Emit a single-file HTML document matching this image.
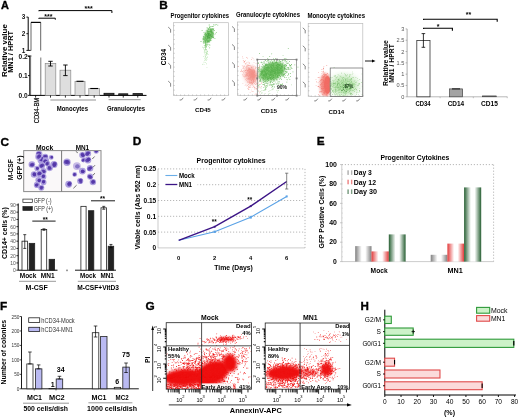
<!DOCTYPE html>
<html><head><meta charset="utf-8"><style>
html,body{margin:0;padding:0;background:#fff;overflow:hidden;}
svg{display:block;filter:blur(0.3px);}
text{font-family:"Liberation Sans",sans-serif;}
</style></head><body>
<svg width="520" height="418" viewBox="0 0 520 418">
<rect width="520" height="418" fill="#fff"/>
<defs><clipPath id="clip0"><rect x="173.6" y="22.7" width="54.80000000000001" height="72.89999999999999"/></clipPath><clipPath id="clip1"><rect x="237.4" y="22.0" width="63.20000000000002" height="73.6"/></clipPath><clipPath id="clip2"><rect x="257.6" y="22.0" width="43.0" height="73.6"/></clipPath><clipPath id="clip3"><rect x="308.2" y="23.4" width="22.0" height="73.1"/></clipPath><clipPath id="clip4"><rect x="329.6" y="23.4" width="33.19999999999999" height="73.1"/></clipPath><clipPath id="clip5"><rect x="24.2" y="151.1" width="76.3" height="40.0"/></clipPath><clipPath id="clip6"><rect x="166.2" y="322.7" width="85.30000000000001" height="66.5"/></clipPath><clipPath id="clip7"><rect x="265.2" y="323.0" width="84.30000000000001" height="66.19999999999999"/></clipPath><filter id="b0_4" x="-50%" y="-50%" width="200%" height="200%"><feGaussianBlur stdDeviation="0.4"/></filter><filter id="b0_6" x="-50%" y="-50%" width="200%" height="200%"><feGaussianBlur stdDeviation="0.6"/></filter><filter id="b0_8" x="-50%" y="-50%" width="200%" height="200%"><feGaussianBlur stdDeviation="0.8"/></filter><filter id="b1" x="-50%" y="-50%" width="200%" height="200%"><feGaussianBlur stdDeviation="1"/></filter><filter id="b1_5" x="-50%" y="-50%" width="200%" height="200%"><feGaussianBlur stdDeviation="1.5"/></filter><filter id="b2" x="-50%" y="-50%" width="200%" height="200%"><feGaussianBlur stdDeviation="2"/></filter><filter id="b3" x="-50%" y="-50%" width="200%" height="200%"><feGaussianBlur stdDeviation="3"/></filter><linearGradient id="gGray" x1="0" x2="1" y1="0" y2="0"><stop offset="0" stop-color="#808080"/><stop offset="0.4" stop-color="#ffffff"/><stop offset="0.62" stop-color="#ffffff"/><stop offset="1" stop-color="#808080"/></linearGradient><linearGradient id="gRed" x1="0" x2="1" y1="0" y2="0"><stop offset="0" stop-color="#e23a3a"/><stop offset="0.4" stop-color="#ffffff"/><stop offset="0.62" stop-color="#ffffff"/><stop offset="1" stop-color="#e23a3a"/></linearGradient><linearGradient id="gGreen" x1="0" x2="1" y1="0" y2="0"><stop offset="0" stop-color="#275f33"/><stop offset="0.4" stop-color="#ffffff"/><stop offset="0.62" stop-color="#ffffff"/><stop offset="1" stop-color="#275f33"/></linearGradient></defs>
<text x="1.0" y="8.9" font-size="11.6" font-weight="bold" text-anchor="start" fill="#000" textLength="7.9" lengthAdjust="spacingAndGlyphs" stroke="#000" stroke-width="0.35">A</text>
<path d="M38.8 11.2V10.6H111.9V13.0" fill="none" stroke="#000" stroke-width="1"/>
<text x="88.6" y="10.8" font-size="7" font-weight="bold" text-anchor="middle" fill="#000">***</text>
<path d="M38.8 18.8V18.2H55.3V19.7" fill="none" stroke="#000" stroke-width="1"/>
<text x="48.3" y="18.7" font-size="7" font-weight="bold" text-anchor="middle" fill="#000">***</text>
<line x1="28.2" y1="17.1" x2="28.2" y2="50.6" stroke="#000" stroke-width="1"/>
<line x1="26.4" y1="17.1" x2="28.2" y2="17.1" stroke="#000" stroke-width="0.9"/>
<text x="25.4" y="19.400000000000002" font-size="6.4" font-weight="bold" text-anchor="end" fill="#111">3</text>
<line x1="26.4" y1="33.7" x2="28.2" y2="33.7" stroke="#000" stroke-width="0.9"/>
<text x="25.4" y="36.0" font-size="6.4" font-weight="bold" text-anchor="end" fill="#111">2</text>
<line x1="26.4" y1="50.4" x2="28.2" y2="50.4" stroke="#000" stroke-width="0.9"/>
<text x="25.4" y="52.699999999999996" font-size="6.4" font-weight="bold" text-anchor="end" fill="#111">1</text>
<line x1="28.2" y1="50.4" x2="30.8" y2="50.4" stroke="#000" stroke-width="0.9"/>
<line x1="29.8" y1="56.0" x2="29.8" y2="95.4" stroke="#000" stroke-width="1"/>
<line x1="27.6" y1="56.0" x2="31.4" y2="56.0" stroke="#000" stroke-width="0.9"/>
<line x1="28" y1="56.3" x2="29.8" y2="56.3" stroke="#000" stroke-width="0.9"/>
<text x="27.8" y="58.599999999999994" font-size="6.4" font-weight="bold" text-anchor="end" fill="#111" textLength="9.2" lengthAdjust="spacingAndGlyphs">0.2</text>
<line x1="28" y1="75.6" x2="29.8" y2="75.6" stroke="#000" stroke-width="0.9"/>
<text x="27.8" y="77.89999999999999" font-size="6.4" font-weight="bold" text-anchor="end" fill="#111" textLength="9.2" lengthAdjust="spacingAndGlyphs">0.1</text>
<line x1="28" y1="95.4" x2="29.8" y2="95.4" stroke="#000" stroke-width="0.9"/>
<text x="27.8" y="97.7" font-size="6.4" font-weight="bold" text-anchor="end" fill="#111" textLength="9.2" lengthAdjust="spacingAndGlyphs">0.0</text>
<path d="M31 50.6V22.4H40.7V50.6" fill="none" stroke="#555" stroke-width="0.9"/>
<line x1="31" y1="22.4" x2="40.7" y2="22.4" stroke="#000" stroke-width="1.1"/>
<path d="M30.6 95.4V56.5M40.8 57.5V95.4" fill="none" stroke="#666" stroke-width="0.9"/>
<line x1="29.8" y1="95.4" x2="146.5" y2="95.4" stroke="#000" stroke-width="1"/>
<rect x="45.2" y="63.5" width="10.599999999999994" height="31.900000000000006" fill="#dedede" stroke="#8a8a8a" stroke-width="0.7"/>
<line x1="50.5" y1="61.3" x2="50.5" y2="66.0" stroke="#000" stroke-width="0.9"/>
<line x1="48.3" y1="61.3" x2="52.7" y2="61.3" stroke="#000" stroke-width="0.9"/>
<line x1="48.3" y1="66.0" x2="52.7" y2="66.0" stroke="#000" stroke-width="0.9"/>
<line x1="50.5" y1="95.4" x2="50.5" y2="97.6" stroke="#000" stroke-width="0.8"/>
<rect x="60.0" y="70.2" width="10.799999999999997" height="25.200000000000003" fill="#dedede" stroke="#8a8a8a" stroke-width="0.7"/>
<line x1="65.4" y1="65.0" x2="65.4" y2="75.6" stroke="#000" stroke-width="0.9"/>
<line x1="63.2" y1="65.0" x2="67.60000000000001" y2="65.0" stroke="#000" stroke-width="0.9"/>
<line x1="63.2" y1="75.6" x2="67.60000000000001" y2="75.6" stroke="#000" stroke-width="0.9"/>
<line x1="65.4" y1="95.4" x2="65.4" y2="97.6" stroke="#000" stroke-width="0.8"/>
<rect x="75.0" y="81.3" width="10.0" height="14.100000000000009" fill="#dedede" stroke="#8a8a8a" stroke-width="0.7"/>
<line x1="76.5" y1="81.3" x2="83.5" y2="81.3" stroke="#000" stroke-width="1.1"/>
<line x1="80.0" y1="95.4" x2="80.0" y2="97.6" stroke="#000" stroke-width="0.8"/>
<rect x="88.8" y="88.5" width="10.799999999999997" height="6.900000000000006" fill="#dedede" stroke="#8a8a8a" stroke-width="0.7"/>
<line x1="90.3" y1="88.5" x2="98.1" y2="88.5" stroke="#000" stroke-width="1.1"/>
<line x1="94.19999999999999" y1="95.4" x2="94.19999999999999" y2="97.6" stroke="#000" stroke-width="0.8"/>
<rect x="104.0" y="93.3" width="10.0" height="2.1000000000000085" fill="#333" stroke="#111" stroke-width="0.8"/>
<line x1="109.0" y1="95.4" x2="109.0" y2="97.6" stroke="#000" stroke-width="0.8"/>
<rect x="118.7" y="93.8" width="9.099999999999994" height="1.6000000000000085" fill="#333" stroke="#111" stroke-width="0.8"/>
<line x1="123.25" y1="95.4" x2="123.25" y2="97.6" stroke="#000" stroke-width="0.8"/>
<rect x="133.0" y="93.6" width="9.5" height="1.8000000000000114" fill="#333" stroke="#111" stroke-width="0.8"/>
<line x1="137.75" y1="95.4" x2="137.75" y2="97.6" stroke="#000" stroke-width="0.8"/>
<line x1="35.6" y1="95.4" x2="35.6" y2="97.6" stroke="#000" stroke-width="0.8"/>
<line x1="50.4" y1="100.0" x2="96.0" y2="100.0" stroke="#666" stroke-width="0.7"/>
<line x1="108.6" y1="99.7" x2="140.7" y2="99.7" stroke="#666" stroke-width="0.7"/>
<text x="56.7" y="110.5" font-size="6.5" font-weight="bold" text-anchor="start" fill="#000" textLength="31.3" lengthAdjust="spacingAndGlyphs">Monocytes</text>
<text x="107.0" y="111.3" font-size="6.5" font-weight="bold" text-anchor="start" fill="#000" textLength="38" lengthAdjust="spacingAndGlyphs">Granulocytes</text>
<text x="39.3" y="123.3" font-size="7.0" font-weight="normal" text-anchor="start" fill="#000" textLength="25.4" lengthAdjust="spacingAndGlyphs" transform="rotate(-90 39.3 123.3)" stroke="#000" stroke-width="0.2">CD34-BM</text>
<text x="7.0" y="77" font-size="7.6" font-weight="bold" text-anchor="start" fill="#000" textLength="52.8" lengthAdjust="spacingAndGlyphs" transform="rotate(-90 7.0 77)">Relative value</text>
<text x="13.4" y="72.8" font-size="7.6" font-weight="bold" text-anchor="start" fill="#000" textLength="41.9" lengthAdjust="spacingAndGlyphs" transform="rotate(-90 13.4 72.8)">MN1 / HPRT</text>
<text x="159.2" y="9.1" font-size="11.8" font-weight="bold" text-anchor="start" fill="#000" stroke="#000" stroke-width="0.35">B</text>
<rect x="173.6" y="22.7" width="54.80000000000001" height="72.89999999999999" fill="#fff" stroke="#bbb" stroke-width="0.7"/>
<path d="M168.2 27.1l2.4 2.2v3.4M168.2 45.1l2.4 2.2v3.4M168.2 63.1l2.4 2.2v3.4M168.2 81.1l2.4 2.2v3.4M183.2 97.8l-1.8 2.2h-1.8M197.2 97.8l-1.8 2.2h-1.8M211.2 97.8l-1.8 2.2h-1.8M225.2 97.8l-1.8 2.2h-1.8" fill="none" stroke="#555" stroke-width="0.7"/>
<path d="M173.6 25.7h1.2M173.6 30.3h1.2M173.6 34.9h1.2M173.6 39.5h1.2M173.6 44.1h1.2M173.6 48.7h1.2M173.6 53.3h1.2M173.6 57.9h1.2M173.6 62.5h1.2M173.6 67.1h1.2M173.6 71.7h1.2M173.6 76.3h1.2M173.6 80.9h1.2M173.6 85.5h1.2M173.6 90.1h1.2M173.6 94.7h1.2M176.6 95.6v-1.2M180.6 95.6v-1.2M184.6 95.6v-1.2M188.6 95.6v-1.2M192.6 95.6v-1.2M196.6 95.6v-1.2M200.6 95.6v-1.2M204.6 95.6v-1.2M208.6 95.6v-1.2M212.6 95.6v-1.2M216.6 95.6v-1.2M220.6 95.6v-1.2M224.6 95.6v-1.2M228.6 95.6v-1.2" fill="none" stroke="#888" stroke-width="0.4"/>
<text x="170.5" y="17.6" font-size="6.3" font-weight="bold" text-anchor="start" fill="#000" textLength="58.5" lengthAdjust="spacingAndGlyphs">Progenitor cytokines</text>
<text x="195.0" y="111.6" font-size="6.2" font-weight="bold" text-anchor="start" fill="#000" textLength="15.8" lengthAdjust="spacingAndGlyphs">CD45</text>
<text x="165.6" y="65.2" font-size="7.2" font-weight="bold" text-anchor="start" fill="#000" textLength="16.3" lengthAdjust="spacingAndGlyphs" transform="rotate(-90 165.6 65.2)">CD34</text>
<g clip-path="url(#clip0)">
<path d="M205.8 51.8h0.7v0.7h-0.7zM205.4 44.7h0.7v0.7h-0.7zM205.1 44.1h0.7v0.7h-0.7zM205.9 58.0h0.7v0.7h-0.7zM205.1 46.3h0.7v0.7h-0.7zM206.5 52.1h0.7v0.7h-0.7zM206.0 44.4h0.7v0.7h-0.7zM205.8 54.2h0.7v0.7h-0.7zM203.8 47.3h0.7v0.7h-0.7zM202.9 42.3h0.7v0.7h-0.7zM203.0 48.6h0.7v0.7h-0.7zM203.9 51.6h0.7v0.7h-0.7zM206.0 48.9h0.7v0.7h-0.7zM202.0 46.8h0.7v0.7h-0.7zM205.7 50.7h0.7v0.7h-0.7zM203.5 47.1h0.7v0.7h-0.7zM204.3 45.1h0.7v0.7h-0.7zM207.4 45.2h0.7v0.7h-0.7zM205.8 55.3h0.7v0.7h-0.7zM204.9 49.3h0.7v0.7h-0.7zM206.0 50.4h0.7v0.7h-0.7zM204.0 50.5h0.7v0.7h-0.7zM207.8 40.7h0.7v0.7h-0.7zM207.1 50.7h0.7v0.7h-0.7zM204.8 62.0h0.7v0.7h-0.7zM206.9 42.8h0.7v0.7h-0.7zM205.9 53.5h0.7v0.7h-0.7zM205.5 54.1h0.7v0.7h-0.7zM205.7 54.0h0.7v0.7h-0.7zM208.0 45.9h0.7v0.7h-0.7zM206.1 47.2h0.7v0.7h-0.7zM206.0 42.9h0.7v0.7h-0.7zM204.9 48.8h0.7v0.7h-0.7zM207.1 56.9h0.7v0.7h-0.7zM203.8 45.2h0.7v0.7h-0.7zM206.8 38.0h0.7v0.7h-0.7zM205.1 49.4h0.7v0.7h-0.7zM207.7 54.1h0.7v0.7h-0.7zM205.3 47.8h0.7v0.7h-0.7zM205.4 59.1h0.7v0.7h-0.7zM205.2 48.2h0.7v0.7h-0.7zM206.3 49.3h0.7v0.7h-0.7zM205.5 43.3h0.7v0.7h-0.7zM205.8 47.3h0.7v0.7h-0.7zM207.5 53.9h0.7v0.7h-0.7zM205.8 54.0h0.7v0.7h-0.7zM205.3 56.3h0.7v0.7h-0.7zM205.8 53.5h0.7v0.7h-0.7zM203.9 52.1h0.7v0.7h-0.7zM203.3 37.8h0.7v0.7h-0.7zM205.3 44.6h0.7v0.7h-0.7zM206.0 63.5h0.7v0.7h-0.7zM204.6 46.3h0.7v0.7h-0.7zM206.1 53.0h0.7v0.7h-0.7zM205.5 48.8h0.7v0.7h-0.7zM206.9 53.1h0.7v0.7h-0.7zM204.2 49.5h0.7v0.7h-0.7zM205.9 43.7h0.7v0.7h-0.7zM206.2 44.9h0.7v0.7h-0.7zM207.3 51.2h0.7v0.7h-0.7z" fill="#a6dc9c" opacity="1.0"/>
<path d="M205.1 57.0h0.7v0.7h-0.7zM204.8 50.0h0.7v0.7h-0.7zM203.5 61.8h0.7v0.7h-0.7zM202.2 64.2h0.7v0.7h-0.7zM202.7 63.8h0.7v0.7h-0.7zM203.9 63.9h0.7v0.7h-0.7zM205.2 52.3h0.7v0.7h-0.7zM206.6 67.2h0.7v0.7h-0.7zM204.9 58.6h0.7v0.7h-0.7zM204.8 55.1h0.7v0.7h-0.7zM206.4 57.3h0.7v0.7h-0.7zM204.9 56.0h0.7v0.7h-0.7zM204.2 53.6h0.7v0.7h-0.7zM206.6 59.2h0.7v0.7h-0.7zM206.3 60.1h0.7v0.7h-0.7zM204.1 58.4h0.7v0.7h-0.7zM204.3 60.0h0.7v0.7h-0.7zM204.5 58.5h0.7v0.7h-0.7zM203.2 56.0h0.7v0.7h-0.7zM207.2 56.6h0.7v0.7h-0.7zM203.6 61.7h0.7v0.7h-0.7zM206.8 52.7h0.7v0.7h-0.7zM204.7 56.8h0.7v0.7h-0.7zM202.7 63.7h0.7v0.7h-0.7zM205.0 60.4h0.7v0.7h-0.7z" fill="#bfe6b8" opacity="1.0"/>
<ellipse cx="208.2" cy="36.0" rx="3.6" ry="7.4" fill="#86ca78" opacity="1.0" transform="rotate(25 208.2 36.0)" filter="url(#b1)"/>
<path d="M205.5 37.2h0.8v0.8h-0.8zM207.2 34.8h0.8v0.8h-0.8zM208.2 29.3h0.8v0.8h-0.8zM212.4 35.2h0.8v0.8h-0.8zM209.0 36.2h0.8v0.8h-0.8zM208.2 33.2h0.8v0.8h-0.8zM210.3 35.3h0.8v0.8h-0.8zM207.8 35.9h0.8v0.8h-0.8zM209.5 40.4h0.8v0.8h-0.8zM210.3 33.9h0.8v0.8h-0.8zM202.9 38.8h0.8v0.8h-0.8zM210.8 36.4h0.8v0.8h-0.8zM207.8 40.1h0.8v0.8h-0.8zM208.2 41.1h0.8v0.8h-0.8zM203.9 42.4h0.8v0.8h-0.8zM203.4 38.5h0.8v0.8h-0.8zM207.5 40.5h0.8v0.8h-0.8zM209.5 44.8h0.8v0.8h-0.8zM209.1 27.1h0.8v0.8h-0.8zM212.3 32.3h0.8v0.8h-0.8zM206.4 39.8h0.8v0.8h-0.8zM208.8 24.6h0.8v0.8h-0.8zM208.7 36.5h0.8v0.8h-0.8zM207.5 35.9h0.8v0.8h-0.8zM209.4 28.2h0.8v0.8h-0.8zM209.9 31.4h0.8v0.8h-0.8zM203.3 36.5h0.8v0.8h-0.8zM207.2 37.8h0.8v0.8h-0.8zM207.3 31.9h0.8v0.8h-0.8zM207.7 30.9h0.8v0.8h-0.8zM210.3 32.7h0.8v0.8h-0.8zM208.3 37.9h0.8v0.8h-0.8zM215.9 31.9h0.8v0.8h-0.8zM210.5 36.6h0.8v0.8h-0.8zM211.2 29.4h0.8v0.8h-0.8zM205.5 38.9h0.8v0.8h-0.8zM207.8 36.3h0.8v0.8h-0.8zM205.1 40.9h0.8v0.8h-0.8zM212.8 26.0h0.8v0.8h-0.8zM210.7 26.3h0.8v0.8h-0.8zM201.7 30.0h0.8v0.8h-0.8zM211.2 37.7h0.8v0.8h-0.8zM207.4 30.4h0.8v0.8h-0.8zM210.5 38.0h0.8v0.8h-0.8zM208.4 35.8h0.8v0.8h-0.8zM206.6 39.7h0.8v0.8h-0.8zM209.0 37.6h0.8v0.8h-0.8zM204.7 37.2h0.8v0.8h-0.8zM204.3 40.2h0.8v0.8h-0.8zM205.5 34.0h0.8v0.8h-0.8zM211.0 30.0h0.8v0.8h-0.8zM209.2 44.5h0.8v0.8h-0.8zM205.5 39.0h0.8v0.8h-0.8zM214.6 24.6h0.8v0.8h-0.8zM208.9 36.0h0.8v0.8h-0.8zM210.7 31.2h0.8v0.8h-0.8zM207.9 34.9h0.8v0.8h-0.8zM210.3 38.8h0.8v0.8h-0.8zM205.0 42.9h0.8v0.8h-0.8zM207.7 33.6h0.8v0.8h-0.8zM200.6 41.1h0.8v0.8h-0.8zM208.5 41.2h0.8v0.8h-0.8zM209.5 37.2h0.8v0.8h-0.8zM209.2 35.1h0.8v0.8h-0.8zM207.6 36.0h0.8v0.8h-0.8zM210.6 40.2h0.8v0.8h-0.8zM209.3 33.3h0.8v0.8h-0.8zM203.3 42.6h0.8v0.8h-0.8zM209.3 36.9h0.8v0.8h-0.8zM209.7 30.6h0.8v0.8h-0.8zM206.2 39.9h0.8v0.8h-0.8zM207.8 34.5h0.8v0.8h-0.8zM207.4 36.3h0.8v0.8h-0.8zM204.9 33.2h0.8v0.8h-0.8zM204.3 39.1h0.8v0.8h-0.8zM205.2 37.8h0.8v0.8h-0.8zM212.5 36.3h0.8v0.8h-0.8zM206.4 36.2h0.8v0.8h-0.8zM210.3 31.5h0.8v0.8h-0.8zM205.0 45.6h0.8v0.8h-0.8zM208.0 34.8h0.8v0.8h-0.8zM205.1 36.3h0.8v0.8h-0.8zM207.6 29.6h0.8v0.8h-0.8zM213.1 33.3h0.8v0.8h-0.8zM207.5 44.1h0.8v0.8h-0.8zM207.6 38.8h0.8v0.8h-0.8zM213.2 37.3h0.8v0.8h-0.8zM209.7 29.2h0.8v0.8h-0.8zM205.2 42.7h0.8v0.8h-0.8zM212.5 32.8h0.8v0.8h-0.8zM207.2 32.8h0.8v0.8h-0.8zM209.3 35.4h0.8v0.8h-0.8zM208.1 37.6h0.8v0.8h-0.8zM207.6 35.5h0.8v0.8h-0.8zM208.9 35.8h0.8v0.8h-0.8zM205.4 45.0h0.8v0.8h-0.8zM209.5 36.9h0.8v0.8h-0.8zM203.4 35.9h0.8v0.8h-0.8zM206.6 27.5h0.8v0.8h-0.8zM208.7 40.1h0.8v0.8h-0.8zM211.5 28.1h0.8v0.8h-0.8zM208.8 32.5h0.8v0.8h-0.8zM204.9 46.9h0.8v0.8h-0.8zM210.4 32.7h0.8v0.8h-0.8zM205.6 34.5h0.8v0.8h-0.8zM210.2 30.6h0.8v0.8h-0.8zM210.9 30.9h0.8v0.8h-0.8zM208.6 42.0h0.8v0.8h-0.8zM211.8 35.0h0.8v0.8h-0.8zM209.7 36.0h0.8v0.8h-0.8zM208.0 34.0h0.8v0.8h-0.8zM208.2 28.0h0.8v0.8h-0.8zM210.5 36.0h0.8v0.8h-0.8zM206.6 40.8h0.8v0.8h-0.8zM205.8 30.5h0.8v0.8h-0.8zM207.8 38.0h0.8v0.8h-0.8zM205.1 40.2h0.8v0.8h-0.8zM211.3 30.7h0.8v0.8h-0.8zM204.3 38.6h0.8v0.8h-0.8zM213.3 27.9h0.8v0.8h-0.8zM210.1 40.2h0.8v0.8h-0.8zM212.2 35.7h0.8v0.8h-0.8zM209.9 30.6h0.8v0.8h-0.8zM214.5 38.0h0.8v0.8h-0.8zM213.3 34.8h0.8v0.8h-0.8zM212.1 28.6h0.8v0.8h-0.8zM205.2 40.0h0.8v0.8h-0.8zM203.0 39.5h0.8v0.8h-0.8zM211.2 31.6h0.8v0.8h-0.8zM208.0 33.4h0.8v0.8h-0.8zM209.2 33.5h0.8v0.8h-0.8zM206.9 33.7h0.8v0.8h-0.8zM208.5 29.0h0.8v0.8h-0.8zM206.2 39.9h0.8v0.8h-0.8zM204.6 34.3h0.8v0.8h-0.8zM208.7 30.9h0.8v0.8h-0.8zM211.3 34.6h0.8v0.8h-0.8zM213.4 34.1h0.8v0.8h-0.8zM209.6 35.4h0.8v0.8h-0.8zM205.2 37.8h0.8v0.8h-0.8zM206.6 38.6h0.8v0.8h-0.8zM210.4 31.0h0.8v0.8h-0.8zM207.8 36.1h0.8v0.8h-0.8zM212.4 32.9h0.8v0.8h-0.8zM211.7 28.2h0.8v0.8h-0.8zM212.0 31.8h0.8v0.8h-0.8zM204.1 33.7h0.8v0.8h-0.8zM214.0 30.3h0.8v0.8h-0.8zM207.2 31.4h0.8v0.8h-0.8zM204.7 36.5h0.8v0.8h-0.8zM207.8 31.8h0.8v0.8h-0.8zM211.2 33.2h0.8v0.8h-0.8zM211.3 32.1h0.8v0.8h-0.8zM209.2 26.4h0.8v0.8h-0.8zM213.3 36.6h0.8v0.8h-0.8zM208.8 36.1h0.8v0.8h-0.8zM208.5 36.4h0.8v0.8h-0.8zM214.9 33.4h0.8v0.8h-0.8zM206.7 29.7h0.8v0.8h-0.8zM203.5 37.9h0.8v0.8h-0.8zM212.2 32.5h0.8v0.8h-0.8zM205.7 32.9h0.8v0.8h-0.8zM217.4 24.8h0.8v0.8h-0.8zM211.7 31.7h0.8v0.8h-0.8zM212.9 32.3h0.8v0.8h-0.8zM210.7 28.9h0.8v0.8h-0.8zM203.0 41.2h0.8v0.8h-0.8zM211.0 35.1h0.8v0.8h-0.8zM210.2 26.5h0.8v0.8h-0.8zM207.3 35.4h0.8v0.8h-0.8zM208.2 35.5h0.8v0.8h-0.8zM205.7 34.5h0.8v0.8h-0.8zM205.4 41.8h0.8v0.8h-0.8zM212.9 37.4h0.8v0.8h-0.8zM206.5 34.9h0.8v0.8h-0.8zM208.3 32.0h0.8v0.8h-0.8zM210.3 31.2h0.8v0.8h-0.8zM209.8 36.2h0.8v0.8h-0.8zM209.2 35.4h0.8v0.8h-0.8zM208.5 30.9h0.8v0.8h-0.8zM208.8 33.3h0.8v0.8h-0.8zM208.8 36.2h0.8v0.8h-0.8zM204.8 34.8h0.8v0.8h-0.8zM206.3 31.7h0.8v0.8h-0.8zM211.9 26.3h0.8v0.8h-0.8zM208.1 36.8h0.8v0.8h-0.8zM208.7 33.9h0.8v0.8h-0.8zM209.4 31.2h0.8v0.8h-0.8zM208.7 33.2h0.8v0.8h-0.8zM211.0 30.6h0.8v0.8h-0.8zM208.5 36.9h0.8v0.8h-0.8zM208.8 33.9h0.8v0.8h-0.8zM213.0 29.1h0.8v0.8h-0.8zM208.8 37.6h0.8v0.8h-0.8zM208.1 38.0h0.8v0.8h-0.8zM207.2 34.1h0.8v0.8h-0.8zM208.8 38.7h0.8v0.8h-0.8zM211.9 29.4h0.8v0.8h-0.8zM207.0 41.9h0.8v0.8h-0.8zM210.1 38.2h0.8v0.8h-0.8zM202.5 38.6h0.8v0.8h-0.8zM213.2 24.4h0.8v0.8h-0.8zM212.2 29.7h0.8v0.8h-0.8zM206.5 31.7h0.8v0.8h-0.8zM212.0 35.7h0.8v0.8h-0.8zM205.1 44.2h0.8v0.8h-0.8zM212.2 37.3h0.8v0.8h-0.8zM210.3 30.0h0.8v0.8h-0.8zM205.7 37.2h0.8v0.8h-0.8zM208.9 36.9h0.8v0.8h-0.8zM212.2 33.6h0.8v0.8h-0.8zM206.5 39.3h0.8v0.8h-0.8zM207.3 41.5h0.8v0.8h-0.8zM209.8 35.0h0.8v0.8h-0.8zM211.2 31.9h0.8v0.8h-0.8zM203.1 36.8h0.8v0.8h-0.8zM207.4 37.3h0.8v0.8h-0.8zM205.0 32.5h0.8v0.8h-0.8zM208.6 31.4h0.8v0.8h-0.8zM203.6 32.0h0.8v0.8h-0.8zM209.5 38.7h0.8v0.8h-0.8zM206.8 35.3h0.8v0.8h-0.8zM215.8 24.3h0.8v0.8h-0.8zM206.8 38.3h0.8v0.8h-0.8zM206.2 44.5h0.8v0.8h-0.8zM210.2 38.7h0.8v0.8h-0.8zM207.2 39.9h0.8v0.8h-0.8zM207.0 35.2h0.8v0.8h-0.8zM206.2 45.9h0.8v0.8h-0.8zM207.9 35.6h0.8v0.8h-0.8zM205.8 42.3h0.8v0.8h-0.8zM205.0 42.6h0.8v0.8h-0.8zM206.3 34.1h0.8v0.8h-0.8zM206.1 39.3h0.8v0.8h-0.8zM213.9 30.3h0.8v0.8h-0.8zM205.3 36.5h0.8v0.8h-0.8zM209.9 28.4h0.8v0.8h-0.8zM209.6 39.4h0.8v0.8h-0.8zM210.4 34.4h0.8v0.8h-0.8zM211.1 36.0h0.8v0.8h-0.8zM212.7 33.1h0.8v0.8h-0.8zM205.8 36.0h0.8v0.8h-0.8zM205.1 38.3h0.8v0.8h-0.8zM210.8 32.1h0.8v0.8h-0.8zM209.1 34.5h0.8v0.8h-0.8zM211.7 34.1h0.8v0.8h-0.8zM204.6 41.0h0.8v0.8h-0.8zM209.3 47.5h0.8v0.8h-0.8zM207.9 37.1h0.8v0.8h-0.8zM212.1 37.1h0.8v0.8h-0.8zM205.7 35.5h0.8v0.8h-0.8zM211.0 32.7h0.8v0.8h-0.8zM207.4 27.7h0.8v0.8h-0.8zM211.4 33.3h0.8v0.8h-0.8zM207.4 36.8h0.8v0.8h-0.8zM210.4 35.2h0.8v0.8h-0.8zM211.3 32.5h0.8v0.8h-0.8zM209.5 31.0h0.8v0.8h-0.8zM210.9 37.1h0.8v0.8h-0.8zM207.2 33.6h0.8v0.8h-0.8z" fill="#68bb5e" opacity="1.0"/>
<path d="M207.3 36.8h0.7v0.7h-0.7zM207.6 31.2h0.7v0.7h-0.7zM204.8 41.6h0.7v0.7h-0.7zM209.9 35.3h0.7v0.7h-0.7zM206.9 41.0h0.7v0.7h-0.7zM208.6 33.9h0.7v0.7h-0.7zM209.5 37.1h0.7v0.7h-0.7zM210.1 34.0h0.7v0.7h-0.7zM208.9 40.9h0.7v0.7h-0.7zM208.4 37.2h0.7v0.7h-0.7zM204.9 35.4h0.7v0.7h-0.7zM207.7 36.1h0.7v0.7h-0.7zM209.9 34.5h0.7v0.7h-0.7zM205.7 34.9h0.7v0.7h-0.7zM207.9 33.6h0.7v0.7h-0.7zM208.1 33.7h0.7v0.7h-0.7zM203.8 36.8h0.7v0.7h-0.7zM207.4 38.2h0.7v0.7h-0.7zM211.2 36.3h0.7v0.7h-0.7zM207.2 31.4h0.7v0.7h-0.7zM207.5 32.9h0.7v0.7h-0.7zM211.1 29.6h0.7v0.7h-0.7zM210.9 31.1h0.7v0.7h-0.7zM209.0 34.9h0.7v0.7h-0.7zM208.2 34.6h0.7v0.7h-0.7zM208.5 33.0h0.7v0.7h-0.7zM206.2 33.9h0.7v0.7h-0.7zM208.5 41.6h0.7v0.7h-0.7zM209.4 37.8h0.7v0.7h-0.7zM205.8 38.5h0.7v0.7h-0.7zM208.5 34.8h0.7v0.7h-0.7zM208.0 35.1h0.7v0.7h-0.7zM208.0 34.5h0.7v0.7h-0.7zM207.5 33.3h0.7v0.7h-0.7zM211.7 36.3h0.7v0.7h-0.7zM207.5 36.3h0.7v0.7h-0.7zM210.9 32.4h0.7v0.7h-0.7zM207.1 37.4h0.7v0.7h-0.7zM208.7 35.5h0.7v0.7h-0.7zM211.5 34.1h0.7v0.7h-0.7zM209.3 33.6h0.7v0.7h-0.7zM213.0 30.6h0.7v0.7h-0.7zM208.3 33.1h0.7v0.7h-0.7zM208.6 37.1h0.7v0.7h-0.7zM212.4 31.6h0.7v0.7h-0.7zM209.9 34.7h0.7v0.7h-0.7zM206.9 36.0h0.7v0.7h-0.7zM209.9 28.8h0.7v0.7h-0.7zM209.9 30.7h0.7v0.7h-0.7zM207.1 35.6h0.7v0.7h-0.7z" fill="#4aa442" opacity="1.0"/>
</g>
<rect x="237.4" y="22.0" width="63.20000000000002" height="73.6" fill="#fff" stroke="#bbb" stroke-width="0.7"/>
<path d="M232.0 26.4l2.4 2.2v3.4M232.0 44.4l2.4 2.2v3.4M232.0 62.4l2.4 2.2v3.4M232.0 80.4l2.4 2.2v3.4M247.0 97.8l-1.8 2.2h-1.8M261.0 97.8l-1.8 2.2h-1.8M275.0 97.8l-1.8 2.2h-1.8M289.0 97.8l-1.8 2.2h-1.8" fill="none" stroke="#555" stroke-width="0.7"/>
<path d="M237.4 25.0h1.2M237.4 29.6h1.2M237.4 34.2h1.2M237.4 38.8h1.2M237.4 43.4h1.2M237.4 48.0h1.2M237.4 52.6h1.2M237.4 57.2h1.2M237.4 61.8h1.2M237.4 66.4h1.2M237.4 71.0h1.2M237.4 75.6h1.2M237.4 80.2h1.2M237.4 84.8h1.2M237.4 89.4h1.2M237.4 94.0h1.2M240.4 95.6v-1.2M244.4 95.6v-1.2M248.4 95.6v-1.2M252.4 95.6v-1.2M256.4 95.6v-1.2M260.4 95.6v-1.2M264.4 95.6v-1.2M268.4 95.6v-1.2M272.4 95.6v-1.2M276.4 95.6v-1.2M280.4 95.6v-1.2M284.4 95.6v-1.2M288.4 95.6v-1.2M292.4 95.6v-1.2" fill="none" stroke="#888" stroke-width="0.4"/>
<text x="236.0" y="17.3" font-size="6.3" font-weight="bold" text-anchor="start" fill="#000" textLength="64.0" lengthAdjust="spacingAndGlyphs">Granulocyte cytokines</text>
<text x="260.8" y="112.8" font-size="6.2" font-weight="bold" text-anchor="start" fill="#000" textLength="16.2" lengthAdjust="spacingAndGlyphs">CD15</text>
<g clip-path="url(#clip1)">
<ellipse cx="250.5" cy="75.5" rx="5.5" ry="9" fill="#f5a29a" opacity="0.9" transform="rotate(-15 250.5 75.5)" filter="url(#b2)"/>
<ellipse cx="253" cy="74" rx="3" ry="6" fill="#f2837a" opacity="0.8" transform="rotate(-15 253 74)" filter="url(#b1_5)"/>
<path d="M254.8 87.2h0.6v0.6h-0.6zM246.7 65.1h0.6v0.6h-0.6zM245.6 70.2h0.6v0.6h-0.6zM246.4 80.5h0.6v0.6h-0.6zM244.0 62.4h0.6v0.6h-0.6zM253.1 74.4h0.6v0.6h-0.6zM252.2 76.4h0.6v0.6h-0.6zM253.1 75.6h0.6v0.6h-0.6zM256.3 77.7h0.6v0.6h-0.6zM252.9 78.5h0.6v0.6h-0.6zM244.3 76.4h0.6v0.6h-0.6zM249.9 77.8h0.6v0.6h-0.6zM248.2 89.3h0.6v0.6h-0.6zM248.6 67.1h0.6v0.6h-0.6zM243.0 75.8h0.6v0.6h-0.6zM248.7 70.9h0.6v0.6h-0.6zM249.6 71.3h0.6v0.6h-0.6zM251.3 70.2h0.6v0.6h-0.6zM252.2 83.1h0.6v0.6h-0.6zM259.0 65.9h0.6v0.6h-0.6zM247.0 70.4h0.6v0.6h-0.6zM251.5 66.8h0.6v0.6h-0.6zM248.5 76.3h0.6v0.6h-0.6zM244.7 70.1h0.6v0.6h-0.6zM244.5 61.3h0.6v0.6h-0.6zM243.8 74.6h0.6v0.6h-0.6zM250.7 74.5h0.6v0.6h-0.6zM242.4 74.6h0.6v0.6h-0.6zM254.8 79.2h0.6v0.6h-0.6zM248.5 69.7h0.6v0.6h-0.6zM251.9 71.1h0.6v0.6h-0.6zM244.2 71.5h0.6v0.6h-0.6zM256.8 76.0h0.6v0.6h-0.6zM254.3 71.3h0.6v0.6h-0.6zM253.1 70.6h0.6v0.6h-0.6zM254.7 94.2h0.6v0.6h-0.6zM252.6 71.5h0.6v0.6h-0.6zM250.8 78.5h0.6v0.6h-0.6zM254.5 71.1h0.6v0.6h-0.6zM242.9 75.9h0.6v0.6h-0.6zM250.8 76.8h0.6v0.6h-0.6zM256.5 76.9h0.6v0.6h-0.6zM251.7 67.1h0.6v0.6h-0.6zM258.1 90.2h0.6v0.6h-0.6zM254.1 77.0h0.6v0.6h-0.6zM254.6 88.8h0.6v0.6h-0.6zM246.5 76.2h0.6v0.6h-0.6zM253.8 80.9h0.6v0.6h-0.6zM249.3 78.7h0.6v0.6h-0.6zM249.6 77.2h0.6v0.6h-0.6zM247.7 67.9h0.6v0.6h-0.6zM252.1 82.4h0.6v0.6h-0.6zM246.1 75.3h0.6v0.6h-0.6zM251.1 67.5h0.6v0.6h-0.6zM249.2 68.1h0.6v0.6h-0.6zM259.6 91.5h0.6v0.6h-0.6zM258.3 72.2h0.6v0.6h-0.6zM253.7 76.1h0.6v0.6h-0.6zM253.9 87.1h0.6v0.6h-0.6zM247.2 85.1h0.6v0.6h-0.6zM253.0 86.3h0.6v0.6h-0.6zM250.0 70.9h0.6v0.6h-0.6zM253.1 81.0h0.6v0.6h-0.6zM251.6 79.5h0.6v0.6h-0.6zM244.2 61.1h0.6v0.6h-0.6zM255.5 80.1h0.6v0.6h-0.6zM251.2 76.3h0.6v0.6h-0.6zM253.8 71.6h0.6v0.6h-0.6zM247.3 75.4h0.6v0.6h-0.6zM252.6 64.7h0.6v0.6h-0.6zM254.1 70.1h0.6v0.6h-0.6zM248.5 86.3h0.6v0.6h-0.6zM247.6 66.7h0.6v0.6h-0.6zM250.9 83.1h0.6v0.6h-0.6zM254.5 71.6h0.6v0.6h-0.6zM253.5 80.7h0.6v0.6h-0.6zM248.6 79.3h0.6v0.6h-0.6zM249.3 72.2h0.6v0.6h-0.6zM248.6 77.0h0.6v0.6h-0.6zM249.5 71.9h0.6v0.6h-0.6zM250.9 84.5h0.6v0.6h-0.6zM253.1 82.2h0.6v0.6h-0.6zM256.5 79.0h0.6v0.6h-0.6zM258.1 67.6h0.6v0.6h-0.6zM253.2 72.8h0.6v0.6h-0.6zM261.3 86.3h0.6v0.6h-0.6zM240.7 71.1h0.6v0.6h-0.6zM254.7 81.0h0.6v0.6h-0.6zM253.4 74.7h0.6v0.6h-0.6zM253.6 80.2h0.6v0.6h-0.6zM252.2 83.5h0.6v0.6h-0.6zM242.6 83.0h0.6v0.6h-0.6zM248.2 84.1h0.6v0.6h-0.6zM247.8 69.8h0.6v0.6h-0.6zM250.2 69.0h0.6v0.6h-0.6zM243.8 65.6h0.6v0.6h-0.6zM251.4 79.6h0.6v0.6h-0.6zM254.4 73.9h0.6v0.6h-0.6zM254.8 75.0h0.6v0.6h-0.6zM251.2 80.3h0.6v0.6h-0.6zM254.1 72.4h0.6v0.6h-0.6zM249.2 75.1h0.6v0.6h-0.6zM249.1 69.4h0.6v0.6h-0.6zM253.9 72.0h0.6v0.6h-0.6zM250.8 69.5h0.6v0.6h-0.6zM252.7 78.4h0.6v0.6h-0.6zM252.7 91.1h0.6v0.6h-0.6zM255.5 88.5h0.6v0.6h-0.6zM253.1 70.2h0.6v0.6h-0.6zM249.8 79.6h0.6v0.6h-0.6zM250.8 76.3h0.6v0.6h-0.6zM245.8 63.2h0.6v0.6h-0.6zM245.3 60.2h0.6v0.6h-0.6zM250.6 70.3h0.6v0.6h-0.6zM247.2 75.2h0.6v0.6h-0.6zM248.8 65.3h0.6v0.6h-0.6zM241.3 70.2h0.6v0.6h-0.6zM240.3 71.2h0.6v0.6h-0.6zM254.9 66.6h0.6v0.6h-0.6zM250.5 65.4h0.6v0.6h-0.6zM251.1 73.4h0.6v0.6h-0.6zM251.4 80.2h0.6v0.6h-0.6zM258.0 75.5h0.6v0.6h-0.6zM249.1 68.8h0.6v0.6h-0.6zM252.4 73.6h0.6v0.6h-0.6zM253.8 74.8h0.6v0.6h-0.6zM253.7 59.7h0.6v0.6h-0.6zM251.0 82.7h0.6v0.6h-0.6zM247.5 70.6h0.6v0.6h-0.6zM246.7 66.3h0.6v0.6h-0.6zM255.7 93.6h0.6v0.6h-0.6zM253.0 66.7h0.6v0.6h-0.6zM246.2 74.0h0.6v0.6h-0.6zM253.0 69.0h0.6v0.6h-0.6zM249.4 83.2h0.6v0.6h-0.6zM253.3 72.4h0.6v0.6h-0.6zM243.0 66.0h0.6v0.6h-0.6zM243.3 60.6h0.6v0.6h-0.6zM252.3 70.6h0.6v0.6h-0.6zM256.1 89.0h0.6v0.6h-0.6zM253.0 66.4h0.6v0.6h-0.6zM256.3 83.4h0.6v0.6h-0.6zM245.6 69.9h0.6v0.6h-0.6zM246.9 64.5h0.6v0.6h-0.6zM251.8 57.0h0.6v0.6h-0.6zM245.5 75.3h0.6v0.6h-0.6zM249.9 77.5h0.6v0.6h-0.6zM251.2 74.2h0.6v0.6h-0.6zM251.0 59.3h0.6v0.6h-0.6zM249.1 70.8h0.6v0.6h-0.6zM251.5 77.5h0.6v0.6h-0.6zM245.6 72.3h0.6v0.6h-0.6zM254.4 77.7h0.6v0.6h-0.6zM251.7 91.5h0.6v0.6h-0.6zM257.0 62.9h0.6v0.6h-0.6zM256.6 93.8h0.6v0.6h-0.6zM254.1 76.7h0.6v0.6h-0.6zM248.6 72.3h0.6v0.6h-0.6zM248.6 72.2h0.6v0.6h-0.6zM252.7 72.3h0.6v0.6h-0.6zM246.4 67.8h0.6v0.6h-0.6zM248.6 69.6h0.6v0.6h-0.6zM251.8 83.7h0.6v0.6h-0.6zM253.0 79.3h0.6v0.6h-0.6zM252.1 76.0h0.6v0.6h-0.6zM249.4 73.9h0.6v0.6h-0.6zM251.5 67.3h0.6v0.6h-0.6zM256.0 74.8h0.6v0.6h-0.6zM246.5 73.3h0.6v0.6h-0.6zM248.1 77.9h0.6v0.6h-0.6zM249.8 85.1h0.6v0.6h-0.6zM242.9 60.4h0.6v0.6h-0.6zM243.6 62.2h0.6v0.6h-0.6zM252.4 83.7h0.6v0.6h-0.6zM250.5 65.6h0.6v0.6h-0.6zM250.9 89.7h0.6v0.6h-0.6zM251.8 75.7h0.6v0.6h-0.6zM259.5 92.6h0.6v0.6h-0.6zM256.0 75.6h0.6v0.6h-0.6zM253.1 80.1h0.6v0.6h-0.6zM246.0 69.0h0.6v0.6h-0.6zM248.9 69.1h0.6v0.6h-0.6zM250.4 76.8h0.6v0.6h-0.6zM258.3 67.3h0.6v0.6h-0.6zM249.7 74.9h0.6v0.6h-0.6zM254.3 83.1h0.6v0.6h-0.6zM246.9 70.6h0.6v0.6h-0.6zM242.0 71.1h0.6v0.6h-0.6zM252.8 75.7h0.6v0.6h-0.6zM245.7 74.4h0.6v0.6h-0.6zM251.6 79.6h0.6v0.6h-0.6zM247.6 74.8h0.6v0.6h-0.6zM240.9 69.6h0.6v0.6h-0.6zM252.8 58.4h0.6v0.6h-0.6zM249.6 78.0h0.6v0.6h-0.6zM247.4 70.6h0.6v0.6h-0.6zM250.2 76.0h0.6v0.6h-0.6zM246.5 62.5h0.6v0.6h-0.6zM248.2 70.0h0.6v0.6h-0.6zM248.7 78.2h0.6v0.6h-0.6zM254.8 81.8h0.6v0.6h-0.6zM250.3 83.2h0.6v0.6h-0.6zM257.5 83.0h0.6v0.6h-0.6zM255.9 73.4h0.6v0.6h-0.6zM251.4 82.2h0.6v0.6h-0.6zM245.4 79.0h0.6v0.6h-0.6zM247.6 73.9h0.6v0.6h-0.6zM241.7 71.4h0.6v0.6h-0.6zM252.1 82.5h0.6v0.6h-0.6zM254.4 74.3h0.6v0.6h-0.6zM248.1 70.2h0.6v0.6h-0.6zM251.7 73.8h0.6v0.6h-0.6zM256.4 88.0h0.6v0.6h-0.6zM247.5 65.2h0.6v0.6h-0.6zM244.2 66.4h0.6v0.6h-0.6zM248.2 86.8h0.6v0.6h-0.6zM248.5 64.7h0.6v0.6h-0.6zM255.6 84.4h0.6v0.6h-0.6zM247.7 71.5h0.6v0.6h-0.6zM249.7 78.4h0.6v0.6h-0.6zM255.4 83.9h0.6v0.6h-0.6zM257.7 83.3h0.6v0.6h-0.6zM257.3 79.3h0.6v0.6h-0.6zM244.0 76.7h0.6v0.6h-0.6zM251.0 72.9h0.6v0.6h-0.6zM253.5 72.4h0.6v0.6h-0.6zM249.5 87.5h0.6v0.6h-0.6zM253.6 76.9h0.6v0.6h-0.6zM256.3 82.7h0.6v0.6h-0.6zM247.1 57.8h0.6v0.6h-0.6zM246.9 73.4h0.6v0.6h-0.6zM246.9 78.5h0.6v0.6h-0.6zM254.4 71.2h0.6v0.6h-0.6zM249.8 91.9h0.6v0.6h-0.6zM246.3 67.6h0.6v0.6h-0.6zM252.3 78.8h0.6v0.6h-0.6zM249.2 82.5h0.6v0.6h-0.6zM246.7 69.8h0.6v0.6h-0.6zM252.7 81.4h0.6v0.6h-0.6zM248.6 79.1h0.6v0.6h-0.6zM255.6 96.6h0.6v0.6h-0.6zM250.3 86.8h0.6v0.6h-0.6zM250.0 75.1h0.6v0.6h-0.6zM255.2 81.7h0.6v0.6h-0.6zM256.3 77.0h0.6v0.6h-0.6zM247.0 72.8h0.6v0.6h-0.6zM253.7 79.7h0.6v0.6h-0.6zM257.0 77.5h0.6v0.6h-0.6zM257.7 85.8h0.6v0.6h-0.6zM248.3 65.1h0.6v0.6h-0.6zM242.9 66.9h0.6v0.6h-0.6zM255.3 68.1h0.6v0.6h-0.6zM256.6 78.9h0.6v0.6h-0.6zM259.4 81.4h0.6v0.6h-0.6zM249.7 74.7h0.6v0.6h-0.6zM251.2 77.2h0.6v0.6h-0.6zM248.3 76.3h0.6v0.6h-0.6zM253.7 61.9h0.6v0.6h-0.6zM249.8 69.1h0.6v0.6h-0.6zM252.9 81.9h0.6v0.6h-0.6zM251.8 81.7h0.6v0.6h-0.6zM246.2 85.7h0.6v0.6h-0.6zM249.3 81.2h0.6v0.6h-0.6zM246.2 57.1h0.6v0.6h-0.6zM247.9 78.4h0.6v0.6h-0.6zM257.4 76.4h0.6v0.6h-0.6zM248.8 65.5h0.6v0.6h-0.6zM259.8 87.5h0.6v0.6h-0.6zM250.2 74.4h0.6v0.6h-0.6zM245.6 84.2h0.6v0.6h-0.6zM262.9 78.3h0.6v0.6h-0.6zM256.7 78.6h0.6v0.6h-0.6zM249.1 86.8h0.6v0.6h-0.6zM245.1 75.8h0.6v0.6h-0.6zM253.3 82.1h0.6v0.6h-0.6zM252.9 78.4h0.6v0.6h-0.6zM244.9 67.5h0.6v0.6h-0.6zM249.4 70.8h0.6v0.6h-0.6zM242.7 68.3h0.6v0.6h-0.6zM244.9 63.1h0.6v0.6h-0.6zM241.9 65.6h0.6v0.6h-0.6zM252.0 78.8h0.6v0.6h-0.6zM255.7 63.0h0.6v0.6h-0.6zM249.5 83.4h0.6v0.6h-0.6zM249.0 73.9h0.6v0.6h-0.6zM256.8 71.7h0.6v0.6h-0.6zM243.3 67.7h0.6v0.6h-0.6zM252.5 77.8h0.6v0.6h-0.6zM243.0 70.4h0.6v0.6h-0.6zM253.8 79.6h0.6v0.6h-0.6zM249.1 81.2h0.6v0.6h-0.6zM249.4 62.5h0.6v0.6h-0.6zM250.0 79.3h0.6v0.6h-0.6zM244.0 61.1h0.6v0.6h-0.6zM250.8 81.8h0.6v0.6h-0.6zM252.7 58.4h0.6v0.6h-0.6zM258.9 65.0h0.6v0.6h-0.6zM256.8 83.9h0.6v0.6h-0.6zM254.8 76.0h0.6v0.6h-0.6zM247.0 81.8h0.6v0.6h-0.6zM242.7 58.5h0.6v0.6h-0.6zM263.4 78.1h0.6v0.6h-0.6zM256.1 67.4h0.6v0.6h-0.6zM259.5 85.9h0.6v0.6h-0.6zM256.8 74.2h0.6v0.6h-0.6zM245.3 76.0h0.6v0.6h-0.6zM238.3 66.1h0.6v0.6h-0.6zM248.9 68.7h0.6v0.6h-0.6zM249.6 75.4h0.6v0.6h-0.6zM260.9 83.3h0.6v0.6h-0.6zM252.7 84.8h0.6v0.6h-0.6zM246.7 74.4h0.6v0.6h-0.6zM251.8 66.0h0.6v0.6h-0.6zM246.8 66.7h0.6v0.6h-0.6zM254.1 87.7h0.6v0.6h-0.6zM247.9 78.5h0.6v0.6h-0.6zM244.6 68.6h0.6v0.6h-0.6zM248.3 87.9h0.6v0.6h-0.6zM261.0 76.9h0.6v0.6h-0.6zM249.0 81.9h0.6v0.6h-0.6zM250.7 82.2h0.6v0.6h-0.6zM252.2 77.7h0.6v0.6h-0.6zM251.8 71.1h0.6v0.6h-0.6zM245.5 64.0h0.6v0.6h-0.6zM245.9 66.2h0.6v0.6h-0.6zM248.1 69.2h0.6v0.6h-0.6zM251.8 79.2h0.6v0.6h-0.6zM243.2 71.7h0.6v0.6h-0.6zM248.1 82.4h0.6v0.6h-0.6zM259.1 80.3h0.6v0.6h-0.6zM251.9 87.0h0.6v0.6h-0.6zM247.3 88.5h0.6v0.6h-0.6zM242.4 56.6h0.6v0.6h-0.6zM264.3 84.6h0.6v0.6h-0.6zM246.6 78.3h0.6v0.6h-0.6zM249.8 77.0h0.6v0.6h-0.6zM243.2 72.7h0.6v0.6h-0.6zM252.8 77.1h0.6v0.6h-0.6zM255.5 75.3h0.6v0.6h-0.6zM258.6 68.3h0.6v0.6h-0.6zM247.8 61.8h0.6v0.6h-0.6zM248.0 87.0h0.6v0.6h-0.6zM247.7 80.9h0.6v0.6h-0.6zM248.2 68.5h0.6v0.6h-0.6zM248.1 72.7h0.6v0.6h-0.6zM250.0 82.0h0.6v0.6h-0.6zM252.0 71.1h0.6v0.6h-0.6zM247.4 79.0h0.6v0.6h-0.6zM252.1 83.6h0.6v0.6h-0.6zM262.9 79.2h0.6v0.6h-0.6zM250.0 74.8h0.6v0.6h-0.6zM245.3 70.4h0.6v0.6h-0.6zM245.7 74.2h0.6v0.6h-0.6zM250.2 81.9h0.6v0.6h-0.6zM248.5 75.0h0.6v0.6h-0.6zM248.7 89.2h0.6v0.6h-0.6zM256.0 88.4h0.6v0.6h-0.6zM256.6 85.9h0.6v0.6h-0.6zM250.9 81.5h0.6v0.6h-0.6zM259.1 64.2h0.6v0.6h-0.6zM258.6 87.0h0.6v0.6h-0.6zM253.7 81.1h0.6v0.6h-0.6zM254.4 69.8h0.6v0.6h-0.6zM250.5 69.1h0.6v0.6h-0.6zM246.5 72.2h0.6v0.6h-0.6zM250.2 77.2h0.6v0.6h-0.6zM249.6 65.0h0.6v0.6h-0.6zM261.0 82.4h0.6v0.6h-0.6zM252.8 72.5h0.6v0.6h-0.6zM251.2 80.2h0.6v0.6h-0.6zM248.9 63.1h0.6v0.6h-0.6zM259.4 96.8h0.6v0.6h-0.6zM244.8 85.4h0.6v0.6h-0.6zM251.8 74.8h0.6v0.6h-0.6zM253.9 65.7h0.6v0.6h-0.6zM254.1 86.7h0.6v0.6h-0.6zM248.8 73.1h0.6v0.6h-0.6zM250.1 72.6h0.6v0.6h-0.6zM255.1 67.5h0.6v0.6h-0.6zM251.6 65.7h0.6v0.6h-0.6z" fill="#f29088" opacity="1.0"/>
</g>
<g clip-path="url(#clip2)">
<ellipse cx="272" cy="71.5" rx="13.5" ry="8.5" fill="#74c266" opacity="1.0" transform="rotate(-22 272 71.5)" filter="url(#b1_5)"/>
<path d="M277.5 68.6h0.7v0.7h-0.7zM249.8 80.4h0.7v0.7h-0.7zM261.8 72.7h0.7v0.7h-0.7zM282.6 59.8h0.7v0.7h-0.7zM266.2 83.4h0.7v0.7h-0.7zM276.6 79.9h0.7v0.7h-0.7zM272.7 65.3h0.7v0.7h-0.7zM274.3 78.8h0.7v0.7h-0.7zM280.1 68.2h0.7v0.7h-0.7zM272.2 70.7h0.7v0.7h-0.7zM271.5 84.6h0.7v0.7h-0.7zM269.4 65.0h0.7v0.7h-0.7zM269.6 77.3h0.7v0.7h-0.7zM277.2 68.5h0.7v0.7h-0.7zM266.3 74.0h0.7v0.7h-0.7zM254.6 69.9h0.7v0.7h-0.7zM277.7 66.0h0.7v0.7h-0.7zM278.0 77.2h0.7v0.7h-0.7zM277.6 69.4h0.7v0.7h-0.7zM291.8 67.9h0.7v0.7h-0.7zM270.7 76.9h0.7v0.7h-0.7zM273.5 65.2h0.7v0.7h-0.7zM272.2 70.3h0.7v0.7h-0.7zM254.7 77.3h0.7v0.7h-0.7zM268.6 70.0h0.7v0.7h-0.7zM257.1 75.2h0.7v0.7h-0.7zM271.9 72.2h0.7v0.7h-0.7zM263.7 79.1h0.7v0.7h-0.7zM261.1 74.4h0.7v0.7h-0.7zM281.6 63.0h0.7v0.7h-0.7zM270.1 79.4h0.7v0.7h-0.7zM268.0 71.1h0.7v0.7h-0.7zM276.3 76.7h0.7v0.7h-0.7zM251.2 74.4h0.7v0.7h-0.7zM260.9 68.8h0.7v0.7h-0.7zM262.7 69.7h0.7v0.7h-0.7zM272.5 65.4h0.7v0.7h-0.7zM274.0 73.4h0.7v0.7h-0.7zM266.1 74.8h0.7v0.7h-0.7zM286.7 67.7h0.7v0.7h-0.7zM266.4 73.3h0.7v0.7h-0.7zM264.8 76.2h0.7v0.7h-0.7zM277.5 63.9h0.7v0.7h-0.7zM272.8 78.5h0.7v0.7h-0.7zM268.2 74.3h0.7v0.7h-0.7zM261.4 70.4h0.7v0.7h-0.7zM272.5 85.4h0.7v0.7h-0.7zM267.4 69.9h0.7v0.7h-0.7zM266.9 72.5h0.7v0.7h-0.7zM277.9 70.3h0.7v0.7h-0.7zM289.7 65.8h0.7v0.7h-0.7zM284.7 68.2h0.7v0.7h-0.7zM273.8 61.4h0.7v0.7h-0.7zM270.8 71.5h0.7v0.7h-0.7zM265.1 60.3h0.7v0.7h-0.7zM278.5 66.4h0.7v0.7h-0.7zM267.8 71.6h0.7v0.7h-0.7zM271.0 74.5h0.7v0.7h-0.7zM259.3 70.6h0.7v0.7h-0.7zM274.8 71.3h0.7v0.7h-0.7zM267.6 69.6h0.7v0.7h-0.7zM264.9 74.0h0.7v0.7h-0.7zM279.5 61.6h0.7v0.7h-0.7zM286.6 71.1h0.7v0.7h-0.7zM270.0 77.4h0.7v0.7h-0.7zM255.9 66.8h0.7v0.7h-0.7zM260.3 73.6h0.7v0.7h-0.7zM268.1 69.7h0.7v0.7h-0.7zM268.0 59.3h0.7v0.7h-0.7zM272.9 61.9h0.7v0.7h-0.7zM265.6 71.4h0.7v0.7h-0.7zM259.3 67.8h0.7v0.7h-0.7zM263.6 74.8h0.7v0.7h-0.7zM278.2 72.6h0.7v0.7h-0.7zM261.9 70.4h0.7v0.7h-0.7zM265.3 77.1h0.7v0.7h-0.7zM257.8 85.3h0.7v0.7h-0.7zM266.2 68.8h0.7v0.7h-0.7zM277.2 76.1h0.7v0.7h-0.7zM277.2 76.2h0.7v0.7h-0.7zM275.9 77.9h0.7v0.7h-0.7zM282.2 66.7h0.7v0.7h-0.7zM284.4 67.6h0.7v0.7h-0.7zM270.7 66.1h0.7v0.7h-0.7zM271.3 76.8h0.7v0.7h-0.7zM262.5 79.5h0.7v0.7h-0.7zM275.5 71.9h0.7v0.7h-0.7zM253.4 78.4h0.7v0.7h-0.7zM275.7 65.1h0.7v0.7h-0.7zM267.4 58.0h0.7v0.7h-0.7zM276.1 65.6h0.7v0.7h-0.7zM275.1 58.3h0.7v0.7h-0.7zM277.2 67.8h0.7v0.7h-0.7zM276.7 63.6h0.7v0.7h-0.7zM271.9 86.1h0.7v0.7h-0.7zM263.5 70.4h0.7v0.7h-0.7zM267.4 66.7h0.7v0.7h-0.7zM285.8 77.1h0.7v0.7h-0.7zM262.2 64.3h0.7v0.7h-0.7zM284.3 73.7h0.7v0.7h-0.7zM281.5 75.2h0.7v0.7h-0.7zM264.4 73.5h0.7v0.7h-0.7zM257.3 68.3h0.7v0.7h-0.7zM278.7 64.5h0.7v0.7h-0.7zM291.2 64.2h0.7v0.7h-0.7zM268.4 78.1h0.7v0.7h-0.7zM288.1 68.1h0.7v0.7h-0.7zM262.7 77.7h0.7v0.7h-0.7zM282.4 64.1h0.7v0.7h-0.7zM267.8 79.8h0.7v0.7h-0.7zM270.7 64.9h0.7v0.7h-0.7zM267.1 68.6h0.7v0.7h-0.7zM274.7 71.1h0.7v0.7h-0.7zM283.2 71.6h0.7v0.7h-0.7zM259.9 79.0h0.7v0.7h-0.7zM280.5 71.0h0.7v0.7h-0.7zM279.4 65.0h0.7v0.7h-0.7zM266.2 79.9h0.7v0.7h-0.7zM258.3 63.1h0.7v0.7h-0.7zM278.9 64.0h0.7v0.7h-0.7zM266.3 64.8h0.7v0.7h-0.7zM258.3 69.5h0.7v0.7h-0.7zM269.8 74.8h0.7v0.7h-0.7zM254.5 83.4h0.7v0.7h-0.7zM259.7 69.6h0.7v0.7h-0.7zM277.5 68.8h0.7v0.7h-0.7zM263.3 86.9h0.7v0.7h-0.7zM265.4 75.8h0.7v0.7h-0.7zM276.8 78.7h0.7v0.7h-0.7zM270.5 78.6h0.7v0.7h-0.7zM268.3 80.2h0.7v0.7h-0.7zM264.8 72.1h0.7v0.7h-0.7zM288.5 66.9h0.7v0.7h-0.7zM278.0 83.6h0.7v0.7h-0.7zM273.2 65.7h0.7v0.7h-0.7zM275.5 62.4h0.7v0.7h-0.7zM284.1 74.4h0.7v0.7h-0.7zM265.8 69.9h0.7v0.7h-0.7zM273.5 71.0h0.7v0.7h-0.7zM265.1 78.0h0.7v0.7h-0.7zM254.0 76.0h0.7v0.7h-0.7zM268.0 71.3h0.7v0.7h-0.7zM271.8 63.6h0.7v0.7h-0.7zM276.5 68.5h0.7v0.7h-0.7zM263.5 66.1h0.7v0.7h-0.7zM262.9 77.5h0.7v0.7h-0.7zM264.1 75.1h0.7v0.7h-0.7zM283.2 73.7h0.7v0.7h-0.7zM284.4 64.6h0.7v0.7h-0.7zM265.2 80.8h0.7v0.7h-0.7zM277.1 76.7h0.7v0.7h-0.7zM274.8 78.1h0.7v0.7h-0.7zM280.7 72.6h0.7v0.7h-0.7zM277.1 72.0h0.7v0.7h-0.7zM274.5 72.0h0.7v0.7h-0.7zM279.1 65.3h0.7v0.7h-0.7zM286.2 65.1h0.7v0.7h-0.7zM280.0 67.7h0.7v0.7h-0.7zM274.5 83.6h0.7v0.7h-0.7zM266.5 65.4h0.7v0.7h-0.7zM265.3 72.1h0.7v0.7h-0.7zM290.4 65.4h0.7v0.7h-0.7zM277.5 62.8h0.7v0.7h-0.7zM276.5 74.0h0.7v0.7h-0.7zM285.5 61.6h0.7v0.7h-0.7zM277.7 71.1h0.7v0.7h-0.7zM263.4 74.8h0.7v0.7h-0.7zM264.6 59.5h0.7v0.7h-0.7zM278.2 72.5h0.7v0.7h-0.7zM265.3 65.5h0.7v0.7h-0.7zM284.9 68.0h0.7v0.7h-0.7zM283.7 75.9h0.7v0.7h-0.7zM269.5 77.8h0.7v0.7h-0.7zM269.8 72.0h0.7v0.7h-0.7zM271.3 71.8h0.7v0.7h-0.7zM281.6 68.4h0.7v0.7h-0.7zM270.1 70.5h0.7v0.7h-0.7zM272.8 65.4h0.7v0.7h-0.7zM267.7 72.9h0.7v0.7h-0.7zM267.0 72.7h0.7v0.7h-0.7zM271.4 84.7h0.7v0.7h-0.7zM284.1 69.5h0.7v0.7h-0.7zM276.5 83.9h0.7v0.7h-0.7zM274.5 69.9h0.7v0.7h-0.7zM275.2 72.2h0.7v0.7h-0.7zM283.7 66.6h0.7v0.7h-0.7zM287.5 59.5h0.7v0.7h-0.7zM275.5 63.6h0.7v0.7h-0.7zM286.4 63.5h0.7v0.7h-0.7zM273.6 76.8h0.7v0.7h-0.7zM280.0 61.1h0.7v0.7h-0.7zM266.0 64.9h0.7v0.7h-0.7zM272.9 70.5h0.7v0.7h-0.7zM267.5 68.9h0.7v0.7h-0.7zM267.1 68.6h0.7v0.7h-0.7zM279.8 78.2h0.7v0.7h-0.7zM255.6 77.4h0.7v0.7h-0.7zM269.6 75.6h0.7v0.7h-0.7zM263.7 73.9h0.7v0.7h-0.7zM264.9 78.9h0.7v0.7h-0.7zM272.5 70.3h0.7v0.7h-0.7zM274.5 68.9h0.7v0.7h-0.7zM260.4 80.1h0.7v0.7h-0.7zM274.1 69.7h0.7v0.7h-0.7zM283.0 75.0h0.7v0.7h-0.7zM261.1 70.8h0.7v0.7h-0.7zM288.1 74.2h0.7v0.7h-0.7zM263.2 67.4h0.7v0.7h-0.7zM265.6 70.9h0.7v0.7h-0.7zM258.9 77.0h0.7v0.7h-0.7zM258.6 69.1h0.7v0.7h-0.7zM278.1 64.6h0.7v0.7h-0.7zM272.8 75.2h0.7v0.7h-0.7zM278.0 66.9h0.7v0.7h-0.7zM270.5 66.8h0.7v0.7h-0.7zM288.0 69.2h0.7v0.7h-0.7zM262.8 75.2h0.7v0.7h-0.7zM279.0 71.8h0.7v0.7h-0.7zM290.3 73.0h0.7v0.7h-0.7zM267.3 72.8h0.7v0.7h-0.7zM261.9 77.2h0.7v0.7h-0.7zM279.3 86.0h0.7v0.7h-0.7zM268.1 59.5h0.7v0.7h-0.7zM266.6 74.4h0.7v0.7h-0.7zM259.6 70.9h0.7v0.7h-0.7zM269.7 74.6h0.7v0.7h-0.7zM268.6 67.1h0.7v0.7h-0.7zM277.4 65.8h0.7v0.7h-0.7zM264.7 65.5h0.7v0.7h-0.7zM266.9 77.8h0.7v0.7h-0.7zM258.3 76.6h0.7v0.7h-0.7zM277.1 67.0h0.7v0.7h-0.7zM271.5 64.5h0.7v0.7h-0.7zM285.4 73.2h0.7v0.7h-0.7zM270.0 60.9h0.7v0.7h-0.7zM265.5 80.5h0.7v0.7h-0.7zM287.0 67.4h0.7v0.7h-0.7zM281.0 63.9h0.7v0.7h-0.7zM270.4 72.1h0.7v0.7h-0.7zM272.1 61.6h0.7v0.7h-0.7zM282.8 75.7h0.7v0.7h-0.7zM259.4 67.8h0.7v0.7h-0.7zM273.5 66.7h0.7v0.7h-0.7zM254.0 84.0h0.7v0.7h-0.7zM272.2 68.3h0.7v0.7h-0.7zM289.9 65.1h0.7v0.7h-0.7zM265.9 74.6h0.7v0.7h-0.7zM261.6 70.8h0.7v0.7h-0.7zM274.0 67.1h0.7v0.7h-0.7zM272.0 82.3h0.7v0.7h-0.7zM281.0 73.1h0.7v0.7h-0.7zM277.5 72.4h0.7v0.7h-0.7zM284.1 66.5h0.7v0.7h-0.7zM285.3 60.0h0.7v0.7h-0.7zM266.8 64.7h0.7v0.7h-0.7zM270.3 75.5h0.7v0.7h-0.7zM282.6 62.9h0.7v0.7h-0.7zM271.2 69.5h0.7v0.7h-0.7zM263.2 67.4h0.7v0.7h-0.7zM268.6 61.7h0.7v0.7h-0.7zM273.0 71.2h0.7v0.7h-0.7zM264.2 68.1h0.7v0.7h-0.7zM264.7 86.6h0.7v0.7h-0.7zM264.3 84.7h0.7v0.7h-0.7zM276.2 67.5h0.7v0.7h-0.7zM264.7 81.2h0.7v0.7h-0.7zM284.3 60.5h0.7v0.7h-0.7zM271.9 78.4h0.7v0.7h-0.7zM279.3 81.5h0.7v0.7h-0.7zM268.5 76.4h0.7v0.7h-0.7zM266.3 87.4h0.7v0.7h-0.7zM260.9 61.7h0.7v0.7h-0.7zM270.6 71.1h0.7v0.7h-0.7zM287.2 63.2h0.7v0.7h-0.7zM273.2 74.8h0.7v0.7h-0.7zM285.1 65.8h0.7v0.7h-0.7zM281.8 70.9h0.7v0.7h-0.7zM269.7 72.9h0.7v0.7h-0.7zM270.2 66.3h0.7v0.7h-0.7zM279.0 59.7h0.7v0.7h-0.7zM283.9 72.9h0.7v0.7h-0.7zM269.5 67.6h0.7v0.7h-0.7zM271.2 74.9h0.7v0.7h-0.7zM278.8 70.6h0.7v0.7h-0.7zM279.0 65.1h0.7v0.7h-0.7zM270.4 62.0h0.7v0.7h-0.7zM278.7 69.8h0.7v0.7h-0.7zM271.1 79.4h0.7v0.7h-0.7zM271.4 53.5h0.7v0.7h-0.7zM269.1 63.3h0.7v0.7h-0.7zM286.5 81.8h0.7v0.7h-0.7zM267.8 73.7h0.7v0.7h-0.7zM270.7 74.3h0.7v0.7h-0.7zM280.3 76.5h0.7v0.7h-0.7zM267.3 83.6h0.7v0.7h-0.7zM264.8 76.2h0.7v0.7h-0.7zM283.3 71.6h0.7v0.7h-0.7zM262.6 70.8h0.7v0.7h-0.7zM268.0 72.8h0.7v0.7h-0.7zM278.7 60.4h0.7v0.7h-0.7zM277.3 73.3h0.7v0.7h-0.7zM277.7 72.2h0.7v0.7h-0.7zM285.8 69.1h0.7v0.7h-0.7zM280.4 71.7h0.7v0.7h-0.7zM282.7 54.9h0.7v0.7h-0.7zM282.1 65.7h0.7v0.7h-0.7zM267.5 67.1h0.7v0.7h-0.7zM255.5 75.7h0.7v0.7h-0.7zM267.4 76.6h0.7v0.7h-0.7zM262.9 84.4h0.7v0.7h-0.7zM273.7 69.2h0.7v0.7h-0.7zM264.3 69.5h0.7v0.7h-0.7zM261.3 72.3h0.7v0.7h-0.7zM271.7 70.5h0.7v0.7h-0.7zM259.6 74.8h0.7v0.7h-0.7zM264.9 75.4h0.7v0.7h-0.7zM289.0 68.7h0.7v0.7h-0.7zM265.7 63.5h0.7v0.7h-0.7zM256.4 66.9h0.7v0.7h-0.7zM276.3 64.8h0.7v0.7h-0.7zM271.1 67.8h0.7v0.7h-0.7zM275.9 79.0h0.7v0.7h-0.7zM265.5 71.9h0.7v0.7h-0.7zM267.2 79.1h0.7v0.7h-0.7zM260.9 68.7h0.7v0.7h-0.7zM257.3 68.3h0.7v0.7h-0.7zM281.7 84.2h0.7v0.7h-0.7zM265.8 80.1h0.7v0.7h-0.7zM271.6 64.5h0.7v0.7h-0.7zM269.2 71.1h0.7v0.7h-0.7zM270.6 84.6h0.7v0.7h-0.7zM257.0 80.0h0.7v0.7h-0.7zM273.5 67.2h0.7v0.7h-0.7zM275.2 75.9h0.7v0.7h-0.7zM274.2 73.3h0.7v0.7h-0.7zM273.2 57.9h0.7v0.7h-0.7zM289.5 79.2h0.7v0.7h-0.7zM282.5 73.8h0.7v0.7h-0.7zM260.0 75.6h0.7v0.7h-0.7zM263.9 71.0h0.7v0.7h-0.7zM278.3 63.8h0.7v0.7h-0.7zM266.6 61.3h0.7v0.7h-0.7zM270.9 72.5h0.7v0.7h-0.7zM264.5 69.9h0.7v0.7h-0.7zM285.0 58.4h0.7v0.7h-0.7zM261.4 70.5h0.7v0.7h-0.7zM286.7 79.1h0.7v0.7h-0.7zM273.2 66.4h0.7v0.7h-0.7zM270.8 78.9h0.7v0.7h-0.7zM267.7 82.7h0.7v0.7h-0.7zM284.0 67.1h0.7v0.7h-0.7zM279.1 73.5h0.7v0.7h-0.7zM282.6 60.4h0.7v0.7h-0.7zM281.0 65.4h0.7v0.7h-0.7zM265.8 74.7h0.7v0.7h-0.7zM268.0 66.7h0.7v0.7h-0.7zM256.6 71.6h0.7v0.7h-0.7zM288.5 77.5h0.7v0.7h-0.7zM280.1 75.9h0.7v0.7h-0.7zM267.5 72.8h0.7v0.7h-0.7zM271.9 64.5h0.7v0.7h-0.7zM264.0 75.4h0.7v0.7h-0.7zM266.9 66.7h0.7v0.7h-0.7zM274.6 68.7h0.7v0.7h-0.7zM280.5 68.0h0.7v0.7h-0.7zM269.8 73.2h0.7v0.7h-0.7zM269.1 68.4h0.7v0.7h-0.7zM270.3 77.0h0.7v0.7h-0.7zM280.3 76.5h0.7v0.7h-0.7zM257.0 75.0h0.7v0.7h-0.7zM268.9 73.9h0.7v0.7h-0.7zM267.1 70.2h0.7v0.7h-0.7zM278.9 69.9h0.7v0.7h-0.7zM265.3 82.9h0.7v0.7h-0.7zM279.0 64.9h0.7v0.7h-0.7zM277.3 64.6h0.7v0.7h-0.7zM280.9 66.5h0.7v0.7h-0.7zM264.5 72.1h0.7v0.7h-0.7zM266.0 75.2h0.7v0.7h-0.7zM273.5 71.1h0.7v0.7h-0.7zM259.1 53.0h0.7v0.7h-0.7zM268.5 60.6h0.7v0.7h-0.7zM276.6 77.0h0.7v0.7h-0.7zM273.4 68.4h0.7v0.7h-0.7zM270.2 71.4h0.7v0.7h-0.7zM266.1 70.1h0.7v0.7h-0.7zM267.0 81.2h0.7v0.7h-0.7zM274.0 76.9h0.7v0.7h-0.7zM270.1 72.7h0.7v0.7h-0.7zM271.6 74.6h0.7v0.7h-0.7zM279.4 70.0h0.7v0.7h-0.7zM264.6 69.4h0.7v0.7h-0.7zM285.2 64.3h0.7v0.7h-0.7zM272.9 80.6h0.7v0.7h-0.7zM282.3 70.8h0.7v0.7h-0.7zM274.0 85.9h0.7v0.7h-0.7zM276.5 73.2h0.7v0.7h-0.7zM267.4 64.2h0.7v0.7h-0.7zM261.8 78.3h0.7v0.7h-0.7zM274.7 68.8h0.7v0.7h-0.7zM259.0 67.4h0.7v0.7h-0.7zM266.0 64.5h0.7v0.7h-0.7zM282.1 74.9h0.7v0.7h-0.7zM297.6 66.8h0.7v0.7h-0.7zM265.1 68.6h0.7v0.7h-0.7zM241.9 79.8h0.7v0.7h-0.7zM272.7 77.5h0.7v0.7h-0.7zM278.4 72.7h0.7v0.7h-0.7zM275.3 74.5h0.7v0.7h-0.7zM281.7 60.7h0.7v0.7h-0.7zM265.1 65.3h0.7v0.7h-0.7zM288.4 73.3h0.7v0.7h-0.7zM275.6 62.3h0.7v0.7h-0.7zM272.9 69.6h0.7v0.7h-0.7zM272.3 70.2h0.7v0.7h-0.7zM275.5 67.6h0.7v0.7h-0.7zM279.7 70.0h0.7v0.7h-0.7zM269.3 71.9h0.7v0.7h-0.7zM270.2 77.5h0.7v0.7h-0.7zM270.4 74.1h0.7v0.7h-0.7zM265.4 64.6h0.7v0.7h-0.7zM277.2 62.6h0.7v0.7h-0.7zM278.6 71.5h0.7v0.7h-0.7zM256.1 71.8h0.7v0.7h-0.7zM265.9 68.7h0.7v0.7h-0.7zM263.8 79.6h0.7v0.7h-0.7zM270.9 74.5h0.7v0.7h-0.7zM269.1 74.7h0.7v0.7h-0.7zM265.7 73.9h0.7v0.7h-0.7zM277.0 69.8h0.7v0.7h-0.7zM265.7 67.0h0.7v0.7h-0.7zM274.2 72.9h0.7v0.7h-0.7zM268.1 68.1h0.7v0.7h-0.7zM282.1 83.5h0.7v0.7h-0.7zM270.2 74.4h0.7v0.7h-0.7zM269.4 56.0h0.7v0.7h-0.7zM271.4 67.2h0.7v0.7h-0.7zM283.0 65.4h0.7v0.7h-0.7zM265.0 72.9h0.7v0.7h-0.7zM272.1 67.8h0.7v0.7h-0.7zM268.5 64.1h0.7v0.7h-0.7zM271.9 76.6h0.7v0.7h-0.7zM290.0 68.8h0.7v0.7h-0.7zM276.9 77.2h0.7v0.7h-0.7zM284.2 77.3h0.7v0.7h-0.7zM280.8 67.2h0.7v0.7h-0.7zM274.6 71.6h0.7v0.7h-0.7zM275.0 71.6h0.7v0.7h-0.7zM260.7 62.4h0.7v0.7h-0.7zM261.8 62.5h0.7v0.7h-0.7zM272.6 71.3h0.7v0.7h-0.7zM259.6 81.0h0.7v0.7h-0.7zM279.4 69.1h0.7v0.7h-0.7zM290.1 76.3h0.7v0.7h-0.7zM264.3 81.3h0.7v0.7h-0.7zM276.6 72.3h0.7v0.7h-0.7zM278.2 64.3h0.7v0.7h-0.7zM265.2 68.9h0.7v0.7h-0.7zM265.5 73.5h0.7v0.7h-0.7zM257.5 70.6h0.7v0.7h-0.7zM276.7 69.2h0.7v0.7h-0.7zM270.9 59.7h0.7v0.7h-0.7zM264.2 71.1h0.7v0.7h-0.7zM271.0 68.1h0.7v0.7h-0.7zM279.7 68.0h0.7v0.7h-0.7zM272.2 71.5h0.7v0.7h-0.7zM276.8 66.5h0.7v0.7h-0.7zM282.4 70.3h0.7v0.7h-0.7zM273.4 71.2h0.7v0.7h-0.7zM278.6 75.4h0.7v0.7h-0.7zM280.7 70.4h0.7v0.7h-0.7zM279.6 69.2h0.7v0.7h-0.7zM282.4 67.1h0.7v0.7h-0.7zM257.7 85.9h0.7v0.7h-0.7zM270.3 64.6h0.7v0.7h-0.7zM268.4 67.3h0.7v0.7h-0.7zM290.6 67.2h0.7v0.7h-0.7zM260.1 79.8h0.7v0.7h-0.7zM273.0 83.5h0.7v0.7h-0.7zM258.2 62.5h0.7v0.7h-0.7zM271.8 69.3h0.7v0.7h-0.7zM263.7 61.0h0.7v0.7h-0.7zM279.3 79.4h0.7v0.7h-0.7zM258.7 84.5h0.7v0.7h-0.7zM272.5 86.5h0.7v0.7h-0.7zM275.2 69.0h0.7v0.7h-0.7zM282.4 70.7h0.7v0.7h-0.7zM268.7 77.4h0.7v0.7h-0.7zM263.7 63.3h0.7v0.7h-0.7zM288.2 62.7h0.7v0.7h-0.7zM267.7 75.4h0.7v0.7h-0.7zM255.9 69.2h0.7v0.7h-0.7zM266.7 70.3h0.7v0.7h-0.7zM275.1 77.5h0.7v0.7h-0.7zM269.2 75.8h0.7v0.7h-0.7zM274.6 63.4h0.7v0.7h-0.7zM271.8 65.5h0.7v0.7h-0.7zM281.9 70.4h0.7v0.7h-0.7zM269.1 64.0h0.7v0.7h-0.7zM271.2 66.8h0.7v0.7h-0.7zM277.6 68.5h0.7v0.7h-0.7zM267.3 79.4h0.7v0.7h-0.7zM276.7 65.8h0.7v0.7h-0.7zM281.0 65.9h0.7v0.7h-0.7zM269.7 73.2h0.7v0.7h-0.7zM264.7 71.6h0.7v0.7h-0.7zM274.1 80.6h0.7v0.7h-0.7zM283.9 65.0h0.7v0.7h-0.7zM285.3 65.8h0.7v0.7h-0.7zM277.2 75.1h0.7v0.7h-0.7zM279.9 84.0h0.7v0.7h-0.7zM271.3 64.0h0.7v0.7h-0.7zM282.0 64.8h0.7v0.7h-0.7zM262.7 55.9h0.7v0.7h-0.7zM282.2 72.7h0.7v0.7h-0.7zM280.9 74.2h0.7v0.7h-0.7zM286.0 65.5h0.7v0.7h-0.7zM278.2 64.2h0.7v0.7h-0.7zM271.4 78.6h0.7v0.7h-0.7zM272.3 62.8h0.7v0.7h-0.7zM274.6 69.3h0.7v0.7h-0.7zM266.1 76.7h0.7v0.7h-0.7zM265.1 64.1h0.7v0.7h-0.7zM266.7 85.1h0.7v0.7h-0.7zM259.9 77.8h0.7v0.7h-0.7zM278.5 73.0h0.7v0.7h-0.7zM261.1 73.8h0.7v0.7h-0.7zM275.0 75.5h0.7v0.7h-0.7zM264.0 67.2h0.7v0.7h-0.7zM282.9 74.3h0.7v0.7h-0.7zM273.7 66.9h0.7v0.7h-0.7zM275.6 70.7h0.7v0.7h-0.7zM276.2 61.7h0.7v0.7h-0.7zM272.6 70.2h0.7v0.7h-0.7zM263.2 76.4h0.7v0.7h-0.7zM271.4 69.1h0.7v0.7h-0.7zM272.1 62.3h0.7v0.7h-0.7zM272.5 74.1h0.7v0.7h-0.7zM276.8 76.5h0.7v0.7h-0.7zM258.6 67.2h0.7v0.7h-0.7zM275.0 73.2h0.7v0.7h-0.7zM291.1 67.8h0.7v0.7h-0.7zM266.5 78.9h0.7v0.7h-0.7zM261.6 66.1h0.7v0.7h-0.7zM294.5 64.5h0.7v0.7h-0.7zM279.2 72.2h0.7v0.7h-0.7zM287.8 67.0h0.7v0.7h-0.7zM279.9 61.7h0.7v0.7h-0.7zM263.6 84.1h0.7v0.7h-0.7zM285.5 69.4h0.7v0.7h-0.7zM274.3 71.7h0.7v0.7h-0.7zM269.7 82.4h0.7v0.7h-0.7zM278.6 72.1h0.7v0.7h-0.7zM277.5 76.1h0.7v0.7h-0.7zM277.9 73.9h0.7v0.7h-0.7zM263.4 78.3h0.7v0.7h-0.7zM289.1 61.2h0.7v0.7h-0.7zM272.9 76.9h0.7v0.7h-0.7zM281.4 71.7h0.7v0.7h-0.7zM259.6 79.7h0.7v0.7h-0.7zM260.3 70.9h0.7v0.7h-0.7zM275.9 68.0h0.7v0.7h-0.7zM285.8 86.3h0.7v0.7h-0.7zM280.1 72.9h0.7v0.7h-0.7zM263.1 70.9h0.7v0.7h-0.7zM261.9 72.1h0.7v0.7h-0.7zM261.4 71.5h0.7v0.7h-0.7zM268.0 66.6h0.7v0.7h-0.7zM257.1 68.7h0.7v0.7h-0.7zM275.9 70.3h0.7v0.7h-0.7zM282.9 73.9h0.7v0.7h-0.7zM270.7 76.4h0.7v0.7h-0.7zM265.1 89.1h0.7v0.7h-0.7zM281.5 66.3h0.7v0.7h-0.7zM263.1 77.5h0.7v0.7h-0.7zM254.6 73.5h0.7v0.7h-0.7zM278.4 69.4h0.7v0.7h-0.7zM270.0 78.4h0.7v0.7h-0.7zM264.0 76.6h0.7v0.7h-0.7zM265.9 68.5h0.7v0.7h-0.7zM273.6 64.4h0.7v0.7h-0.7zM286.6 61.8h0.7v0.7h-0.7zM286.1 58.7h0.7v0.7h-0.7zM274.4 62.8h0.7v0.7h-0.7zM261.2 76.9h0.7v0.7h-0.7zM274.8 62.1h0.7v0.7h-0.7zM280.1 63.1h0.7v0.7h-0.7zM273.9 73.2h0.7v0.7h-0.7zM272.9 59.5h0.7v0.7h-0.7zM286.8 69.2h0.7v0.7h-0.7zM266.1 67.2h0.7v0.7h-0.7zM254.8 69.6h0.7v0.7h-0.7zM275.8 67.8h0.7v0.7h-0.7zM261.4 72.4h0.7v0.7h-0.7zM284.3 64.4h0.7v0.7h-0.7zM270.2 81.0h0.7v0.7h-0.7zM276.0 70.2h0.7v0.7h-0.7zM263.4 64.9h0.7v0.7h-0.7zM261.2 72.8h0.7v0.7h-0.7zM271.0 74.2h0.7v0.7h-0.7zM277.1 70.9h0.7v0.7h-0.7zM271.6 65.2h0.7v0.7h-0.7zM252.8 75.9h0.7v0.7h-0.7zM262.6 71.1h0.7v0.7h-0.7zM266.9 65.5h0.7v0.7h-0.7zM262.5 74.7h0.7v0.7h-0.7zM271.5 67.5h0.7v0.7h-0.7zM275.7 68.6h0.7v0.7h-0.7zM263.6 75.2h0.7v0.7h-0.7zM286.2 61.4h0.7v0.7h-0.7zM284.8 75.2h0.7v0.7h-0.7zM282.7 61.9h0.7v0.7h-0.7zM289.1 65.4h0.7v0.7h-0.7zM269.4 71.1h0.7v0.7h-0.7zM277.1 69.8h0.7v0.7h-0.7zM273.4 79.2h0.7v0.7h-0.7zM263.6 68.1h0.7v0.7h-0.7zM280.2 72.7h0.7v0.7h-0.7zM278.7 61.8h0.7v0.7h-0.7zM282.1 70.5h0.7v0.7h-0.7zM283.9 58.6h0.7v0.7h-0.7zM273.2 69.2h0.7v0.7h-0.7zM257.1 72.9h0.7v0.7h-0.7zM280.4 65.1h0.7v0.7h-0.7zM267.9 78.8h0.7v0.7h-0.7zM282.5 73.7h0.7v0.7h-0.7zM265.3 73.8h0.7v0.7h-0.7zM279.1 64.4h0.7v0.7h-0.7zM267.6 78.6h0.7v0.7h-0.7zM282.4 59.8h0.7v0.7h-0.7zM247.1 72.2h0.7v0.7h-0.7zM263.2 74.1h0.7v0.7h-0.7zM276.8 68.6h0.7v0.7h-0.7zM266.5 74.7h0.7v0.7h-0.7zM263.9 74.5h0.7v0.7h-0.7zM272.7 88.6h0.7v0.7h-0.7zM276.9 64.1h0.7v0.7h-0.7zM262.7 72.4h0.7v0.7h-0.7zM256.6 73.0h0.7v0.7h-0.7zM267.8 78.9h0.7v0.7h-0.7zM266.7 68.5h0.7v0.7h-0.7zM258.2 69.5h0.7v0.7h-0.7zM271.0 70.5h0.7v0.7h-0.7zM280.1 64.2h0.7v0.7h-0.7zM281.4 69.4h0.7v0.7h-0.7zM267.4 60.3h0.7v0.7h-0.7zM262.9 80.0h0.7v0.7h-0.7zM284.1 67.9h0.7v0.7h-0.7zM277.4 66.7h0.7v0.7h-0.7zM267.4 69.1h0.7v0.7h-0.7zM280.9 70.1h0.7v0.7h-0.7zM269.3 70.5h0.7v0.7h-0.7zM277.4 71.4h0.7v0.7h-0.7zM268.9 83.9h0.7v0.7h-0.7zM274.2 70.7h0.7v0.7h-0.7zM286.6 72.2h0.7v0.7h-0.7zM272.5 74.8h0.7v0.7h-0.7zM261.6 71.5h0.7v0.7h-0.7zM255.9 85.9h0.7v0.7h-0.7zM257.7 81.7h0.7v0.7h-0.7zM262.9 68.9h0.7v0.7h-0.7zM271.0 73.6h0.7v0.7h-0.7zM281.1 79.3h0.7v0.7h-0.7zM277.0 75.2h0.7v0.7h-0.7zM268.6 77.5h0.7v0.7h-0.7zM272.2 68.4h0.7v0.7h-0.7zM271.1 71.5h0.7v0.7h-0.7zM274.5 73.1h0.7v0.7h-0.7zM266.1 69.1h0.7v0.7h-0.7zM274.4 59.5h0.7v0.7h-0.7zM270.3 82.2h0.7v0.7h-0.7zM247.9 76.8h0.7v0.7h-0.7zM274.0 60.0h0.7v0.7h-0.7zM287.9 48.3h0.7v0.7h-0.7zM287.5 75.3h0.7v0.7h-0.7zM279.1 67.2h0.7v0.7h-0.7zM273.0 65.3h0.7v0.7h-0.7zM276.2 62.5h0.7v0.7h-0.7zM272.0 78.0h0.7v0.7h-0.7zM261.9 73.2h0.7v0.7h-0.7zM270.4 63.5h0.7v0.7h-0.7zM282.5 69.5h0.7v0.7h-0.7zM259.2 76.3h0.7v0.7h-0.7zM264.1 70.5h0.7v0.7h-0.7zM271.0 67.3h0.7v0.7h-0.7zM278.5 64.3h0.7v0.7h-0.7zM280.1 67.9h0.7v0.7h-0.7zM277.9 65.6h0.7v0.7h-0.7zM265.2 66.8h0.7v0.7h-0.7zM278.9 74.8h0.7v0.7h-0.7zM292.6 71.5h0.7v0.7h-0.7zM273.6 69.5h0.7v0.7h-0.7zM275.2 70.0h0.7v0.7h-0.7zM286.3 71.8h0.7v0.7h-0.7zM263.5 70.5h0.7v0.7h-0.7zM284.1 68.6h0.7v0.7h-0.7zM272.7 78.9h0.7v0.7h-0.7zM268.1 71.3h0.7v0.7h-0.7zM263.7 62.1h0.7v0.7h-0.7zM276.5 61.9h0.7v0.7h-0.7zM265.6 69.3h0.7v0.7h-0.7zM277.9 68.7h0.7v0.7h-0.7zM268.4 62.1h0.7v0.7h-0.7zM268.0 63.6h0.7v0.7h-0.7zM275.4 72.5h0.7v0.7h-0.7zM276.4 82.9h0.7v0.7h-0.7zM277.7 73.0h0.7v0.7h-0.7zM272.8 69.9h0.7v0.7h-0.7zM282.5 74.4h0.7v0.7h-0.7zM263.5 81.8h0.7v0.7h-0.7zM278.4 75.1h0.7v0.7h-0.7zM273.1 63.0h0.7v0.7h-0.7zM266.3 85.6h0.7v0.7h-0.7zM270.9 62.8h0.7v0.7h-0.7zM274.1 68.3h0.7v0.7h-0.7zM251.5 65.0h0.7v0.7h-0.7zM259.2 78.4h0.7v0.7h-0.7zM271.0 70.3h0.7v0.7h-0.7zM275.7 73.9h0.7v0.7h-0.7zM253.8 76.9h0.7v0.7h-0.7zM262.3 67.4h0.7v0.7h-0.7zM267.2 72.7h0.7v0.7h-0.7zM266.5 64.3h0.7v0.7h-0.7zM272.5 84.3h0.7v0.7h-0.7zM259.4 65.7h0.7v0.7h-0.7zM275.6 73.9h0.7v0.7h-0.7zM273.4 63.7h0.7v0.7h-0.7zM278.6 63.8h0.7v0.7h-0.7zM261.2 71.9h0.7v0.7h-0.7zM272.7 75.8h0.7v0.7h-0.7zM277.2 69.3h0.7v0.7h-0.7zM280.0 68.8h0.7v0.7h-0.7zM276.3 60.7h0.7v0.7h-0.7zM260.6 81.1h0.7v0.7h-0.7zM259.7 74.5h0.7v0.7h-0.7zM270.1 69.1h0.7v0.7h-0.7zM271.3 80.8h0.7v0.7h-0.7zM252.9 84.9h0.7v0.7h-0.7zM291.2 63.9h0.7v0.7h-0.7zM273.5 75.6h0.7v0.7h-0.7zM284.6 58.7h0.7v0.7h-0.7zM272.3 70.2h0.7v0.7h-0.7zM277.0 70.5h0.7v0.7h-0.7zM276.6 66.9h0.7v0.7h-0.7zM270.9 67.6h0.7v0.7h-0.7zM266.1 73.0h0.7v0.7h-0.7zM268.2 65.5h0.7v0.7h-0.7zM284.8 65.5h0.7v0.7h-0.7zM262.9 82.3h0.7v0.7h-0.7zM266.9 76.9h0.7v0.7h-0.7zM272.4 73.0h0.7v0.7h-0.7zM272.1 67.7h0.7v0.7h-0.7zM276.9 82.7h0.7v0.7h-0.7zM253.5 79.4h0.7v0.7h-0.7zM273.3 64.2h0.7v0.7h-0.7zM265.4 88.1h0.7v0.7h-0.7zM273.6 84.3h0.7v0.7h-0.7zM276.6 70.1h0.7v0.7h-0.7zM277.4 73.4h0.7v0.7h-0.7zM282.8 69.9h0.7v0.7h-0.7zM273.6 72.0h0.7v0.7h-0.7zM285.1 71.5h0.7v0.7h-0.7zM262.2 71.3h0.7v0.7h-0.7zM273.4 66.9h0.7v0.7h-0.7zM266.7 67.5h0.7v0.7h-0.7zM270.8 74.7h0.7v0.7h-0.7zM280.3 68.2h0.7v0.7h-0.7zM289.1 64.1h0.7v0.7h-0.7zM300.9 66.3h0.7v0.7h-0.7zM275.0 67.0h0.7v0.7h-0.7zM248.1 80.2h0.7v0.7h-0.7zM277.8 81.6h0.7v0.7h-0.7zM264.8 86.8h0.7v0.7h-0.7zM271.5 76.4h0.7v0.7h-0.7zM251.1 80.8h0.7v0.7h-0.7zM270.7 76.5h0.7v0.7h-0.7zM270.2 64.8h0.7v0.7h-0.7zM281.5 72.2h0.7v0.7h-0.7zM279.2 75.1h0.7v0.7h-0.7zM281.1 67.7h0.7v0.7h-0.7zM257.6 68.4h0.7v0.7h-0.7zM284.9 70.9h0.7v0.7h-0.7zM271.9 68.7h0.7v0.7h-0.7zM272.3 71.5h0.7v0.7h-0.7zM267.6 68.7h0.7v0.7h-0.7zM290.6 65.5h0.7v0.7h-0.7zM264.0 66.3h0.7v0.7h-0.7zM267.6 78.0h0.7v0.7h-0.7zM277.8 67.7h0.7v0.7h-0.7zM271.7 69.6h0.7v0.7h-0.7zM265.7 82.5h0.7v0.7h-0.7zM280.7 84.0h0.7v0.7h-0.7zM265.4 73.3h0.7v0.7h-0.7zM278.8 67.2h0.7v0.7h-0.7zM258.3 70.9h0.7v0.7h-0.7zM273.6 73.1h0.7v0.7h-0.7zM273.5 77.4h0.7v0.7h-0.7zM281.0 69.9h0.7v0.7h-0.7zM271.7 70.0h0.7v0.7h-0.7zM278.7 74.8h0.7v0.7h-0.7z" fill="#58b04c" opacity="1.0"/>
<path d="M265.6 87.2h0.7v0.7h-0.7zM261.8 77.9h0.7v0.7h-0.7zM255.0 88.8h0.7v0.7h-0.7zM269.5 93.0h0.7v0.7h-0.7zM265.6 89.3h0.7v0.7h-0.7zM278.2 90.0h0.7v0.7h-0.7zM258.9 84.1h0.7v0.7h-0.7zM266.3 80.1h0.7v0.7h-0.7zM269.7 90.1h0.7v0.7h-0.7zM260.2 94.9h0.7v0.7h-0.7zM262.1 84.0h0.7v0.7h-0.7zM262.6 81.5h0.7v0.7h-0.7zM269.2 85.1h0.7v0.7h-0.7zM281.6 88.0h0.7v0.7h-0.7zM270.4 83.9h0.7v0.7h-0.7zM250.9 84.6h0.7v0.7h-0.7zM256.5 89.8h0.7v0.7h-0.7zM264.7 93.3h0.7v0.7h-0.7zM272.4 89.2h0.7v0.7h-0.7zM267.3 86.0h0.7v0.7h-0.7zM271.5 89.6h0.7v0.7h-0.7zM257.9 87.5h0.7v0.7h-0.7zM291.2 84.6h0.7v0.7h-0.7zM262.4 81.5h0.7v0.7h-0.7zM250.5 90.9h0.7v0.7h-0.7zM265.6 86.5h0.7v0.7h-0.7zM283.4 97.5h0.7v0.7h-0.7zM256.1 90.3h0.7v0.7h-0.7zM271.2 87.0h0.7v0.7h-0.7zM269.8 84.9h0.7v0.7h-0.7zM280.9 88.1h0.7v0.7h-0.7zM268.5 91.2h0.7v0.7h-0.7zM274.0 87.3h0.7v0.7h-0.7zM268.3 93.8h0.7v0.7h-0.7zM270.1 84.6h0.7v0.7h-0.7zM256.5 83.3h0.7v0.7h-0.7zM254.5 85.6h0.7v0.7h-0.7zM267.6 74.8h0.7v0.7h-0.7zM265.2 88.3h0.7v0.7h-0.7zM266.7 80.2h0.7v0.7h-0.7zM277.7 81.5h0.7v0.7h-0.7zM252.7 79.6h0.7v0.7h-0.7zM264.9 89.9h0.7v0.7h-0.7zM276.7 86.1h0.7v0.7h-0.7zM253.1 81.7h0.7v0.7h-0.7zM256.0 84.1h0.7v0.7h-0.7zM247.3 85.6h0.7v0.7h-0.7zM271.5 84.3h0.7v0.7h-0.7zM269.6 80.3h0.7v0.7h-0.7zM250.5 81.8h0.7v0.7h-0.7zM276.6 90.2h0.7v0.7h-0.7zM260.4 91.0h0.7v0.7h-0.7zM261.8 92.6h0.7v0.7h-0.7zM269.8 82.7h0.7v0.7h-0.7zM273.0 81.1h0.7v0.7h-0.7zM255.6 77.7h0.7v0.7h-0.7zM267.6 84.7h0.7v0.7h-0.7zM264.2 83.0h0.7v0.7h-0.7zM279.4 82.9h0.7v0.7h-0.7zM257.8 91.2h0.7v0.7h-0.7zM279.2 86.7h0.7v0.7h-0.7zM247.6 82.0h0.7v0.7h-0.7zM271.1 85.1h0.7v0.7h-0.7zM280.5 78.2h0.7v0.7h-0.7zM271.8 81.9h0.7v0.7h-0.7zM278.2 84.6h0.7v0.7h-0.7zM275.3 81.8h0.7v0.7h-0.7zM250.9 79.4h0.7v0.7h-0.7zM258.9 79.9h0.7v0.7h-0.7zM277.0 91.7h0.7v0.7h-0.7zM267.7 79.8h0.7v0.7h-0.7zM263.8 81.6h0.7v0.7h-0.7zM279.5 86.6h0.7v0.7h-0.7zM269.9 83.0h0.7v0.7h-0.7zM244.9 81.1h0.7v0.7h-0.7zM253.8 86.9h0.7v0.7h-0.7zM266.0 81.0h0.7v0.7h-0.7zM261.1 92.8h0.7v0.7h-0.7zM255.4 80.4h0.7v0.7h-0.7zM262.7 81.5h0.7v0.7h-0.7zM260.7 87.7h0.7v0.7h-0.7zM282.3 76.1h0.7v0.7h-0.7zM264.8 85.2h0.7v0.7h-0.7zM264.2 84.1h0.7v0.7h-0.7zM261.6 90.0h0.7v0.7h-0.7zM260.3 84.4h0.7v0.7h-0.7zM265.0 85.5h0.7v0.7h-0.7zM263.3 90.0h0.7v0.7h-0.7zM264.9 85.9h0.7v0.7h-0.7zM264.5 80.0h0.7v0.7h-0.7zM256.7 79.7h0.7v0.7h-0.7zM266.9 81.4h0.7v0.7h-0.7zM254.4 86.2h0.7v0.7h-0.7zM270.3 76.2h0.7v0.7h-0.7zM281.9 85.2h0.7v0.7h-0.7zM263.9 90.3h0.7v0.7h-0.7zM265.7 82.0h0.7v0.7h-0.7zM286.9 79.6h0.7v0.7h-0.7zM264.0 89.2h0.7v0.7h-0.7zM254.3 84.5h0.7v0.7h-0.7z" fill="#a5d69a" opacity="1.0"/>
</g>
<rect x="257.3" y="59.6" width="39.30000000000001" height="35.99999999999999" fill="none" stroke="#777" stroke-width="0.7"/>
<rect x="256.40000000000003" y="58.7" width="1.7999999999999545" height="1.7999999999999972" fill="#777" stroke="none" stroke-width="1"/>
<rect x="276.1" y="58.7" width="1.7999999999999545" height="1.7999999999999972" fill="#777" stroke="none" stroke-width="1"/>
<rect x="295.70000000000005" y="58.7" width="1.7999999999999545" height="1.7999999999999972" fill="#777" stroke="none" stroke-width="1"/>
<rect x="256.40000000000003" y="77.5" width="1.7999999999999545" height="1.8000000000000114" fill="#777" stroke="none" stroke-width="1"/>
<rect x="295.70000000000005" y="77.5" width="1.7999999999999545" height="1.8000000000000114" fill="#777" stroke="none" stroke-width="1"/>
<rect x="256.40000000000003" y="94.69999999999999" width="1.7999999999999545" height="1.8000000000000114" fill="#777" stroke="none" stroke-width="1"/>
<rect x="276.1" y="94.69999999999999" width="1.7999999999999545" height="1.8000000000000114" fill="#777" stroke="none" stroke-width="1"/>
<rect x="295.70000000000005" y="94.69999999999999" width="1.7999999999999545" height="1.8000000000000114" fill="#777" stroke="none" stroke-width="1"/>
<text x="277.0" y="89.2" font-size="5.6" font-weight="bold" text-anchor="start" fill="#222" textLength="10" lengthAdjust="spacingAndGlyphs">90%</text>
<rect x="308.2" y="23.4" width="54.60000000000002" height="73.1" fill="#fff" stroke="#bbb" stroke-width="0.7"/>
<path d="M302.8 27.8l2.4 2.2v3.4M302.8 45.8l2.4 2.2v3.4M302.8 63.8l2.4 2.2v3.4M302.8 81.8l2.4 2.2v3.4M317.8 98.7l-1.8 2.2h-1.8M331.8 98.7l-1.8 2.2h-1.8M345.8 98.7l-1.8 2.2h-1.8M359.8 98.7l-1.8 2.2h-1.8" fill="none" stroke="#555" stroke-width="0.7"/>
<path d="M308.2 26.4h1.2M308.2 31.0h1.2M308.2 35.6h1.2M308.2 40.2h1.2M308.2 44.8h1.2M308.2 49.4h1.2M308.2 54.0h1.2M308.2 58.6h1.2M308.2 63.2h1.2M308.2 67.8h1.2M308.2 72.4h1.2M308.2 77.0h1.2M308.2 81.6h1.2M308.2 86.2h1.2M308.2 90.8h1.2M308.2 95.4h1.2M311.2 96.5v-1.2M315.2 96.5v-1.2M319.2 96.5v-1.2M323.2 96.5v-1.2M327.2 96.5v-1.2M331.2 96.5v-1.2M335.2 96.5v-1.2M339.2 96.5v-1.2M343.2 96.5v-1.2M347.2 96.5v-1.2M351.2 96.5v-1.2M355.2 96.5v-1.2M359.2 96.5v-1.2M363.2 96.5v-1.2" fill="none" stroke="#888" stroke-width="0.4"/>
<text x="307.4" y="18.1" font-size="6.3" font-weight="bold" text-anchor="start" fill="#000" textLength="57.6" lengthAdjust="spacingAndGlyphs">Monocyte cytokines</text>
<text x="328.5" y="114.2" font-size="6.2" font-weight="bold" text-anchor="start" fill="#000" textLength="15.8" lengthAdjust="spacingAndGlyphs">CD14</text>
<g clip-path="url(#clip3)">
<ellipse cx="325.5" cy="85" rx="5.5" ry="11.5" fill="#f48a82" opacity="1.0" transform="rotate(0 325.5 85)" filter="url(#b1_5)"/>
<ellipse cx="327.5" cy="85" rx="3.5" ry="9" fill="#f26a62" opacity="1.0" transform="rotate(0 327.5 85)" filter="url(#b1_2)"/>
<path d="M325.7 100.8h0.6v0.6h-0.6zM321.6 83.7h0.6v0.6h-0.6zM326.6 84.6h0.6v0.6h-0.6zM320.7 86.9h0.6v0.6h-0.6zM324.8 87.1h0.6v0.6h-0.6zM328.1 91.1h0.6v0.6h-0.6zM325.8 86.2h0.6v0.6h-0.6zM321.0 83.1h0.6v0.6h-0.6zM325.2 81.2h0.6v0.6h-0.6zM324.8 78.2h0.6v0.6h-0.6zM329.4 99.1h0.6v0.6h-0.6zM323.3 86.8h0.6v0.6h-0.6zM323.8 92.8h0.6v0.6h-0.6zM325.9 84.5h0.6v0.6h-0.6zM323.8 84.9h0.6v0.6h-0.6zM321.3 88.7h0.6v0.6h-0.6zM322.2 87.7h0.6v0.6h-0.6zM324.9 91.7h0.6v0.6h-0.6zM324.4 91.2h0.6v0.6h-0.6zM321.5 88.3h0.6v0.6h-0.6zM323.8 85.4h0.6v0.6h-0.6zM324.7 90.6h0.6v0.6h-0.6zM318.0 86.3h0.6v0.6h-0.6zM319.7 92.4h0.6v0.6h-0.6zM318.2 77.0h0.6v0.6h-0.6zM319.1 95.5h0.6v0.6h-0.6zM320.4 84.8h0.6v0.6h-0.6zM322.8 71.4h0.6v0.6h-0.6zM323.4 88.6h0.6v0.6h-0.6zM323.9 90.6h0.6v0.6h-0.6zM323.3 84.0h0.6v0.6h-0.6zM323.3 86.4h0.6v0.6h-0.6zM330.6 86.5h0.6v0.6h-0.6zM325.1 79.7h0.6v0.6h-0.6zM322.1 94.2h0.6v0.6h-0.6zM320.9 77.6h0.6v0.6h-0.6zM324.2 81.0h0.6v0.6h-0.6zM330.8 67.4h0.6v0.6h-0.6zM325.7 89.0h0.6v0.6h-0.6zM320.9 79.5h0.6v0.6h-0.6zM325.9 95.4h0.6v0.6h-0.6zM321.6 72.9h0.6v0.6h-0.6zM327.6 94.7h0.6v0.6h-0.6zM323.4 68.5h0.6v0.6h-0.6zM329.1 82.6h0.6v0.6h-0.6zM328.1 83.7h0.6v0.6h-0.6zM323.3 80.8h0.6v0.6h-0.6zM329.2 94.0h0.6v0.6h-0.6zM317.7 77.4h0.6v0.6h-0.6zM330.2 81.4h0.6v0.6h-0.6zM320.1 84.0h0.6v0.6h-0.6zM324.2 83.3h0.6v0.6h-0.6zM323.0 81.8h0.6v0.6h-0.6zM323.0 86.3h0.6v0.6h-0.6zM321.9 82.0h0.6v0.6h-0.6zM324.0 93.1h0.6v0.6h-0.6zM325.7 83.2h0.6v0.6h-0.6zM326.2 86.8h0.6v0.6h-0.6zM328.0 87.5h0.6v0.6h-0.6zM330.2 93.4h0.6v0.6h-0.6zM324.4 81.1h0.6v0.6h-0.6zM327.3 87.6h0.6v0.6h-0.6zM324.2 73.7h0.6v0.6h-0.6zM318.6 86.4h0.6v0.6h-0.6zM327.0 89.6h0.6v0.6h-0.6zM320.4 91.3h0.6v0.6h-0.6zM322.8 86.7h0.6v0.6h-0.6zM325.8 78.4h0.6v0.6h-0.6zM322.6 69.5h0.6v0.6h-0.6zM321.6 71.4h0.6v0.6h-0.6zM325.9 84.4h0.6v0.6h-0.6zM327.4 86.5h0.6v0.6h-0.6zM322.5 86.4h0.6v0.6h-0.6zM323.3 88.3h0.6v0.6h-0.6zM325.5 77.1h0.6v0.6h-0.6zM324.5 84.4h0.6v0.6h-0.6zM323.5 90.3h0.6v0.6h-0.6zM330.0 81.4h0.6v0.6h-0.6zM323.4 68.3h0.6v0.6h-0.6zM324.1 80.9h0.6v0.6h-0.6zM317.6 86.0h0.6v0.6h-0.6zM326.4 78.9h0.6v0.6h-0.6zM323.3 77.2h0.6v0.6h-0.6zM326.9 73.4h0.6v0.6h-0.6zM323.5 97.7h0.6v0.6h-0.6zM324.7 87.3h0.6v0.6h-0.6zM324.0 75.8h0.6v0.6h-0.6zM324.4 86.8h0.6v0.6h-0.6zM321.2 86.4h0.6v0.6h-0.6zM328.5 91.5h0.6v0.6h-0.6zM319.4 77.2h0.6v0.6h-0.6zM319.3 91.5h0.6v0.6h-0.6zM326.5 88.9h0.6v0.6h-0.6zM321.7 75.8h0.6v0.6h-0.6zM324.7 84.7h0.6v0.6h-0.6zM321.8 85.0h0.6v0.6h-0.6zM326.6 85.6h0.6v0.6h-0.6zM321.2 69.2h0.6v0.6h-0.6zM323.7 85.2h0.6v0.6h-0.6zM323.7 81.0h0.6v0.6h-0.6zM322.3 89.0h0.6v0.6h-0.6zM324.3 84.9h0.6v0.6h-0.6zM321.4 79.7h0.6v0.6h-0.6zM325.0 77.0h0.6v0.6h-0.6zM320.5 81.7h0.6v0.6h-0.6zM328.3 85.3h0.6v0.6h-0.6zM329.2 83.1h0.6v0.6h-0.6zM323.5 74.3h0.6v0.6h-0.6zM322.7 94.0h0.6v0.6h-0.6zM325.5 89.1h0.6v0.6h-0.6zM326.8 83.9h0.6v0.6h-0.6zM323.8 84.8h0.6v0.6h-0.6zM326.6 87.2h0.6v0.6h-0.6zM326.1 85.1h0.6v0.6h-0.6zM322.0 82.2h0.6v0.6h-0.6zM321.5 91.0h0.6v0.6h-0.6zM317.8 82.5h0.6v0.6h-0.6zM332.1 81.6h0.6v0.6h-0.6zM320.9 83.9h0.6v0.6h-0.6zM328.6 82.9h0.6v0.6h-0.6zM326.5 84.7h0.6v0.6h-0.6zM323.3 106.1h0.6v0.6h-0.6zM324.7 80.2h0.6v0.6h-0.6zM322.9 86.7h0.6v0.6h-0.6zM325.8 89.4h0.6v0.6h-0.6zM325.0 74.0h0.6v0.6h-0.6zM326.2 81.8h0.6v0.6h-0.6zM323.6 73.6h0.6v0.6h-0.6zM322.7 78.9h0.6v0.6h-0.6zM324.4 73.8h0.6v0.6h-0.6zM324.7 84.9h0.6v0.6h-0.6zM320.9 79.6h0.6v0.6h-0.6zM321.8 90.4h0.6v0.6h-0.6zM316.4 81.6h0.6v0.6h-0.6zM319.2 81.0h0.6v0.6h-0.6zM327.2 79.6h0.6v0.6h-0.6zM324.9 78.1h0.6v0.6h-0.6zM330.7 90.4h0.6v0.6h-0.6zM328.1 74.7h0.6v0.6h-0.6zM321.0 91.6h0.6v0.6h-0.6zM323.9 82.2h0.6v0.6h-0.6zM325.6 75.2h0.6v0.6h-0.6zM327.0 84.1h0.6v0.6h-0.6zM326.0 79.3h0.6v0.6h-0.6zM326.1 79.1h0.6v0.6h-0.6zM327.6 91.9h0.6v0.6h-0.6zM327.4 87.6h0.6v0.6h-0.6zM326.5 65.1h0.6v0.6h-0.6zM327.2 82.1h0.6v0.6h-0.6zM324.8 82.0h0.6v0.6h-0.6zM320.0 80.2h0.6v0.6h-0.6zM326.6 93.9h0.6v0.6h-0.6zM322.5 77.7h0.6v0.6h-0.6zM329.1 77.8h0.6v0.6h-0.6zM331.1 84.4h0.6v0.6h-0.6zM321.7 90.9h0.6v0.6h-0.6zM329.9 74.0h0.6v0.6h-0.6zM329.5 82.0h0.6v0.6h-0.6zM329.3 81.3h0.6v0.6h-0.6zM319.5 87.5h0.6v0.6h-0.6zM327.5 98.7h0.6v0.6h-0.6zM330.0 88.9h0.6v0.6h-0.6zM323.7 80.4h0.6v0.6h-0.6zM323.6 78.2h0.6v0.6h-0.6zM323.6 66.2h0.6v0.6h-0.6zM325.1 83.8h0.6v0.6h-0.6zM332.7 89.3h0.6v0.6h-0.6zM323.0 88.0h0.6v0.6h-0.6zM320.6 79.8h0.6v0.6h-0.6zM318.5 94.1h0.6v0.6h-0.6zM326.4 75.8h0.6v0.6h-0.6zM324.3 90.6h0.6v0.6h-0.6zM326.1 86.7h0.6v0.6h-0.6zM321.8 79.5h0.6v0.6h-0.6zM324.8 90.4h0.6v0.6h-0.6zM321.8 76.2h0.6v0.6h-0.6zM328.2 77.5h0.6v0.6h-0.6zM327.9 85.7h0.6v0.6h-0.6zM327.3 96.2h0.6v0.6h-0.6zM326.7 89.4h0.6v0.6h-0.6zM321.6 79.1h0.6v0.6h-0.6zM326.6 94.7h0.6v0.6h-0.6zM329.0 100.2h0.6v0.6h-0.6zM325.5 85.4h0.6v0.6h-0.6zM327.7 84.1h0.6v0.6h-0.6zM324.3 76.7h0.6v0.6h-0.6zM327.7 76.5h0.6v0.6h-0.6zM326.1 74.1h0.6v0.6h-0.6zM328.0 76.8h0.6v0.6h-0.6zM327.2 72.9h0.6v0.6h-0.6zM323.1 92.2h0.6v0.6h-0.6zM321.9 84.5h0.6v0.6h-0.6zM323.0 67.8h0.6v0.6h-0.6zM325.5 87.0h0.6v0.6h-0.6zM321.0 88.0h0.6v0.6h-0.6zM322.0 77.0h0.6v0.6h-0.6zM324.5 79.2h0.6v0.6h-0.6zM331.8 73.1h0.6v0.6h-0.6zM326.9 90.9h0.6v0.6h-0.6zM318.2 71.9h0.6v0.6h-0.6zM326.3 80.6h0.6v0.6h-0.6zM325.7 92.0h0.6v0.6h-0.6zM323.3 76.6h0.6v0.6h-0.6zM315.8 85.4h0.6v0.6h-0.6zM321.5 86.2h0.6v0.6h-0.6zM325.2 74.3h0.6v0.6h-0.6zM330.0 91.6h0.6v0.6h-0.6zM327.2 75.7h0.6v0.6h-0.6zM323.2 80.2h0.6v0.6h-0.6zM323.2 76.1h0.6v0.6h-0.6zM325.9 85.6h0.6v0.6h-0.6zM325.7 80.5h0.6v0.6h-0.6zM328.6 85.3h0.6v0.6h-0.6zM315.7 79.5h0.6v0.6h-0.6zM324.3 90.8h0.6v0.6h-0.6zM323.5 82.2h0.6v0.6h-0.6zM322.4 88.7h0.6v0.6h-0.6zM323.1 79.8h0.6v0.6h-0.6zM322.1 87.9h0.6v0.6h-0.6zM322.8 72.3h0.6v0.6h-0.6zM326.5 79.1h0.6v0.6h-0.6zM325.6 86.6h0.6v0.6h-0.6zM328.4 91.3h0.6v0.6h-0.6zM322.7 82.8h0.6v0.6h-0.6zM320.4 95.7h0.6v0.6h-0.6zM325.9 93.8h0.6v0.6h-0.6zM323.5 69.7h0.6v0.6h-0.6zM329.4 84.7h0.6v0.6h-0.6zM324.9 84.4h0.6v0.6h-0.6zM326.6 87.7h0.6v0.6h-0.6zM319.4 91.6h0.6v0.6h-0.6zM322.8 80.7h0.6v0.6h-0.6zM330.0 90.4h0.6v0.6h-0.6zM323.4 71.0h0.6v0.6h-0.6zM325.0 87.8h0.6v0.6h-0.6zM324.2 75.3h0.6v0.6h-0.6zM322.0 75.2h0.6v0.6h-0.6zM325.2 89.7h0.6v0.6h-0.6zM327.8 78.9h0.6v0.6h-0.6zM325.3 87.9h0.6v0.6h-0.6zM322.9 83.0h0.6v0.6h-0.6zM331.3 85.4h0.6v0.6h-0.6zM327.3 81.0h0.6v0.6h-0.6zM324.6 72.0h0.6v0.6h-0.6zM324.4 92.3h0.6v0.6h-0.6zM331.2 92.4h0.6v0.6h-0.6zM326.7 84.4h0.6v0.6h-0.6zM322.6 82.9h0.6v0.6h-0.6zM326.5 78.5h0.6v0.6h-0.6zM327.5 77.1h0.6v0.6h-0.6z" fill="#f07068" opacity="1.0"/>
</g>
<g clip-path="url(#clip4)">
<ellipse cx="344" cy="85.5" rx="14" ry="10" fill="#b6e2aa" opacity="0.9" transform="rotate(0 344 85.5)" filter="url(#b3)"/>
<path d="M327.0 79.9h0.6v0.6h-0.6zM328.0 77.8h0.6v0.6h-0.6zM353.2 84.8h0.6v0.6h-0.6zM345.0 92.9h0.6v0.6h-0.6zM354.3 83.0h0.6v0.6h-0.6zM355.0 88.3h0.6v0.6h-0.6zM343.0 88.7h0.6v0.6h-0.6zM330.2 81.3h0.6v0.6h-0.6zM342.0 89.7h0.6v0.6h-0.6zM339.7 85.2h0.6v0.6h-0.6zM351.7 94.5h0.6v0.6h-0.6zM349.9 93.6h0.6v0.6h-0.6zM339.4 84.2h0.6v0.6h-0.6zM345.9 84.2h0.6v0.6h-0.6zM338.4 95.9h0.6v0.6h-0.6zM341.2 80.2h0.6v0.6h-0.6zM347.4 97.0h0.6v0.6h-0.6zM343.7 93.4h0.6v0.6h-0.6zM339.1 83.1h0.6v0.6h-0.6zM336.8 85.1h0.6v0.6h-0.6zM359.5 79.1h0.6v0.6h-0.6zM357.7 79.9h0.6v0.6h-0.6zM340.9 91.0h0.6v0.6h-0.6zM348.7 87.7h0.6v0.6h-0.6zM328.2 88.2h0.6v0.6h-0.6zM333.8 101.4h0.6v0.6h-0.6zM341.1 87.1h0.6v0.6h-0.6zM332.7 83.1h0.6v0.6h-0.6zM331.4 91.9h0.6v0.6h-0.6zM340.6 89.4h0.6v0.6h-0.6zM336.8 83.0h0.6v0.6h-0.6zM354.6 80.2h0.6v0.6h-0.6zM326.8 88.4h0.6v0.6h-0.6zM332.7 83.4h0.6v0.6h-0.6zM351.2 81.1h0.6v0.6h-0.6zM350.9 81.9h0.6v0.6h-0.6zM356.4 94.0h0.6v0.6h-0.6zM338.8 84.7h0.6v0.6h-0.6zM335.5 87.2h0.6v0.6h-0.6zM353.3 77.3h0.6v0.6h-0.6zM351.3 78.1h0.6v0.6h-0.6zM335.3 75.3h0.6v0.6h-0.6zM361.9 86.4h0.6v0.6h-0.6zM345.2 81.9h0.6v0.6h-0.6zM352.6 73.4h0.6v0.6h-0.6zM343.2 99.2h0.6v0.6h-0.6zM339.6 86.1h0.6v0.6h-0.6zM349.1 81.1h0.6v0.6h-0.6zM343.2 91.8h0.6v0.6h-0.6zM344.7 88.2h0.6v0.6h-0.6zM339.9 87.9h0.6v0.6h-0.6zM343.5 94.7h0.6v0.6h-0.6zM349.5 84.5h0.6v0.6h-0.6zM321.0 90.3h0.6v0.6h-0.6zM349.8 80.5h0.6v0.6h-0.6zM325.0 79.1h0.6v0.6h-0.6zM351.3 79.6h0.6v0.6h-0.6zM338.9 87.3h0.6v0.6h-0.6zM354.0 85.9h0.6v0.6h-0.6zM342.1 82.7h0.6v0.6h-0.6zM357.7 92.4h0.6v0.6h-0.6zM342.1 77.6h0.6v0.6h-0.6zM335.9 89.5h0.6v0.6h-0.6zM336.5 91.4h0.6v0.6h-0.6zM346.3 87.8h0.6v0.6h-0.6zM348.9 89.0h0.6v0.6h-0.6zM335.3 84.0h0.6v0.6h-0.6zM364.1 78.8h0.6v0.6h-0.6zM338.7 92.4h0.6v0.6h-0.6zM341.6 81.1h0.6v0.6h-0.6zM331.1 89.2h0.6v0.6h-0.6zM352.2 94.4h0.6v0.6h-0.6zM343.5 92.3h0.6v0.6h-0.6zM333.7 87.0h0.6v0.6h-0.6zM336.9 87.0h0.6v0.6h-0.6zM349.8 92.4h0.6v0.6h-0.6zM334.1 93.6h0.6v0.6h-0.6zM338.7 79.8h0.6v0.6h-0.6zM341.5 77.2h0.6v0.6h-0.6zM343.0 87.7h0.6v0.6h-0.6zM341.2 89.2h0.6v0.6h-0.6zM340.2 86.0h0.6v0.6h-0.6zM330.0 86.3h0.6v0.6h-0.6zM335.3 83.3h0.6v0.6h-0.6zM342.2 87.1h0.6v0.6h-0.6zM328.2 76.6h0.6v0.6h-0.6zM340.3 88.8h0.6v0.6h-0.6zM346.2 91.4h0.6v0.6h-0.6zM354.7 89.0h0.6v0.6h-0.6zM342.8 79.8h0.6v0.6h-0.6zM334.5 83.2h0.6v0.6h-0.6zM345.4 87.3h0.6v0.6h-0.6zM343.0 85.1h0.6v0.6h-0.6zM348.7 87.2h0.6v0.6h-0.6zM345.7 87.9h0.6v0.6h-0.6zM338.1 79.8h0.6v0.6h-0.6zM347.4 88.5h0.6v0.6h-0.6zM341.0 83.5h0.6v0.6h-0.6zM363.5 81.4h0.6v0.6h-0.6zM341.0 87.6h0.6v0.6h-0.6zM332.6 86.7h0.6v0.6h-0.6zM359.2 91.6h0.6v0.6h-0.6zM348.7 89.6h0.6v0.6h-0.6zM344.0 91.8h0.6v0.6h-0.6zM341.6 83.5h0.6v0.6h-0.6zM343.9 91.4h0.6v0.6h-0.6zM346.0 90.0h0.6v0.6h-0.6zM324.8 93.2h0.6v0.6h-0.6zM364.1 94.0h0.6v0.6h-0.6zM340.1 80.9h0.6v0.6h-0.6zM345.5 80.1h0.6v0.6h-0.6zM349.5 82.8h0.6v0.6h-0.6zM351.6 94.2h0.6v0.6h-0.6zM324.7 87.8h0.6v0.6h-0.6zM336.7 77.5h0.6v0.6h-0.6zM337.4 84.7h0.6v0.6h-0.6zM352.3 76.9h0.6v0.6h-0.6zM352.5 98.1h0.6v0.6h-0.6zM348.4 89.3h0.6v0.6h-0.6zM342.9 78.9h0.6v0.6h-0.6zM347.8 88.3h0.6v0.6h-0.6zM349.6 101.4h0.6v0.6h-0.6zM349.6 88.6h0.6v0.6h-0.6zM357.1 77.9h0.6v0.6h-0.6zM332.7 83.7h0.6v0.6h-0.6zM337.1 90.2h0.6v0.6h-0.6zM340.1 96.4h0.6v0.6h-0.6zM356.7 90.6h0.6v0.6h-0.6zM339.5 89.7h0.6v0.6h-0.6zM350.3 79.6h0.6v0.6h-0.6zM346.1 90.2h0.6v0.6h-0.6zM344.9 95.4h0.6v0.6h-0.6zM353.9 81.0h0.6v0.6h-0.6zM344.1 81.0h0.6v0.6h-0.6zM348.2 80.8h0.6v0.6h-0.6zM351.3 88.3h0.6v0.6h-0.6zM351.7 85.1h0.6v0.6h-0.6zM329.9 96.6h0.6v0.6h-0.6zM341.4 94.3h0.6v0.6h-0.6zM346.9 90.0h0.6v0.6h-0.6zM359.5 88.0h0.6v0.6h-0.6zM355.6 77.1h0.6v0.6h-0.6zM350.8 84.5h0.6v0.6h-0.6zM341.8 86.1h0.6v0.6h-0.6zM346.1 95.9h0.6v0.6h-0.6zM326.3 86.3h0.6v0.6h-0.6zM336.6 93.0h0.6v0.6h-0.6zM339.2 88.7h0.6v0.6h-0.6zM339.4 90.0h0.6v0.6h-0.6zM352.1 83.6h0.6v0.6h-0.6zM343.4 77.5h0.6v0.6h-0.6zM345.7 91.1h0.6v0.6h-0.6zM338.0 92.7h0.6v0.6h-0.6zM324.3 74.9h0.6v0.6h-0.6zM330.5 83.1h0.6v0.6h-0.6zM343.2 85.5h0.6v0.6h-0.6zM342.4 90.3h0.6v0.6h-0.6zM338.8 78.4h0.6v0.6h-0.6zM331.8 98.7h0.6v0.6h-0.6zM321.8 84.9h0.6v0.6h-0.6zM356.1 88.9h0.6v0.6h-0.6zM335.5 86.0h0.6v0.6h-0.6zM350.8 93.2h0.6v0.6h-0.6zM334.9 90.6h0.6v0.6h-0.6zM345.3 92.6h0.6v0.6h-0.6zM355.5 83.9h0.6v0.6h-0.6zM330.0 88.4h0.6v0.6h-0.6zM359.0 90.1h0.6v0.6h-0.6zM345.1 100.4h0.6v0.6h-0.6zM333.6 91.4h0.6v0.6h-0.6zM337.9 86.3h0.6v0.6h-0.6zM343.8 95.1h0.6v0.6h-0.6zM334.6 82.8h0.6v0.6h-0.6zM328.7 88.9h0.6v0.6h-0.6zM338.9 88.5h0.6v0.6h-0.6zM333.3 83.8h0.6v0.6h-0.6zM352.4 85.0h0.6v0.6h-0.6zM348.6 89.2h0.6v0.6h-0.6zM339.8 76.6h0.6v0.6h-0.6zM351.9 87.0h0.6v0.6h-0.6zM351.8 73.9h0.6v0.6h-0.6zM328.1 73.1h0.6v0.6h-0.6zM335.1 92.3h0.6v0.6h-0.6zM348.1 85.8h0.6v0.6h-0.6zM344.2 90.6h0.6v0.6h-0.6zM340.3 88.4h0.6v0.6h-0.6zM344.3 72.9h0.6v0.6h-0.6zM339.5 94.2h0.6v0.6h-0.6zM339.4 85.1h0.6v0.6h-0.6zM337.5 83.1h0.6v0.6h-0.6zM353.1 84.4h0.6v0.6h-0.6zM333.8 67.3h0.6v0.6h-0.6zM337.8 74.2h0.6v0.6h-0.6zM326.6 90.8h0.6v0.6h-0.6zM349.4 74.5h0.6v0.6h-0.6zM350.7 88.8h0.6v0.6h-0.6zM335.9 90.4h0.6v0.6h-0.6zM328.4 78.8h0.6v0.6h-0.6zM330.0 79.3h0.6v0.6h-0.6zM350.9 78.0h0.6v0.6h-0.6zM332.6 80.3h0.6v0.6h-0.6zM344.8 84.0h0.6v0.6h-0.6zM350.8 81.7h0.6v0.6h-0.6zM331.4 83.0h0.6v0.6h-0.6zM343.3 80.4h0.6v0.6h-0.6zM345.5 96.9h0.6v0.6h-0.6zM337.7 86.2h0.6v0.6h-0.6zM355.1 82.1h0.6v0.6h-0.6zM335.3 79.4h0.6v0.6h-0.6zM346.5 89.0h0.6v0.6h-0.6zM341.5 86.2h0.6v0.6h-0.6zM354.3 91.1h0.6v0.6h-0.6zM330.2 85.8h0.6v0.6h-0.6zM343.8 90.2h0.6v0.6h-0.6zM340.8 82.0h0.6v0.6h-0.6zM338.7 75.2h0.6v0.6h-0.6zM342.5 82.3h0.6v0.6h-0.6zM346.9 79.7h0.6v0.6h-0.6zM338.8 79.9h0.6v0.6h-0.6zM333.1 90.0h0.6v0.6h-0.6zM338.5 88.5h0.6v0.6h-0.6zM332.6 86.4h0.6v0.6h-0.6zM327.5 82.9h0.6v0.6h-0.6zM338.1 89.3h0.6v0.6h-0.6zM344.3 84.7h0.6v0.6h-0.6zM350.2 86.9h0.6v0.6h-0.6zM347.5 90.3h0.6v0.6h-0.6zM342.0 84.0h0.6v0.6h-0.6zM345.6 83.2h0.6v0.6h-0.6zM346.1 92.4h0.6v0.6h-0.6zM350.3 83.4h0.6v0.6h-0.6zM331.0 85.4h0.6v0.6h-0.6zM341.5 92.4h0.6v0.6h-0.6zM339.1 84.5h0.6v0.6h-0.6zM349.2 82.9h0.6v0.6h-0.6zM341.2 96.0h0.6v0.6h-0.6zM356.0 89.5h0.6v0.6h-0.6zM345.0 79.9h0.6v0.6h-0.6zM347.6 86.1h0.6v0.6h-0.6zM344.6 82.6h0.6v0.6h-0.6zM342.5 84.6h0.6v0.6h-0.6zM345.4 94.3h0.6v0.6h-0.6zM345.8 75.8h0.6v0.6h-0.6zM333.9 76.2h0.6v0.6h-0.6zM335.4 89.1h0.6v0.6h-0.6zM346.2 82.1h0.6v0.6h-0.6zM345.0 81.2h0.6v0.6h-0.6zM329.8 77.3h0.6v0.6h-0.6zM334.9 94.2h0.6v0.6h-0.6zM330.5 93.2h0.6v0.6h-0.6zM354.5 84.6h0.6v0.6h-0.6zM342.1 82.0h0.6v0.6h-0.6zM342.3 89.6h0.6v0.6h-0.6zM342.6 91.7h0.6v0.6h-0.6zM353.2 87.8h0.6v0.6h-0.6zM345.5 85.3h0.6v0.6h-0.6zM345.7 79.0h0.6v0.6h-0.6zM346.2 86.9h0.6v0.6h-0.6zM334.8 98.6h0.6v0.6h-0.6zM333.8 80.5h0.6v0.6h-0.6zM345.0 74.1h0.6v0.6h-0.6zM335.4 76.6h0.6v0.6h-0.6zM333.8 84.9h0.6v0.6h-0.6zM345.4 92.3h0.6v0.6h-0.6zM349.8 92.8h0.6v0.6h-0.6zM347.8 82.9h0.6v0.6h-0.6zM352.5 82.8h0.6v0.6h-0.6zM337.0 94.8h0.6v0.6h-0.6zM349.6 87.0h0.6v0.6h-0.6zM349.3 90.9h0.6v0.6h-0.6zM330.3 85.1h0.6v0.6h-0.6zM331.9 86.4h0.6v0.6h-0.6zM336.5 93.8h0.6v0.6h-0.6zM347.2 80.8h0.6v0.6h-0.6zM342.3 78.4h0.6v0.6h-0.6zM342.9 88.9h0.6v0.6h-0.6zM344.9 74.1h0.6v0.6h-0.6zM339.5 88.7h0.6v0.6h-0.6zM345.2 92.6h0.6v0.6h-0.6zM330.9 88.8h0.6v0.6h-0.6zM336.6 86.8h0.6v0.6h-0.6zM346.1 89.8h0.6v0.6h-0.6zM337.3 86.8h0.6v0.6h-0.6zM332.0 77.2h0.6v0.6h-0.6zM347.5 85.3h0.6v0.6h-0.6zM327.9 80.6h0.6v0.6h-0.6zM342.7 95.0h0.6v0.6h-0.6zM351.9 90.4h0.6v0.6h-0.6zM326.4 85.1h0.6v0.6h-0.6zM346.8 88.0h0.6v0.6h-0.6zM346.2 84.3h0.6v0.6h-0.6zM358.3 94.5h0.6v0.6h-0.6zM341.6 79.8h0.6v0.6h-0.6zM361.0 82.3h0.6v0.6h-0.6zM353.2 97.1h0.6v0.6h-0.6zM334.0 87.4h0.6v0.6h-0.6zM339.3 88.7h0.6v0.6h-0.6zM345.4 97.3h0.6v0.6h-0.6zM347.8 85.6h0.6v0.6h-0.6zM352.6 84.0h0.6v0.6h-0.6zM339.2 99.1h0.6v0.6h-0.6zM335.1 82.7h0.6v0.6h-0.6zM342.9 79.3h0.6v0.6h-0.6zM323.5 92.0h0.6v0.6h-0.6zM335.4 82.4h0.6v0.6h-0.6zM339.1 79.8h0.6v0.6h-0.6zM332.8 86.6h0.6v0.6h-0.6zM364.0 90.1h0.6v0.6h-0.6zM349.2 76.6h0.6v0.6h-0.6zM342.3 78.5h0.6v0.6h-0.6zM349.4 84.3h0.6v0.6h-0.6zM342.8 85.1h0.6v0.6h-0.6zM337.2 76.5h0.6v0.6h-0.6zM347.7 77.3h0.6v0.6h-0.6zM331.8 83.9h0.6v0.6h-0.6zM336.1 87.2h0.6v0.6h-0.6zM351.6 87.1h0.6v0.6h-0.6zM344.2 85.8h0.6v0.6h-0.6zM350.2 74.6h0.6v0.6h-0.6zM345.8 80.0h0.6v0.6h-0.6zM331.4 85.7h0.6v0.6h-0.6zM339.0 89.1h0.6v0.6h-0.6zM352.4 71.7h0.6v0.6h-0.6zM341.8 97.4h0.6v0.6h-0.6zM350.3 94.3h0.6v0.6h-0.6zM343.4 77.0h0.6v0.6h-0.6zM332.3 89.9h0.6v0.6h-0.6zM351.1 81.3h0.6v0.6h-0.6zM340.1 87.2h0.6v0.6h-0.6zM326.7 83.5h0.6v0.6h-0.6zM357.0 98.8h0.6v0.6h-0.6zM341.5 96.6h0.6v0.6h-0.6zM337.7 80.8h0.6v0.6h-0.6zM322.3 91.4h0.6v0.6h-0.6zM339.1 99.7h0.6v0.6h-0.6zM345.5 86.8h0.6v0.6h-0.6zM326.2 94.7h0.6v0.6h-0.6zM339.2 84.7h0.6v0.6h-0.6zM322.6 91.2h0.6v0.6h-0.6zM351.4 82.0h0.6v0.6h-0.6zM343.3 88.0h0.6v0.6h-0.6zM351.2 86.3h0.6v0.6h-0.6zM358.0 84.2h0.6v0.6h-0.6zM337.0 82.9h0.6v0.6h-0.6zM319.7 80.8h0.6v0.6h-0.6zM351.6 87.3h0.6v0.6h-0.6zM335.1 87.8h0.6v0.6h-0.6zM324.3 84.0h0.6v0.6h-0.6zM347.2 89.9h0.6v0.6h-0.6zM335.5 91.1h0.6v0.6h-0.6zM359.3 83.1h0.6v0.6h-0.6zM349.2 76.3h0.6v0.6h-0.6zM324.9 89.4h0.6v0.6h-0.6zM342.9 86.9h0.6v0.6h-0.6zM337.3 83.9h0.6v0.6h-0.6zM349.8 96.0h0.6v0.6h-0.6zM340.6 75.8h0.6v0.6h-0.6zM354.0 89.3h0.6v0.6h-0.6zM348.7 86.8h0.6v0.6h-0.6zM363.5 86.1h0.6v0.6h-0.6zM347.2 74.6h0.6v0.6h-0.6zM337.3 81.6h0.6v0.6h-0.6zM342.3 87.8h0.6v0.6h-0.6zM335.8 96.1h0.6v0.6h-0.6zM332.9 83.0h0.6v0.6h-0.6zM344.7 78.2h0.6v0.6h-0.6zM347.7 89.5h0.6v0.6h-0.6zM339.9 97.2h0.6v0.6h-0.6zM343.3 87.4h0.6v0.6h-0.6zM333.9 75.6h0.6v0.6h-0.6zM336.9 83.8h0.6v0.6h-0.6zM338.4 90.3h0.6v0.6h-0.6zM321.0 78.9h0.6v0.6h-0.6zM326.1 93.7h0.6v0.6h-0.6zM337.5 82.6h0.6v0.6h-0.6zM332.6 91.1h0.6v0.6h-0.6zM338.8 87.0h0.6v0.6h-0.6zM324.2 92.7h0.6v0.6h-0.6zM346.1 89.0h0.6v0.6h-0.6zM353.7 84.5h0.6v0.6h-0.6zM341.0 90.0h0.6v0.6h-0.6zM346.4 84.2h0.6v0.6h-0.6zM342.9 82.7h0.6v0.6h-0.6zM349.0 91.3h0.6v0.6h-0.6zM342.6 97.0h0.6v0.6h-0.6zM328.7 84.3h0.6v0.6h-0.6zM358.0 83.2h0.6v0.6h-0.6zM328.1 94.1h0.6v0.6h-0.6zM347.5 78.5h0.6v0.6h-0.6zM349.6 79.6h0.6v0.6h-0.6zM330.5 84.8h0.6v0.6h-0.6zM338.2 79.1h0.6v0.6h-0.6zM339.3 79.7h0.6v0.6h-0.6zM343.1 85.6h0.6v0.6h-0.6zM349.3 83.0h0.6v0.6h-0.6zM330.6 77.8h0.6v0.6h-0.6zM340.4 95.0h0.6v0.6h-0.6zM350.2 81.9h0.6v0.6h-0.6zM351.1 78.7h0.6v0.6h-0.6zM351.7 83.4h0.6v0.6h-0.6zM349.5 89.5h0.6v0.6h-0.6zM340.1 87.7h0.6v0.6h-0.6zM332.9 85.3h0.6v0.6h-0.6zM352.4 110.4h0.6v0.6h-0.6zM348.9 86.2h0.6v0.6h-0.6zM333.4 92.1h0.6v0.6h-0.6zM327.6 80.9h0.6v0.6h-0.6zM345.8 78.5h0.6v0.6h-0.6zM356.5 92.3h0.6v0.6h-0.6zM337.5 82.4h0.6v0.6h-0.6zM330.7 77.3h0.6v0.6h-0.6zM346.6 89.5h0.6v0.6h-0.6zM345.8 87.3h0.6v0.6h-0.6zM337.5 87.9h0.6v0.6h-0.6zM329.3 85.8h0.6v0.6h-0.6zM355.9 93.7h0.6v0.6h-0.6zM338.4 83.7h0.6v0.6h-0.6zM355.0 96.5h0.6v0.6h-0.6zM329.1 83.2h0.6v0.6h-0.6zM344.7 93.1h0.6v0.6h-0.6zM335.0 89.6h0.6v0.6h-0.6zM339.9 100.0h0.6v0.6h-0.6zM346.5 84.9h0.6v0.6h-0.6zM339.6 92.1h0.6v0.6h-0.6zM348.7 79.2h0.6v0.6h-0.6zM344.6 77.7h0.6v0.6h-0.6zM335.8 77.9h0.6v0.6h-0.6zM330.6 81.6h0.6v0.6h-0.6zM333.7 88.9h0.6v0.6h-0.6zM349.8 84.3h0.6v0.6h-0.6zM332.5 90.6h0.6v0.6h-0.6zM324.3 74.1h0.6v0.6h-0.6zM349.2 89.7h0.6v0.6h-0.6zM351.4 84.4h0.6v0.6h-0.6zM331.2 82.7h0.6v0.6h-0.6zM347.7 81.1h0.6v0.6h-0.6zM336.3 77.3h0.6v0.6h-0.6zM332.1 90.8h0.6v0.6h-0.6zM346.7 78.7h0.6v0.6h-0.6zM332.8 82.3h0.6v0.6h-0.6zM347.6 78.7h0.6v0.6h-0.6zM341.1 72.8h0.6v0.6h-0.6zM331.2 88.3h0.6v0.6h-0.6zM350.7 78.8h0.6v0.6h-0.6zM335.6 90.5h0.6v0.6h-0.6zM339.1 82.5h0.6v0.6h-0.6zM347.3 86.9h0.6v0.6h-0.6zM352.6 90.5h0.6v0.6h-0.6zM337.4 85.0h0.6v0.6h-0.6zM342.1 77.6h0.6v0.6h-0.6zM333.8 91.6h0.6v0.6h-0.6zM328.3 91.7h0.6v0.6h-0.6zM345.2 84.9h0.6v0.6h-0.6zM347.5 88.6h0.6v0.6h-0.6zM353.5 83.3h0.6v0.6h-0.6zM340.6 84.3h0.6v0.6h-0.6zM359.6 91.4h0.6v0.6h-0.6zM334.3 83.7h0.6v0.6h-0.6zM336.2 85.8h0.6v0.6h-0.6zM344.6 99.6h0.6v0.6h-0.6zM326.1 91.9h0.6v0.6h-0.6zM346.6 81.5h0.6v0.6h-0.6zM341.3 82.8h0.6v0.6h-0.6zM343.1 91.8h0.6v0.6h-0.6zM328.9 93.7h0.6v0.6h-0.6zM339.3 94.8h0.6v0.6h-0.6zM346.4 93.2h0.6v0.6h-0.6zM347.8 92.3h0.6v0.6h-0.6zM343.2 80.8h0.6v0.6h-0.6zM348.7 90.1h0.6v0.6h-0.6zM361.6 73.7h0.6v0.6h-0.6zM340.9 92.2h0.6v0.6h-0.6zM331.4 84.4h0.6v0.6h-0.6zM361.8 94.3h0.6v0.6h-0.6zM334.8 94.4h0.6v0.6h-0.6zM353.4 90.5h0.6v0.6h-0.6zM346.1 87.2h0.6v0.6h-0.6zM334.9 82.7h0.6v0.6h-0.6zM349.3 86.7h0.6v0.6h-0.6zM359.4 83.8h0.6v0.6h-0.6zM321.1 83.8h0.6v0.6h-0.6zM345.2 88.1h0.6v0.6h-0.6zM343.3 80.9h0.6v0.6h-0.6zM356.2 81.8h0.6v0.6h-0.6zM349.2 84.1h0.6v0.6h-0.6zM332.0 94.3h0.6v0.6h-0.6zM320.1 80.7h0.6v0.6h-0.6zM346.7 83.7h0.6v0.6h-0.6zM349.5 85.2h0.6v0.6h-0.6zM338.7 98.8h0.6v0.6h-0.6zM340.8 84.9h0.6v0.6h-0.6zM333.0 81.4h0.6v0.6h-0.6zM348.6 89.2h0.6v0.6h-0.6zM342.8 81.7h0.6v0.6h-0.6zM349.0 75.6h0.6v0.6h-0.6zM339.7 84.4h0.6v0.6h-0.6zM335.2 86.8h0.6v0.6h-0.6zM336.8 81.1h0.6v0.6h-0.6zM359.1 90.3h0.6v0.6h-0.6zM353.7 86.2h0.6v0.6h-0.6z" fill="#86c878" opacity="1.0"/>
<path d="M349.8 88.3h0.6v0.6h-0.6zM350.8 93.1h0.6v0.6h-0.6zM345.0 86.7h0.6v0.6h-0.6zM345.7 75.4h0.6v0.6h-0.6zM340.4 86.0h0.6v0.6h-0.6zM348.5 84.2h0.6v0.6h-0.6zM350.5 89.8h0.6v0.6h-0.6zM344.3 90.3h0.6v0.6h-0.6zM353.0 87.4h0.6v0.6h-0.6zM342.1 90.4h0.6v0.6h-0.6zM345.3 84.9h0.6v0.6h-0.6zM346.5 84.4h0.6v0.6h-0.6zM350.3 88.3h0.6v0.6h-0.6zM350.9 87.7h0.6v0.6h-0.6zM342.8 85.5h0.6v0.6h-0.6zM349.5 84.8h0.6v0.6h-0.6zM357.7 85.3h0.6v0.6h-0.6zM343.7 89.4h0.6v0.6h-0.6zM349.0 85.9h0.6v0.6h-0.6zM345.1 87.3h0.6v0.6h-0.6zM349.3 88.3h0.6v0.6h-0.6zM344.8 87.3h0.6v0.6h-0.6zM349.4 88.3h0.6v0.6h-0.6zM333.7 83.3h0.6v0.6h-0.6zM342.9 85.3h0.6v0.6h-0.6zM346.7 88.8h0.6v0.6h-0.6zM348.5 85.6h0.6v0.6h-0.6zM346.1 91.3h0.6v0.6h-0.6zM343.5 86.9h0.6v0.6h-0.6zM352.3 87.0h0.6v0.6h-0.6zM337.8 87.1h0.6v0.6h-0.6zM344.5 85.7h0.6v0.6h-0.6zM350.2 87.4h0.6v0.6h-0.6zM344.9 88.7h0.6v0.6h-0.6zM347.7 86.3h0.6v0.6h-0.6zM347.2 86.8h0.6v0.6h-0.6zM344.6 84.6h0.6v0.6h-0.6zM346.1 83.1h0.6v0.6h-0.6zM341.0 89.9h0.6v0.6h-0.6zM345.0 85.9h0.6v0.6h-0.6zM345.5 86.1h0.6v0.6h-0.6zM346.1 86.2h0.6v0.6h-0.6zM342.8 88.8h0.6v0.6h-0.6zM343.2 89.1h0.6v0.6h-0.6zM338.3 82.8h0.6v0.6h-0.6zM350.0 85.6h0.6v0.6h-0.6zM343.3 87.1h0.6v0.6h-0.6zM341.8 86.2h0.6v0.6h-0.6zM337.1 84.6h0.6v0.6h-0.6zM343.4 87.6h0.6v0.6h-0.6zM349.5 83.4h0.6v0.6h-0.6zM352.4 84.2h0.6v0.6h-0.6zM337.8 78.9h0.6v0.6h-0.6zM352.2 85.7h0.6v0.6h-0.6zM343.4 83.8h0.6v0.6h-0.6zM341.6 90.1h0.6v0.6h-0.6zM345.7 91.4h0.6v0.6h-0.6zM345.2 78.9h0.6v0.6h-0.6zM349.4 84.9h0.6v0.6h-0.6zM345.1 90.7h0.6v0.6h-0.6z" fill="#3a8a30" opacity="1.0"/>
</g>
<rect x="330.2" y="68.0" width="32.60000000000002" height="28.5" fill="none" stroke="#666" stroke-width="0.7"/>
<text x="344.5" y="88.2" font-size="5.6" font-weight="bold" text-anchor="start" fill="#1a3a1a" textLength="8.5" lengthAdjust="spacingAndGlyphs">87%</text>
<line x1="365" y1="61" x2="373" y2="61" stroke="#000" stroke-width="0.9"/>
<path d="M375.5 61L372 59.4V62.6Z" fill="#000" stroke="none" stroke-width="1"/>
<line x1="407.1" y1="28.9" x2="407.1" y2="96.8" stroke="#888" stroke-width="0.7"/>
<line x1="405.6" y1="28.909999999999997" x2="407.1" y2="28.909999999999997" stroke="#888" stroke-width="0.6"/>
<text x="404.4" y="30.909999999999997" font-size="5.6" font-weight="normal" text-anchor="end" fill="#555">3</text>
<line x1="405.6" y1="40.225" x2="407.1" y2="40.225" stroke="#888" stroke-width="0.6"/>
<text x="404.4" y="42.225" font-size="5.6" font-weight="normal" text-anchor="end" fill="#555">2.5</text>
<line x1="405.6" y1="51.54" x2="407.1" y2="51.54" stroke="#888" stroke-width="0.6"/>
<text x="404.4" y="53.54" font-size="5.6" font-weight="normal" text-anchor="end" fill="#555">2</text>
<line x1="405.6" y1="62.855" x2="407.1" y2="62.855" stroke="#888" stroke-width="0.6"/>
<text x="404.4" y="64.85499999999999" font-size="5.6" font-weight="normal" text-anchor="end" fill="#555">1.5</text>
<line x1="405.6" y1="74.17" x2="407.1" y2="74.17" stroke="#888" stroke-width="0.6"/>
<text x="404.4" y="76.17" font-size="5.6" font-weight="normal" text-anchor="end" fill="#555">1</text>
<line x1="405.6" y1="85.485" x2="407.1" y2="85.485" stroke="#888" stroke-width="0.6"/>
<text x="404.4" y="87.485" font-size="5.6" font-weight="normal" text-anchor="end" fill="#555">0.5</text>
<line x1="405.6" y1="96.8" x2="407.1" y2="96.8" stroke="#888" stroke-width="0.6"/>
<text x="404.4" y="98.8" font-size="5.6" font-weight="normal" text-anchor="end" fill="#555">0</text>
<line x1="407.1" y1="96.8" x2="507.4" y2="96.8" stroke="#999" stroke-width="0.7"/>
<line x1="440.1" y1="96.8" x2="440.1" y2="98.2" stroke="#999" stroke-width="0.6"/>
<line x1="473.3" y1="96.8" x2="473.3" y2="98.2" stroke="#999" stroke-width="0.6"/>
<line x1="507.2" y1="96.8" x2="507.2" y2="98.2" stroke="#999" stroke-width="0.6"/>
<rect x="416.8" y="40.5" width="13.199999999999989" height="56.3" fill="#fff" stroke="#333" stroke-width="0.8"/>
<line x1="423.4" y1="33.6" x2="423.4" y2="47.3" stroke="#000" stroke-width="0.8"/>
<line x1="421.59999999999997" y1="33.6" x2="425.2" y2="33.6" stroke="#000" stroke-width="0.8"/>
<line x1="421.59999999999997" y1="47.3" x2="425.2" y2="47.3" stroke="#000" stroke-width="0.8"/>
<rect x="449.6" y="88.9" width="13.0" height="7.8999999999999915" fill="#a3a3a3" stroke="#444" stroke-width="0.7"/>
<line x1="452" y1="88.9" x2="460" y2="88.9" stroke="#000" stroke-width="0.9"/>
<rect x="482.6" y="95.9" width="13.799999999999955" height="0.8999999999999915" fill="#777" stroke="#333" stroke-width="0.5"/>
<path d="M423.6 19.900000000000002V19.3H497.2V21.8" fill="none" stroke="#000" stroke-width="1.1"/>
<text x="468.6" y="16.8" font-size="7" font-weight="bold" text-anchor="middle" fill="#000">**</text>
<path d="M423.6 28.900000000000002V28.3H452.4V30.8" fill="none" stroke="#000" stroke-width="1.1"/>
<text x="438.0" y="29.0" font-size="7" font-weight="bold" text-anchor="middle" fill="#000">*</text>
<text x="415.4" y="106.4" font-size="6.5" font-weight="bold" text-anchor="start" fill="#000" textLength="15.1" lengthAdjust="spacingAndGlyphs">CD34</text>
<text x="447.7" y="106.4" font-size="6.5" font-weight="bold" text-anchor="start" fill="#000" textLength="16.5" lengthAdjust="spacingAndGlyphs">CD14</text>
<text x="481.0" y="106.4" font-size="6.5" font-weight="bold" text-anchor="start" fill="#000" textLength="16.8" lengthAdjust="spacingAndGlyphs">CD15</text>
<text x="387.6" y="86.1" font-size="7.0" font-weight="bold" text-anchor="start" fill="#000" textLength="46" lengthAdjust="spacingAndGlyphs" transform="rotate(-90 387.6 86.1)">Relative value</text>
<text x="394.3" y="82.8" font-size="7.0" font-weight="bold" text-anchor="start" fill="#000" textLength="38.6" lengthAdjust="spacingAndGlyphs" transform="rotate(-90 394.3 82.8)">MN1 / HPRT</text>
<text x="0.4" y="145.5" font-size="11.8" font-weight="bold" text-anchor="start" fill="#000" stroke="#000" stroke-width="0.35">C</text>
<rect x="23.7" y="150.6" width="77.3" height="41.0" fill="#faf8f9" stroke="#8a8a8a" stroke-width="1"/>
<line x1="61.6" y1="150.6" x2="61.6" y2="191.6" stroke="#777" stroke-width="1"/>
<text x="36.0" y="150.2" font-size="7.2" font-weight="bold" text-anchor="start" fill="#000" textLength="17.2" lengthAdjust="spacingAndGlyphs">Mock</text>
<text x="75.7" y="149.9" font-size="7.2" font-weight="bold" text-anchor="start" fill="#000" textLength="13.5" lengthAdjust="spacingAndGlyphs">MN1</text>
<text x="13.3" y="180.2" font-size="7.0" font-weight="bold" text-anchor="start" fill="#000" textLength="21" lengthAdjust="spacingAndGlyphs" transform="rotate(-90 13.3 180.2)">M-CSF</text>
<text x="22.0" y="179.8" font-size="7.0" font-weight="bold" text-anchor="start" fill="#000" textLength="24.3" lengthAdjust="spacingAndGlyphs" transform="rotate(-90 22.0 179.8)">GFP (+)</text>
<g clip-path="url(#clip5)">
<g filter="url(#b0_4)">
<circle cx="39.1" cy="154.1" r="3.33" fill="#ad9fdf"/>
<circle cx="38.27" cy="153.57" r="1.83" fill="#5236a8" opacity="0.8"/>
<circle cx="39.26" cy="153.29" r="1.63" fill="#5236a8" opacity="0.8"/>
<circle cx="39.06" cy="153.42" r="1.79" fill="#5236a8" opacity="0.8"/>
<circle cx="45.2" cy="156.8" r="3.10" fill="#ad9fdf"/>
<circle cx="44.48" cy="156.60" r="1.56" fill="#5236a8" opacity="0.8"/>
<circle cx="45.07" cy="156.96" r="1.67" fill="#5236a8" opacity="0.8"/>
<circle cx="46.05" cy="156.40" r="1.63" fill="#5236a8" opacity="0.8"/>
<circle cx="51.2" cy="157.4" r="2.42" fill="#ad9fdf"/>
<circle cx="51.48" cy="157.10" r="1.01" fill="#5236a8" opacity="0.8"/>
<circle cx="51.89" cy="157.11" r="1.14" fill="#5236a8" opacity="0.8"/>
<circle cx="51.77" cy="157.52" r="1.20" fill="#5236a8" opacity="0.8"/>
<circle cx="41.3" cy="160.1" r="3.79" fill="#ad9fdf"/>
<circle cx="41.92" cy="159.03" r="2.02" fill="#5236a8" opacity="0.8"/>
<circle cx="41.01" cy="159.17" r="1.99" fill="#5236a8" opacity="0.8"/>
<circle cx="42.28" cy="159.43" r="1.98" fill="#5236a8" opacity="0.8"/>
<circle cx="45.7" cy="160.7" r="3.33" fill="#ad9fdf"/>
<circle cx="45.30" cy="161.18" r="1.79" fill="#5236a8" opacity="0.8"/>
<circle cx="45.14" cy="161.36" r="1.75" fill="#5236a8" opacity="0.8"/>
<circle cx="46.07" cy="161.34" r="1.63" fill="#5236a8" opacity="0.8"/>
<circle cx="31.9" cy="164.5" r="3.33" fill="#ad9fdf"/>
<circle cx="32.42" cy="165.26" r="1.46" fill="#5236a8" opacity="0.8"/>
<circle cx="32.60" cy="164.29" r="1.66" fill="#5236a8" opacity="0.8"/>
<circle cx="31.19" cy="164.90" r="1.56" fill="#5236a8" opacity="0.8"/>
<circle cx="41.8" cy="165.6" r="3.33" fill="#ad9fdf"/>
<circle cx="42.54" cy="165.15" r="1.70" fill="#5236a8" opacity="0.8"/>
<circle cx="41.60" cy="165.83" r="1.51" fill="#5236a8" opacity="0.8"/>
<circle cx="41.16" cy="166.09" r="1.80" fill="#5236a8" opacity="0.8"/>
<circle cx="54.0" cy="164.5" r="3.56" fill="#ad9fdf"/>
<circle cx="54.14" cy="165.40" r="1.61" fill="#5236a8" opacity="0.8"/>
<circle cx="54.75" cy="163.79" r="2.05" fill="#5236a8" opacity="0.8"/>
<circle cx="54.26" cy="164.73" r="2.05" fill="#5236a8" opacity="0.8"/>
<circle cx="49.6" cy="167.8" r="3.33" fill="#ad9fdf"/>
<circle cx="50.17" cy="168.38" r="1.43" fill="#5236a8" opacity="0.8"/>
<circle cx="49.34" cy="166.97" r="1.50" fill="#5236a8" opacity="0.8"/>
<circle cx="49.03" cy="168.52" r="1.47" fill="#5236a8" opacity="0.8"/>
<circle cx="43.5" cy="171.2" r="3.10" fill="#ad9fdf"/>
<circle cx="43.12" cy="171.19" r="1.73" fill="#5236a8" opacity="0.8"/>
<circle cx="44.37" cy="171.59" r="1.41" fill="#5236a8" opacity="0.8"/>
<circle cx="43.58" cy="171.58" r="1.33" fill="#5236a8" opacity="0.8"/>
<circle cx="34.1" cy="174.5" r="3.33" fill="#ad9fdf"/>
<circle cx="34.46" cy="174.24" r="1.72" fill="#5236a8" opacity="0.8"/>
<circle cx="34.44" cy="174.84" r="1.68" fill="#5236a8" opacity="0.8"/>
<circle cx="34.21" cy="173.90" r="1.66" fill="#5236a8" opacity="0.8"/>
<circle cx="39.6" cy="173.9" r="3.33" fill="#ad9fdf"/>
<circle cx="38.85" cy="173.86" r="1.69" fill="#5236a8" opacity="0.8"/>
<circle cx="40.15" cy="173.69" r="1.41" fill="#5236a8" opacity="0.8"/>
<circle cx="39.66" cy="173.31" r="1.80" fill="#5236a8" opacity="0.8"/>
<circle cx="43.5" cy="176.7" r="2.88" fill="#ad9fdf"/>
<circle cx="43.31" cy="176.49" r="1.63" fill="#5236a8" opacity="0.8"/>
<circle cx="43.32" cy="176.44" r="1.37" fill="#5236a8" opacity="0.8"/>
<circle cx="43.47" cy="176.00" r="1.46" fill="#5236a8" opacity="0.8"/>
<circle cx="38.5" cy="180.0" r="3.10" fill="#ad9fdf"/>
<circle cx="39.29" cy="180.12" r="1.67" fill="#5236a8" opacity="0.8"/>
<circle cx="39.33" cy="180.64" r="1.67" fill="#5236a8" opacity="0.8"/>
<circle cx="39.08" cy="180.60" r="1.43" fill="#5236a8" opacity="0.8"/>
<circle cx="43.5" cy="182.2" r="2.99" fill="#ad9fdf"/>
<circle cx="43.47" cy="181.92" r="1.38" fill="#5236a8" opacity="0.8"/>
<circle cx="43.63" cy="181.87" r="1.55" fill="#5236a8" opacity="0.8"/>
<circle cx="43.65" cy="181.49" r="1.47" fill="#5236a8" opacity="0.8"/>
<circle cx="36.9" cy="184.9" r="3.10" fill="#ad9fdf"/>
<circle cx="36.69" cy="185.28" r="1.35" fill="#5236a8" opacity="0.8"/>
<circle cx="36.28" cy="184.92" r="1.51" fill="#5236a8" opacity="0.8"/>
<circle cx="37.21" cy="184.59" r="1.40" fill="#5236a8" opacity="0.8"/>
<circle cx="41.3" cy="187.7" r="2.99" fill="#ad9fdf"/>
<circle cx="42.07" cy="187.24" r="1.33" fill="#5236a8" opacity="0.8"/>
<circle cx="40.91" cy="187.41" r="1.36" fill="#5236a8" opacity="0.8"/>
<circle cx="41.37" cy="188.48" r="1.32" fill="#5236a8" opacity="0.8"/>
<circle cx="38.5" cy="156.8" r="3.22" fill="#ad9fdf"/>
<circle cx="38.34" cy="157.12" r="1.81" fill="#5236a8" opacity="0.8"/>
<circle cx="39.47" cy="156.11" r="1.63" fill="#5236a8" opacity="0.8"/>
<circle cx="39.24" cy="155.94" r="1.66" fill="#5236a8" opacity="0.8"/>
<circle cx="47.5" cy="163.5" r="2.76" fill="#ad9fdf"/>
<circle cx="46.96" cy="163.94" r="1.57" fill="#5236a8" opacity="0.8"/>
<circle cx="47.56" cy="162.69" r="1.19" fill="#5236a8" opacity="0.8"/>
<circle cx="47.36" cy="164.08" r="1.26" fill="#5236a8" opacity="0.8"/>
<circle cx="37.0" cy="168.5" r="2.64" fill="#ad9fdf"/>
<circle cx="37.27" cy="168.35" r="1.22" fill="#5236a8" opacity="0.8"/>
<circle cx="37.32" cy="168.20" r="1.27" fill="#5236a8" opacity="0.8"/>
<circle cx="37.42" cy="168.49" r="1.44" fill="#5236a8" opacity="0.8"/>
<circle cx="67.0" cy="162.3" r="3.68" fill="#ad9fdf"/>
<circle cx="67.04" cy="161.55" r="1.81" fill="#5236a8" opacity="0.8"/>
<circle cx="67.82" cy="162.44" r="2.11" fill="#5236a8" opacity="0.8"/>
<circle cx="65.90" cy="161.95" r="2.00" fill="#5236a8" opacity="0.8"/>
<circle cx="76.9" cy="166.1" r="3.91" fill="#c6b9e6"/>
<circle cx="77.34" cy="166.24" r="2.06" fill="#8270c4" opacity="0.8"/>
<circle cx="77.78" cy="166.53" r="1.98" fill="#8270c4" opacity="0.8"/>
<circle cx="77.05" cy="166.49" r="1.84" fill="#8270c4" opacity="0.8"/>
<circle cx="82.4" cy="155.1" r="3.22" fill="#ad9fdf"/>
<circle cx="82.73" cy="155.32" r="1.76" fill="#5236a8" opacity="0.8"/>
<circle cx="82.36" cy="154.19" r="1.63" fill="#5236a8" opacity="0.8"/>
<circle cx="83.09" cy="155.37" r="1.68" fill="#5236a8" opacity="0.8"/>
<circle cx="87.9" cy="153.5" r="3.22" fill="#ad9fdf"/>
<circle cx="87.69" cy="153.22" r="1.72" fill="#5236a8" opacity="0.8"/>
<circle cx="87.08" cy="154.21" r="1.80" fill="#5236a8" opacity="0.8"/>
<circle cx="88.79" cy="152.80" r="1.41" fill="#5236a8" opacity="0.8"/>
<circle cx="96.2" cy="151.0" r="2.64" fill="#ad9fdf"/>
<circle cx="96.83" cy="150.84" r="1.23" fill="#5236a8" opacity="0.8"/>
<circle cx="96.01" cy="151.25" r="1.18" fill="#5236a8" opacity="0.8"/>
<circle cx="96.18" cy="151.25" r="1.42" fill="#5236a8" opacity="0.8"/>
<circle cx="83.5" cy="160.1" r="2.42" fill="#ad9fdf"/>
<circle cx="82.79" cy="160.55" r="1.18" fill="#5236a8" opacity="0.8"/>
<circle cx="83.41" cy="160.19" r="1.12" fill="#5236a8" opacity="0.8"/>
<circle cx="84.06" cy="159.68" r="1.22" fill="#5236a8" opacity="0.8"/>
<circle cx="87.9" cy="160.1" r="3.45" fill="#ad9fdf"/>
<circle cx="87.21" cy="160.34" r="1.95" fill="#5236a8" opacity="0.8"/>
<circle cx="88.69" cy="159.34" r="1.79" fill="#5236a8" opacity="0.8"/>
<circle cx="88.71" cy="159.48" r="1.68" fill="#5236a8" opacity="0.8"/>
<circle cx="82.4" cy="171.1" r="3.45" fill="#ad9fdf"/>
<circle cx="82.84" cy="171.59" r="1.70" fill="#5236a8" opacity="0.8"/>
<circle cx="82.69" cy="171.45" r="1.64" fill="#5236a8" opacity="0.8"/>
<circle cx="82.71" cy="171.26" r="1.83" fill="#5236a8" opacity="0.8"/>
<circle cx="90.1" cy="168.3" r="3.22" fill="#ad9fdf"/>
<circle cx="90.12" cy="167.98" r="1.58" fill="#5236a8" opacity="0.8"/>
<circle cx="90.92" cy="167.70" r="1.43" fill="#5236a8" opacity="0.8"/>
<circle cx="89.16" cy="168.98" r="1.86" fill="#5236a8" opacity="0.8"/>
<circle cx="74.7" cy="174.4" r="2.42" fill="#ad9fdf"/>
<circle cx="74.32" cy="174.06" r="1.09" fill="#5236a8" opacity="0.8"/>
<circle cx="74.85" cy="174.38" r="1.33" fill="#5236a8" opacity="0.8"/>
<circle cx="74.28" cy="174.95" r="1.19" fill="#5236a8" opacity="0.8"/>
<circle cx="90.1" cy="176.6" r="3.10" fill="#ad9fdf"/>
<circle cx="90.67" cy="177.16" r="1.76" fill="#5236a8" opacity="0.8"/>
<circle cx="90.10" cy="176.80" r="1.58" fill="#5236a8" opacity="0.8"/>
<circle cx="89.52" cy="176.60" r="1.76" fill="#5236a8" opacity="0.8"/>
<circle cx="80.2" cy="181.0" r="3.10" fill="#ad9fdf"/>
<circle cx="80.96" cy="180.11" r="1.63" fill="#5236a8" opacity="0.8"/>
<circle cx="79.88" cy="180.32" r="1.37" fill="#5236a8" opacity="0.8"/>
<circle cx="80.75" cy="181.86" r="1.56" fill="#5236a8" opacity="0.8"/>
<circle cx="92.9" cy="182.1" r="3.22" fill="#ad9fdf"/>
<circle cx="92.67" cy="182.12" r="1.78" fill="#5236a8" opacity="0.8"/>
<circle cx="93.38" cy="181.26" r="1.46" fill="#5236a8" opacity="0.8"/>
<circle cx="93.61" cy="182.09" r="1.69" fill="#5236a8" opacity="0.8"/>
<circle cx="68.7" cy="184.3" r="3.45" fill="#ad9fdf"/>
<circle cx="69.27" cy="184.58" r="1.85" fill="#5236a8" opacity="0.8"/>
<circle cx="68.79" cy="183.74" r="1.55" fill="#5236a8" opacity="0.8"/>
<circle cx="69.72" cy="183.29" r="1.83" fill="#5236a8" opacity="0.8"/>
</g>
</g>
<line x1="92.3" y1="159" x2="94.6" y2="156.5" stroke="#333" stroke-width="0.7"/>
<line x1="92.9" y1="167.4" x2="95.0" y2="165.2" stroke="#333" stroke-width="0.7"/>
<line x1="92.9" y1="175.2" x2="95.0" y2="173.2" stroke="#333" stroke-width="0.7"/>
<line x1="73.4" y1="188.3" x2="76.6" y2="185.2" stroke="#333" stroke-width="0.7"/>
<line x1="75.8" y1="151.4" x2="77.8" y2="152.8" stroke="#333" stroke-width="0.7"/>
<line x1="18.2" y1="203.5" x2="18.2" y2="270.2" stroke="#000" stroke-width="1.0"/>
<line x1="16.4" y1="270.2" x2="18.2" y2="270.2" stroke="#000" stroke-width="0.8"/>
<text x="15.9" y="272.09999999999997" font-size="5.4" font-weight="normal" text-anchor="end" fill="#555" textLength="2.8" lengthAdjust="spacingAndGlyphs">0</text>
<line x1="16.4" y1="262.94399999999996" x2="18.2" y2="262.94399999999996" stroke="#000" stroke-width="0.8"/>
<text x="15.9" y="264.84399999999994" font-size="5.4" font-weight="normal" text-anchor="end" fill="#555" textLength="5.6" lengthAdjust="spacingAndGlyphs">10</text>
<line x1="16.4" y1="255.688" x2="18.2" y2="255.688" stroke="#000" stroke-width="0.8"/>
<text x="15.9" y="257.58799999999997" font-size="5.4" font-weight="normal" text-anchor="end" fill="#555" textLength="5.6" lengthAdjust="spacingAndGlyphs">20</text>
<line x1="16.4" y1="248.432" x2="18.2" y2="248.432" stroke="#000" stroke-width="0.8"/>
<text x="15.9" y="250.332" font-size="5.4" font-weight="normal" text-anchor="end" fill="#555" textLength="5.6" lengthAdjust="spacingAndGlyphs">30</text>
<line x1="16.4" y1="241.176" x2="18.2" y2="241.176" stroke="#000" stroke-width="0.8"/>
<text x="15.9" y="243.076" font-size="5.4" font-weight="normal" text-anchor="end" fill="#555" textLength="5.6" lengthAdjust="spacingAndGlyphs">40</text>
<line x1="16.4" y1="233.92" x2="18.2" y2="233.92" stroke="#000" stroke-width="0.8"/>
<text x="15.9" y="235.82" font-size="5.4" font-weight="normal" text-anchor="end" fill="#555" textLength="5.6" lengthAdjust="spacingAndGlyphs">50</text>
<line x1="16.4" y1="226.664" x2="18.2" y2="226.664" stroke="#000" stroke-width="0.8"/>
<text x="15.9" y="228.564" font-size="5.4" font-weight="normal" text-anchor="end" fill="#555" textLength="5.6" lengthAdjust="spacingAndGlyphs">60</text>
<line x1="16.4" y1="219.408" x2="18.2" y2="219.408" stroke="#000" stroke-width="0.8"/>
<text x="15.9" y="221.308" font-size="5.4" font-weight="normal" text-anchor="end" fill="#555" textLength="5.6" lengthAdjust="spacingAndGlyphs">70</text>
<line x1="16.4" y1="212.152" x2="18.2" y2="212.152" stroke="#000" stroke-width="0.8"/>
<text x="15.9" y="214.052" font-size="5.4" font-weight="normal" text-anchor="end" fill="#555" textLength="5.6" lengthAdjust="spacingAndGlyphs">80</text>
<line x1="16.4" y1="204.896" x2="18.2" y2="204.896" stroke="#000" stroke-width="0.8"/>
<text x="15.9" y="206.796" font-size="5.4" font-weight="normal" text-anchor="end" fill="#555" textLength="5.6" lengthAdjust="spacingAndGlyphs">90</text>
<line x1="18.2" y1="270.2" x2="57.5" y2="270.2" stroke="#000" stroke-width="1.0"/>
<line x1="75.0" y1="270.2" x2="116.0" y2="270.2" stroke="#000" stroke-width="0.9"/>
<line x1="67.0" y1="269.59999999999997" x2="67.0" y2="271.2" stroke="#000" stroke-width="0.8"/>
<rect x="22.0" y="241.176" width="5.5" height="29.024" fill="#fff" stroke="#222" stroke-width="0.8"/>
<line x1="24.75" y1="234.6456" x2="24.75" y2="248.432" stroke="#000" stroke-width="0.7"/>
<line x1="23.25" y1="234.6456" x2="26.25" y2="234.6456" stroke="#000" stroke-width="0.7"/>
<line x1="23.25" y1="248.432" x2="26.25" y2="248.432" stroke="#000" stroke-width="0.7"/>
<rect x="29.2" y="243.3528" width="5.5000000000000036" height="26.847199999999987" fill="#222" stroke="#222" stroke-width="0.8"/>
<rect x="41.2" y="229.5664" width="5.5" height="40.6336" fill="#fff" stroke="#222" stroke-width="0.8"/>
<line x1="43.95" y1="228.8408" x2="43.95" y2="230.29199999999997" stroke="#000" stroke-width="0.7"/>
<line x1="42.45" y1="228.8408" x2="45.45" y2="228.8408" stroke="#000" stroke-width="0.7"/>
<line x1="42.45" y1="230.29199999999997" x2="45.45" y2="230.29199999999997" stroke="#000" stroke-width="0.7"/>
<rect x="49.1" y="259.316" width="5.5" height="10.884000000000015" fill="#222" stroke="#222" stroke-width="0.8"/>
<rect x="80.9" y="206.3472" width="5.199999999999989" height="63.8528" fill="#fff" stroke="#222" stroke-width="0.8"/>
<rect x="88.5" y="210.7008" width="5.299999999999997" height="59.4992" fill="#222" stroke="#222" stroke-width="0.8"/>
<rect x="101.0" y="207.7984" width="5.5" height="62.4016" fill="#fff" stroke="#222" stroke-width="0.8"/>
<line x1="103.75" y1="206.3472" x2="103.75" y2="209.2496" stroke="#000" stroke-width="0.7"/>
<line x1="102.25" y1="206.3472" x2="105.25" y2="206.3472" stroke="#000" stroke-width="0.7"/>
<line x1="102.25" y1="209.2496" x2="105.25" y2="209.2496" stroke="#000" stroke-width="0.7"/>
<rect x="108.2" y="246.2552" width="5.5" height="23.944799999999987" fill="#222" stroke="#222" stroke-width="0.8"/>
<line x1="110.95" y1="244.44119999999998" x2="110.95" y2="247.70639999999997" stroke="#000" stroke-width="0.7"/>
<line x1="109.45" y1="244.44119999999998" x2="112.45" y2="244.44119999999998" stroke="#000" stroke-width="0.7"/>
<line x1="109.45" y1="247.70639999999997" x2="112.45" y2="247.70639999999997" stroke="#000" stroke-width="0.7"/>
<line x1="32.3" y1="221.1" x2="55.6" y2="221.1" stroke="#000" stroke-width="0.9"/>
<text x="45.3" y="221.7" font-size="6.5" font-weight="bold" text-anchor="middle" fill="#000">**</text>
<line x1="91.0" y1="200.8" x2="115.0" y2="200.8" stroke="#000" stroke-width="0.9"/>
<text x="102.6" y="201.0" font-size="6.5" font-weight="bold" text-anchor="middle" fill="#000">**</text>
<rect x="22.9" y="199.1" width="9.399999999999999" height="3.5" fill="#fff" stroke="#222" stroke-width="0.7"/>
<rect x="22.9" y="206.6" width="9.399999999999999" height="3.8000000000000114" fill="#222" stroke="#222" stroke-width="0.7"/>
<text x="33.7" y="203.0" font-size="6.4" font-weight="normal" text-anchor="start" fill="#333" textLength="17.8" lengthAdjust="spacingAndGlyphs">GFP (-)</text>
<text x="33.7" y="210.9" font-size="6.4" font-weight="normal" text-anchor="start" fill="#333" textLength="19.2" lengthAdjust="spacingAndGlyphs">GFP (+)</text>
<text x="19.7" y="278.3" font-size="7.0" font-weight="bold" text-anchor="start" fill="#000" textLength="16.7" lengthAdjust="spacingAndGlyphs">Mock</text>
<text x="40.8" y="278.3" font-size="7.0" font-weight="bold" text-anchor="start" fill="#000" textLength="13.8" lengthAdjust="spacingAndGlyphs">MN1</text>
<text x="80.0" y="278.3" font-size="7.0" font-weight="bold" text-anchor="start" fill="#000" textLength="16.0" lengthAdjust="spacingAndGlyphs">Mock</text>
<text x="100.5" y="278.3" font-size="7.0" font-weight="bold" text-anchor="start" fill="#000" textLength="13.4" lengthAdjust="spacingAndGlyphs">MN1</text>
<line x1="19.0" y1="281.3" x2="56.0" y2="281.3" stroke="#555" stroke-width="0.6"/>
<line x1="77.8" y1="281.3" x2="116.0" y2="281.3" stroke="#555" stroke-width="0.6"/>
<text x="25.6" y="289.8" font-size="7.0" font-weight="bold" text-anchor="start" fill="#000" textLength="22.2" lengthAdjust="spacingAndGlyphs">M-CSF</text>
<text x="77.3" y="289.8" font-size="7.0" font-weight="bold" text-anchor="start" fill="#000" textLength="41.7" lengthAdjust="spacingAndGlyphs">M-CSF+VitD3</text>
<text x="7.5" y="258.9" font-size="7.0" font-weight="bold" text-anchor="start" fill="#000" textLength="51.7" lengthAdjust="spacingAndGlyphs" transform="rotate(-90 7.5 258.9)">CD14+ cells (%)</text>
<text x="132.7" y="144.8" font-size="11.8" font-weight="bold" text-anchor="start" fill="#000" stroke="#000" stroke-width="0.35">D</text>
<line x1="158" y1="232.1" x2="305" y2="232.1" stroke="#888" stroke-width="0.6" stroke-dasharray="1.2 1.8"/>
<line x1="158" y1="216.3" x2="305" y2="216.3" stroke="#888" stroke-width="0.6" stroke-dasharray="1.2 1.8"/>
<line x1="158" y1="200.5" x2="305" y2="200.5" stroke="#888" stroke-width="0.6" stroke-dasharray="1.2 1.8"/>
<line x1="158" y1="184.7" x2="305" y2="184.7" stroke="#888" stroke-width="0.6" stroke-dasharray="1.2 1.8"/>
<line x1="158" y1="168.9" x2="305" y2="168.9" stroke="#888" stroke-width="0.6" stroke-dasharray="1.2 1.8"/>
<line x1="305" y1="168.9" x2="305" y2="247.9" stroke="#888" stroke-width="0.6" stroke-dasharray="1.2 1.8"/>
<line x1="158" y1="168.9" x2="158" y2="247.9" stroke="#aaa" stroke-width="0.6"/>
<line x1="158" y1="247.9" x2="305" y2="247.9" stroke="#aaa" stroke-width="0.6"/>
<text x="156.2" y="250.3" font-size="6.7" font-weight="bold" text-anchor="end" fill="#000" textLength="3.6" lengthAdjust="spacingAndGlyphs">0</text>
<text x="156.2" y="234.5" font-size="6.7" font-weight="bold" text-anchor="end" fill="#000" textLength="12.6" lengthAdjust="spacingAndGlyphs">0.05</text>
<text x="156.2" y="218.70000000000002" font-size="6.7" font-weight="bold" text-anchor="end" fill="#000" textLength="9.4" lengthAdjust="spacingAndGlyphs">0.1</text>
<text x="156.2" y="202.9" font-size="6.7" font-weight="bold" text-anchor="end" fill="#000" textLength="12.6" lengthAdjust="spacingAndGlyphs">0.15</text>
<text x="156.2" y="187.1" font-size="6.7" font-weight="bold" text-anchor="end" fill="#000" textLength="9.4" lengthAdjust="spacingAndGlyphs">0.2</text>
<text x="156.2" y="171.3" font-size="6.7" font-weight="bold" text-anchor="end" fill="#000" textLength="12.6" lengthAdjust="spacingAndGlyphs">0.25</text>
<text x="178.7" y="260.0" font-size="5.8" font-weight="bold" text-anchor="middle" fill="#000">0</text>
<text x="214.7" y="260.0" font-size="5.8" font-weight="bold" text-anchor="middle" fill="#000">2</text>
<text x="250.7" y="260.0" font-size="5.8" font-weight="bold" text-anchor="middle" fill="#000">4</text>
<text x="286.7" y="260.0" font-size="5.8" font-weight="bold" text-anchor="middle" fill="#000">6</text>
<text x="214.3" y="270.2" font-size="6.9" font-weight="bold" text-anchor="start" fill="#000" textLength="38.6" lengthAdjust="spacingAndGlyphs">Time (Days)</text>
<text x="196.6" y="162.6" font-size="6.8" font-weight="bold" text-anchor="start" fill="#000" textLength="69" lengthAdjust="spacingAndGlyphs">Progenitor cytokines</text>
<polyline points="178.7,240.3 214.7,231.8 250.7,217.2 286.7,196.4" fill="none" stroke="#5aa2e6" stroke-width="1.1"/>
<polyline points="178.7,240.3 214.7,226.7 250.7,206.2 286.7,181.5" fill="none" stroke="#3b1486" stroke-width="1.4"/>
<line x1="286.7" y1="173.2" x2="286.7" y2="189" stroke="#555" stroke-width="0.7"/>
<line x1="285.09999999999997" y1="173.2" x2="288.3" y2="173.2" stroke="#555" stroke-width="0.7"/>
<line x1="285.09999999999997" y1="189" x2="288.3" y2="189" stroke="#555" stroke-width="0.7"/>
<line x1="214.7" y1="231.15200000000002" x2="214.7" y2="232.416" stroke="#5aa2e6" stroke-width="0.6"/>
<line x1="213.5" y1="231.15200000000002" x2="215.89999999999998" y2="231.15200000000002" stroke="#5aa2e6" stroke-width="0.6"/>
<line x1="213.5" y1="232.416" x2="215.89999999999998" y2="232.416" stroke="#5aa2e6" stroke-width="0.6"/>
<line x1="250.7" y1="216.3" x2="250.7" y2="218.196" stroke="#5aa2e6" stroke-width="0.6"/>
<line x1="249.5" y1="216.3" x2="251.89999999999998" y2="216.3" stroke="#5aa2e6" stroke-width="0.6"/>
<line x1="249.5" y1="218.196" x2="251.89999999999998" y2="218.196" stroke="#5aa2e6" stroke-width="0.6"/>
<rect x="213.7" y="230.784" width="2.0" height="2.0" fill="#5aa2e6" stroke="none" stroke-width="1"/>
<rect x="249.7" y="216.248" width="2.0" height="2.0" fill="#5aa2e6" stroke="none" stroke-width="1"/>
<rect x="285.7" y="195.392" width="2.0" height="2.0" fill="#5aa2e6" stroke="none" stroke-width="1"/>
<rect x="213.79999999999998" y="225.828" width="1.8000000000000114" height="1.8000000000000114" fill="#3b1486" stroke="none" stroke-width="1"/>
<rect x="249.79999999999998" y="205.28799999999998" width="1.8000000000000114" height="1.8000000000000114" fill="#3b1486" stroke="none" stroke-width="1"/>
<text x="214.2" y="224.0" font-size="6.3" font-weight="bold" text-anchor="middle" fill="#000">**</text>
<text x="249.8" y="201.6" font-size="6.3" font-weight="bold" text-anchor="middle" fill="#000">**</text>
<rect x="159.5" y="171" width="38.0" height="18.5" fill="#fff" stroke="none" stroke-width="1"/>
<line x1="165.4" y1="175.5" x2="177.3" y2="175.5" stroke="#6aaee8" stroke-width="1.1"/>
<line x1="165.4" y1="184.5" x2="177.3" y2="184.5" stroke="#3b1486" stroke-width="1.3"/>
<text x="179.0" y="177.6" font-size="6.3" font-weight="bold" text-anchor="start" fill="#000" textLength="15.7" lengthAdjust="spacingAndGlyphs">Mock</text>
<text x="179.0" y="187.0" font-size="6.3" font-weight="bold" text-anchor="start" fill="#000" textLength="13" lengthAdjust="spacingAndGlyphs">MN1</text>
<text x="139.6" y="249.5" font-size="7.0" font-weight="bold" text-anchor="start" fill="#000" textLength="84" lengthAdjust="spacingAndGlyphs" transform="rotate(-90 139.6 249.5)">Viable cells (Abs 562 nm)</text>
<text x="316.8" y="144.6" font-size="11.8" font-weight="bold" text-anchor="start" fill="#000" stroke="#000" stroke-width="0.35">E</text>
<line x1="341.8" y1="164.6" x2="493.6" y2="164.6" stroke="#888" stroke-width="0.6" stroke-dasharray="1.2 1.8"/>
<line x1="493.6" y1="164.6" x2="493.6" y2="261.6" stroke="#888" stroke-width="0.6" stroke-dasharray="1.2 1.8"/>
<line x1="341.8" y1="164.6" x2="341.8" y2="261.6" stroke="#aaa" stroke-width="0.6"/>
<line x1="341.8" y1="261.6" x2="493.6" y2="261.6" stroke="#aaa" stroke-width="0.6"/>
<line x1="340" y1="261.6" x2="341.8" y2="261.6" stroke="#999" stroke-width="0.5"/>
<text x="336.9" y="263.90000000000003" font-size="6.5" font-weight="bold" text-anchor="end" fill="#000" textLength="3.8" lengthAdjust="spacingAndGlyphs">0</text>
<line x1="340" y1="242.19000000000003" x2="341.8" y2="242.19000000000003" stroke="#999" stroke-width="0.5"/>
<text x="336.9" y="244.49000000000004" font-size="6.5" font-weight="bold" text-anchor="end" fill="#000" textLength="7.7" lengthAdjust="spacingAndGlyphs">20</text>
<line x1="340" y1="222.78000000000003" x2="341.8" y2="222.78000000000003" stroke="#999" stroke-width="0.5"/>
<text x="336.9" y="225.08000000000004" font-size="6.5" font-weight="bold" text-anchor="end" fill="#000" textLength="7.7" lengthAdjust="spacingAndGlyphs">40</text>
<line x1="340" y1="203.37" x2="341.8" y2="203.37" stroke="#999" stroke-width="0.5"/>
<text x="336.9" y="205.67000000000002" font-size="6.5" font-weight="bold" text-anchor="end" fill="#000" textLength="7.7" lengthAdjust="spacingAndGlyphs">60</text>
<line x1="340" y1="183.96000000000004" x2="341.8" y2="183.96000000000004" stroke="#999" stroke-width="0.5"/>
<text x="336.9" y="186.26000000000005" font-size="6.5" font-weight="bold" text-anchor="end" fill="#000" textLength="7.7" lengthAdjust="spacingAndGlyphs">80</text>
<line x1="340" y1="164.55" x2="341.8" y2="164.55" stroke="#999" stroke-width="0.5"/>
<text x="336.9" y="166.85000000000002" font-size="6.5" font-weight="bold" text-anchor="end" fill="#000" textLength="11.6" lengthAdjust="spacingAndGlyphs">100</text>
<line x1="341.8" y1="261.6" x2="343.0" y2="261.6" stroke="#bbb" stroke-width="0.4"/>
<line x1="341.8" y1="256.7475" x2="343.0" y2="256.7475" stroke="#bbb" stroke-width="0.4"/>
<line x1="341.8" y1="251.895" x2="343.0" y2="251.895" stroke="#bbb" stroke-width="0.4"/>
<line x1="341.8" y1="247.04250000000002" x2="343.0" y2="247.04250000000002" stroke="#bbb" stroke-width="0.4"/>
<line x1="341.8" y1="242.19000000000003" x2="343.0" y2="242.19000000000003" stroke="#bbb" stroke-width="0.4"/>
<line x1="341.8" y1="237.33750000000003" x2="343.0" y2="237.33750000000003" stroke="#bbb" stroke-width="0.4"/>
<line x1="341.8" y1="232.485" x2="343.0" y2="232.485" stroke="#bbb" stroke-width="0.4"/>
<line x1="341.8" y1="227.63250000000002" x2="343.0" y2="227.63250000000002" stroke="#bbb" stroke-width="0.4"/>
<line x1="341.8" y1="222.78000000000003" x2="343.0" y2="222.78000000000003" stroke="#bbb" stroke-width="0.4"/>
<line x1="341.8" y1="217.9275" x2="343.0" y2="217.9275" stroke="#bbb" stroke-width="0.4"/>
<line x1="341.8" y1="213.07500000000002" x2="343.0" y2="213.07500000000002" stroke="#bbb" stroke-width="0.4"/>
<line x1="341.8" y1="208.22250000000003" x2="343.0" y2="208.22250000000003" stroke="#bbb" stroke-width="0.4"/>
<line x1="341.8" y1="203.37" x2="343.0" y2="203.37" stroke="#bbb" stroke-width="0.4"/>
<line x1="341.8" y1="198.5175" x2="343.0" y2="198.5175" stroke="#bbb" stroke-width="0.4"/>
<line x1="341.8" y1="193.66500000000002" x2="343.0" y2="193.66500000000002" stroke="#bbb" stroke-width="0.4"/>
<line x1="341.8" y1="188.8125" x2="343.0" y2="188.8125" stroke="#bbb" stroke-width="0.4"/>
<line x1="341.8" y1="183.96000000000004" x2="343.0" y2="183.96000000000004" stroke="#bbb" stroke-width="0.4"/>
<line x1="341.8" y1="179.10750000000002" x2="343.0" y2="179.10750000000002" stroke="#bbb" stroke-width="0.4"/>
<line x1="341.8" y1="174.25500000000002" x2="343.0" y2="174.25500000000002" stroke="#bbb" stroke-width="0.4"/>
<line x1="341.8" y1="169.40250000000003" x2="343.0" y2="169.40250000000003" stroke="#bbb" stroke-width="0.4"/>
<line x1="341.8" y1="164.55" x2="343.0" y2="164.55" stroke="#bbb" stroke-width="0.4"/>
<text x="380.4" y="160.0" font-size="6.4" font-weight="bold" text-anchor="start" fill="#000" textLength="69" lengthAdjust="spacingAndGlyphs">Progenitor Cytokines</text>
<rect x="355.2" y="246.1" width="16.3" height="15.5" fill="url(#gGray)"/>
<rect x="371.5" y="251.4" width="17.3" height="10.2" fill="url(#gRed)"/>
<rect x="388.8" y="234.4" width="16.8" height="27.2" fill="url(#gGreen)"/>
<rect x="430.7" y="254.8" width="16.7" height="6.8" fill="url(#gGray)"/>
<rect x="447.4" y="243.6" width="16.7" height="18.0" fill="url(#gRed)"/>
<rect x="464.1" y="187.4" width="17.1" height="74.2" fill="url(#gGreen)"/>
<text x="370.6" y="272.9" font-size="7.0" font-weight="bold" text-anchor="start" fill="#000" textLength="17.0" lengthAdjust="spacingAndGlyphs">Mock</text>
<text x="447.6" y="272.9" font-size="7.0" font-weight="bold" text-anchor="start" fill="#000" textLength="15.2" lengthAdjust="spacingAndGlyphs">MN1</text>
<rect x="347.6" y="170.29999999999998" width="4.6" height="4.6" fill="url(#gGray)"/>
<text x="353.8" y="175.1" font-size="7.0" font-weight="bold" text-anchor="start" fill="#000" textLength="18.0" lengthAdjust="spacingAndGlyphs">Day 3</text>
<rect x="347.6" y="179.7" width="4.6" height="4.6" fill="url(#gRed)"/>
<text x="353.8" y="184.5" font-size="7.0" font-weight="bold" text-anchor="start" fill="#000" textLength="22.2" lengthAdjust="spacingAndGlyphs">Day 12</text>
<rect x="347.6" y="189.39999999999998" width="4.6" height="4.6" fill="url(#gGreen)"/>
<text x="353.8" y="194.2" font-size="7.0" font-weight="bold" text-anchor="start" fill="#000" textLength="23.2" lengthAdjust="spacingAndGlyphs">Day 30</text>
<text x="323.6" y="248.4" font-size="6.4" font-weight="bold" text-anchor="start" fill="#000" textLength="72.6" lengthAdjust="spacingAndGlyphs" transform="rotate(-90 323.6 248.4)">GFP Positive Cells (%)</text>
<text x="0.1" y="309.7" font-size="11.8" font-weight="bold" text-anchor="start" fill="#000" stroke="#000" stroke-width="0.35">F</text>
<line x1="21.5" y1="316.5" x2="21.5" y2="388.8" stroke="#000" stroke-width="0.9"/>
<line x1="19.6" y1="388.8" x2="21.5" y2="388.8" stroke="#000" stroke-width="0.7"/>
<text x="19.4" y="390.8" font-size="5.7" font-weight="normal" text-anchor="end" fill="#333" textLength="2.6" lengthAdjust="spacingAndGlyphs">0</text>
<line x1="19.6" y1="374.34000000000003" x2="21.5" y2="374.34000000000003" stroke="#000" stroke-width="0.7"/>
<text x="19.4" y="376.34000000000003" font-size="5.7" font-weight="normal" text-anchor="end" fill="#333" textLength="5.2" lengthAdjust="spacingAndGlyphs">50</text>
<line x1="19.6" y1="359.88" x2="21.5" y2="359.88" stroke="#000" stroke-width="0.7"/>
<text x="19.4" y="361.88" font-size="5.7" font-weight="normal" text-anchor="end" fill="#333" textLength="7.8" lengthAdjust="spacingAndGlyphs">100</text>
<line x1="19.6" y1="345.42" x2="21.5" y2="345.42" stroke="#000" stroke-width="0.7"/>
<text x="19.4" y="347.42" font-size="5.7" font-weight="normal" text-anchor="end" fill="#333" textLength="7.8" lengthAdjust="spacingAndGlyphs">150</text>
<line x1="19.6" y1="330.96000000000004" x2="21.5" y2="330.96000000000004" stroke="#000" stroke-width="0.7"/>
<text x="19.4" y="332.96000000000004" font-size="5.7" font-weight="normal" text-anchor="end" fill="#333" textLength="7.8" lengthAdjust="spacingAndGlyphs">200</text>
<line x1="19.6" y1="316.5" x2="21.5" y2="316.5" stroke="#000" stroke-width="0.7"/>
<text x="19.4" y="318.5" font-size="5.7" font-weight="normal" text-anchor="end" fill="#333" textLength="7.8" lengthAdjust="spacingAndGlyphs">250</text>
<line x1="21.5" y1="388.8" x2="138.8" y2="388.8" stroke="#000" stroke-width="0.9"/>
<rect x="26.8" y="363.9288" width="6.199999999999999" height="24.871199999999988" fill="#fff" stroke="#222" stroke-width="0.8"/>
<line x1="29.9" y1="352.0" x2="29.9" y2="363.9288" stroke="#000" stroke-width="0.7"/>
<line x1="28.099999999999998" y1="352.0" x2="31.7" y2="352.0" stroke="#000" stroke-width="0.7"/>
<line x1="28.099999999999998" y1="363.9288" x2="31.7" y2="363.9288" stroke="#000" stroke-width="0.7"/>
<rect x="35.4" y="368.84520000000003" width="6.5" height="19.954799999999977" fill="#babaf2" stroke="#222" stroke-width="0.8"/>
<line x1="38.65" y1="364.9" x2="38.65" y2="368.84520000000003" stroke="#000" stroke-width="0.7"/>
<line x1="36.85" y1="364.9" x2="40.449999999999996" y2="364.9" stroke="#000" stroke-width="0.7"/>
<line x1="36.85" y1="368.84520000000003" x2="40.449999999999996" y2="368.84520000000003" stroke="#000" stroke-width="0.7"/>
<rect x="49.0" y="388.5108" width="6.200000000000003" height="0.2891999999999939" fill="#fff" stroke="#222" stroke-width="0.8"/>
<rect x="56.2" y="378.9672" width="6.5" height="9.83280000000002" fill="#babaf2" stroke="#222" stroke-width="0.8"/>
<line x1="59.45" y1="376.3" x2="59.45" y2="378.9672" stroke="#000" stroke-width="0.7"/>
<line x1="57.650000000000006" y1="376.3" x2="61.25" y2="376.3" stroke="#000" stroke-width="0.7"/>
<line x1="57.650000000000006" y1="378.9672" x2="61.25" y2="378.9672" stroke="#000" stroke-width="0.7"/>
<rect x="92.3" y="332.6952" width="6.5" height="56.10480000000001" fill="#fff" stroke="#222" stroke-width="0.8"/>
<line x1="95.55" y1="326.0" x2="95.55" y2="337.0" stroke="#000" stroke-width="0.7"/>
<line x1="93.75" y1="326.0" x2="97.35" y2="326.0" stroke="#000" stroke-width="0.7"/>
<line x1="93.75" y1="337.0" x2="97.35" y2="337.0" stroke="#000" stroke-width="0.7"/>
<rect x="100.6" y="336.4548" width="6.400000000000006" height="52.345200000000034" fill="#babaf2" stroke="#222" stroke-width="0.8"/>
<rect x="114.3" y="387.354" width="6.400000000000006" height="1.4460000000000264" fill="#fff" stroke="#222" stroke-width="0.8"/>
<rect x="122.8" y="367.11" width="6.500000000000014" height="21.689999999999998" fill="#babaf2" stroke="#222" stroke-width="0.8"/>
<line x1="126.05" y1="363.0" x2="126.05" y2="372.5" stroke="#000" stroke-width="0.7"/>
<line x1="124.25" y1="363.0" x2="127.85" y2="363.0" stroke="#000" stroke-width="0.7"/>
<line x1="124.25" y1="372.5" x2="127.85" y2="372.5" stroke="#000" stroke-width="0.7"/>
<text x="52.8" y="386.6" font-size="7.0" font-weight="bold" text-anchor="middle" fill="#000">1</text>
<text x="60.7" y="372.0" font-size="7.0" font-weight="bold" text-anchor="middle" fill="#000">34</text>
<text x="117.2" y="384.0" font-size="7.0" font-weight="bold" text-anchor="middle" fill="#000">6</text>
<text x="125.9" y="356.9" font-size="7.0" font-weight="bold" text-anchor="middle" fill="#000">75</text>
<rect x="28.7" y="317.8" width="11.000000000000004" height="4.800000000000011" fill="#fff" stroke="#222" stroke-width="0.8"/>
<rect x="28.7" y="327.3" width="11.000000000000004" height="4.300000000000011" fill="#babaf2" stroke="#222" stroke-width="0.8"/>
<text x="41.3" y="323.0" font-size="6.6" font-weight="normal" text-anchor="start" fill="#333" textLength="33.3" lengthAdjust="spacingAndGlyphs">hCD34-Mock</text>
<text x="41.3" y="331.9" font-size="6.6" font-weight="normal" text-anchor="start" fill="#333" textLength="31.7" lengthAdjust="spacingAndGlyphs">hCD34-MN1</text>
<line x1="34.2" y1="388.8" x2="34.2" y2="390.40000000000003" stroke="#000" stroke-width="0.7"/>
<line x1="56" y1="388.8" x2="56" y2="390.40000000000003" stroke="#000" stroke-width="0.7"/>
<text x="27.0" y="400.2" font-size="7.0" font-weight="bold" text-anchor="start" fill="#000" textLength="15" lengthAdjust="spacingAndGlyphs">MC1</text>
<text x="49.0" y="400.2" font-size="7.0" font-weight="bold" text-anchor="start" fill="#000" textLength="15.6" lengthAdjust="spacingAndGlyphs">MC2</text>
<text x="91.5" y="400.2" font-size="7.0" font-weight="bold" text-anchor="start" fill="#000" textLength="15" lengthAdjust="spacingAndGlyphs">MC1</text>
<text x="115.6" y="400.2" font-size="7.0" font-weight="bold" text-anchor="start" fill="#000" textLength="13" lengthAdjust="spacingAndGlyphs">MC2</text>
<line x1="23.0" y1="403.2" x2="69.0" y2="403.2" stroke="#555" stroke-width="0.6"/>
<line x1="88.4" y1="402.8" x2="132.4" y2="402.8" stroke="#555" stroke-width="0.6"/>
<text x="23.5" y="411.0" font-size="7.0" font-weight="bold" text-anchor="start" fill="#000" textLength="44.5" lengthAdjust="spacingAndGlyphs">500 cells/dish</text>
<text x="87.1" y="410.7" font-size="7.0" font-weight="bold" text-anchor="start" fill="#000" textLength="49.9" lengthAdjust="spacingAndGlyphs">1000 cells/dish</text>
<text x="6.4" y="384.6" font-size="7.2" font-weight="bold" text-anchor="start" fill="#000" textLength="64.8" lengthAdjust="spacingAndGlyphs" transform="rotate(-90 6.4 384.6)">Number of colonies</text>
<text x="145.4" y="309.5" font-size="11.8" font-weight="bold" text-anchor="start" fill="#000" stroke="#000" stroke-width="0.35">G</text>
<rect x="166.2" y="322.7" width="85.30000000000001" height="66.5" fill="#fff" stroke="none" stroke-width="1"/>
<g clip-path="url(#clip6)">
<ellipse cx="183" cy="377" rx="19" ry="8" fill="#ee1111" opacity="1.0" transform="rotate(-5 183 377)" filter="url(#b1_5)"/>
<ellipse cx="212" cy="373" rx="18" ry="11" fill="#ee1111" opacity="1.0" transform="rotate(-22 212 373)" filter="url(#b1_5)"/>
<ellipse cx="230" cy="363" rx="7" ry="9" fill="#ee1111" opacity="1.0" transform="rotate(-10 230 363)" filter="url(#b1_5)"/>
<ellipse cx="195" cy="381" rx="30" ry="3.5" fill="#ee1111" opacity="0.7" transform="rotate(0 195 381)" filter="url(#b1_5)"/>
<path d="M197.9 386.6h0.8v0.8h-0.8zM198.0 366.8h0.8v0.8h-0.8zM208.2 365.6h0.8v0.8h-0.8zM226.2 376.9h0.8v0.8h-0.8zM202.8 379.6h0.8v0.8h-0.8zM210.2 368.4h0.8v0.8h-0.8zM216.7 367.2h0.8v0.8h-0.8zM209.4 361.6h0.8v0.8h-0.8zM203.0 377.5h0.8v0.8h-0.8zM183.7 374.1h0.8v0.8h-0.8zM191.6 383.8h0.8v0.8h-0.8zM187.3 382.0h0.8v0.8h-0.8zM230.5 369.6h0.8v0.8h-0.8zM169.3 383.6h0.8v0.8h-0.8zM219.5 365.9h0.8v0.8h-0.8zM223.2 374.3h0.8v0.8h-0.8zM207.6 369.3h0.8v0.8h-0.8zM189.6 374.2h0.8v0.8h-0.8zM202.8 378.8h0.8v0.8h-0.8zM207.5 369.0h0.8v0.8h-0.8zM202.5 377.5h0.8v0.8h-0.8zM166.9 375.0h0.8v0.8h-0.8zM184.3 376.2h0.8v0.8h-0.8zM194.3 373.0h0.8v0.8h-0.8zM185.2 385.1h0.8v0.8h-0.8zM201.4 356.8h0.8v0.8h-0.8zM197.7 363.1h0.8v0.8h-0.8zM232.0 360.9h0.8v0.8h-0.8zM192.9 376.9h0.8v0.8h-0.8zM196.3 374.5h0.8v0.8h-0.8zM230.8 368.2h0.8v0.8h-0.8zM219.4 380.6h0.8v0.8h-0.8zM185.9 395.4h0.8v0.8h-0.8zM216.1 379.8h0.8v0.8h-0.8zM185.8 386.4h0.8v0.8h-0.8zM207.0 366.8h0.8v0.8h-0.8zM246.0 367.7h0.8v0.8h-0.8zM196.3 377.2h0.8v0.8h-0.8zM220.9 380.3h0.8v0.8h-0.8zM214.8 382.8h0.8v0.8h-0.8zM225.6 354.5h0.8v0.8h-0.8zM188.6 367.5h0.8v0.8h-0.8zM206.0 387.5h0.8v0.8h-0.8zM210.3 360.6h0.8v0.8h-0.8zM197.4 385.5h0.8v0.8h-0.8zM189.9 375.9h0.8v0.8h-0.8zM201.6 354.9h0.8v0.8h-0.8zM216.4 373.4h0.8v0.8h-0.8zM208.9 361.7h0.8v0.8h-0.8zM184.1 372.3h0.8v0.8h-0.8zM205.5 373.5h0.8v0.8h-0.8zM207.5 390.7h0.8v0.8h-0.8zM223.8 360.4h0.8v0.8h-0.8zM192.3 394.0h0.8v0.8h-0.8zM197.9 389.0h0.8v0.8h-0.8zM229.9 360.6h0.8v0.8h-0.8zM195.4 376.3h0.8v0.8h-0.8zM181.2 369.1h0.8v0.8h-0.8zM194.9 384.4h0.8v0.8h-0.8zM191.3 374.4h0.8v0.8h-0.8zM187.9 363.3h0.8v0.8h-0.8zM223.1 343.8h0.8v0.8h-0.8zM189.2 382.9h0.8v0.8h-0.8zM175.0 387.2h0.8v0.8h-0.8zM222.4 359.3h0.8v0.8h-0.8zM201.6 362.3h0.8v0.8h-0.8zM210.5 372.3h0.8v0.8h-0.8zM208.1 386.2h0.8v0.8h-0.8zM213.0 384.6h0.8v0.8h-0.8zM209.6 359.2h0.8v0.8h-0.8zM206.7 377.5h0.8v0.8h-0.8zM175.9 394.5h0.8v0.8h-0.8zM202.7 377.3h0.8v0.8h-0.8zM183.3 379.4h0.8v0.8h-0.8zM205.4 369.4h0.8v0.8h-0.8zM196.5 353.2h0.8v0.8h-0.8zM223.8 356.3h0.8v0.8h-0.8zM155.8 376.1h0.8v0.8h-0.8zM185.7 383.7h0.8v0.8h-0.8zM183.5 381.6h0.8v0.8h-0.8zM187.6 400.4h0.8v0.8h-0.8zM216.0 390.2h0.8v0.8h-0.8zM182.5 385.7h0.8v0.8h-0.8zM183.4 384.6h0.8v0.8h-0.8zM209.4 355.2h0.8v0.8h-0.8zM175.4 368.7h0.8v0.8h-0.8zM169.4 374.8h0.8v0.8h-0.8zM178.1 365.1h0.8v0.8h-0.8zM203.6 378.8h0.8v0.8h-0.8zM173.5 375.5h0.8v0.8h-0.8zM199.9 371.8h0.8v0.8h-0.8zM188.9 385.5h0.8v0.8h-0.8zM218.4 376.2h0.8v0.8h-0.8zM201.4 394.3h0.8v0.8h-0.8zM232.9 361.2h0.8v0.8h-0.8zM201.0 386.2h0.8v0.8h-0.8zM185.8 382.0h0.8v0.8h-0.8zM199.3 367.0h0.8v0.8h-0.8zM191.7 360.1h0.8v0.8h-0.8zM184.6 357.6h0.8v0.8h-0.8zM248.2 376.8h0.8v0.8h-0.8zM224.7 370.6h0.8v0.8h-0.8zM222.8 381.2h0.8v0.8h-0.8zM222.2 377.6h0.8v0.8h-0.8zM183.7 382.9h0.8v0.8h-0.8zM186.8 365.4h0.8v0.8h-0.8zM179.2 384.1h0.8v0.8h-0.8zM216.9 355.4h0.8v0.8h-0.8zM237.6 379.2h0.8v0.8h-0.8zM191.5 371.5h0.8v0.8h-0.8zM201.2 383.9h0.8v0.8h-0.8zM189.8 365.3h0.8v0.8h-0.8zM201.4 352.3h0.8v0.8h-0.8zM205.8 384.5h0.8v0.8h-0.8zM208.0 380.0h0.8v0.8h-0.8zM211.4 378.5h0.8v0.8h-0.8zM200.7 365.2h0.8v0.8h-0.8zM195.5 374.5h0.8v0.8h-0.8zM228.5 383.2h0.8v0.8h-0.8zM206.2 364.6h0.8v0.8h-0.8zM185.4 376.0h0.8v0.8h-0.8zM227.7 370.0h0.8v0.8h-0.8zM197.0 366.9h0.8v0.8h-0.8zM217.8 372.2h0.8v0.8h-0.8zM199.3 375.3h0.8v0.8h-0.8zM232.2 363.7h0.8v0.8h-0.8zM235.8 377.3h0.8v0.8h-0.8zM203.3 382.3h0.8v0.8h-0.8zM195.5 366.6h0.8v0.8h-0.8zM192.5 366.6h0.8v0.8h-0.8zM209.9 371.5h0.8v0.8h-0.8zM213.1 379.0h0.8v0.8h-0.8zM140.5 393.2h0.8v0.8h-0.8zM165.6 384.9h0.8v0.8h-0.8zM183.3 379.5h0.8v0.8h-0.8zM222.0 350.4h0.8v0.8h-0.8zM203.5 372.3h0.8v0.8h-0.8zM165.1 390.1h0.8v0.8h-0.8zM199.3 368.9h0.8v0.8h-0.8zM194.4 408.8h0.8v0.8h-0.8zM187.7 358.6h0.8v0.8h-0.8zM181.1 375.3h0.8v0.8h-0.8zM192.4 375.2h0.8v0.8h-0.8zM181.2 384.7h0.8v0.8h-0.8zM187.1 363.4h0.8v0.8h-0.8zM183.2 374.5h0.8v0.8h-0.8zM217.6 374.3h0.8v0.8h-0.8zM193.5 375.9h0.8v0.8h-0.8zM209.4 392.6h0.8v0.8h-0.8zM189.3 381.7h0.8v0.8h-0.8zM211.6 361.0h0.8v0.8h-0.8zM204.1 374.6h0.8v0.8h-0.8zM192.4 381.9h0.8v0.8h-0.8zM222.8 379.6h0.8v0.8h-0.8zM196.8 376.8h0.8v0.8h-0.8zM242.6 351.2h0.8v0.8h-0.8zM206.6 381.4h0.8v0.8h-0.8zM204.6 379.6h0.8v0.8h-0.8zM205.3 380.4h0.8v0.8h-0.8zM224.2 365.2h0.8v0.8h-0.8zM203.7 372.4h0.8v0.8h-0.8zM192.2 375.9h0.8v0.8h-0.8zM180.1 387.0h0.8v0.8h-0.8zM237.3 381.7h0.8v0.8h-0.8zM222.2 358.1h0.8v0.8h-0.8zM227.5 359.2h0.8v0.8h-0.8zM203.8 392.1h0.8v0.8h-0.8zM181.5 387.7h0.8v0.8h-0.8zM205.0 371.1h0.8v0.8h-0.8zM184.2 382.6h0.8v0.8h-0.8zM193.7 386.5h0.8v0.8h-0.8zM220.1 354.3h0.8v0.8h-0.8zM189.4 373.5h0.8v0.8h-0.8zM174.3 369.3h0.8v0.8h-0.8zM201.2 371.5h0.8v0.8h-0.8zM166.7 377.4h0.8v0.8h-0.8zM206.9 359.7h0.8v0.8h-0.8zM186.3 394.1h0.8v0.8h-0.8zM221.3 351.5h0.8v0.8h-0.8zM174.9 384.6h0.8v0.8h-0.8zM176.3 377.7h0.8v0.8h-0.8zM192.7 381.7h0.8v0.8h-0.8zM145.4 365.8h0.8v0.8h-0.8zM178.9 390.1h0.8v0.8h-0.8zM192.6 358.3h0.8v0.8h-0.8zM211.4 378.3h0.8v0.8h-0.8zM194.4 372.1h0.8v0.8h-0.8zM211.6 383.4h0.8v0.8h-0.8zM204.3 378.4h0.8v0.8h-0.8zM198.1 370.6h0.8v0.8h-0.8zM183.0 381.2h0.8v0.8h-0.8zM193.6 373.2h0.8v0.8h-0.8zM219.2 373.9h0.8v0.8h-0.8zM212.7 354.3h0.8v0.8h-0.8zM209.3 365.4h0.8v0.8h-0.8zM182.2 370.0h0.8v0.8h-0.8zM225.5 375.7h0.8v0.8h-0.8zM183.2 366.7h0.8v0.8h-0.8zM199.1 369.5h0.8v0.8h-0.8zM228.3 351.3h0.8v0.8h-0.8zM164.0 381.0h0.8v0.8h-0.8zM200.6 375.2h0.8v0.8h-0.8zM219.9 390.1h0.8v0.8h-0.8zM192.0 370.5h0.8v0.8h-0.8zM166.6 385.5h0.8v0.8h-0.8zM215.8 367.1h0.8v0.8h-0.8zM222.9 368.2h0.8v0.8h-0.8zM230.1 369.4h0.8v0.8h-0.8zM177.9 373.3h0.8v0.8h-0.8zM165.9 365.2h0.8v0.8h-0.8zM207.4 381.0h0.8v0.8h-0.8zM237.6 363.4h0.8v0.8h-0.8zM192.6 364.5h0.8v0.8h-0.8zM220.1 372.6h0.8v0.8h-0.8zM190.3 383.7h0.8v0.8h-0.8zM206.0 353.0h0.8v0.8h-0.8zM214.7 371.5h0.8v0.8h-0.8zM191.4 372.0h0.8v0.8h-0.8zM237.8 379.8h0.8v0.8h-0.8zM232.3 353.5h0.8v0.8h-0.8zM189.7 386.1h0.8v0.8h-0.8zM174.8 373.3h0.8v0.8h-0.8zM169.9 401.2h0.8v0.8h-0.8zM221.7 372.9h0.8v0.8h-0.8zM203.2 368.8h0.8v0.8h-0.8zM193.9 382.0h0.8v0.8h-0.8zM189.4 389.5h0.8v0.8h-0.8zM188.2 368.1h0.8v0.8h-0.8zM224.7 365.9h0.8v0.8h-0.8zM209.6 367.1h0.8v0.8h-0.8zM157.9 390.9h0.8v0.8h-0.8zM176.8 391.4h0.8v0.8h-0.8zM165.2 364.0h0.8v0.8h-0.8zM207.0 376.5h0.8v0.8h-0.8zM198.9 361.7h0.8v0.8h-0.8zM213.4 355.3h0.8v0.8h-0.8zM189.0 368.8h0.8v0.8h-0.8zM194.9 384.2h0.8v0.8h-0.8zM189.2 382.7h0.8v0.8h-0.8zM209.0 353.9h0.8v0.8h-0.8zM176.5 376.3h0.8v0.8h-0.8zM189.4 380.0h0.8v0.8h-0.8zM164.5 391.0h0.8v0.8h-0.8zM213.9 368.5h0.8v0.8h-0.8zM173.3 381.2h0.8v0.8h-0.8zM191.1 382.3h0.8v0.8h-0.8zM200.2 381.5h0.8v0.8h-0.8zM195.4 390.2h0.8v0.8h-0.8zM152.8 376.1h0.8v0.8h-0.8zM205.6 356.9h0.8v0.8h-0.8zM211.1 358.4h0.8v0.8h-0.8zM199.4 364.7h0.8v0.8h-0.8zM191.9 378.0h0.8v0.8h-0.8zM197.0 370.9h0.8v0.8h-0.8zM241.6 362.9h0.8v0.8h-0.8zM183.7 388.0h0.8v0.8h-0.8zM219.0 381.6h0.8v0.8h-0.8zM232.1 355.7h0.8v0.8h-0.8zM223.4 379.5h0.8v0.8h-0.8zM200.6 376.4h0.8v0.8h-0.8zM140.5 384.0h0.8v0.8h-0.8zM229.9 347.5h0.8v0.8h-0.8zM190.4 379.6h0.8v0.8h-0.8zM215.3 386.8h0.8v0.8h-0.8zM166.1 383.5h0.8v0.8h-0.8zM213.2 356.9h0.8v0.8h-0.8zM204.1 392.4h0.8v0.8h-0.8zM226.8 372.4h0.8v0.8h-0.8zM149.2 386.3h0.8v0.8h-0.8zM206.7 369.0h0.8v0.8h-0.8zM206.7 404.1h0.8v0.8h-0.8zM193.3 365.7h0.8v0.8h-0.8zM203.9 369.7h0.8v0.8h-0.8zM193.8 374.8h0.8v0.8h-0.8zM215.6 372.3h0.8v0.8h-0.8zM176.4 378.9h0.8v0.8h-0.8zM208.0 367.0h0.8v0.8h-0.8zM224.2 375.6h0.8v0.8h-0.8zM181.7 382.2h0.8v0.8h-0.8zM242.4 378.8h0.8v0.8h-0.8zM201.2 383.0h0.8v0.8h-0.8zM183.2 363.5h0.8v0.8h-0.8zM211.3 373.5h0.8v0.8h-0.8zM209.9 371.1h0.8v0.8h-0.8zM205.0 367.4h0.8v0.8h-0.8zM211.3 379.6h0.8v0.8h-0.8zM201.0 382.2h0.8v0.8h-0.8zM163.8 375.6h0.8v0.8h-0.8zM232.5 383.5h0.8v0.8h-0.8zM204.6 371.7h0.8v0.8h-0.8zM176.4 384.1h0.8v0.8h-0.8zM211.2 355.7h0.8v0.8h-0.8zM212.1 375.8h0.8v0.8h-0.8zM205.6 360.8h0.8v0.8h-0.8zM206.6 356.7h0.8v0.8h-0.8zM229.1 367.6h0.8v0.8h-0.8zM181.0 393.0h0.8v0.8h-0.8zM220.6 361.7h0.8v0.8h-0.8zM240.0 352.9h0.8v0.8h-0.8zM209.1 383.8h0.8v0.8h-0.8zM158.7 395.4h0.8v0.8h-0.8zM198.7 374.2h0.8v0.8h-0.8zM180.1 382.8h0.8v0.8h-0.8zM176.1 370.4h0.8v0.8h-0.8zM188.2 364.5h0.8v0.8h-0.8zM226.9 353.0h0.8v0.8h-0.8zM184.6 374.9h0.8v0.8h-0.8zM202.1 381.6h0.8v0.8h-0.8zM215.0 366.8h0.8v0.8h-0.8zM192.7 376.3h0.8v0.8h-0.8zM217.7 376.5h0.8v0.8h-0.8zM184.7 356.8h0.8v0.8h-0.8zM243.9 372.1h0.8v0.8h-0.8zM206.0 375.9h0.8v0.8h-0.8zM187.3 367.0h0.8v0.8h-0.8zM193.0 373.6h0.8v0.8h-0.8zM184.1 363.2h0.8v0.8h-0.8zM195.5 381.2h0.8v0.8h-0.8zM190.5 376.8h0.8v0.8h-0.8zM159.5 382.7h0.8v0.8h-0.8zM194.5 362.8h0.8v0.8h-0.8zM167.7 386.9h0.8v0.8h-0.8zM185.6 382.9h0.8v0.8h-0.8zM193.5 382.2h0.8v0.8h-0.8zM189.6 361.2h0.8v0.8h-0.8zM197.5 371.3h0.8v0.8h-0.8zM211.5 366.2h0.8v0.8h-0.8zM194.6 384.3h0.8v0.8h-0.8zM224.5 375.3h0.8v0.8h-0.8zM221.2 373.0h0.8v0.8h-0.8zM217.2 378.5h0.8v0.8h-0.8zM208.0 372.5h0.8v0.8h-0.8zM209.0 396.5h0.8v0.8h-0.8zM199.7 371.6h0.8v0.8h-0.8zM192.9 375.6h0.8v0.8h-0.8zM201.8 361.8h0.8v0.8h-0.8zM162.5 387.1h0.8v0.8h-0.8zM169.6 384.8h0.8v0.8h-0.8zM205.7 384.4h0.8v0.8h-0.8zM233.2 368.9h0.8v0.8h-0.8zM186.3 365.5h0.8v0.8h-0.8zM184.8 378.5h0.8v0.8h-0.8zM160.2 385.4h0.8v0.8h-0.8zM201.4 380.3h0.8v0.8h-0.8zM193.8 376.7h0.8v0.8h-0.8zM184.6 373.3h0.8v0.8h-0.8zM166.1 384.4h0.8v0.8h-0.8zM230.3 367.6h0.8v0.8h-0.8zM204.5 362.6h0.8v0.8h-0.8zM225.7 359.2h0.8v0.8h-0.8zM215.8 370.9h0.8v0.8h-0.8zM184.1 388.9h0.8v0.8h-0.8zM200.8 375.6h0.8v0.8h-0.8zM208.7 371.5h0.8v0.8h-0.8zM193.9 380.5h0.8v0.8h-0.8zM192.3 376.7h0.8v0.8h-0.8zM183.2 363.1h0.8v0.8h-0.8zM185.7 372.7h0.8v0.8h-0.8zM203.4 385.4h0.8v0.8h-0.8zM167.7 384.0h0.8v0.8h-0.8zM154.6 375.3h0.8v0.8h-0.8zM184.4 354.9h0.8v0.8h-0.8zM164.5 385.1h0.8v0.8h-0.8zM201.2 372.5h0.8v0.8h-0.8zM190.0 399.0h0.8v0.8h-0.8zM194.7 366.5h0.8v0.8h-0.8zM234.0 371.2h0.8v0.8h-0.8zM195.9 387.4h0.8v0.8h-0.8zM204.7 379.4h0.8v0.8h-0.8zM201.9 362.9h0.8v0.8h-0.8zM219.2 370.5h0.8v0.8h-0.8zM178.5 371.9h0.8v0.8h-0.8zM217.5 365.5h0.8v0.8h-0.8zM202.6 380.1h0.8v0.8h-0.8zM198.5 358.6h0.8v0.8h-0.8zM214.7 379.8h0.8v0.8h-0.8zM220.9 385.1h0.8v0.8h-0.8zM209.0 379.6h0.8v0.8h-0.8zM230.0 363.0h0.8v0.8h-0.8zM238.0 381.8h0.8v0.8h-0.8zM219.9 387.7h0.8v0.8h-0.8zM214.2 361.1h0.8v0.8h-0.8zM222.8 371.3h0.8v0.8h-0.8zM208.4 373.4h0.8v0.8h-0.8zM227.7 372.3h0.8v0.8h-0.8zM187.8 382.3h0.8v0.8h-0.8zM212.2 363.2h0.8v0.8h-0.8zM190.6 372.5h0.8v0.8h-0.8zM189.2 380.5h0.8v0.8h-0.8zM224.6 387.0h0.8v0.8h-0.8zM225.7 377.7h0.8v0.8h-0.8zM225.5 381.0h0.8v0.8h-0.8zM194.5 382.6h0.8v0.8h-0.8zM205.9 371.1h0.8v0.8h-0.8zM189.9 371.5h0.8v0.8h-0.8zM191.6 363.5h0.8v0.8h-0.8zM210.0 371.1h0.8v0.8h-0.8zM202.9 376.7h0.8v0.8h-0.8zM212.5 364.5h0.8v0.8h-0.8zM193.8 359.0h0.8v0.8h-0.8zM152.1 366.7h0.8v0.8h-0.8zM225.0 348.4h0.8v0.8h-0.8zM212.9 385.8h0.8v0.8h-0.8zM195.4 392.1h0.8v0.8h-0.8zM238.1 373.6h0.8v0.8h-0.8zM247.4 367.7h0.8v0.8h-0.8zM187.3 382.8h0.8v0.8h-0.8zM188.1 363.7h0.8v0.8h-0.8zM181.4 403.0h0.8v0.8h-0.8zM189.6 376.6h0.8v0.8h-0.8zM187.7 378.8h0.8v0.8h-0.8zM194.5 371.3h0.8v0.8h-0.8zM173.2 366.7h0.8v0.8h-0.8zM186.6 380.7h0.8v0.8h-0.8zM243.1 373.5h0.8v0.8h-0.8zM236.8 369.3h0.8v0.8h-0.8zM195.2 361.7h0.8v0.8h-0.8zM194.8 353.3h0.8v0.8h-0.8zM198.8 391.4h0.8v0.8h-0.8zM209.7 383.3h0.8v0.8h-0.8zM189.5 362.8h0.8v0.8h-0.8zM190.2 372.7h0.8v0.8h-0.8zM228.9 386.9h0.8v0.8h-0.8zM185.2 374.5h0.8v0.8h-0.8zM196.8 371.5h0.8v0.8h-0.8zM176.7 381.4h0.8v0.8h-0.8zM208.5 376.0h0.8v0.8h-0.8zM176.9 379.3h0.8v0.8h-0.8zM169.3 391.9h0.8v0.8h-0.8zM180.2 376.7h0.8v0.8h-0.8zM190.4 370.8h0.8v0.8h-0.8zM175.6 362.5h0.8v0.8h-0.8zM234.8 367.6h0.8v0.8h-0.8zM211.2 393.0h0.8v0.8h-0.8zM200.1 380.0h0.8v0.8h-0.8zM204.1 385.5h0.8v0.8h-0.8zM211.2 374.6h0.8v0.8h-0.8zM196.5 378.2h0.8v0.8h-0.8zM217.8 348.1h0.8v0.8h-0.8zM197.1 370.8h0.8v0.8h-0.8zM189.8 356.6h0.8v0.8h-0.8zM212.6 362.2h0.8v0.8h-0.8zM195.0 370.5h0.8v0.8h-0.8zM167.3 378.5h0.8v0.8h-0.8zM162.7 374.6h0.8v0.8h-0.8zM194.6 375.7h0.8v0.8h-0.8zM201.4 372.5h0.8v0.8h-0.8zM243.1 367.3h0.8v0.8h-0.8zM175.5 374.6h0.8v0.8h-0.8zM187.6 375.8h0.8v0.8h-0.8zM186.9 369.0h0.8v0.8h-0.8zM232.7 366.0h0.8v0.8h-0.8zM193.6 373.5h0.8v0.8h-0.8zM200.1 388.7h0.8v0.8h-0.8zM212.9 382.5h0.8v0.8h-0.8zM141.3 393.4h0.8v0.8h-0.8zM226.3 387.7h0.8v0.8h-0.8zM196.9 357.4h0.8v0.8h-0.8zM210.6 365.3h0.8v0.8h-0.8zM164.5 377.5h0.8v0.8h-0.8zM224.3 380.3h0.8v0.8h-0.8zM212.0 360.3h0.8v0.8h-0.8zM246.4 349.8h0.8v0.8h-0.8zM195.6 360.6h0.8v0.8h-0.8zM227.4 371.7h0.8v0.8h-0.8zM218.2 370.4h0.8v0.8h-0.8zM200.0 376.2h0.8v0.8h-0.8zM166.9 393.6h0.8v0.8h-0.8zM217.5 365.7h0.8v0.8h-0.8zM201.4 377.1h0.8v0.8h-0.8zM232.3 370.2h0.8v0.8h-0.8zM200.4 369.0h0.8v0.8h-0.8zM170.3 376.2h0.8v0.8h-0.8zM201.7 371.4h0.8v0.8h-0.8zM204.3 381.0h0.8v0.8h-0.8zM210.1 374.6h0.8v0.8h-0.8zM214.1 372.6h0.8v0.8h-0.8zM201.6 378.9h0.8v0.8h-0.8zM170.9 395.3h0.8v0.8h-0.8zM178.3 389.0h0.8v0.8h-0.8zM204.1 384.8h0.8v0.8h-0.8zM199.3 364.9h0.8v0.8h-0.8zM222.3 370.4h0.8v0.8h-0.8zM203.6 374.4h0.8v0.8h-0.8zM222.5 376.9h0.8v0.8h-0.8zM201.5 358.1h0.8v0.8h-0.8zM193.6 377.3h0.8v0.8h-0.8zM236.8 368.7h0.8v0.8h-0.8zM202.5 386.3h0.8v0.8h-0.8zM198.9 374.5h0.8v0.8h-0.8zM200.3 359.0h0.8v0.8h-0.8zM220.8 373.4h0.8v0.8h-0.8zM192.8 364.7h0.8v0.8h-0.8zM208.9 386.7h0.8v0.8h-0.8zM186.1 367.3h0.8v0.8h-0.8zM205.2 356.7h0.8v0.8h-0.8zM157.2 381.5h0.8v0.8h-0.8zM187.2 375.1h0.8v0.8h-0.8zM191.4 380.3h0.8v0.8h-0.8zM195.4 369.6h0.8v0.8h-0.8zM194.0 382.7h0.8v0.8h-0.8zM222.1 378.0h0.8v0.8h-0.8zM206.2 338.8h0.8v0.8h-0.8zM181.1 376.4h0.8v0.8h-0.8zM201.1 357.6h0.8v0.8h-0.8zM229.5 369.8h0.8v0.8h-0.8zM189.7 379.1h0.8v0.8h-0.8zM192.6 368.7h0.8v0.8h-0.8zM209.9 367.3h0.8v0.8h-0.8zM172.4 375.4h0.8v0.8h-0.8zM196.3 364.4h0.8v0.8h-0.8zM222.9 357.2h0.8v0.8h-0.8zM237.6 373.8h0.8v0.8h-0.8zM183.5 380.4h0.8v0.8h-0.8zM223.7 366.3h0.8v0.8h-0.8zM178.6 381.5h0.8v0.8h-0.8zM236.0 349.6h0.8v0.8h-0.8zM212.2 371.5h0.8v0.8h-0.8zM198.1 371.1h0.8v0.8h-0.8zM198.0 386.0h0.8v0.8h-0.8zM210.4 361.6h0.8v0.8h-0.8zM228.2 353.7h0.8v0.8h-0.8zM214.8 372.7h0.8v0.8h-0.8zM225.6 371.5h0.8v0.8h-0.8zM221.9 368.6h0.8v0.8h-0.8zM221.2 372.6h0.8v0.8h-0.8zM241.3 356.5h0.8v0.8h-0.8zM225.8 372.6h0.8v0.8h-0.8zM203.5 367.9h0.8v0.8h-0.8zM206.4 357.8h0.8v0.8h-0.8zM177.0 388.3h0.8v0.8h-0.8zM175.3 396.3h0.8v0.8h-0.8zM197.0 378.2h0.8v0.8h-0.8zM204.2 378.0h0.8v0.8h-0.8zM195.3 372.2h0.8v0.8h-0.8zM201.9 385.1h0.8v0.8h-0.8zM226.8 380.8h0.8v0.8h-0.8zM208.2 370.5h0.8v0.8h-0.8zM170.9 389.2h0.8v0.8h-0.8zM216.9 366.1h0.8v0.8h-0.8zM220.6 382.6h0.8v0.8h-0.8zM206.2 384.1h0.8v0.8h-0.8zM203.1 356.0h0.8v0.8h-0.8zM191.5 372.8h0.8v0.8h-0.8zM209.7 363.3h0.8v0.8h-0.8zM190.7 367.3h0.8v0.8h-0.8zM201.1 375.2h0.8v0.8h-0.8zM222.6 377.0h0.8v0.8h-0.8zM205.5 375.8h0.8v0.8h-0.8zM204.1 374.9h0.8v0.8h-0.8zM225.1 342.3h0.8v0.8h-0.8zM199.1 378.3h0.8v0.8h-0.8zM220.7 357.9h0.8v0.8h-0.8zM210.6 380.9h0.8v0.8h-0.8zM188.1 358.2h0.8v0.8h-0.8zM191.6 364.6h0.8v0.8h-0.8zM212.1 362.8h0.8v0.8h-0.8zM236.5 366.5h0.8v0.8h-0.8zM184.8 373.6h0.8v0.8h-0.8zM181.6 383.8h0.8v0.8h-0.8zM229.9 364.5h0.8v0.8h-0.8zM217.1 360.5h0.8v0.8h-0.8zM213.6 395.0h0.8v0.8h-0.8zM177.7 393.5h0.8v0.8h-0.8zM219.5 350.1h0.8v0.8h-0.8zM171.5 372.3h0.8v0.8h-0.8zM219.3 365.2h0.8v0.8h-0.8zM200.3 382.0h0.8v0.8h-0.8zM204.5 375.9h0.8v0.8h-0.8zM198.4 386.9h0.8v0.8h-0.8zM191.0 394.5h0.8v0.8h-0.8zM193.1 368.4h0.8v0.8h-0.8zM215.3 375.3h0.8v0.8h-0.8zM164.0 386.7h0.8v0.8h-0.8zM173.4 373.3h0.8v0.8h-0.8zM214.6 361.9h0.8v0.8h-0.8zM207.5 368.8h0.8v0.8h-0.8zM238.7 363.4h0.8v0.8h-0.8zM176.0 369.7h0.8v0.8h-0.8zM184.4 380.2h0.8v0.8h-0.8zM204.0 383.7h0.8v0.8h-0.8zM205.1 374.7h0.8v0.8h-0.8zM207.4 371.4h0.8v0.8h-0.8zM209.2 380.4h0.8v0.8h-0.8zM215.2 365.0h0.8v0.8h-0.8zM165.2 375.6h0.8v0.8h-0.8zM200.4 348.8h0.8v0.8h-0.8zM193.4 381.1h0.8v0.8h-0.8zM187.6 366.4h0.8v0.8h-0.8zM238.8 378.6h0.8v0.8h-0.8zM199.8 388.4h0.8v0.8h-0.8zM223.5 356.6h0.8v0.8h-0.8zM250.7 351.3h0.8v0.8h-0.8zM193.4 365.0h0.8v0.8h-0.8zM199.4 361.2h0.8v0.8h-0.8zM203.9 384.7h0.8v0.8h-0.8zM204.7 370.6h0.8v0.8h-0.8zM228.7 357.6h0.8v0.8h-0.8zM219.1 366.3h0.8v0.8h-0.8zM205.4 373.4h0.8v0.8h-0.8zM203.5 373.1h0.8v0.8h-0.8zM184.5 372.8h0.8v0.8h-0.8zM209.3 370.9h0.8v0.8h-0.8zM176.8 373.4h0.8v0.8h-0.8zM187.5 377.3h0.8v0.8h-0.8zM204.7 374.2h0.8v0.8h-0.8zM188.4 377.7h0.8v0.8h-0.8zM167.0 353.4h0.8v0.8h-0.8zM195.6 358.5h0.8v0.8h-0.8zM179.5 367.4h0.8v0.8h-0.8zM209.8 359.2h0.8v0.8h-0.8zM204.8 368.0h0.8v0.8h-0.8zM172.8 365.3h0.8v0.8h-0.8zM210.6 375.5h0.8v0.8h-0.8zM220.3 387.8h0.8v0.8h-0.8zM206.5 375.4h0.8v0.8h-0.8zM198.4 375.8h0.8v0.8h-0.8zM191.4 367.3h0.8v0.8h-0.8zM234.1 345.8h0.8v0.8h-0.8zM206.4 377.0h0.8v0.8h-0.8zM200.8 364.0h0.8v0.8h-0.8zM195.4 370.6h0.8v0.8h-0.8zM179.4 379.2h0.8v0.8h-0.8zM190.9 370.8h0.8v0.8h-0.8zM210.6 360.3h0.8v0.8h-0.8zM207.0 365.8h0.8v0.8h-0.8zM208.5 372.5h0.8v0.8h-0.8zM202.1 363.3h0.8v0.8h-0.8zM182.8 369.7h0.8v0.8h-0.8zM205.2 380.3h0.8v0.8h-0.8zM219.5 363.6h0.8v0.8h-0.8zM197.4 357.9h0.8v0.8h-0.8zM154.9 377.1h0.8v0.8h-0.8zM183.0 362.4h0.8v0.8h-0.8zM166.9 388.3h0.8v0.8h-0.8zM179.9 361.9h0.8v0.8h-0.8zM244.9 363.6h0.8v0.8h-0.8zM195.3 382.1h0.8v0.8h-0.8zM189.1 393.1h0.8v0.8h-0.8zM166.6 369.3h0.8v0.8h-0.8zM195.0 367.2h0.8v0.8h-0.8zM222.6 351.2h0.8v0.8h-0.8zM186.0 380.0h0.8v0.8h-0.8zM212.9 380.6h0.8v0.8h-0.8zM211.7 393.3h0.8v0.8h-0.8zM190.7 378.0h0.8v0.8h-0.8zM215.0 366.4h0.8v0.8h-0.8zM192.5 370.9h0.8v0.8h-0.8zM184.0 366.3h0.8v0.8h-0.8zM184.6 361.8h0.8v0.8h-0.8zM202.4 356.5h0.8v0.8h-0.8zM243.3 379.5h0.8v0.8h-0.8zM219.9 366.1h0.8v0.8h-0.8zM191.0 388.6h0.8v0.8h-0.8zM204.0 378.3h0.8v0.8h-0.8zM187.9 387.8h0.8v0.8h-0.8zM183.9 378.9h0.8v0.8h-0.8zM164.0 376.4h0.8v0.8h-0.8zM207.5 366.9h0.8v0.8h-0.8zM192.4 383.7h0.8v0.8h-0.8zM200.7 386.1h0.8v0.8h-0.8zM153.9 391.7h0.8v0.8h-0.8zM204.7 356.3h0.8v0.8h-0.8zM176.2 388.9h0.8v0.8h-0.8zM176.7 373.1h0.8v0.8h-0.8zM209.5 367.5h0.8v0.8h-0.8zM205.8 363.0h0.8v0.8h-0.8zM207.4 382.6h0.8v0.8h-0.8zM199.4 351.0h0.8v0.8h-0.8zM211.5 371.0h0.8v0.8h-0.8zM185.0 391.8h0.8v0.8h-0.8zM170.1 400.8h0.8v0.8h-0.8zM190.7 392.2h0.8v0.8h-0.8zM194.5 361.2h0.8v0.8h-0.8zM201.5 376.5h0.8v0.8h-0.8zM212.0 381.2h0.8v0.8h-0.8zM182.8 383.1h0.8v0.8h-0.8zM212.3 367.3h0.8v0.8h-0.8zM178.3 369.4h0.8v0.8h-0.8zM215.3 377.6h0.8v0.8h-0.8zM179.4 365.2h0.8v0.8h-0.8zM218.6 352.4h0.8v0.8h-0.8zM199.8 365.2h0.8v0.8h-0.8zM165.4 384.0h0.8v0.8h-0.8zM198.8 388.6h0.8v0.8h-0.8zM242.0 360.2h0.8v0.8h-0.8zM221.2 378.5h0.8v0.8h-0.8zM186.5 368.1h0.8v0.8h-0.8zM228.8 361.9h0.8v0.8h-0.8zM197.5 371.1h0.8v0.8h-0.8zM194.7 368.6h0.8v0.8h-0.8zM216.4 382.0h0.8v0.8h-0.8zM188.0 362.4h0.8v0.8h-0.8zM195.9 359.2h0.8v0.8h-0.8zM189.6 388.9h0.8v0.8h-0.8zM244.4 365.4h0.8v0.8h-0.8zM180.3 386.7h0.8v0.8h-0.8zM153.8 378.6h0.8v0.8h-0.8zM230.0 373.1h0.8v0.8h-0.8zM168.0 364.9h0.8v0.8h-0.8zM215.1 368.9h0.8v0.8h-0.8zM188.4 380.8h0.8v0.8h-0.8zM182.8 358.2h0.8v0.8h-0.8zM212.6 363.4h0.8v0.8h-0.8zM176.1 366.1h0.8v0.8h-0.8zM201.5 364.7h0.8v0.8h-0.8zM210.1 368.0h0.8v0.8h-0.8zM218.6 364.5h0.8v0.8h-0.8zM181.1 358.2h0.8v0.8h-0.8zM179.5 386.3h0.8v0.8h-0.8zM254.3 346.0h0.8v0.8h-0.8zM179.7 382.3h0.8v0.8h-0.8zM206.2 364.8h0.8v0.8h-0.8zM196.2 357.9h0.8v0.8h-0.8zM195.4 383.9h0.8v0.8h-0.8zM229.8 363.7h0.8v0.8h-0.8zM195.0 379.4h0.8v0.8h-0.8zM221.3 372.7h0.8v0.8h-0.8zM185.3 381.0h0.8v0.8h-0.8zM215.6 361.9h0.8v0.8h-0.8zM174.4 385.5h0.8v0.8h-0.8zM208.3 381.2h0.8v0.8h-0.8zM198.9 367.1h0.8v0.8h-0.8zM187.8 366.1h0.8v0.8h-0.8zM179.2 373.2h0.8v0.8h-0.8zM192.4 387.0h0.8v0.8h-0.8zM175.2 379.6h0.8v0.8h-0.8zM191.4 391.1h0.8v0.8h-0.8zM203.0 368.8h0.8v0.8h-0.8zM214.7 370.2h0.8v0.8h-0.8zM193.7 391.0h0.8v0.8h-0.8zM217.0 386.7h0.8v0.8h-0.8zM223.2 375.3h0.8v0.8h-0.8zM198.7 362.7h0.8v0.8h-0.8zM212.8 370.8h0.8v0.8h-0.8zM211.9 370.2h0.8v0.8h-0.8zM183.2 367.7h0.8v0.8h-0.8zM215.8 382.6h0.8v0.8h-0.8zM194.7 379.6h0.8v0.8h-0.8zM223.5 358.7h0.8v0.8h-0.8zM189.6 364.8h0.8v0.8h-0.8zM222.4 370.3h0.8v0.8h-0.8zM185.9 360.3h0.8v0.8h-0.8zM198.2 384.3h0.8v0.8h-0.8zM192.3 371.3h0.8v0.8h-0.8zM208.2 358.7h0.8v0.8h-0.8zM201.7 379.3h0.8v0.8h-0.8zM182.0 369.9h0.8v0.8h-0.8zM203.6 371.6h0.8v0.8h-0.8zM195.1 377.0h0.8v0.8h-0.8zM201.0 363.8h0.8v0.8h-0.8zM187.5 381.6h0.8v0.8h-0.8zM224.2 381.1h0.8v0.8h-0.8zM185.8 388.7h0.8v0.8h-0.8zM213.7 369.7h0.8v0.8h-0.8zM210.7 379.3h0.8v0.8h-0.8zM230.8 354.5h0.8v0.8h-0.8zM210.4 369.4h0.8v0.8h-0.8zM198.2 385.9h0.8v0.8h-0.8zM212.3 359.9h0.8v0.8h-0.8zM194.4 377.5h0.8v0.8h-0.8zM174.4 389.4h0.8v0.8h-0.8zM198.3 375.8h0.8v0.8h-0.8zM210.4 389.4h0.8v0.8h-0.8zM199.1 370.3h0.8v0.8h-0.8zM231.3 360.1h0.8v0.8h-0.8zM185.7 363.3h0.8v0.8h-0.8zM220.7 370.9h0.8v0.8h-0.8zM208.8 373.0h0.8v0.8h-0.8zM194.7 367.1h0.8v0.8h-0.8zM185.5 382.0h0.8v0.8h-0.8zM205.9 388.8h0.8v0.8h-0.8zM183.6 373.1h0.8v0.8h-0.8zM183.4 392.3h0.8v0.8h-0.8zM177.8 387.6h0.8v0.8h-0.8zM226.5 365.2h0.8v0.8h-0.8zM207.8 349.8h0.8v0.8h-0.8zM187.8 360.0h0.8v0.8h-0.8zM202.7 373.1h0.8v0.8h-0.8zM187.1 386.8h0.8v0.8h-0.8zM204.9 367.1h0.8v0.8h-0.8zM185.9 362.5h0.8v0.8h-0.8zM201.3 395.1h0.8v0.8h-0.8zM186.9 381.5h0.8v0.8h-0.8zM191.0 384.4h0.8v0.8h-0.8zM207.2 369.4h0.8v0.8h-0.8zM164.1 378.1h0.8v0.8h-0.8zM221.7 365.4h0.8v0.8h-0.8zM210.2 366.1h0.8v0.8h-0.8zM164.9 387.5h0.8v0.8h-0.8zM204.1 366.7h0.8v0.8h-0.8zM193.1 378.6h0.8v0.8h-0.8zM189.0 380.2h0.8v0.8h-0.8zM189.5 352.4h0.8v0.8h-0.8zM195.2 368.9h0.8v0.8h-0.8zM184.5 382.0h0.8v0.8h-0.8zM191.5 381.5h0.8v0.8h-0.8zM220.7 369.7h0.8v0.8h-0.8zM168.1 374.8h0.8v0.8h-0.8zM216.3 366.8h0.8v0.8h-0.8zM183.9 377.2h0.8v0.8h-0.8zM209.8 373.8h0.8v0.8h-0.8zM209.7 362.7h0.8v0.8h-0.8zM193.6 372.9h0.8v0.8h-0.8zM193.8 354.0h0.8v0.8h-0.8zM191.6 362.3h0.8v0.8h-0.8zM230.1 381.7h0.8v0.8h-0.8zM233.7 373.0h0.8v0.8h-0.8zM192.7 385.6h0.8v0.8h-0.8zM197.3 380.8h0.8v0.8h-0.8zM180.8 372.9h0.8v0.8h-0.8zM213.0 388.5h0.8v0.8h-0.8zM204.9 395.6h0.8v0.8h-0.8zM249.0 347.6h0.8v0.8h-0.8zM196.7 365.0h0.8v0.8h-0.8zM195.6 369.5h0.8v0.8h-0.8zM200.8 383.5h0.8v0.8h-0.8zM218.2 371.6h0.8v0.8h-0.8zM200.0 375.0h0.8v0.8h-0.8zM203.5 378.8h0.8v0.8h-0.8zM201.0 378.7h0.8v0.8h-0.8zM176.7 388.2h0.8v0.8h-0.8zM233.5 366.7h0.8v0.8h-0.8zM176.1 394.1h0.8v0.8h-0.8zM185.7 347.1h0.8v0.8h-0.8zM197.1 380.8h0.8v0.8h-0.8zM210.2 383.8h0.8v0.8h-0.8zM211.9 372.0h0.8v0.8h-0.8zM159.1 373.4h0.8v0.8h-0.8zM204.9 379.5h0.8v0.8h-0.8zM178.5 373.4h0.8v0.8h-0.8zM203.8 353.3h0.8v0.8h-0.8zM161.9 381.7h0.8v0.8h-0.8zM203.3 368.1h0.8v0.8h-0.8zM155.9 385.9h0.8v0.8h-0.8zM176.0 387.0h0.8v0.8h-0.8zM198.5 377.0h0.8v0.8h-0.8zM210.6 365.6h0.8v0.8h-0.8zM218.7 381.6h0.8v0.8h-0.8zM210.7 384.6h0.8v0.8h-0.8zM190.1 385.9h0.8v0.8h-0.8zM202.4 363.1h0.8v0.8h-0.8zM196.9 369.3h0.8v0.8h-0.8zM189.4 377.6h0.8v0.8h-0.8zM219.2 365.5h0.8v0.8h-0.8zM198.4 359.3h0.8v0.8h-0.8zM204.7 384.4h0.8v0.8h-0.8zM216.5 374.3h0.8v0.8h-0.8zM187.2 367.3h0.8v0.8h-0.8zM194.5 361.6h0.8v0.8h-0.8zM178.6 389.3h0.8v0.8h-0.8zM186.8 395.8h0.8v0.8h-0.8zM173.5 385.4h0.8v0.8h-0.8zM177.8 381.6h0.8v0.8h-0.8zM180.0 379.7h0.8v0.8h-0.8zM195.6 370.4h0.8v0.8h-0.8zM213.4 385.8h0.8v0.8h-0.8zM190.7 385.4h0.8v0.8h-0.8zM201.3 373.2h0.8v0.8h-0.8zM236.1 341.9h0.8v0.8h-0.8zM182.1 360.1h0.8v0.8h-0.8zM193.2 373.4h0.8v0.8h-0.8zM273.6 357.7h0.8v0.8h-0.8zM237.4 377.2h0.8v0.8h-0.8zM192.5 380.8h0.8v0.8h-0.8zM232.1 367.0h0.8v0.8h-0.8zM205.0 377.7h0.8v0.8h-0.8zM168.9 373.9h0.8v0.8h-0.8zM207.6 377.4h0.8v0.8h-0.8zM181.3 375.6h0.8v0.8h-0.8zM197.0 373.1h0.8v0.8h-0.8zM213.3 371.4h0.8v0.8h-0.8zM199.3 359.5h0.8v0.8h-0.8zM180.4 382.4h0.8v0.8h-0.8zM169.9 384.7h0.8v0.8h-0.8zM185.0 369.6h0.8v0.8h-0.8zM210.4 364.1h0.8v0.8h-0.8zM181.5 371.9h0.8v0.8h-0.8zM207.8 400.0h0.8v0.8h-0.8zM159.0 384.6h0.8v0.8h-0.8zM197.4 384.3h0.8v0.8h-0.8zM186.2 352.1h0.8v0.8h-0.8zM222.2 356.6h0.8v0.8h-0.8zM194.9 361.1h0.8v0.8h-0.8zM177.3 374.8h0.8v0.8h-0.8zM218.1 377.6h0.8v0.8h-0.8zM189.3 381.8h0.8v0.8h-0.8zM192.6 376.9h0.8v0.8h-0.8zM204.0 379.0h0.8v0.8h-0.8zM187.3 375.8h0.8v0.8h-0.8zM203.9 373.6h0.8v0.8h-0.8zM188.6 394.5h0.8v0.8h-0.8zM192.5 383.5h0.8v0.8h-0.8zM206.5 384.6h0.8v0.8h-0.8zM162.8 404.8h0.8v0.8h-0.8zM192.1 363.2h0.8v0.8h-0.8zM207.7 394.9h0.8v0.8h-0.8zM205.9 359.5h0.8v0.8h-0.8zM193.9 389.1h0.8v0.8h-0.8zM172.0 379.4h0.8v0.8h-0.8zM199.3 396.2h0.8v0.8h-0.8zM197.1 388.0h0.8v0.8h-0.8zM184.3 369.6h0.8v0.8h-0.8zM220.2 374.7h0.8v0.8h-0.8zM167.8 388.9h0.8v0.8h-0.8zM210.1 364.7h0.8v0.8h-0.8zM204.2 375.3h0.8v0.8h-0.8zM188.5 370.7h0.8v0.8h-0.8zM185.7 374.7h0.8v0.8h-0.8zM173.7 380.3h0.8v0.8h-0.8zM170.8 382.3h0.8v0.8h-0.8zM195.0 364.4h0.8v0.8h-0.8zM220.6 388.0h0.8v0.8h-0.8zM221.2 353.9h0.8v0.8h-0.8zM224.3 369.4h0.8v0.8h-0.8zM196.7 368.4h0.8v0.8h-0.8zM202.7 387.2h0.8v0.8h-0.8zM208.6 367.1h0.8v0.8h-0.8zM185.3 373.3h0.8v0.8h-0.8zM215.3 388.7h0.8v0.8h-0.8zM179.0 379.3h0.8v0.8h-0.8zM189.9 368.6h0.8v0.8h-0.8zM208.3 377.1h0.8v0.8h-0.8zM169.4 371.2h0.8v0.8h-0.8zM223.0 370.8h0.8v0.8h-0.8zM208.0 366.4h0.8v0.8h-0.8zM193.1 380.2h0.8v0.8h-0.8zM186.9 365.8h0.8v0.8h-0.8zM201.6 382.5h0.8v0.8h-0.8zM182.2 389.3h0.8v0.8h-0.8zM210.5 362.0h0.8v0.8h-0.8zM199.3 373.4h0.8v0.8h-0.8zM213.1 377.0h0.8v0.8h-0.8zM170.9 367.6h0.8v0.8h-0.8zM219.2 369.7h0.8v0.8h-0.8zM208.1 374.9h0.8v0.8h-0.8zM225.5 354.5h0.8v0.8h-0.8zM218.0 360.4h0.8v0.8h-0.8zM216.6 382.9h0.8v0.8h-0.8zM173.8 384.8h0.8v0.8h-0.8zM193.2 372.5h0.8v0.8h-0.8zM197.4 363.6h0.8v0.8h-0.8zM182.5 385.1h0.8v0.8h-0.8zM214.0 364.1h0.8v0.8h-0.8zM177.4 403.4h0.8v0.8h-0.8zM221.2 371.7h0.8v0.8h-0.8zM178.1 373.6h0.8v0.8h-0.8zM201.4 363.4h0.8v0.8h-0.8zM230.2 367.0h0.8v0.8h-0.8zM204.1 362.0h0.8v0.8h-0.8zM179.9 371.0h0.8v0.8h-0.8zM203.8 369.9h0.8v0.8h-0.8zM194.5 378.3h0.8v0.8h-0.8zM207.3 386.8h0.8v0.8h-0.8zM192.9 365.2h0.8v0.8h-0.8zM202.8 387.8h0.8v0.8h-0.8zM188.8 377.1h0.8v0.8h-0.8zM193.5 379.5h0.8v0.8h-0.8zM202.1 364.8h0.8v0.8h-0.8zM197.3 384.0h0.8v0.8h-0.8zM222.4 377.0h0.8v0.8h-0.8zM214.8 366.3h0.8v0.8h-0.8zM194.7 384.5h0.8v0.8h-0.8zM176.8 379.3h0.8v0.8h-0.8zM163.0 379.7h0.8v0.8h-0.8zM182.8 366.0h0.8v0.8h-0.8zM208.4 363.9h0.8v0.8h-0.8zM191.6 373.3h0.8v0.8h-0.8zM188.9 391.1h0.8v0.8h-0.8zM190.4 378.2h0.8v0.8h-0.8zM173.3 376.0h0.8v0.8h-0.8zM192.4 372.6h0.8v0.8h-0.8zM188.6 378.2h0.8v0.8h-0.8zM228.5 364.7h0.8v0.8h-0.8zM195.7 370.9h0.8v0.8h-0.8zM251.5 376.3h0.8v0.8h-0.8zM211.7 377.7h0.8v0.8h-0.8zM185.4 376.0h0.8v0.8h-0.8zM203.6 373.9h0.8v0.8h-0.8zM181.1 370.8h0.8v0.8h-0.8zM209.9 374.2h0.8v0.8h-0.8zM159.6 385.4h0.8v0.8h-0.8zM221.8 361.3h0.8v0.8h-0.8zM200.2 358.9h0.8v0.8h-0.8zM212.3 359.1h0.8v0.8h-0.8zM174.8 377.2h0.8v0.8h-0.8zM242.7 356.0h0.8v0.8h-0.8zM176.6 384.6h0.8v0.8h-0.8zM207.9 388.4h0.8v0.8h-0.8zM171.3 365.2h0.8v0.8h-0.8zM194.3 379.0h0.8v0.8h-0.8zM208.9 382.3h0.8v0.8h-0.8zM168.9 373.6h0.8v0.8h-0.8zM199.0 382.5h0.8v0.8h-0.8zM207.3 367.5h0.8v0.8h-0.8zM182.2 387.4h0.8v0.8h-0.8zM224.2 394.7h0.8v0.8h-0.8zM200.1 390.1h0.8v0.8h-0.8zM175.1 374.9h0.8v0.8h-0.8zM185.3 372.9h0.8v0.8h-0.8zM181.4 373.2h0.8v0.8h-0.8zM197.2 369.9h0.8v0.8h-0.8zM211.6 369.7h0.8v0.8h-0.8zM203.1 387.8h0.8v0.8h-0.8zM205.7 373.7h0.8v0.8h-0.8zM199.1 374.6h0.8v0.8h-0.8zM208.2 363.4h0.8v0.8h-0.8zM225.0 382.9h0.8v0.8h-0.8zM219.9 363.4h0.8v0.8h-0.8zM168.1 377.8h0.8v0.8h-0.8zM204.4 380.9h0.8v0.8h-0.8zM195.1 371.9h0.8v0.8h-0.8zM226.4 359.8h0.8v0.8h-0.8zM221.8 377.0h0.8v0.8h-0.8zM174.9 383.2h0.8v0.8h-0.8zM186.4 367.7h0.8v0.8h-0.8zM160.4 368.4h0.8v0.8h-0.8zM206.2 368.1h0.8v0.8h-0.8zM201.8 362.4h0.8v0.8h-0.8zM192.6 372.9h0.8v0.8h-0.8zM165.9 366.0h0.8v0.8h-0.8zM208.1 373.0h0.8v0.8h-0.8zM181.4 377.6h0.8v0.8h-0.8zM216.5 387.8h0.8v0.8h-0.8zM184.1 384.2h0.8v0.8h-0.8zM239.6 363.8h0.8v0.8h-0.8zM220.6 342.0h0.8v0.8h-0.8zM226.8 366.4h0.8v0.8h-0.8zM165.8 390.8h0.8v0.8h-0.8zM222.3 380.0h0.8v0.8h-0.8zM222.0 367.5h0.8v0.8h-0.8zM184.0 373.3h0.8v0.8h-0.8zM199.7 377.9h0.8v0.8h-0.8zM190.4 376.8h0.8v0.8h-0.8zM216.8 372.5h0.8v0.8h-0.8zM248.3 382.7h0.8v0.8h-0.8zM176.2 374.3h0.8v0.8h-0.8zM171.6 369.5h0.8v0.8h-0.8zM207.2 361.7h0.8v0.8h-0.8zM178.8 376.6h0.8v0.8h-0.8zM213.6 366.4h0.8v0.8h-0.8zM194.9 384.4h0.8v0.8h-0.8zM209.5 375.8h0.8v0.8h-0.8zM214.8 359.5h0.8v0.8h-0.8zM201.8 366.8h0.8v0.8h-0.8zM220.9 376.4h0.8v0.8h-0.8zM182.9 391.9h0.8v0.8h-0.8zM180.2 390.9h0.8v0.8h-0.8zM201.0 364.6h0.8v0.8h-0.8zM177.3 376.7h0.8v0.8h-0.8zM197.1 367.2h0.8v0.8h-0.8zM206.5 357.7h0.8v0.8h-0.8zM199.2 373.9h0.8v0.8h-0.8zM164.6 386.3h0.8v0.8h-0.8zM169.0 356.6h0.8v0.8h-0.8zM187.1 374.8h0.8v0.8h-0.8zM215.3 364.6h0.8v0.8h-0.8zM231.0 380.0h0.8v0.8h-0.8zM223.5 380.9h0.8v0.8h-0.8zM204.6 366.8h0.8v0.8h-0.8zM214.1 379.8h0.8v0.8h-0.8zM203.3 370.3h0.8v0.8h-0.8zM171.2 388.3h0.8v0.8h-0.8zM202.7 359.7h0.8v0.8h-0.8zM203.1 380.2h0.8v0.8h-0.8zM199.3 381.9h0.8v0.8h-0.8zM209.9 356.0h0.8v0.8h-0.8zM194.8 380.0h0.8v0.8h-0.8zM220.4 382.6h0.8v0.8h-0.8zM162.6 383.0h0.8v0.8h-0.8zM216.1 381.9h0.8v0.8h-0.8zM229.1 356.3h0.8v0.8h-0.8zM189.5 365.7h0.8v0.8h-0.8zM211.6 357.1h0.8v0.8h-0.8zM224.3 376.7h0.8v0.8h-0.8zM203.1 350.7h0.8v0.8h-0.8zM188.3 384.5h0.8v0.8h-0.8zM171.7 378.8h0.8v0.8h-0.8zM199.6 382.9h0.8v0.8h-0.8zM205.4 375.0h0.8v0.8h-0.8zM190.9 376.2h0.8v0.8h-0.8zM198.6 381.5h0.8v0.8h-0.8zM198.5 384.6h0.8v0.8h-0.8zM170.0 394.0h0.8v0.8h-0.8zM199.0 385.5h0.8v0.8h-0.8zM203.1 381.6h0.8v0.8h-0.8zM226.4 360.9h0.8v0.8h-0.8zM200.4 371.8h0.8v0.8h-0.8zM199.1 357.3h0.8v0.8h-0.8zM195.4 372.4h0.8v0.8h-0.8zM183.8 376.0h0.8v0.8h-0.8zM173.4 395.1h0.8v0.8h-0.8zM212.6 389.5h0.8v0.8h-0.8zM179.6 367.2h0.8v0.8h-0.8zM200.4 356.5h0.8v0.8h-0.8zM201.8 366.0h0.8v0.8h-0.8zM193.5 378.0h0.8v0.8h-0.8zM204.9 391.4h0.8v0.8h-0.8zM208.0 358.3h0.8v0.8h-0.8zM214.5 356.1h0.8v0.8h-0.8zM197.7 361.5h0.8v0.8h-0.8zM186.8 390.6h0.8v0.8h-0.8zM187.0 370.5h0.8v0.8h-0.8zM187.7 373.7h0.8v0.8h-0.8zM223.7 355.2h0.8v0.8h-0.8zM177.1 385.7h0.8v0.8h-0.8zM167.8 378.5h0.8v0.8h-0.8zM220.8 368.1h0.8v0.8h-0.8zM188.2 369.5h0.8v0.8h-0.8zM180.1 372.9h0.8v0.8h-0.8zM204.9 385.0h0.8v0.8h-0.8zM216.1 363.5h0.8v0.8h-0.8zM186.9 384.2h0.8v0.8h-0.8zM163.3 378.9h0.8v0.8h-0.8zM190.0 364.9h0.8v0.8h-0.8zM180.9 382.2h0.8v0.8h-0.8zM165.0 373.5h0.8v0.8h-0.8zM186.7 377.9h0.8v0.8h-0.8zM175.5 391.1h0.8v0.8h-0.8zM192.3 372.8h0.8v0.8h-0.8zM190.2 369.2h0.8v0.8h-0.8zM183.0 389.7h0.8v0.8h-0.8zM202.3 371.6h0.8v0.8h-0.8zM215.8 361.9h0.8v0.8h-0.8zM210.7 370.7h0.8v0.8h-0.8zM183.6 385.5h0.8v0.8h-0.8zM171.8 387.5h0.8v0.8h-0.8zM182.7 382.1h0.8v0.8h-0.8zM226.3 372.0h0.8v0.8h-0.8zM186.9 376.5h0.8v0.8h-0.8zM188.5 364.4h0.8v0.8h-0.8zM177.5 379.7h0.8v0.8h-0.8zM204.1 354.1h0.8v0.8h-0.8zM198.3 378.8h0.8v0.8h-0.8zM197.8 363.5h0.8v0.8h-0.8zM214.8 356.8h0.8v0.8h-0.8zM214.6 385.5h0.8v0.8h-0.8zM160.1 386.5h0.8v0.8h-0.8zM204.7 374.2h0.8v0.8h-0.8zM182.8 374.6h0.8v0.8h-0.8zM171.9 382.0h0.8v0.8h-0.8zM206.6 364.6h0.8v0.8h-0.8zM179.3 373.8h0.8v0.8h-0.8zM198.0 374.2h0.8v0.8h-0.8zM196.2 374.8h0.8v0.8h-0.8zM166.2 354.4h0.8v0.8h-0.8zM213.3 383.9h0.8v0.8h-0.8zM169.4 374.5h0.8v0.8h-0.8zM206.0 381.1h0.8v0.8h-0.8zM213.5 382.4h0.8v0.8h-0.8zM197.9 377.8h0.8v0.8h-0.8zM204.6 367.4h0.8v0.8h-0.8zM222.2 373.4h0.8v0.8h-0.8zM215.4 364.9h0.8v0.8h-0.8zM214.7 358.4h0.8v0.8h-0.8zM198.7 346.8h0.8v0.8h-0.8zM180.6 385.7h0.8v0.8h-0.8zM189.8 377.5h0.8v0.8h-0.8zM171.1 396.4h0.8v0.8h-0.8zM209.0 370.3h0.8v0.8h-0.8zM206.5 374.5h0.8v0.8h-0.8zM225.1 368.4h0.8v0.8h-0.8zM169.3 378.6h0.8v0.8h-0.8zM223.5 372.4h0.8v0.8h-0.8zM191.4 381.5h0.8v0.8h-0.8zM201.6 378.7h0.8v0.8h-0.8zM165.6 373.1h0.8v0.8h-0.8zM209.8 368.1h0.8v0.8h-0.8zM209.4 390.3h0.8v0.8h-0.8zM192.5 377.4h0.8v0.8h-0.8zM185.7 370.5h0.8v0.8h-0.8zM192.7 360.2h0.8v0.8h-0.8zM161.5 397.1h0.8v0.8h-0.8zM198.7 384.7h0.8v0.8h-0.8zM200.5 374.3h0.8v0.8h-0.8zM212.3 376.9h0.8v0.8h-0.8zM178.2 391.0h0.8v0.8h-0.8zM180.0 380.4h0.8v0.8h-0.8zM246.3 361.4h0.8v0.8h-0.8zM228.4 361.8h0.8v0.8h-0.8zM209.6 370.9h0.8v0.8h-0.8zM203.6 363.4h0.8v0.8h-0.8zM181.4 381.4h0.8v0.8h-0.8zM166.2 373.5h0.8v0.8h-0.8zM208.4 364.5h0.8v0.8h-0.8zM178.3 367.6h0.8v0.8h-0.8zM199.7 369.4h0.8v0.8h-0.8zM200.2 371.0h0.8v0.8h-0.8zM231.7 360.1h0.8v0.8h-0.8zM161.2 384.6h0.8v0.8h-0.8zM198.3 375.0h0.8v0.8h-0.8zM170.4 392.3h0.8v0.8h-0.8zM197.2 373.3h0.8v0.8h-0.8zM169.2 386.0h0.8v0.8h-0.8zM200.0 386.6h0.8v0.8h-0.8zM186.9 364.0h0.8v0.8h-0.8zM198.0 364.3h0.8v0.8h-0.8zM202.9 361.3h0.8v0.8h-0.8zM194.9 372.1h0.8v0.8h-0.8zM195.9 368.9h0.8v0.8h-0.8zM182.5 377.1h0.8v0.8h-0.8zM187.3 377.9h0.8v0.8h-0.8zM187.1 353.8h0.8v0.8h-0.8zM200.2 386.9h0.8v0.8h-0.8zM205.1 377.7h0.8v0.8h-0.8zM205.2 366.9h0.8v0.8h-0.8zM174.9 387.9h0.8v0.8h-0.8zM219.0 373.6h0.8v0.8h-0.8zM206.8 375.1h0.8v0.8h-0.8zM198.0 376.3h0.8v0.8h-0.8zM198.9 376.6h0.8v0.8h-0.8zM178.6 372.4h0.8v0.8h-0.8zM207.6 367.6h0.8v0.8h-0.8zM153.0 386.8h0.8v0.8h-0.8zM160.0 402.8h0.8v0.8h-0.8zM213.0 376.2h0.8v0.8h-0.8zM182.7 366.4h0.8v0.8h-0.8zM194.0 374.8h0.8v0.8h-0.8zM184.0 378.9h0.8v0.8h-0.8zM212.2 375.7h0.8v0.8h-0.8zM173.2 358.7h0.8v0.8h-0.8zM196.4 367.4h0.8v0.8h-0.8zM210.3 386.6h0.8v0.8h-0.8zM229.1 368.1h0.8v0.8h-0.8zM222.7 383.3h0.8v0.8h-0.8zM199.6 375.9h0.8v0.8h-0.8zM213.8 369.0h0.8v0.8h-0.8zM187.0 369.1h0.8v0.8h-0.8zM196.7 367.8h0.8v0.8h-0.8zM212.1 366.6h0.8v0.8h-0.8zM228.2 377.6h0.8v0.8h-0.8zM177.9 389.8h0.8v0.8h-0.8zM194.1 388.3h0.8v0.8h-0.8zM207.6 370.7h0.8v0.8h-0.8zM209.3 365.2h0.8v0.8h-0.8zM205.3 375.6h0.8v0.8h-0.8zM196.6 378.0h0.8v0.8h-0.8zM181.3 383.7h0.8v0.8h-0.8zM177.6 385.4h0.8v0.8h-0.8zM208.8 377.9h0.8v0.8h-0.8zM195.7 404.4h0.8v0.8h-0.8zM194.7 376.2h0.8v0.8h-0.8zM188.2 390.6h0.8v0.8h-0.8zM192.4 385.2h0.8v0.8h-0.8zM182.0 381.2h0.8v0.8h-0.8zM194.1 384.1h0.8v0.8h-0.8zM191.2 367.2h0.8v0.8h-0.8zM204.1 360.6h0.8v0.8h-0.8zM183.1 385.5h0.8v0.8h-0.8zM166.3 389.9h0.8v0.8h-0.8zM189.2 367.3h0.8v0.8h-0.8zM204.9 378.4h0.8v0.8h-0.8zM187.7 375.0h0.8v0.8h-0.8zM215.4 376.8h0.8v0.8h-0.8zM196.1 367.0h0.8v0.8h-0.8zM180.2 373.0h0.8v0.8h-0.8zM212.9 375.8h0.8v0.8h-0.8zM208.0 385.0h0.8v0.8h-0.8zM192.7 371.8h0.8v0.8h-0.8zM196.8 393.2h0.8v0.8h-0.8zM162.3 386.6h0.8v0.8h-0.8zM207.5 372.2h0.8v0.8h-0.8zM244.7 373.1h0.8v0.8h-0.8zM211.2 361.9h0.8v0.8h-0.8zM207.5 368.0h0.8v0.8h-0.8zM200.7 375.5h0.8v0.8h-0.8zM192.2 382.0h0.8v0.8h-0.8zM231.7 375.4h0.8v0.8h-0.8zM198.7 355.3h0.8v0.8h-0.8zM221.9 378.4h0.8v0.8h-0.8zM194.9 370.5h0.8v0.8h-0.8zM209.6 363.3h0.8v0.8h-0.8zM211.5 360.2h0.8v0.8h-0.8zM182.9 378.6h0.8v0.8h-0.8zM173.2 381.0h0.8v0.8h-0.8zM206.2 359.4h0.8v0.8h-0.8zM215.2 364.3h0.8v0.8h-0.8zM210.2 373.2h0.8v0.8h-0.8zM190.2 371.4h0.8v0.8h-0.8zM167.1 375.9h0.8v0.8h-0.8zM189.8 392.6h0.8v0.8h-0.8zM214.9 356.6h0.8v0.8h-0.8zM214.9 372.1h0.8v0.8h-0.8zM194.1 380.0h0.8v0.8h-0.8zM212.8 365.0h0.8v0.8h-0.8zM195.3 376.8h0.8v0.8h-0.8zM182.5 380.4h0.8v0.8h-0.8zM196.8 368.2h0.8v0.8h-0.8zM185.4 380.8h0.8v0.8h-0.8zM216.6 372.7h0.8v0.8h-0.8zM186.2 384.9h0.8v0.8h-0.8zM204.4 378.5h0.8v0.8h-0.8zM218.8 360.2h0.8v0.8h-0.8zM195.9 369.3h0.8v0.8h-0.8zM189.0 396.3h0.8v0.8h-0.8zM212.6 353.5h0.8v0.8h-0.8zM206.3 366.9h0.8v0.8h-0.8zM220.9 369.2h0.8v0.8h-0.8zM197.1 376.1h0.8v0.8h-0.8zM207.0 372.4h0.8v0.8h-0.8zM195.7 373.8h0.8v0.8h-0.8zM206.5 361.3h0.8v0.8h-0.8zM199.6 372.9h0.8v0.8h-0.8zM193.0 383.0h0.8v0.8h-0.8zM175.8 376.9h0.8v0.8h-0.8zM185.9 383.0h0.8v0.8h-0.8zM191.6 376.7h0.8v0.8h-0.8zM203.1 357.7h0.8v0.8h-0.8zM206.3 365.1h0.8v0.8h-0.8zM195.1 374.2h0.8v0.8h-0.8zM216.4 376.7h0.8v0.8h-0.8zM232.3 367.1h0.8v0.8h-0.8zM190.2 371.8h0.8v0.8h-0.8zM215.7 385.3h0.8v0.8h-0.8zM204.8 367.2h0.8v0.8h-0.8zM205.6 375.0h0.8v0.8h-0.8zM198.8 367.1h0.8v0.8h-0.8zM152.9 381.4h0.8v0.8h-0.8zM219.5 370.8h0.8v0.8h-0.8zM160.2 384.7h0.8v0.8h-0.8zM171.5 400.9h0.8v0.8h-0.8zM200.5 362.2h0.8v0.8h-0.8zM212.5 363.1h0.8v0.8h-0.8zM210.2 371.5h0.8v0.8h-0.8zM180.3 385.7h0.8v0.8h-0.8zM179.1 392.6h0.8v0.8h-0.8zM198.6 364.4h0.8v0.8h-0.8zM171.2 397.3h0.8v0.8h-0.8zM223.1 355.6h0.8v0.8h-0.8zM230.1 367.5h0.8v0.8h-0.8zM195.8 374.3h0.8v0.8h-0.8zM198.6 388.2h0.8v0.8h-0.8zM198.3 356.7h0.8v0.8h-0.8zM239.9 371.8h0.8v0.8h-0.8zM179.5 376.0h0.8v0.8h-0.8zM183.8 378.8h0.8v0.8h-0.8zM207.7 374.2h0.8v0.8h-0.8zM187.3 369.7h0.8v0.8h-0.8zM215.0 369.0h0.8v0.8h-0.8zM238.7 355.8h0.8v0.8h-0.8zM214.3 370.6h0.8v0.8h-0.8zM189.6 390.0h0.8v0.8h-0.8zM200.1 365.3h0.8v0.8h-0.8zM196.7 384.7h0.8v0.8h-0.8zM181.2 392.4h0.8v0.8h-0.8zM211.7 368.2h0.8v0.8h-0.8zM228.7 383.2h0.8v0.8h-0.8zM211.2 372.6h0.8v0.8h-0.8zM237.0 378.6h0.8v0.8h-0.8zM182.8 376.6h0.8v0.8h-0.8zM195.1 371.3h0.8v0.8h-0.8zM175.1 389.4h0.8v0.8h-0.8zM201.8 374.5h0.8v0.8h-0.8zM224.1 362.1h0.8v0.8h-0.8zM199.6 376.8h0.8v0.8h-0.8zM191.9 375.1h0.8v0.8h-0.8zM213.9 370.2h0.8v0.8h-0.8zM222.3 360.7h0.8v0.8h-0.8zM200.2 360.1h0.8v0.8h-0.8zM196.2 368.2h0.8v0.8h-0.8zM226.5 374.1h0.8v0.8h-0.8zM213.7 388.3h0.8v0.8h-0.8zM227.9 373.5h0.8v0.8h-0.8zM184.0 364.2h0.8v0.8h-0.8zM198.6 370.9h0.8v0.8h-0.8zM187.5 374.5h0.8v0.8h-0.8zM173.6 395.6h0.8v0.8h-0.8zM177.6 373.4h0.8v0.8h-0.8zM206.4 356.4h0.8v0.8h-0.8zM219.1 378.0h0.8v0.8h-0.8zM191.7 365.7h0.8v0.8h-0.8zM186.9 359.5h0.8v0.8h-0.8zM225.4 367.7h0.8v0.8h-0.8zM184.4 369.3h0.8v0.8h-0.8zM214.1 384.9h0.8v0.8h-0.8zM175.4 375.0h0.8v0.8h-0.8zM169.6 388.8h0.8v0.8h-0.8zM208.4 393.9h0.8v0.8h-0.8zM196.7 370.6h0.8v0.8h-0.8zM189.1 385.3h0.8v0.8h-0.8zM172.1 388.8h0.8v0.8h-0.8zM203.3 368.2h0.8v0.8h-0.8zM186.1 388.1h0.8v0.8h-0.8zM233.0 360.8h0.8v0.8h-0.8zM214.0 387.3h0.8v0.8h-0.8zM188.0 374.7h0.8v0.8h-0.8zM177.3 378.6h0.8v0.8h-0.8zM197.5 370.6h0.8v0.8h-0.8zM182.6 363.1h0.8v0.8h-0.8zM172.9 371.7h0.8v0.8h-0.8zM210.5 366.2h0.8v0.8h-0.8zM186.0 384.2h0.8v0.8h-0.8zM208.5 364.3h0.8v0.8h-0.8zM190.1 383.1h0.8v0.8h-0.8zM204.6 364.5h0.8v0.8h-0.8zM204.3 372.5h0.8v0.8h-0.8zM218.3 360.5h0.8v0.8h-0.8zM217.3 373.6h0.8v0.8h-0.8zM184.0 388.7h0.8v0.8h-0.8zM213.5 357.4h0.8v0.8h-0.8zM233.7 353.7h0.8v0.8h-0.8zM182.3 375.6h0.8v0.8h-0.8zM215.6 375.6h0.8v0.8h-0.8zM201.6 387.1h0.8v0.8h-0.8zM210.9 384.9h0.8v0.8h-0.8zM252.5 361.8h0.8v0.8h-0.8zM151.3 382.6h0.8v0.8h-0.8zM180.3 380.2h0.8v0.8h-0.8zM198.8 362.2h0.8v0.8h-0.8zM178.0 377.3h0.8v0.8h-0.8zM189.9 350.8h0.8v0.8h-0.8zM218.1 369.4h0.8v0.8h-0.8zM200.6 376.8h0.8v0.8h-0.8zM180.8 378.6h0.8v0.8h-0.8zM222.0 378.9h0.8v0.8h-0.8zM207.9 369.1h0.8v0.8h-0.8zM188.0 390.4h0.8v0.8h-0.8zM208.7 367.4h0.8v0.8h-0.8zM157.2 376.7h0.8v0.8h-0.8zM167.0 395.4h0.8v0.8h-0.8zM201.7 366.1h0.8v0.8h-0.8zM201.3 399.8h0.8v0.8h-0.8zM219.5 355.2h0.8v0.8h-0.8zM194.4 363.1h0.8v0.8h-0.8zM168.0 384.3h0.8v0.8h-0.8zM249.5 376.5h0.8v0.8h-0.8zM199.9 370.2h0.8v0.8h-0.8zM206.4 382.8h0.8v0.8h-0.8zM167.6 363.7h0.8v0.8h-0.8zM236.3 367.1h0.8v0.8h-0.8zM231.1 368.1h0.8v0.8h-0.8zM226.5 360.7h0.8v0.8h-0.8zM213.4 386.2h0.8v0.8h-0.8zM218.2 364.4h0.8v0.8h-0.8zM215.3 363.1h0.8v0.8h-0.8zM174.2 386.3h0.8v0.8h-0.8zM228.8 375.0h0.8v0.8h-0.8zM178.2 388.7h0.8v0.8h-0.8zM211.8 366.1h0.8v0.8h-0.8zM155.1 396.4h0.8v0.8h-0.8zM218.2 374.2h0.8v0.8h-0.8zM163.1 368.6h0.8v0.8h-0.8zM221.4 376.5h0.8v0.8h-0.8zM208.8 369.1h0.8v0.8h-0.8zM206.2 366.8h0.8v0.8h-0.8zM191.8 367.3h0.8v0.8h-0.8zM203.9 368.7h0.8v0.8h-0.8zM220.1 376.0h0.8v0.8h-0.8zM189.1 395.8h0.8v0.8h-0.8zM179.6 384.1h0.8v0.8h-0.8zM224.1 380.7h0.8v0.8h-0.8zM160.1 395.0h0.8v0.8h-0.8zM227.2 381.6h0.8v0.8h-0.8zM155.4 379.0h0.8v0.8h-0.8zM196.9 370.2h0.8v0.8h-0.8zM224.1 360.5h0.8v0.8h-0.8zM225.1 373.1h0.8v0.8h-0.8zM169.4 371.9h0.8v0.8h-0.8zM191.2 377.4h0.8v0.8h-0.8zM218.7 367.1h0.8v0.8h-0.8zM213.5 354.1h0.8v0.8h-0.8zM140.2 386.5h0.8v0.8h-0.8zM207.9 368.1h0.8v0.8h-0.8zM181.6 383.3h0.8v0.8h-0.8zM237.1 363.0h0.8v0.8h-0.8zM183.8 369.6h0.8v0.8h-0.8zM237.9 363.4h0.8v0.8h-0.8zM215.0 382.6h0.8v0.8h-0.8zM218.4 359.5h0.8v0.8h-0.8zM220.7 377.2h0.8v0.8h-0.8zM212.1 381.2h0.8v0.8h-0.8zM189.0 376.2h0.8v0.8h-0.8zM191.8 384.0h0.8v0.8h-0.8zM188.4 381.2h0.8v0.8h-0.8zM178.5 378.5h0.8v0.8h-0.8zM192.7 374.8h0.8v0.8h-0.8zM202.1 371.5h0.8v0.8h-0.8zM190.4 355.1h0.8v0.8h-0.8zM219.7 362.3h0.8v0.8h-0.8zM193.1 367.3h0.8v0.8h-0.8zM217.0 360.1h0.8v0.8h-0.8zM212.8 382.8h0.8v0.8h-0.8zM234.9 377.0h0.8v0.8h-0.8zM208.9 359.2h0.8v0.8h-0.8zM228.0 378.8h0.8v0.8h-0.8zM218.3 377.4h0.8v0.8h-0.8zM200.2 368.7h0.8v0.8h-0.8zM224.2 380.7h0.8v0.8h-0.8zM182.4 388.2h0.8v0.8h-0.8zM207.2 381.3h0.8v0.8h-0.8zM208.3 383.3h0.8v0.8h-0.8zM222.2 377.3h0.8v0.8h-0.8zM175.8 389.1h0.8v0.8h-0.8zM198.3 363.0h0.8v0.8h-0.8zM210.4 357.3h0.8v0.8h-0.8zM221.9 385.7h0.8v0.8h-0.8zM193.0 385.5h0.8v0.8h-0.8zM210.7 378.0h0.8v0.8h-0.8zM176.0 386.9h0.8v0.8h-0.8zM204.9 380.5h0.8v0.8h-0.8z" fill="#ee1111" opacity="1.0"/>
<path d="M208.9 386.4h0.7v0.7h-0.7zM166.6 388.2h0.7v0.7h-0.7zM216.0 386.3h0.7v0.7h-0.7zM231.1 386.1h0.7v0.7h-0.7zM177.3 387.4h0.7v0.7h-0.7zM231.9 383.8h0.7v0.7h-0.7zM200.3 384.6h0.7v0.7h-0.7zM228.3 384.0h0.7v0.7h-0.7zM221.5 384.5h0.7v0.7h-0.7zM209.9 387.0h0.7v0.7h-0.7zM218.2 383.8h0.7v0.7h-0.7zM198.8 384.1h0.7v0.7h-0.7zM173.9 384.3h0.7v0.7h-0.7zM175.4 388.2h0.7v0.7h-0.7zM204.2 384.8h0.7v0.7h-0.7zM199.0 383.8h0.7v0.7h-0.7zM180.1 386.6h0.7v0.7h-0.7zM213.6 386.6h0.7v0.7h-0.7zM233.9 388.4h0.7v0.7h-0.7zM223.4 385.8h0.7v0.7h-0.7zM218.0 384.7h0.7v0.7h-0.7zM225.5 384.7h0.7v0.7h-0.7zM234.4 383.6h0.7v0.7h-0.7zM220.7 386.0h0.7v0.7h-0.7zM222.1 386.1h0.7v0.7h-0.7zM223.3 387.0h0.7v0.7h-0.7zM209.7 388.3h0.7v0.7h-0.7zM173.3 388.1h0.7v0.7h-0.7zM201.5 387.0h0.7v0.7h-0.7zM211.8 385.5h0.7v0.7h-0.7zM201.9 388.4h0.7v0.7h-0.7zM199.2 388.1h0.7v0.7h-0.7zM165.6 386.4h0.7v0.7h-0.7zM213.2 385.5h0.7v0.7h-0.7zM170.7 387.5h0.7v0.7h-0.7zM217.7 385.4h0.7v0.7h-0.7zM171.8 387.7h0.7v0.7h-0.7zM219.3 387.7h0.7v0.7h-0.7zM222.3 384.8h0.7v0.7h-0.7zM208.7 385.8h0.7v0.7h-0.7zM192.3 385.6h0.7v0.7h-0.7zM212.1 388.5h0.7v0.7h-0.7zM198.1 385.3h0.7v0.7h-0.7zM209.0 386.6h0.7v0.7h-0.7zM193.5 386.7h0.7v0.7h-0.7zM211.0 387.2h0.7v0.7h-0.7zM176.7 386.8h0.7v0.7h-0.7zM194.2 387.9h0.7v0.7h-0.7zM208.3 387.6h0.7v0.7h-0.7zM221.7 384.6h0.7v0.7h-0.7zM170.4 387.3h0.7v0.7h-0.7zM168.9 388.2h0.7v0.7h-0.7zM213.3 385.6h0.7v0.7h-0.7zM211.9 384.2h0.7v0.7h-0.7zM209.7 388.1h0.7v0.7h-0.7zM165.0 388.2h0.7v0.7h-0.7zM186.8 385.5h0.7v0.7h-0.7zM230.8 387.5h0.7v0.7h-0.7zM191.9 388.4h0.7v0.7h-0.7zM167.3 386.8h0.7v0.7h-0.7zM200.7 387.9h0.7v0.7h-0.7zM166.3 385.1h0.7v0.7h-0.7zM198.5 383.9h0.7v0.7h-0.7zM210.2 387.7h0.7v0.7h-0.7zM228.4 384.2h0.7v0.7h-0.7zM200.4 388.4h0.7v0.7h-0.7zM170.0 387.0h0.7v0.7h-0.7zM185.0 388.0h0.7v0.7h-0.7zM207.6 388.0h0.7v0.7h-0.7zM168.5 386.5h0.7v0.7h-0.7zM194.4 384.0h0.7v0.7h-0.7zM193.6 387.2h0.7v0.7h-0.7zM205.7 386.5h0.7v0.7h-0.7zM184.6 386.0h0.7v0.7h-0.7zM196.2 388.1h0.7v0.7h-0.7zM226.5 385.7h0.7v0.7h-0.7zM200.2 385.0h0.7v0.7h-0.7zM204.7 384.2h0.7v0.7h-0.7zM232.6 385.6h0.7v0.7h-0.7zM165.6 385.0h0.7v0.7h-0.7zM231.4 385.1h0.7v0.7h-0.7zM192.1 388.4h0.7v0.7h-0.7zM219.9 385.3h0.7v0.7h-0.7zM176.5 385.5h0.7v0.7h-0.7zM191.1 388.0h0.7v0.7h-0.7zM202.8 388.1h0.7v0.7h-0.7zM234.0 387.8h0.7v0.7h-0.7zM193.5 385.5h0.7v0.7h-0.7zM203.3 386.9h0.7v0.7h-0.7zM224.4 387.6h0.7v0.7h-0.7zM186.9 387.2h0.7v0.7h-0.7zM191.3 387.4h0.7v0.7h-0.7zM165.9 387.7h0.7v0.7h-0.7zM213.9 384.2h0.7v0.7h-0.7zM182.5 385.1h0.7v0.7h-0.7zM200.9 388.0h0.7v0.7h-0.7zM232.9 386.5h0.7v0.7h-0.7zM172.6 388.4h0.7v0.7h-0.7zM232.2 383.9h0.7v0.7h-0.7zM211.6 386.8h0.7v0.7h-0.7zM211.3 387.1h0.7v0.7h-0.7zM165.4 385.0h0.7v0.7h-0.7zM188.6 386.7h0.7v0.7h-0.7zM171.7 384.9h0.7v0.7h-0.7zM177.3 383.7h0.7v0.7h-0.7zM198.1 384.5h0.7v0.7h-0.7zM198.8 384.5h0.7v0.7h-0.7zM220.4 384.1h0.7v0.7h-0.7zM219.0 386.8h0.7v0.7h-0.7zM176.1 385.4h0.7v0.7h-0.7zM191.8 385.8h0.7v0.7h-0.7zM212.2 383.6h0.7v0.7h-0.7zM176.6 387.0h0.7v0.7h-0.7zM171.5 387.7h0.7v0.7h-0.7zM190.9 383.7h0.7v0.7h-0.7zM218.8 384.7h0.7v0.7h-0.7zM234.9 388.1h0.7v0.7h-0.7zM227.0 387.9h0.7v0.7h-0.7zM170.2 383.6h0.7v0.7h-0.7zM193.1 385.6h0.7v0.7h-0.7zM193.6 386.5h0.7v0.7h-0.7zM219.9 387.4h0.7v0.7h-0.7zM230.1 386.9h0.7v0.7h-0.7zM226.4 384.0h0.7v0.7h-0.7zM166.8 385.8h0.7v0.7h-0.7zM226.8 385.4h0.7v0.7h-0.7zM172.8 384.1h0.7v0.7h-0.7zM181.0 387.8h0.7v0.7h-0.7zM188.5 387.8h0.7v0.7h-0.7zM231.0 387.4h0.7v0.7h-0.7zM229.6 384.8h0.7v0.7h-0.7zM178.6 384.7h0.7v0.7h-0.7zM166.3 388.2h0.7v0.7h-0.7zM179.4 386.7h0.7v0.7h-0.7zM184.9 386.2h0.7v0.7h-0.7zM195.5 387.1h0.7v0.7h-0.7zM179.1 384.9h0.7v0.7h-0.7zM174.7 385.1h0.7v0.7h-0.7zM223.4 388.3h0.7v0.7h-0.7zM166.1 387.7h0.7v0.7h-0.7zM216.4 383.9h0.7v0.7h-0.7zM176.2 387.8h0.7v0.7h-0.7zM178.6 388.0h0.7v0.7h-0.7zM202.8 388.4h0.7v0.7h-0.7zM200.3 384.2h0.7v0.7h-0.7zM207.4 385.7h0.7v0.7h-0.7zM170.0 387.6h0.7v0.7h-0.7zM227.9 388.3h0.7v0.7h-0.7zM210.1 386.4h0.7v0.7h-0.7zM178.6 388.3h0.7v0.7h-0.7zM216.4 386.8h0.7v0.7h-0.7zM213.6 387.7h0.7v0.7h-0.7zM189.0 384.1h0.7v0.7h-0.7zM234.4 383.7h0.7v0.7h-0.7zM184.0 386.0h0.7v0.7h-0.7zM167.8 385.1h0.7v0.7h-0.7zM225.9 386.6h0.7v0.7h-0.7zM205.9 383.6h0.7v0.7h-0.7zM194.9 384.1h0.7v0.7h-0.7zM192.1 385.4h0.7v0.7h-0.7zM194.7 385.1h0.7v0.7h-0.7zM219.7 385.8h0.7v0.7h-0.7zM228.6 385.2h0.7v0.7h-0.7zM175.1 385.3h0.7v0.7h-0.7zM226.0 385.3h0.7v0.7h-0.7zM222.4 387.0h0.7v0.7h-0.7zM183.1 384.5h0.7v0.7h-0.7zM172.9 385.7h0.7v0.7h-0.7zM213.6 385.0h0.7v0.7h-0.7zM231.8 383.6h0.7v0.7h-0.7zM220.0 384.4h0.7v0.7h-0.7zM234.9 384.0h0.7v0.7h-0.7zM229.5 385.5h0.7v0.7h-0.7zM185.1 383.7h0.7v0.7h-0.7zM180.4 385.4h0.7v0.7h-0.7zM230.5 388.3h0.7v0.7h-0.7zM170.6 386.3h0.7v0.7h-0.7zM167.3 384.0h0.7v0.7h-0.7zM208.1 386.1h0.7v0.7h-0.7zM228.0 388.0h0.7v0.7h-0.7zM176.2 386.7h0.7v0.7h-0.7zM221.4 387.4h0.7v0.7h-0.7zM204.7 386.1h0.7v0.7h-0.7zM205.0 385.6h0.7v0.7h-0.7zM204.6 388.0h0.7v0.7h-0.7zM189.4 385.7h0.7v0.7h-0.7zM195.7 387.8h0.7v0.7h-0.7zM182.1 385.7h0.7v0.7h-0.7zM217.6 385.5h0.7v0.7h-0.7zM224.9 386.2h0.7v0.7h-0.7zM171.9 385.3h0.7v0.7h-0.7zM175.2 385.7h0.7v0.7h-0.7zM190.5 385.2h0.7v0.7h-0.7zM223.1 388.0h0.7v0.7h-0.7zM217.9 387.3h0.7v0.7h-0.7zM227.5 388.1h0.7v0.7h-0.7zM177.2 388.0h0.7v0.7h-0.7zM176.3 384.9h0.7v0.7h-0.7zM220.4 384.2h0.7v0.7h-0.7zM232.5 388.2h0.7v0.7h-0.7zM165.0 386.7h0.7v0.7h-0.7zM229.8 386.2h0.7v0.7h-0.7zM202.6 386.4h0.7v0.7h-0.7zM203.7 386.4h0.7v0.7h-0.7zM212.6 388.3h0.7v0.7h-0.7zM170.8 384.7h0.7v0.7h-0.7zM165.4 383.8h0.7v0.7h-0.7zM179.1 388.0h0.7v0.7h-0.7zM187.1 386.5h0.7v0.7h-0.7zM186.9 388.4h0.7v0.7h-0.7zM178.5 385.5h0.7v0.7h-0.7zM190.9 384.6h0.7v0.7h-0.7zM170.2 385.5h0.7v0.7h-0.7zM179.1 383.6h0.7v0.7h-0.7zM227.0 385.2h0.7v0.7h-0.7zM165.8 386.6h0.7v0.7h-0.7zM198.5 386.9h0.7v0.7h-0.7zM190.2 384.2h0.7v0.7h-0.7zM209.8 385.5h0.7v0.7h-0.7zM226.4 385.1h0.7v0.7h-0.7zM180.6 384.4h0.7v0.7h-0.7zM182.9 384.7h0.7v0.7h-0.7zM201.5 385.4h0.7v0.7h-0.7zM232.9 384.5h0.7v0.7h-0.7zM230.8 385.2h0.7v0.7h-0.7zM198.8 388.3h0.7v0.7h-0.7zM219.6 388.2h0.7v0.7h-0.7zM202.7 385.1h0.7v0.7h-0.7zM212.3 386.9h0.7v0.7h-0.7zM167.9 384.0h0.7v0.7h-0.7zM231.2 387.1h0.7v0.7h-0.7zM222.6 384.4h0.7v0.7h-0.7zM233.2 385.0h0.7v0.7h-0.7zM174.8 385.3h0.7v0.7h-0.7zM189.6 383.8h0.7v0.7h-0.7zM224.3 387.9h0.7v0.7h-0.7zM178.8 386.3h0.7v0.7h-0.7zM225.9 385.4h0.7v0.7h-0.7zM200.6 384.7h0.7v0.7h-0.7zM197.8 385.1h0.7v0.7h-0.7zM222.7 384.3h0.7v0.7h-0.7zM167.3 388.0h0.7v0.7h-0.7zM177.1 386.2h0.7v0.7h-0.7zM214.6 385.1h0.7v0.7h-0.7zM230.0 385.2h0.7v0.7h-0.7zM178.8 383.8h0.7v0.7h-0.7zM228.0 384.6h0.7v0.7h-0.7zM227.8 385.8h0.7v0.7h-0.7zM230.3 383.9h0.7v0.7h-0.7zM224.9 388.4h0.7v0.7h-0.7zM214.8 384.2h0.7v0.7h-0.7zM234.8 387.5h0.7v0.7h-0.7zM179.7 388.4h0.7v0.7h-0.7zM171.0 384.1h0.7v0.7h-0.7zM166.0 386.5h0.7v0.7h-0.7zM193.3 383.9h0.7v0.7h-0.7zM199.5 387.9h0.7v0.7h-0.7zM171.4 386.7h0.7v0.7h-0.7zM176.8 386.1h0.7v0.7h-0.7zM189.0 384.9h0.7v0.7h-0.7zM165.9 386.4h0.7v0.7h-0.7zM196.0 387.0h0.7v0.7h-0.7zM177.9 388.4h0.7v0.7h-0.7zM166.4 384.5h0.7v0.7h-0.7zM209.9 384.2h0.7v0.7h-0.7zM183.2 386.0h0.7v0.7h-0.7zM217.9 387.8h0.7v0.7h-0.7zM187.2 386.8h0.7v0.7h-0.7zM166.6 388.0h0.7v0.7h-0.7zM212.0 388.0h0.7v0.7h-0.7zM179.7 386.0h0.7v0.7h-0.7zM217.1 383.6h0.7v0.7h-0.7zM223.9 387.0h0.7v0.7h-0.7zM220.2 384.3h0.7v0.7h-0.7zM219.4 386.3h0.7v0.7h-0.7zM175.5 384.2h0.7v0.7h-0.7zM225.0 385.5h0.7v0.7h-0.7zM184.0 385.3h0.7v0.7h-0.7zM212.9 384.2h0.7v0.7h-0.7zM176.3 386.7h0.7v0.7h-0.7zM227.6 386.9h0.7v0.7h-0.7zM231.2 384.9h0.7v0.7h-0.7zM189.8 385.4h0.7v0.7h-0.7zM190.1 384.8h0.7v0.7h-0.7zM220.5 384.9h0.7v0.7h-0.7zM194.1 385.9h0.7v0.7h-0.7zM234.7 385.1h0.7v0.7h-0.7zM213.4 385.1h0.7v0.7h-0.7zM221.0 385.4h0.7v0.7h-0.7zM166.5 386.1h0.7v0.7h-0.7zM188.6 384.8h0.7v0.7h-0.7zM185.5 383.5h0.7v0.7h-0.7zM216.1 386.2h0.7v0.7h-0.7zM209.5 386.3h0.7v0.7h-0.7zM191.7 385.8h0.7v0.7h-0.7zM198.3 388.1h0.7v0.7h-0.7zM189.4 384.3h0.7v0.7h-0.7zM170.9 385.2h0.7v0.7h-0.7zM205.1 386.4h0.7v0.7h-0.7zM216.0 386.8h0.7v0.7h-0.7zM170.8 385.4h0.7v0.7h-0.7zM190.9 384.1h0.7v0.7h-0.7zM206.2 387.4h0.7v0.7h-0.7zM168.0 386.1h0.7v0.7h-0.7zM173.4 387.4h0.7v0.7h-0.7zM204.1 383.8h0.7v0.7h-0.7zM201.1 384.7h0.7v0.7h-0.7zM179.5 386.8h0.7v0.7h-0.7zM193.3 388.1h0.7v0.7h-0.7zM229.2 387.8h0.7v0.7h-0.7zM193.7 388.0h0.7v0.7h-0.7zM170.0 387.4h0.7v0.7h-0.7zM190.1 387.8h0.7v0.7h-0.7zM167.1 386.4h0.7v0.7h-0.7zM169.9 385.0h0.7v0.7h-0.7zM204.5 384.2h0.7v0.7h-0.7zM213.6 386.1h0.7v0.7h-0.7zM180.7 386.2h0.7v0.7h-0.7zM196.2 383.7h0.7v0.7h-0.7zM214.7 387.1h0.7v0.7h-0.7zM228.7 388.2h0.7v0.7h-0.7zM190.9 386.7h0.7v0.7h-0.7zM207.5 383.8h0.7v0.7h-0.7zM215.7 384.9h0.7v0.7h-0.7zM194.7 386.6h0.7v0.7h-0.7zM200.3 384.9h0.7v0.7h-0.7zM226.1 384.0h0.7v0.7h-0.7zM207.2 384.4h0.7v0.7h-0.7zM229.7 388.2h0.7v0.7h-0.7zM215.0 387.9h0.7v0.7h-0.7zM218.6 386.8h0.7v0.7h-0.7zM217.3 388.1h0.7v0.7h-0.7zM180.2 387.1h0.7v0.7h-0.7zM177.6 385.8h0.7v0.7h-0.7zM188.8 386.7h0.7v0.7h-0.7zM209.7 388.0h0.7v0.7h-0.7zM223.8 383.8h0.7v0.7h-0.7zM177.1 383.7h0.7v0.7h-0.7zM214.7 385.2h0.7v0.7h-0.7zM233.3 384.6h0.7v0.7h-0.7zM232.0 387.3h0.7v0.7h-0.7zM218.4 386.5h0.7v0.7h-0.7zM226.9 384.7h0.7v0.7h-0.7zM225.8 387.9h0.7v0.7h-0.7zM207.5 386.8h0.7v0.7h-0.7zM181.0 386.0h0.7v0.7h-0.7zM206.1 385.1h0.7v0.7h-0.7zM168.0 388.2h0.7v0.7h-0.7zM221.4 385.3h0.7v0.7h-0.7zM202.2 386.5h0.7v0.7h-0.7zM232.1 386.3h0.7v0.7h-0.7zM215.6 387.5h0.7v0.7h-0.7zM172.0 386.4h0.7v0.7h-0.7zM230.1 387.6h0.7v0.7h-0.7zM229.5 384.3h0.7v0.7h-0.7zM219.4 384.9h0.7v0.7h-0.7zM226.3 387.4h0.7v0.7h-0.7zM191.3 386.4h0.7v0.7h-0.7zM197.9 388.2h0.7v0.7h-0.7zM203.8 383.9h0.7v0.7h-0.7zM202.5 383.6h0.7v0.7h-0.7zM174.5 386.0h0.7v0.7h-0.7zM197.3 383.8h0.7v0.7h-0.7zM188.8 384.9h0.7v0.7h-0.7zM185.1 385.7h0.7v0.7h-0.7zM167.4 383.7h0.7v0.7h-0.7zM181.5 387.1h0.7v0.7h-0.7zM230.6 387.3h0.7v0.7h-0.7zM170.4 387.6h0.7v0.7h-0.7zM222.4 387.7h0.7v0.7h-0.7zM215.9 384.8h0.7v0.7h-0.7zM199.6 385.7h0.7v0.7h-0.7zM167.4 386.2h0.7v0.7h-0.7zM183.5 388.3h0.7v0.7h-0.7zM211.7 387.5h0.7v0.7h-0.7zM167.3 387.1h0.7v0.7h-0.7zM221.2 385.8h0.7v0.7h-0.7zM182.7 385.9h0.7v0.7h-0.7zM203.5 385.7h0.7v0.7h-0.7zM187.3 386.8h0.7v0.7h-0.7zM227.4 384.8h0.7v0.7h-0.7zM226.8 383.8h0.7v0.7h-0.7zM213.2 385.2h0.7v0.7h-0.7zM201.7 385.3h0.7v0.7h-0.7zM170.6 384.3h0.7v0.7h-0.7zM234.1 385.6h0.7v0.7h-0.7zM231.5 386.1h0.7v0.7h-0.7zM227.9 385.7h0.7v0.7h-0.7zM234.4 385.9h0.7v0.7h-0.7zM183.1 384.4h0.7v0.7h-0.7zM170.0 384.0h0.7v0.7h-0.7zM212.7 385.3h0.7v0.7h-0.7zM226.2 384.5h0.7v0.7h-0.7zM230.4 384.5h0.7v0.7h-0.7zM183.9 385.2h0.7v0.7h-0.7zM183.4 385.6h0.7v0.7h-0.7zM221.2 383.9h0.7v0.7h-0.7zM182.1 383.8h0.7v0.7h-0.7zM219.3 384.1h0.7v0.7h-0.7zM200.7 387.8h0.7v0.7h-0.7zM187.1 384.1h0.7v0.7h-0.7zM183.7 388.2h0.7v0.7h-0.7zM171.7 387.8h0.7v0.7h-0.7zM173.4 384.3h0.7v0.7h-0.7zM219.0 386.7h0.7v0.7h-0.7zM187.5 387.0h0.7v0.7h-0.7zM175.4 387.9h0.7v0.7h-0.7zM205.3 388.2h0.7v0.7h-0.7zM206.7 386.4h0.7v0.7h-0.7zM225.1 386.4h0.7v0.7h-0.7zM171.1 386.6h0.7v0.7h-0.7zM185.6 386.7h0.7v0.7h-0.7zM234.9 386.6h0.7v0.7h-0.7zM223.4 385.3h0.7v0.7h-0.7zM165.8 383.7h0.7v0.7h-0.7zM166.3 384.6h0.7v0.7h-0.7zM183.9 385.1h0.7v0.7h-0.7zM210.8 387.2h0.7v0.7h-0.7zM218.8 387.3h0.7v0.7h-0.7zM224.8 387.1h0.7v0.7h-0.7zM197.1 385.6h0.7v0.7h-0.7zM170.7 383.6h0.7v0.7h-0.7zM225.0 384.2h0.7v0.7h-0.7zM225.5 385.5h0.7v0.7h-0.7zM169.2 387.6h0.7v0.7h-0.7zM215.0 388.5h0.7v0.7h-0.7zM202.9 388.2h0.7v0.7h-0.7zM200.4 384.8h0.7v0.7h-0.7zM193.1 386.8h0.7v0.7h-0.7zM227.3 387.6h0.7v0.7h-0.7zM230.1 386.2h0.7v0.7h-0.7zM197.3 386.1h0.7v0.7h-0.7zM230.3 385.3h0.7v0.7h-0.7zM169.2 385.5h0.7v0.7h-0.7zM210.5 387.7h0.7v0.7h-0.7zM231.0 386.9h0.7v0.7h-0.7zM221.9 387.6h0.7v0.7h-0.7zM221.6 386.5h0.7v0.7h-0.7zM231.1 388.0h0.7v0.7h-0.7zM165.5 384.1h0.7v0.7h-0.7zM234.5 386.8h0.7v0.7h-0.7zM174.8 388.1h0.7v0.7h-0.7zM171.2 386.2h0.7v0.7h-0.7zM192.1 384.9h0.7v0.7h-0.7zM181.7 383.9h0.7v0.7h-0.7zM191.4 384.0h0.7v0.7h-0.7zM208.7 385.1h0.7v0.7h-0.7zM218.7 388.2h0.7v0.7h-0.7zM227.1 387.2h0.7v0.7h-0.7zM219.6 384.0h0.7v0.7h-0.7zM233.1 386.4h0.7v0.7h-0.7zM203.0 386.9h0.7v0.7h-0.7zM178.1 385.8h0.7v0.7h-0.7zM173.5 388.1h0.7v0.7h-0.7zM200.0 384.2h0.7v0.7h-0.7zM232.9 386.4h0.7v0.7h-0.7zM217.9 387.5h0.7v0.7h-0.7zM213.7 385.7h0.7v0.7h-0.7zM184.6 383.8h0.7v0.7h-0.7zM208.7 384.1h0.7v0.7h-0.7zM190.8 387.9h0.7v0.7h-0.7zM228.3 387.6h0.7v0.7h-0.7zM178.5 388.2h0.7v0.7h-0.7zM174.8 388.1h0.7v0.7h-0.7zM217.4 388.4h0.7v0.7h-0.7zM233.9 386.1h0.7v0.7h-0.7zM186.9 388.1h0.7v0.7h-0.7zM186.9 385.2h0.7v0.7h-0.7zM204.8 384.2h0.7v0.7h-0.7zM196.9 384.2h0.7v0.7h-0.7zM196.7 388.0h0.7v0.7h-0.7zM229.4 388.3h0.7v0.7h-0.7zM215.8 387.2h0.7v0.7h-0.7zM194.9 388.0h0.7v0.7h-0.7zM174.4 384.3h0.7v0.7h-0.7zM173.3 385.5h0.7v0.7h-0.7zM169.2 387.0h0.7v0.7h-0.7zM177.8 386.9h0.7v0.7h-0.7zM204.5 387.0h0.7v0.7h-0.7zM214.2 387.4h0.7v0.7h-0.7zM198.5 386.4h0.7v0.7h-0.7zM182.6 386.0h0.7v0.7h-0.7zM171.3 388.3h0.7v0.7h-0.7zM230.0 383.9h0.7v0.7h-0.7zM165.8 385.5h0.7v0.7h-0.7zM201.9 385.9h0.7v0.7h-0.7zM188.6 386.6h0.7v0.7h-0.7zM193.0 385.5h0.7v0.7h-0.7zM167.3 386.5h0.7v0.7h-0.7zM170.8 387.8h0.7v0.7h-0.7zM198.4 385.3h0.7v0.7h-0.7zM211.3 387.9h0.7v0.7h-0.7zM176.8 385.5h0.7v0.7h-0.7zM233.2 387.8h0.7v0.7h-0.7zM192.4 385.3h0.7v0.7h-0.7zM222.1 383.9h0.7v0.7h-0.7zM173.3 386.4h0.7v0.7h-0.7zM204.8 386.3h0.7v0.7h-0.7zM218.6 387.9h0.7v0.7h-0.7zM193.0 385.1h0.7v0.7h-0.7z" fill="#ee1111" opacity="1.0"/>
<path d="M232.6 341.4h0.7v0.7h-0.7zM224.1 340.5h0.7v0.7h-0.7zM207.5 340.2h0.7v0.7h-0.7zM211.8 342.5h0.7v0.7h-0.7zM247.1 337.9h0.7v0.7h-0.7zM210.8 339.9h0.7v0.7h-0.7zM224.1 339.3h0.7v0.7h-0.7zM234.7 339.7h0.7v0.7h-0.7zM197.6 343.7h0.7v0.7h-0.7zM218.7 338.4h0.7v0.7h-0.7zM237.8 337.3h0.7v0.7h-0.7zM209.9 337.8h0.7v0.7h-0.7zM224.5 340.6h0.7v0.7h-0.7zM238.7 337.4h0.7v0.7h-0.7zM219.3 342.3h0.7v0.7h-0.7zM219.4 342.0h0.7v0.7h-0.7zM226.1 339.2h0.7v0.7h-0.7zM221.5 339.7h0.7v0.7h-0.7zM219.0 338.2h0.7v0.7h-0.7zM222.3 337.9h0.7v0.7h-0.7zM226.8 338.9h0.7v0.7h-0.7zM221.1 338.8h0.7v0.7h-0.7zM221.8 342.3h0.7v0.7h-0.7zM223.6 337.9h0.7v0.7h-0.7zM220.9 340.4h0.7v0.7h-0.7zM221.7 338.9h0.7v0.7h-0.7zM221.2 339.5h0.7v0.7h-0.7zM227.7 339.4h0.7v0.7h-0.7zM207.3 338.5h0.7v0.7h-0.7zM197.7 342.7h0.7v0.7h-0.7zM235.0 340.3h0.7v0.7h-0.7zM225.4 340.9h0.7v0.7h-0.7zM223.4 338.8h0.7v0.7h-0.7zM208.3 338.9h0.7v0.7h-0.7zM218.0 341.1h0.7v0.7h-0.7zM240.2 336.7h0.7v0.7h-0.7zM227.5 339.1h0.7v0.7h-0.7zM215.8 336.6h0.7v0.7h-0.7zM216.0 337.1h0.7v0.7h-0.7zM220.6 339.0h0.7v0.7h-0.7zM221.9 338.8h0.7v0.7h-0.7zM228.4 336.9h0.7v0.7h-0.7zM232.3 335.2h0.7v0.7h-0.7zM224.4 339.6h0.7v0.7h-0.7zM215.6 336.8h0.7v0.7h-0.7zM230.0 337.2h0.7v0.7h-0.7zM231.6 339.7h0.7v0.7h-0.7zM223.7 339.0h0.7v0.7h-0.7zM233.6 338.8h0.7v0.7h-0.7zM214.5 340.1h0.7v0.7h-0.7zM229.3 338.9h0.7v0.7h-0.7zM225.6 338.5h0.7v0.7h-0.7zM222.4 337.4h0.7v0.7h-0.7zM209.7 342.2h0.7v0.7h-0.7zM217.4 339.9h0.7v0.7h-0.7zM208.8 340.6h0.7v0.7h-0.7zM216.0 345.0h0.7v0.7h-0.7zM213.5 338.1h0.7v0.7h-0.7zM233.2 340.2h0.7v0.7h-0.7zM202.9 341.3h0.7v0.7h-0.7zM232.2 336.0h0.7v0.7h-0.7zM230.4 337.4h0.7v0.7h-0.7zM213.8 339.2h0.7v0.7h-0.7zM218.9 336.9h0.7v0.7h-0.7zM245.8 336.2h0.7v0.7h-0.7zM216.5 341.1h0.7v0.7h-0.7zM223.2 341.4h0.7v0.7h-0.7zM221.1 339.8h0.7v0.7h-0.7zM224.7 339.2h0.7v0.7h-0.7zM221.6 339.0h0.7v0.7h-0.7zM240.2 336.3h0.7v0.7h-0.7zM218.2 338.8h0.7v0.7h-0.7zM229.4 339.2h0.7v0.7h-0.7zM232.7 335.8h0.7v0.7h-0.7zM226.2 338.4h0.7v0.7h-0.7zM220.9 339.5h0.7v0.7h-0.7zM204.3 341.2h0.7v0.7h-0.7zM224.9 336.3h0.7v0.7h-0.7zM223.0 341.8h0.7v0.7h-0.7zM220.0 340.4h0.7v0.7h-0.7zM221.4 337.7h0.7v0.7h-0.7zM214.6 339.1h0.7v0.7h-0.7zM236.7 339.3h0.7v0.7h-0.7zM216.9 341.4h0.7v0.7h-0.7zM222.3 337.9h0.7v0.7h-0.7zM227.8 337.0h0.7v0.7h-0.7zM208.4 342.6h0.7v0.7h-0.7zM205.8 341.5h0.7v0.7h-0.7zM208.7 340.2h0.7v0.7h-0.7zM221.7 338.4h0.7v0.7h-0.7zM202.1 340.7h0.7v0.7h-0.7zM223.2 337.4h0.7v0.7h-0.7zM223.2 340.8h0.7v0.7h-0.7zM216.7 340.1h0.7v0.7h-0.7zM212.5 340.6h0.7v0.7h-0.7zM230.4 342.8h0.7v0.7h-0.7zM232.7 339.0h0.7v0.7h-0.7zM237.4 336.0h0.7v0.7h-0.7zM234.2 337.1h0.7v0.7h-0.7zM217.8 341.4h0.7v0.7h-0.7zM226.3 341.1h0.7v0.7h-0.7zM209.6 340.7h0.7v0.7h-0.7zM218.6 339.0h0.7v0.7h-0.7zM205.2 342.3h0.7v0.7h-0.7zM225.7 337.1h0.7v0.7h-0.7zM210.4 338.6h0.7v0.7h-0.7zM237.5 337.6h0.7v0.7h-0.7zM220.6 340.1h0.7v0.7h-0.7zM224.0 339.4h0.7v0.7h-0.7zM231.2 338.9h0.7v0.7h-0.7zM232.3 336.1h0.7v0.7h-0.7zM224.4 338.3h0.7v0.7h-0.7zM224.9 338.8h0.7v0.7h-0.7zM217.6 338.9h0.7v0.7h-0.7zM233.1 337.2h0.7v0.7h-0.7zM211.8 341.1h0.7v0.7h-0.7zM233.4 337.7h0.7v0.7h-0.7zM225.0 337.4h0.7v0.7h-0.7zM222.1 341.1h0.7v0.7h-0.7zM231.8 338.6h0.7v0.7h-0.7zM221.0 336.4h0.7v0.7h-0.7zM227.1 339.5h0.7v0.7h-0.7zM234.6 341.6h0.7v0.7h-0.7zM227.8 340.4h0.7v0.7h-0.7zM213.3 342.1h0.7v0.7h-0.7zM232.7 340.7h0.7v0.7h-0.7zM230.6 339.2h0.7v0.7h-0.7zM238.3 336.6h0.7v0.7h-0.7zM230.5 340.4h0.7v0.7h-0.7zM216.2 337.7h0.7v0.7h-0.7zM228.3 338.9h0.7v0.7h-0.7zM230.1 339.6h0.7v0.7h-0.7zM216.7 340.3h0.7v0.7h-0.7zM235.0 337.4h0.7v0.7h-0.7zM221.1 337.3h0.7v0.7h-0.7zM232.3 341.7h0.7v0.7h-0.7zM210.9 341.5h0.7v0.7h-0.7zM232.8 337.3h0.7v0.7h-0.7zM220.3 337.5h0.7v0.7h-0.7zM216.5 340.0h0.7v0.7h-0.7zM230.5 338.7h0.7v0.7h-0.7zM232.5 338.6h0.7v0.7h-0.7zM213.0 342.5h0.7v0.7h-0.7zM235.6 336.8h0.7v0.7h-0.7zM241.5 338.3h0.7v0.7h-0.7zM225.8 342.3h0.7v0.7h-0.7zM199.7 338.3h0.7v0.7h-0.7zM231.1 338.0h0.7v0.7h-0.7zM215.2 342.5h0.7v0.7h-0.7zM228.8 336.4h0.7v0.7h-0.7zM217.9 341.1h0.7v0.7h-0.7zM241.3 334.0h0.7v0.7h-0.7zM226.6 338.1h0.7v0.7h-0.7zM207.3 340.2h0.7v0.7h-0.7zM208.6 339.4h0.7v0.7h-0.7zM240.1 338.5h0.7v0.7h-0.7zM232.0 339.4h0.7v0.7h-0.7zM227.9 340.4h0.7v0.7h-0.7zM212.9 339.4h0.7v0.7h-0.7zM232.5 337.0h0.7v0.7h-0.7zM220.3 341.5h0.7v0.7h-0.7zM239.1 336.7h0.7v0.7h-0.7zM216.5 340.7h0.7v0.7h-0.7zM226.9 337.6h0.7v0.7h-0.7zM230.2 339.5h0.7v0.7h-0.7zM225.6 344.1h0.7v0.7h-0.7zM237.7 339.3h0.7v0.7h-0.7zM234.8 343.3h0.7v0.7h-0.7zM235.0 336.8h0.7v0.7h-0.7zM227.5 338.9h0.7v0.7h-0.7zM218.9 340.0h0.7v0.7h-0.7zM226.8 338.7h0.7v0.7h-0.7zM219.8 340.9h0.7v0.7h-0.7zM209.0 341.8h0.7v0.7h-0.7zM224.6 339.5h0.7v0.7h-0.7zM201.6 344.0h0.7v0.7h-0.7zM207.4 339.0h0.7v0.7h-0.7zM230.6 337.4h0.7v0.7h-0.7zM220.1 335.5h0.7v0.7h-0.7zM220.2 339.8h0.7v0.7h-0.7zM231.0 338.0h0.7v0.7h-0.7zM226.6 339.6h0.7v0.7h-0.7zM217.8 338.3h0.7v0.7h-0.7zM243.4 335.9h0.7v0.7h-0.7zM236.5 338.1h0.7v0.7h-0.7zM238.7 336.7h0.7v0.7h-0.7zM229.5 339.2h0.7v0.7h-0.7zM222.3 339.8h0.7v0.7h-0.7zM216.9 339.6h0.7v0.7h-0.7zM220.7 340.7h0.7v0.7h-0.7zM223.4 336.7h0.7v0.7h-0.7zM220.8 339.2h0.7v0.7h-0.7zM215.8 342.2h0.7v0.7h-0.7zM228.5 340.2h0.7v0.7h-0.7zM216.9 339.0h0.7v0.7h-0.7zM234.1 335.7h0.7v0.7h-0.7zM228.1 338.9h0.7v0.7h-0.7zM219.6 339.6h0.7v0.7h-0.7zM214.0 340.4h0.7v0.7h-0.7zM212.4 337.8h0.7v0.7h-0.7zM238.0 336.6h0.7v0.7h-0.7zM203.9 342.6h0.7v0.7h-0.7zM216.4 333.5h0.7v0.7h-0.7zM224.0 340.7h0.7v0.7h-0.7zM228.2 341.8h0.7v0.7h-0.7zM223.3 340.2h0.7v0.7h-0.7zM214.6 340.2h0.7v0.7h-0.7zM239.5 338.6h0.7v0.7h-0.7zM225.8 335.4h0.7v0.7h-0.7zM220.6 337.1h0.7v0.7h-0.7zM232.0 337.1h0.7v0.7h-0.7zM227.9 337.0h0.7v0.7h-0.7zM242.8 335.4h0.7v0.7h-0.7zM226.2 343.6h0.7v0.7h-0.7zM226.4 337.3h0.7v0.7h-0.7zM230.7 340.3h0.7v0.7h-0.7zM232.7 334.8h0.7v0.7h-0.7zM226.3 335.1h0.7v0.7h-0.7zM243.1 337.5h0.7v0.7h-0.7zM220.1 340.6h0.7v0.7h-0.7z" fill="#ee1111" opacity="1.0"/>
<ellipse cx="226" cy="339" rx="8" ry="2.0" fill="#ee1111" opacity="0.8" transform="rotate(0 226 339)" filter="url(#b0_8)"/>
<path d="M244.3 348.5h0.7v0.7h-0.7zM242.3 347.2h0.7v0.7h-0.7zM241.6 348.4h0.7v0.7h-0.7zM234.7 348.6h0.7v0.7h-0.7zM238.3 350.6h0.7v0.7h-0.7zM207.1 360.9h0.7v0.7h-0.7zM229.4 360.6h0.7v0.7h-0.7zM238.8 348.5h0.7v0.7h-0.7zM208.2 358.4h0.7v0.7h-0.7zM241.2 349.9h0.7v0.7h-0.7zM243.0 347.4h0.7v0.7h-0.7zM237.8 357.0h0.7v0.7h-0.7zM220.9 353.1h0.7v0.7h-0.7zM217.5 354.6h0.7v0.7h-0.7zM226.0 349.6h0.7v0.7h-0.7zM204.6 355.4h0.7v0.7h-0.7zM212.4 348.6h0.7v0.7h-0.7zM215.1 349.3h0.7v0.7h-0.7zM242.1 351.6h0.7v0.7h-0.7zM232.5 347.2h0.7v0.7h-0.7zM233.1 362.3h0.7v0.7h-0.7zM237.2 359.2h0.7v0.7h-0.7zM222.4 354.6h0.7v0.7h-0.7zM243.7 350.8h0.7v0.7h-0.7zM226.2 358.7h0.7v0.7h-0.7zM218.9 354.6h0.7v0.7h-0.7zM205.6 357.9h0.7v0.7h-0.7zM211.4 351.1h0.7v0.7h-0.7zM213.9 358.5h0.7v0.7h-0.7zM221.6 362.9h0.7v0.7h-0.7zM239.2 361.8h0.7v0.7h-0.7zM234.2 350.7h0.7v0.7h-0.7zM218.2 352.8h0.7v0.7h-0.7zM212.9 354.5h0.7v0.7h-0.7zM238.8 355.3h0.7v0.7h-0.7zM211.3 358.7h0.7v0.7h-0.7zM246.5 354.6h0.7v0.7h-0.7zM210.2 358.7h0.7v0.7h-0.7zM227.7 359.9h0.7v0.7h-0.7zM230.6 361.0h0.7v0.7h-0.7zM204.6 357.4h0.7v0.7h-0.7zM230.5 359.5h0.7v0.7h-0.7zM213.6 356.4h0.7v0.7h-0.7zM215.8 359.1h0.7v0.7h-0.7zM207.5 349.5h0.7v0.7h-0.7zM245.6 358.8h0.7v0.7h-0.7zM215.1 352.0h0.7v0.7h-0.7zM223.1 350.7h0.7v0.7h-0.7zM210.2 362.5h0.7v0.7h-0.7zM213.3 359.0h0.7v0.7h-0.7zM235.6 358.8h0.7v0.7h-0.7zM217.3 350.6h0.7v0.7h-0.7zM231.1 362.9h0.7v0.7h-0.7zM221.1 350.5h0.7v0.7h-0.7zM226.4 350.0h0.7v0.7h-0.7zM219.3 358.8h0.7v0.7h-0.7zM214.7 354.2h0.7v0.7h-0.7zM232.3 349.5h0.7v0.7h-0.7zM210.4 362.4h0.7v0.7h-0.7zM242.2 361.2h0.7v0.7h-0.7zM229.2 355.1h0.7v0.7h-0.7zM208.8 350.8h0.7v0.7h-0.7zM208.9 355.5h0.7v0.7h-0.7zM223.2 349.8h0.7v0.7h-0.7zM208.3 356.2h0.7v0.7h-0.7zM210.2 347.2h0.7v0.7h-0.7zM213.9 359.8h0.7v0.7h-0.7zM232.9 355.3h0.7v0.7h-0.7zM213.9 354.5h0.7v0.7h-0.7zM204.4 352.2h0.7v0.7h-0.7zM225.1 348.5h0.7v0.7h-0.7zM229.5 354.1h0.7v0.7h-0.7zM206.4 349.4h0.7v0.7h-0.7zM225.5 361.4h0.7v0.7h-0.7zM206.5 356.0h0.7v0.7h-0.7zM216.5 353.2h0.7v0.7h-0.7zM244.6 357.1h0.7v0.7h-0.7zM216.5 354.2h0.7v0.7h-0.7zM247.2 360.9h0.7v0.7h-0.7zM222.7 355.5h0.7v0.7h-0.7zM224.2 349.4h0.7v0.7h-0.7zM246.6 350.7h0.7v0.7h-0.7zM213.6 348.8h0.7v0.7h-0.7zM245.4 361.6h0.7v0.7h-0.7zM232.0 355.5h0.7v0.7h-0.7zM229.6 352.9h0.7v0.7h-0.7zM243.2 355.9h0.7v0.7h-0.7zM241.7 358.1h0.7v0.7h-0.7zM233.9 357.7h0.7v0.7h-0.7zM238.1 360.0h0.7v0.7h-0.7zM234.1 352.1h0.7v0.7h-0.7zM215.6 350.1h0.7v0.7h-0.7zM241.7 354.8h0.7v0.7h-0.7zM204.0 356.6h0.7v0.7h-0.7zM242.0 361.7h0.7v0.7h-0.7zM245.3 360.9h0.7v0.7h-0.7zM211.8 355.3h0.7v0.7h-0.7zM235.2 357.3h0.7v0.7h-0.7zM219.8 347.6h0.7v0.7h-0.7zM243.3 359.4h0.7v0.7h-0.7zM242.1 353.2h0.7v0.7h-0.7zM214.9 360.5h0.7v0.7h-0.7zM232.8 357.7h0.7v0.7h-0.7zM205.5 348.7h0.7v0.7h-0.7zM237.9 361.1h0.7v0.7h-0.7zM219.6 361.0h0.7v0.7h-0.7zM211.9 356.3h0.7v0.7h-0.7zM219.4 355.5h0.7v0.7h-0.7zM212.7 353.1h0.7v0.7h-0.7zM224.3 356.3h0.7v0.7h-0.7zM213.0 356.7h0.7v0.7h-0.7zM213.3 362.6h0.7v0.7h-0.7zM214.6 348.8h0.7v0.7h-0.7zM215.9 356.1h0.7v0.7h-0.7zM223.6 357.6h0.7v0.7h-0.7zM208.8 353.6h0.7v0.7h-0.7zM228.5 362.6h0.7v0.7h-0.7zM243.0 356.1h0.7v0.7h-0.7zM217.2 348.8h0.7v0.7h-0.7zM231.8 356.0h0.7v0.7h-0.7zM224.9 358.5h0.7v0.7h-0.7zM224.5 359.5h0.7v0.7h-0.7zM216.7 352.2h0.7v0.7h-0.7zM244.1 356.3h0.7v0.7h-0.7zM246.0 348.0h0.7v0.7h-0.7zM244.7 347.9h0.7v0.7h-0.7zM236.9 356.3h0.7v0.7h-0.7zM209.3 351.8h0.7v0.7h-0.7zM225.1 355.9h0.7v0.7h-0.7zM225.5 347.4h0.7v0.7h-0.7zM247.8 352.6h0.7v0.7h-0.7zM235.8 361.9h0.7v0.7h-0.7zM246.9 349.9h0.7v0.7h-0.7zM243.3 355.2h0.7v0.7h-0.7zM232.8 350.9h0.7v0.7h-0.7zM210.3 356.3h0.7v0.7h-0.7zM243.7 353.7h0.7v0.7h-0.7zM245.9 358.3h0.7v0.7h-0.7zM204.8 361.9h0.7v0.7h-0.7zM208.9 350.6h0.7v0.7h-0.7zM228.8 362.0h0.7v0.7h-0.7zM209.9 351.8h0.7v0.7h-0.7zM206.0 348.4h0.7v0.7h-0.7zM223.0 356.2h0.7v0.7h-0.7zM226.5 347.8h0.7v0.7h-0.7zM222.9 354.1h0.7v0.7h-0.7zM245.1 352.2h0.7v0.7h-0.7zM231.9 354.8h0.7v0.7h-0.7zM238.2 356.7h0.7v0.7h-0.7zM247.7 357.2h0.7v0.7h-0.7zM219.0 353.7h0.7v0.7h-0.7zM241.7 352.9h0.7v0.7h-0.7zM244.8 354.0h0.7v0.7h-0.7zM245.5 349.4h0.7v0.7h-0.7zM238.5 354.1h0.7v0.7h-0.7zM214.0 356.4h0.7v0.7h-0.7zM206.6 350.2h0.7v0.7h-0.7zM241.3 355.4h0.7v0.7h-0.7zM218.9 349.3h0.7v0.7h-0.7zM211.1 350.7h0.7v0.7h-0.7zM224.3 347.3h0.7v0.7h-0.7zM213.0 353.8h0.7v0.7h-0.7zM242.8 360.8h0.7v0.7h-0.7zM245.1 350.6h0.7v0.7h-0.7zM209.5 360.6h0.7v0.7h-0.7zM234.7 350.9h0.7v0.7h-0.7zM223.1 361.8h0.7v0.7h-0.7zM239.9 362.0h0.7v0.7h-0.7zM225.7 350.1h0.7v0.7h-0.7zM227.7 348.8h0.7v0.7h-0.7zM209.2 348.5h0.7v0.7h-0.7zM215.1 349.6h0.7v0.7h-0.7zM215.3 358.1h0.7v0.7h-0.7zM233.6 347.4h0.7v0.7h-0.7zM241.8 360.1h0.7v0.7h-0.7zM245.5 350.5h0.7v0.7h-0.7zM236.1 355.9h0.7v0.7h-0.7zM235.1 361.5h0.7v0.7h-0.7zM207.6 360.5h0.7v0.7h-0.7zM241.8 357.3h0.7v0.7h-0.7zM221.7 355.7h0.7v0.7h-0.7zM210.2 358.9h0.7v0.7h-0.7zM228.3 356.2h0.7v0.7h-0.7zM235.2 348.6h0.7v0.7h-0.7zM206.1 348.9h0.7v0.7h-0.7zM207.5 359.8h0.7v0.7h-0.7zM209.8 353.0h0.7v0.7h-0.7zM232.9 351.1h0.7v0.7h-0.7zM244.1 361.6h0.7v0.7h-0.7zM221.2 356.4h0.7v0.7h-0.7zM238.6 362.7h0.7v0.7h-0.7zM234.5 354.2h0.7v0.7h-0.7zM205.9 357.3h0.7v0.7h-0.7zM233.0 358.1h0.7v0.7h-0.7zM219.3 360.8h0.7v0.7h-0.7zM230.1 353.1h0.7v0.7h-0.7zM214.7 347.5h0.7v0.7h-0.7zM235.3 352.1h0.7v0.7h-0.7zM241.6 352.2h0.7v0.7h-0.7zM217.5 359.5h0.7v0.7h-0.7z" fill="#ee1111" opacity="1.0"/>
<path d="M180.9 363.9h0.7v0.7h-0.7zM187.2 363.5h0.7v0.7h-0.7zM172.1 356.4h0.7v0.7h-0.7zM168.5 363.0h0.7v0.7h-0.7zM184.2 361.9h0.7v0.7h-0.7zM185.9 363.7h0.7v0.7h-0.7zM195.5 359.8h0.7v0.7h-0.7zM174.1 359.1h0.7v0.7h-0.7zM181.3 358.9h0.7v0.7h-0.7zM192.3 362.7h0.7v0.7h-0.7zM196.2 357.6h0.7v0.7h-0.7zM173.7 361.4h0.7v0.7h-0.7zM192.9 362.3h0.7v0.7h-0.7zM198.7 358.7h0.7v0.7h-0.7zM170.3 359.0h0.7v0.7h-0.7zM179.0 356.9h0.7v0.7h-0.7zM191.1 360.1h0.7v0.7h-0.7zM189.2 363.0h0.7v0.7h-0.7zM187.6 363.1h0.7v0.7h-0.7zM195.7 360.2h0.7v0.7h-0.7zM189.1 359.8h0.7v0.7h-0.7zM181.2 361.9h0.7v0.7h-0.7zM188.4 359.0h0.7v0.7h-0.7zM190.2 360.3h0.7v0.7h-0.7zM171.8 362.0h0.7v0.7h-0.7zM184.9 363.4h0.7v0.7h-0.7zM198.6 356.9h0.7v0.7h-0.7zM177.0 361.6h0.7v0.7h-0.7zM174.8 362.6h0.7v0.7h-0.7zM190.9 363.6h0.7v0.7h-0.7zM179.9 361.5h0.7v0.7h-0.7zM188.5 361.5h0.7v0.7h-0.7zM200.2 358.8h0.7v0.7h-0.7zM175.9 362.4h0.7v0.7h-0.7zM173.1 360.4h0.7v0.7h-0.7zM199.5 362.8h0.7v0.7h-0.7zM191.5 356.1h0.7v0.7h-0.7zM201.3 359.6h0.7v0.7h-0.7zM177.9 356.5h0.7v0.7h-0.7zM172.9 356.4h0.7v0.7h-0.7zM187.0 359.0h0.7v0.7h-0.7zM178.0 362.5h0.7v0.7h-0.7zM170.7 359.4h0.7v0.7h-0.7zM195.3 362.6h0.7v0.7h-0.7zM192.1 360.2h0.7v0.7h-0.7zM173.4 359.2h0.7v0.7h-0.7zM192.8 362.2h0.7v0.7h-0.7zM188.8 363.2h0.7v0.7h-0.7zM187.2 362.8h0.7v0.7h-0.7zM198.8 357.3h0.7v0.7h-0.7zM173.0 363.9h0.7v0.7h-0.7zM178.1 359.6h0.7v0.7h-0.7zM182.4 362.8h0.7v0.7h-0.7zM168.4 359.9h0.7v0.7h-0.7zM183.7 356.8h0.7v0.7h-0.7zM183.2 363.0h0.7v0.7h-0.7zM169.8 358.0h0.7v0.7h-0.7zM188.7 360.3h0.7v0.7h-0.7zM193.8 358.7h0.7v0.7h-0.7zM172.2 359.0h0.7v0.7h-0.7z" fill="#ee1111" opacity="1.0"/>
<rect x="167.5" y="345.90000000000003" width="22.0" height="6.4" fill="#fff" opacity="0.92"/>
<rect x="167.5" y="352.90000000000003" width="13.0" height="6.4" fill="#fff" opacity="0.92"/>
<rect x="235.6" y="323.0" width="15.5" height="6.4" fill="#fff" opacity="0.92"/>
<rect x="241.79999999999998" y="329.7" width="9.3" height="6.4" fill="#fff" opacity="0.92"/>
<rect x="201.2" y="383.40000000000003" width="31.8" height="6.4" fill="#fff" opacity="0.92"/>
<rect x="238.6" y="383.40000000000003" width="12.5" height="6.4" fill="#fff" opacity="0.92"/>
</g>
<rect x="166.2" y="322.7" width="85.30000000000001" height="66.5" fill="none" stroke="#222" stroke-width="0.8"/>
<line x1="201.6" y1="322.7" x2="201.6" y2="389.2" stroke="#222" stroke-width="0.8"/>
<line x1="166.2" y1="345.8" x2="251.5" y2="345.8" stroke="#222" stroke-width="0.8"/>
<path d="M168.31 389.2v3.2M170.91 389.2v3.2M172.93 389.2v3.2M174.58 389.2v3.2M175.97 389.2v3.2M177.18 389.2v3.2M178.25 389.2v3.2M179.20 389.2v4.6M185.47 389.2v3.2M189.14 389.2v3.2M191.74 389.2v3.2M193.76 389.2v3.2M195.41 389.2v3.2M196.81 389.2v3.2M198.01 389.2v3.2M199.08 389.2v3.2M200.03 389.2v4.6M206.30 389.2v3.2M209.97 389.2v3.2M212.58 389.2v3.2M214.60 389.2v3.2M216.24 389.2v3.2M217.64 389.2v3.2M218.85 389.2v3.2M219.91 389.2v3.2M220.87 389.2v4.6M227.14 389.2v3.2M230.81 389.2v3.2M233.41 389.2v3.2M235.43 389.2v3.2M237.08 389.2v3.2M238.47 389.2v3.2M239.68 389.2v3.2M240.75 389.2v3.2M241.70 389.2v4.6M247.97 389.2v3.2" fill="none" stroke="#111" stroke-width="0.9"/>
<path d="M166.2 329h-3M166.2 347h-3M166.2 364h-3M166.2 378.3h-3M166.2 341.58h-1.4M166.2 338.41h-1.4M166.2 336.16h-1.4M166.2 334.42h-1.4M166.2 332.99h-1.4M166.2 331.79h-1.4M166.2 330.74h-1.4M166.2 329.82h-1.4M166.2 358.88h-1.4M166.2 355.89h-1.4M166.2 353.76h-1.4M166.2 352.12h-1.4M166.2 350.77h-1.4M166.2 349.63h-1.4M166.2 348.65h-1.4M166.2 347.78h-1.4M166.2 374.00h-1.4M166.2 371.48h-1.4M166.2 369.69h-1.4M166.2 368.30h-1.4M166.2 367.17h-1.4M166.2 366.22h-1.4M166.2 365.39h-1.4M166.2 364.65h-1.4" fill="none" stroke="#111" stroke-width="1.1"/>
<text x="176.2" y="402.0" font-size="5.6" font-weight="normal" text-anchor="start" fill="#000">10</text>
<text x="182.2" y="398.2" font-size="4.0" font-weight="normal" text-anchor="start" fill="#000">2</text>
<text x="196.4" y="402.0" font-size="5.6" font-weight="normal" text-anchor="start" fill="#000">10</text>
<text x="202.4" y="398.2" font-size="4.0" font-weight="normal" text-anchor="start" fill="#000">3</text>
<text x="217.6" y="402.0" font-size="5.6" font-weight="normal" text-anchor="start" fill="#000">10</text>
<text x="223.6" y="398.2" font-size="4.0" font-weight="normal" text-anchor="start" fill="#000">4</text>
<text x="238.7" y="402.0" font-size="5.6" font-weight="normal" text-anchor="start" fill="#000">10</text>
<text x="244.7" y="398.2" font-size="4.0" font-weight="normal" text-anchor="start" fill="#000">5</text>
<text x="161.0" y="334.2" font-size="5.6" font-weight="normal" text-anchor="start" fill="#000" transform="rotate(-90 161.0 334.2)">10</text>
<text x="157.4" y="328.1" font-size="4.0" font-weight="normal" text-anchor="start" fill="#000" transform="rotate(-90 157.4 328.1)">5</text>
<text x="161.0" y="352.2" font-size="5.6" font-weight="normal" text-anchor="start" fill="#000" transform="rotate(-90 161.0 352.2)">10</text>
<text x="157.4" y="346.1" font-size="4.0" font-weight="normal" text-anchor="start" fill="#000" transform="rotate(-90 157.4 346.1)">4</text>
<text x="161.0" y="369.2" font-size="5.6" font-weight="normal" text-anchor="start" fill="#000" transform="rotate(-90 161.0 369.2)">10</text>
<text x="157.4" y="363.1" font-size="4.0" font-weight="normal" text-anchor="start" fill="#000" transform="rotate(-90 157.4 363.1)">3</text>
<text x="161.0" y="383.5" font-size="5.6" font-weight="normal" text-anchor="start" fill="#000" transform="rotate(-90 161.0 383.5)">10</text>
<text x="157.4" y="377.40000000000003" font-size="4.0" font-weight="normal" text-anchor="start" fill="#000" transform="rotate(-90 157.4 377.40000000000003)">2</text>
<rect x="265.2" y="323.0" width="84.30000000000001" height="66.19999999999999" fill="#fff" stroke="none" stroke-width="1"/>
<g clip-path="url(#clip7)">
<ellipse cx="284" cy="373" rx="17" ry="7" fill="#ee1111" opacity="1.0" transform="rotate(-3 284 373)" filter="url(#b1_5)"/>
<ellipse cx="326.5" cy="369.5" rx="5.5" ry="6.5" fill="#ee1111" opacity="0.95" transform="rotate(0 326.5 369.5)" filter="url(#b1_5)"/>
<ellipse cx="308" cy="373" rx="8" ry="2.5" fill="#ee1111" opacity="0.6" transform="rotate(0 308 373)" filter="url(#b1_5)"/>
<path d="M299.9 366.9h0.8v0.8h-0.8zM290.3 375.2h0.8v0.8h-0.8zM277.8 373.6h0.8v0.8h-0.8zM284.6 370.5h0.8v0.8h-0.8zM286.4 373.6h0.8v0.8h-0.8zM273.2 366.0h0.8v0.8h-0.8zM275.3 374.0h0.8v0.8h-0.8zM302.8 381.7h0.8v0.8h-0.8zM289.6 378.7h0.8v0.8h-0.8zM287.3 379.6h0.8v0.8h-0.8zM287.3 375.6h0.8v0.8h-0.8zM282.2 373.3h0.8v0.8h-0.8zM309.2 366.5h0.8v0.8h-0.8zM285.7 370.0h0.8v0.8h-0.8zM297.6 383.6h0.8v0.8h-0.8zM281.8 357.6h0.8v0.8h-0.8zM293.3 376.8h0.8v0.8h-0.8zM264.8 371.9h0.8v0.8h-0.8zM284.9 360.2h0.8v0.8h-0.8zM294.1 375.8h0.8v0.8h-0.8zM288.6 367.3h0.8v0.8h-0.8zM276.8 369.7h0.8v0.8h-0.8zM291.6 367.7h0.8v0.8h-0.8zM303.8 375.5h0.8v0.8h-0.8zM258.6 382.9h0.8v0.8h-0.8zM287.6 370.2h0.8v0.8h-0.8zM286.9 362.9h0.8v0.8h-0.8zM288.0 359.3h0.8v0.8h-0.8zM272.9 381.0h0.8v0.8h-0.8zM301.3 371.3h0.8v0.8h-0.8zM273.6 378.6h0.8v0.8h-0.8zM285.0 374.5h0.8v0.8h-0.8zM293.4 367.1h0.8v0.8h-0.8zM295.5 361.2h0.8v0.8h-0.8zM303.8 364.3h0.8v0.8h-0.8zM277.7 369.4h0.8v0.8h-0.8zM294.6 377.5h0.8v0.8h-0.8zM290.0 376.4h0.8v0.8h-0.8zM291.4 372.8h0.8v0.8h-0.8zM261.7 360.0h0.8v0.8h-0.8zM256.8 373.0h0.8v0.8h-0.8zM282.7 372.4h0.8v0.8h-0.8zM288.3 371.9h0.8v0.8h-0.8zM273.0 364.6h0.8v0.8h-0.8zM261.7 380.2h0.8v0.8h-0.8zM296.8 365.4h0.8v0.8h-0.8zM282.0 375.7h0.8v0.8h-0.8zM305.4 369.7h0.8v0.8h-0.8zM287.6 379.8h0.8v0.8h-0.8zM263.7 369.0h0.8v0.8h-0.8zM284.9 369.1h0.8v0.8h-0.8zM311.9 378.2h0.8v0.8h-0.8zM287.9 367.7h0.8v0.8h-0.8zM296.3 376.8h0.8v0.8h-0.8zM278.9 370.7h0.8v0.8h-0.8zM267.1 372.7h0.8v0.8h-0.8zM296.2 378.9h0.8v0.8h-0.8zM292.6 377.9h0.8v0.8h-0.8zM278.0 370.5h0.8v0.8h-0.8zM300.5 375.8h0.8v0.8h-0.8zM275.4 376.0h0.8v0.8h-0.8zM295.8 377.2h0.8v0.8h-0.8zM286.7 370.2h0.8v0.8h-0.8zM290.3 382.9h0.8v0.8h-0.8zM287.2 369.3h0.8v0.8h-0.8zM289.6 366.1h0.8v0.8h-0.8zM288.2 371.4h0.8v0.8h-0.8zM297.3 373.7h0.8v0.8h-0.8zM298.5 386.3h0.8v0.8h-0.8zM282.6 368.4h0.8v0.8h-0.8zM291.1 372.6h0.8v0.8h-0.8zM287.1 369.7h0.8v0.8h-0.8zM292.2 373.5h0.8v0.8h-0.8zM258.3 371.8h0.8v0.8h-0.8zM289.5 379.9h0.8v0.8h-0.8zM278.1 368.5h0.8v0.8h-0.8zM299.6 369.6h0.8v0.8h-0.8zM286.6 375.8h0.8v0.8h-0.8zM294.5 373.2h0.8v0.8h-0.8zM271.4 378.9h0.8v0.8h-0.8zM279.8 370.1h0.8v0.8h-0.8zM310.3 378.1h0.8v0.8h-0.8zM272.0 370.4h0.8v0.8h-0.8zM282.2 368.8h0.8v0.8h-0.8zM261.3 377.7h0.8v0.8h-0.8zM294.9 374.5h0.8v0.8h-0.8zM280.2 374.3h0.8v0.8h-0.8zM293.2 367.2h0.8v0.8h-0.8zM281.1 369.9h0.8v0.8h-0.8zM293.9 374.6h0.8v0.8h-0.8zM269.1 369.6h0.8v0.8h-0.8zM307.2 367.6h0.8v0.8h-0.8zM287.1 369.5h0.8v0.8h-0.8zM300.7 372.7h0.8v0.8h-0.8zM279.8 366.4h0.8v0.8h-0.8zM282.2 377.8h0.8v0.8h-0.8zM293.6 365.5h0.8v0.8h-0.8zM304.6 371.7h0.8v0.8h-0.8zM272.1 373.8h0.8v0.8h-0.8zM277.5 369.8h0.8v0.8h-0.8zM277.3 372.6h0.8v0.8h-0.8zM279.0 363.3h0.8v0.8h-0.8zM291.7 370.1h0.8v0.8h-0.8zM300.0 376.1h0.8v0.8h-0.8zM292.8 374.1h0.8v0.8h-0.8zM301.2 371.2h0.8v0.8h-0.8zM272.8 375.0h0.8v0.8h-0.8zM251.4 371.0h0.8v0.8h-0.8zM287.8 370.7h0.8v0.8h-0.8zM300.7 377.0h0.8v0.8h-0.8zM286.5 370.8h0.8v0.8h-0.8zM298.7 369.2h0.8v0.8h-0.8zM280.0 377.3h0.8v0.8h-0.8zM292.5 384.6h0.8v0.8h-0.8zM282.4 362.4h0.8v0.8h-0.8zM293.3 380.2h0.8v0.8h-0.8zM283.1 381.9h0.8v0.8h-0.8zM307.2 369.3h0.8v0.8h-0.8zM279.1 365.9h0.8v0.8h-0.8zM291.8 377.1h0.8v0.8h-0.8zM292.6 366.0h0.8v0.8h-0.8zM275.6 364.9h0.8v0.8h-0.8zM265.1 365.4h0.8v0.8h-0.8zM265.5 372.0h0.8v0.8h-0.8zM290.3 376.6h0.8v0.8h-0.8zM284.8 369.2h0.8v0.8h-0.8zM284.9 376.3h0.8v0.8h-0.8zM281.4 373.3h0.8v0.8h-0.8zM281.2 370.0h0.8v0.8h-0.8zM285.5 366.7h0.8v0.8h-0.8zM298.0 364.2h0.8v0.8h-0.8zM290.7 365.3h0.8v0.8h-0.8zM303.7 377.9h0.8v0.8h-0.8zM275.0 370.5h0.8v0.8h-0.8zM271.1 372.7h0.8v0.8h-0.8zM290.1 387.5h0.8v0.8h-0.8zM268.1 380.0h0.8v0.8h-0.8zM277.8 374.6h0.8v0.8h-0.8zM295.9 376.1h0.8v0.8h-0.8zM290.2 371.9h0.8v0.8h-0.8zM284.9 373.9h0.8v0.8h-0.8zM299.8 364.7h0.8v0.8h-0.8zM278.9 365.9h0.8v0.8h-0.8zM273.1 368.5h0.8v0.8h-0.8zM298.6 385.1h0.8v0.8h-0.8zM301.7 366.3h0.8v0.8h-0.8zM285.9 366.6h0.8v0.8h-0.8zM290.5 380.2h0.8v0.8h-0.8zM292.3 377.9h0.8v0.8h-0.8zM283.2 361.9h0.8v0.8h-0.8zM260.5 372.4h0.8v0.8h-0.8zM292.1 380.2h0.8v0.8h-0.8zM280.7 373.4h0.8v0.8h-0.8zM288.2 379.0h0.8v0.8h-0.8zM284.1 366.8h0.8v0.8h-0.8zM298.3 375.3h0.8v0.8h-0.8zM289.7 365.8h0.8v0.8h-0.8zM284.9 363.3h0.8v0.8h-0.8zM260.3 371.7h0.8v0.8h-0.8zM279.6 376.2h0.8v0.8h-0.8zM302.8 372.8h0.8v0.8h-0.8zM307.0 369.7h0.8v0.8h-0.8zM294.4 365.8h0.8v0.8h-0.8zM286.6 371.2h0.8v0.8h-0.8zM282.4 376.3h0.8v0.8h-0.8zM261.8 373.7h0.8v0.8h-0.8zM275.0 373.7h0.8v0.8h-0.8zM289.8 370.9h0.8v0.8h-0.8zM280.4 366.5h0.8v0.8h-0.8zM291.8 369.2h0.8v0.8h-0.8zM290.5 364.9h0.8v0.8h-0.8zM301.8 367.2h0.8v0.8h-0.8zM299.2 370.5h0.8v0.8h-0.8zM291.7 372.2h0.8v0.8h-0.8zM293.4 373.0h0.8v0.8h-0.8zM300.6 376.8h0.8v0.8h-0.8zM293.4 382.4h0.8v0.8h-0.8zM276.4 380.3h0.8v0.8h-0.8zM285.9 364.7h0.8v0.8h-0.8zM290.9 371.8h0.8v0.8h-0.8zM305.8 370.2h0.8v0.8h-0.8zM285.6 374.3h0.8v0.8h-0.8zM261.5 375.9h0.8v0.8h-0.8zM272.8 380.9h0.8v0.8h-0.8zM305.5 373.0h0.8v0.8h-0.8zM265.5 374.0h0.8v0.8h-0.8zM287.2 377.1h0.8v0.8h-0.8zM281.4 366.3h0.8v0.8h-0.8zM283.2 367.8h0.8v0.8h-0.8zM306.8 369.0h0.8v0.8h-0.8zM277.0 372.7h0.8v0.8h-0.8zM269.7 370.5h0.8v0.8h-0.8zM283.3 370.2h0.8v0.8h-0.8zM281.9 380.0h0.8v0.8h-0.8zM290.3 365.5h0.8v0.8h-0.8zM279.7 377.2h0.8v0.8h-0.8zM277.0 373.5h0.8v0.8h-0.8zM284.6 376.0h0.8v0.8h-0.8zM282.8 372.2h0.8v0.8h-0.8zM274.4 375.0h0.8v0.8h-0.8zM273.6 382.8h0.8v0.8h-0.8zM284.8 371.7h0.8v0.8h-0.8zM294.7 372.5h0.8v0.8h-0.8zM286.1 372.7h0.8v0.8h-0.8zM276.1 367.8h0.8v0.8h-0.8zM276.4 379.4h0.8v0.8h-0.8zM277.3 370.7h0.8v0.8h-0.8zM279.5 376.9h0.8v0.8h-0.8zM309.4 367.8h0.8v0.8h-0.8zM291.7 373.7h0.8v0.8h-0.8zM281.3 375.8h0.8v0.8h-0.8zM269.4 377.7h0.8v0.8h-0.8zM287.7 367.4h0.8v0.8h-0.8zM304.6 377.8h0.8v0.8h-0.8zM299.3 364.8h0.8v0.8h-0.8zM281.7 370.1h0.8v0.8h-0.8zM292.7 380.6h0.8v0.8h-0.8zM261.6 373.1h0.8v0.8h-0.8zM283.5 378.6h0.8v0.8h-0.8zM284.5 365.8h0.8v0.8h-0.8zM282.6 367.2h0.8v0.8h-0.8zM275.5 373.2h0.8v0.8h-0.8zM279.1 374.6h0.8v0.8h-0.8zM266.4 386.1h0.8v0.8h-0.8zM300.5 377.0h0.8v0.8h-0.8zM269.1 360.9h0.8v0.8h-0.8zM274.4 371.7h0.8v0.8h-0.8zM312.4 380.3h0.8v0.8h-0.8zM278.6 379.8h0.8v0.8h-0.8zM300.0 373.1h0.8v0.8h-0.8zM299.9 374.9h0.8v0.8h-0.8zM277.0 366.4h0.8v0.8h-0.8zM283.5 378.6h0.8v0.8h-0.8zM268.4 363.9h0.8v0.8h-0.8zM291.7 357.7h0.8v0.8h-0.8zM307.4 370.5h0.8v0.8h-0.8zM294.0 383.5h0.8v0.8h-0.8zM267.2 367.1h0.8v0.8h-0.8zM312.5 371.4h0.8v0.8h-0.8zM283.4 374.3h0.8v0.8h-0.8zM298.0 380.5h0.8v0.8h-0.8zM286.3 371.1h0.8v0.8h-0.8zM284.6 374.7h0.8v0.8h-0.8zM301.1 373.8h0.8v0.8h-0.8zM307.3 368.2h0.8v0.8h-0.8zM291.5 382.9h0.8v0.8h-0.8zM300.8 374.9h0.8v0.8h-0.8zM274.2 369.0h0.8v0.8h-0.8zM283.1 374.7h0.8v0.8h-0.8zM281.9 364.8h0.8v0.8h-0.8zM275.9 375.9h0.8v0.8h-0.8zM295.2 365.1h0.8v0.8h-0.8zM280.5 363.6h0.8v0.8h-0.8zM278.1 392.9h0.8v0.8h-0.8zM285.8 371.1h0.8v0.8h-0.8zM277.8 366.2h0.8v0.8h-0.8zM262.2 372.8h0.8v0.8h-0.8zM281.6 381.3h0.8v0.8h-0.8zM264.9 375.4h0.8v0.8h-0.8zM301.5 362.0h0.8v0.8h-0.8zM293.1 363.9h0.8v0.8h-0.8zM291.4 381.3h0.8v0.8h-0.8zM285.0 374.6h0.8v0.8h-0.8zM276.5 374.6h0.8v0.8h-0.8zM298.9 372.0h0.8v0.8h-0.8zM283.3 375.2h0.8v0.8h-0.8zM295.1 363.8h0.8v0.8h-0.8zM285.7 369.1h0.8v0.8h-0.8zM291.1 378.8h0.8v0.8h-0.8zM288.8 380.3h0.8v0.8h-0.8zM272.8 370.7h0.8v0.8h-0.8zM272.9 373.3h0.8v0.8h-0.8zM286.2 371.9h0.8v0.8h-0.8zM270.1 372.6h0.8v0.8h-0.8zM279.6 376.4h0.8v0.8h-0.8zM281.7 379.5h0.8v0.8h-0.8zM287.8 362.6h0.8v0.8h-0.8zM282.9 365.0h0.8v0.8h-0.8zM296.9 381.1h0.8v0.8h-0.8zM284.7 375.5h0.8v0.8h-0.8zM267.3 360.4h0.8v0.8h-0.8zM278.2 371.6h0.8v0.8h-0.8zM266.4 373.5h0.8v0.8h-0.8zM288.9 376.6h0.8v0.8h-0.8zM304.0 377.6h0.8v0.8h-0.8zM280.5 373.6h0.8v0.8h-0.8zM292.4 367.1h0.8v0.8h-0.8zM301.3 378.1h0.8v0.8h-0.8zM282.2 369.4h0.8v0.8h-0.8zM331.7 377.7h0.8v0.8h-0.8zM296.6 383.1h0.8v0.8h-0.8zM297.1 374.2h0.8v0.8h-0.8zM293.7 367.9h0.8v0.8h-0.8zM293.8 364.4h0.8v0.8h-0.8zM290.3 376.2h0.8v0.8h-0.8zM265.9 383.8h0.8v0.8h-0.8zM270.9 378.9h0.8v0.8h-0.8zM278.6 374.8h0.8v0.8h-0.8zM277.0 387.1h0.8v0.8h-0.8zM297.8 383.2h0.8v0.8h-0.8zM294.8 377.0h0.8v0.8h-0.8zM287.0 371.7h0.8v0.8h-0.8zM292.7 374.0h0.8v0.8h-0.8zM283.3 365.3h0.8v0.8h-0.8zM281.4 376.5h0.8v0.8h-0.8zM279.4 375.1h0.8v0.8h-0.8zM283.5 367.3h0.8v0.8h-0.8zM274.1 368.9h0.8v0.8h-0.8zM281.7 371.6h0.8v0.8h-0.8zM299.0 367.0h0.8v0.8h-0.8zM260.1 377.0h0.8v0.8h-0.8zM279.7 372.5h0.8v0.8h-0.8zM316.6 381.4h0.8v0.8h-0.8zM292.5 378.5h0.8v0.8h-0.8zM286.8 378.5h0.8v0.8h-0.8zM277.8 369.1h0.8v0.8h-0.8zM279.6 382.1h0.8v0.8h-0.8zM304.5 369.7h0.8v0.8h-0.8zM299.6 372.3h0.8v0.8h-0.8zM298.6 371.4h0.8v0.8h-0.8zM297.1 372.5h0.8v0.8h-0.8zM281.8 373.0h0.8v0.8h-0.8zM287.3 369.9h0.8v0.8h-0.8zM268.5 382.7h0.8v0.8h-0.8zM280.6 362.9h0.8v0.8h-0.8zM257.5 357.4h0.8v0.8h-0.8zM277.9 380.9h0.8v0.8h-0.8zM265.3 371.4h0.8v0.8h-0.8zM262.8 379.4h0.8v0.8h-0.8zM289.9 375.0h0.8v0.8h-0.8zM302.1 382.5h0.8v0.8h-0.8zM298.2 369.9h0.8v0.8h-0.8zM269.1 367.3h0.8v0.8h-0.8zM263.8 383.4h0.8v0.8h-0.8zM283.1 373.9h0.8v0.8h-0.8zM287.9 384.6h0.8v0.8h-0.8zM278.5 379.9h0.8v0.8h-0.8zM289.2 372.4h0.8v0.8h-0.8zM261.8 378.4h0.8v0.8h-0.8zM276.3 370.6h0.8v0.8h-0.8zM288.3 373.8h0.8v0.8h-0.8zM299.4 369.4h0.8v0.8h-0.8zM287.5 374.8h0.8v0.8h-0.8zM285.8 377.1h0.8v0.8h-0.8zM282.4 380.1h0.8v0.8h-0.8zM276.7 365.1h0.8v0.8h-0.8zM285.0 379.9h0.8v0.8h-0.8zM279.1 369.7h0.8v0.8h-0.8zM281.2 374.2h0.8v0.8h-0.8zM283.3 375.0h0.8v0.8h-0.8zM264.3 381.7h0.8v0.8h-0.8zM292.7 368.4h0.8v0.8h-0.8zM302.5 375.8h0.8v0.8h-0.8zM303.7 366.6h0.8v0.8h-0.8zM306.0 373.5h0.8v0.8h-0.8zM260.1 377.5h0.8v0.8h-0.8zM281.8 367.5h0.8v0.8h-0.8zM282.9 362.2h0.8v0.8h-0.8zM292.7 372.0h0.8v0.8h-0.8zM282.2 381.2h0.8v0.8h-0.8zM285.9 369.5h0.8v0.8h-0.8zM273.8 372.9h0.8v0.8h-0.8zM298.7 369.9h0.8v0.8h-0.8zM272.7 378.5h0.8v0.8h-0.8zM286.2 373.1h0.8v0.8h-0.8zM311.3 366.4h0.8v0.8h-0.8zM288.0 363.2h0.8v0.8h-0.8zM281.8 376.6h0.8v0.8h-0.8zM299.4 366.0h0.8v0.8h-0.8zM295.8 377.7h0.8v0.8h-0.8zM284.0 387.2h0.8v0.8h-0.8zM285.5 368.2h0.8v0.8h-0.8zM290.8 362.7h0.8v0.8h-0.8zM304.8 378.8h0.8v0.8h-0.8zM280.6 376.7h0.8v0.8h-0.8zM292.1 384.2h0.8v0.8h-0.8zM277.9 365.9h0.8v0.8h-0.8zM260.4 371.6h0.8v0.8h-0.8zM266.1 372.2h0.8v0.8h-0.8zM290.6 370.7h0.8v0.8h-0.8zM273.8 380.0h0.8v0.8h-0.8zM283.0 374.5h0.8v0.8h-0.8zM297.3 365.8h0.8v0.8h-0.8zM274.1 387.4h0.8v0.8h-0.8zM283.5 367.3h0.8v0.8h-0.8zM282.3 370.0h0.8v0.8h-0.8zM270.3 370.9h0.8v0.8h-0.8zM285.2 373.1h0.8v0.8h-0.8zM292.1 363.4h0.8v0.8h-0.8zM267.0 377.7h0.8v0.8h-0.8zM280.0 380.1h0.8v0.8h-0.8zM289.2 365.2h0.8v0.8h-0.8zM292.1 367.5h0.8v0.8h-0.8zM288.7 380.2h0.8v0.8h-0.8zM311.6 372.8h0.8v0.8h-0.8zM294.1 374.9h0.8v0.8h-0.8zM295.3 358.8h0.8v0.8h-0.8zM280.7 374.9h0.8v0.8h-0.8zM291.3 369.0h0.8v0.8h-0.8zM295.7 379.5h0.8v0.8h-0.8zM286.4 371.9h0.8v0.8h-0.8zM281.1 374.0h0.8v0.8h-0.8zM300.1 381.7h0.8v0.8h-0.8zM279.7 368.0h0.8v0.8h-0.8zM275.7 378.8h0.8v0.8h-0.8zM288.2 374.9h0.8v0.8h-0.8zM291.4 375.4h0.8v0.8h-0.8zM284.0 367.4h0.8v0.8h-0.8zM277.9 373.9h0.8v0.8h-0.8zM290.3 371.1h0.8v0.8h-0.8zM280.4 381.0h0.8v0.8h-0.8zM279.8 374.5h0.8v0.8h-0.8zM281.6 368.4h0.8v0.8h-0.8zM266.8 370.2h0.8v0.8h-0.8zM275.4 378.0h0.8v0.8h-0.8zM271.4 370.9h0.8v0.8h-0.8zM293.6 372.6h0.8v0.8h-0.8zM291.6 377.9h0.8v0.8h-0.8zM265.1 370.9h0.8v0.8h-0.8zM273.7 380.8h0.8v0.8h-0.8zM284.1 376.0h0.8v0.8h-0.8zM306.3 371.2h0.8v0.8h-0.8zM286.4 375.5h0.8v0.8h-0.8zM282.2 380.3h0.8v0.8h-0.8zM295.5 378.9h0.8v0.8h-0.8zM286.1 371.3h0.8v0.8h-0.8zM281.1 371.2h0.8v0.8h-0.8zM265.4 375.3h0.8v0.8h-0.8zM295.4 373.2h0.8v0.8h-0.8zM279.4 373.4h0.8v0.8h-0.8zM288.2 375.1h0.8v0.8h-0.8zM307.5 368.4h0.8v0.8h-0.8zM289.9 377.1h0.8v0.8h-0.8zM286.4 371.9h0.8v0.8h-0.8zM273.0 369.9h0.8v0.8h-0.8zM294.1 381.3h0.8v0.8h-0.8zM277.5 375.9h0.8v0.8h-0.8zM291.8 378.8h0.8v0.8h-0.8zM288.4 375.7h0.8v0.8h-0.8zM296.4 366.7h0.8v0.8h-0.8zM286.0 363.4h0.8v0.8h-0.8zM261.5 368.6h0.8v0.8h-0.8zM266.7 376.0h0.8v0.8h-0.8zM297.5 371.5h0.8v0.8h-0.8zM283.8 371.9h0.8v0.8h-0.8zM282.3 374.0h0.8v0.8h-0.8zM289.7 370.6h0.8v0.8h-0.8zM275.9 370.3h0.8v0.8h-0.8zM295.2 370.9h0.8v0.8h-0.8zM303.0 371.9h0.8v0.8h-0.8zM302.0 366.6h0.8v0.8h-0.8zM277.0 375.8h0.8v0.8h-0.8zM291.3 372.3h0.8v0.8h-0.8zM310.1 373.6h0.8v0.8h-0.8zM288.9 370.0h0.8v0.8h-0.8zM305.5 377.9h0.8v0.8h-0.8zM290.4 364.1h0.8v0.8h-0.8zM289.8 370.6h0.8v0.8h-0.8zM290.2 378.2h0.8v0.8h-0.8zM276.4 374.4h0.8v0.8h-0.8zM296.0 374.1h0.8v0.8h-0.8zM281.4 367.3h0.8v0.8h-0.8zM277.3 366.2h0.8v0.8h-0.8zM297.3 373.8h0.8v0.8h-0.8zM270.7 373.2h0.8v0.8h-0.8zM269.8 355.0h0.8v0.8h-0.8zM300.0 379.7h0.8v0.8h-0.8zM267.6 369.2h0.8v0.8h-0.8zM287.9 371.1h0.8v0.8h-0.8zM275.1 370.3h0.8v0.8h-0.8zM282.5 370.1h0.8v0.8h-0.8zM287.9 371.9h0.8v0.8h-0.8zM276.2 373.3h0.8v0.8h-0.8zM265.4 381.1h0.8v0.8h-0.8zM264.4 372.7h0.8v0.8h-0.8zM289.4 375.4h0.8v0.8h-0.8zM288.5 380.1h0.8v0.8h-0.8zM271.8 372.8h0.8v0.8h-0.8zM287.1 370.4h0.8v0.8h-0.8zM278.2 380.2h0.8v0.8h-0.8zM276.8 370.5h0.8v0.8h-0.8zM282.0 372.0h0.8v0.8h-0.8zM287.3 372.0h0.8v0.8h-0.8zM289.8 373.9h0.8v0.8h-0.8zM291.1 380.7h0.8v0.8h-0.8zM275.2 382.2h0.8v0.8h-0.8zM279.9 376.8h0.8v0.8h-0.8zM287.2 371.5h0.8v0.8h-0.8zM261.8 382.0h0.8v0.8h-0.8zM276.2 368.8h0.8v0.8h-0.8zM298.0 373.5h0.8v0.8h-0.8zM308.1 382.4h0.8v0.8h-0.8zM293.8 374.5h0.8v0.8h-0.8zM294.4 365.9h0.8v0.8h-0.8zM287.3 373.9h0.8v0.8h-0.8zM279.6 374.5h0.8v0.8h-0.8zM267.8 378.1h0.8v0.8h-0.8zM300.7 366.0h0.8v0.8h-0.8zM287.0 381.6h0.8v0.8h-0.8zM290.3 367.5h0.8v0.8h-0.8zM273.5 377.8h0.8v0.8h-0.8zM307.2 367.2h0.8v0.8h-0.8zM285.7 368.9h0.8v0.8h-0.8zM281.9 374.8h0.8v0.8h-0.8zM284.8 369.4h0.8v0.8h-0.8zM310.4 372.2h0.8v0.8h-0.8zM283.1 379.2h0.8v0.8h-0.8zM285.4 372.0h0.8v0.8h-0.8zM296.6 367.5h0.8v0.8h-0.8zM294.2 378.7h0.8v0.8h-0.8zM293.1 372.1h0.8v0.8h-0.8zM285.1 363.7h0.8v0.8h-0.8zM283.7 374.7h0.8v0.8h-0.8zM295.6 373.9h0.8v0.8h-0.8zM280.6 368.5h0.8v0.8h-0.8zM284.7 373.8h0.8v0.8h-0.8zM299.6 373.2h0.8v0.8h-0.8zM279.3 372.5h0.8v0.8h-0.8zM279.5 371.8h0.8v0.8h-0.8zM259.0 364.4h0.8v0.8h-0.8zM271.0 375.6h0.8v0.8h-0.8zM284.3 373.9h0.8v0.8h-0.8zM299.0 367.4h0.8v0.8h-0.8zM298.8 375.2h0.8v0.8h-0.8zM276.7 381.2h0.8v0.8h-0.8zM268.3 367.0h0.8v0.8h-0.8zM282.7 375.3h0.8v0.8h-0.8zM282.9 361.5h0.8v0.8h-0.8zM281.7 372.6h0.8v0.8h-0.8zM315.4 380.6h0.8v0.8h-0.8zM286.7 367.2h0.8v0.8h-0.8zM289.3 366.8h0.8v0.8h-0.8zM287.6 375.1h0.8v0.8h-0.8zM280.5 374.4h0.8v0.8h-0.8zM281.3 370.0h0.8v0.8h-0.8zM303.4 376.2h0.8v0.8h-0.8zM281.6 368.9h0.8v0.8h-0.8zM287.3 376.2h0.8v0.8h-0.8zM295.3 381.1h0.8v0.8h-0.8zM290.7 367.0h0.8v0.8h-0.8zM309.2 379.4h0.8v0.8h-0.8zM295.0 380.3h0.8v0.8h-0.8zM267.5 371.1h0.8v0.8h-0.8zM279.1 379.5h0.8v0.8h-0.8zM271.2 371.3h0.8v0.8h-0.8zM303.2 376.6h0.8v0.8h-0.8zM280.6 383.3h0.8v0.8h-0.8zM269.4 375.5h0.8v0.8h-0.8zM282.5 375.8h0.8v0.8h-0.8zM281.9 368.5h0.8v0.8h-0.8zM287.7 365.9h0.8v0.8h-0.8zM291.4 371.3h0.8v0.8h-0.8zM296.1 370.6h0.8v0.8h-0.8zM277.2 375.2h0.8v0.8h-0.8zM299.8 361.8h0.8v0.8h-0.8zM286.6 376.5h0.8v0.8h-0.8zM268.3 368.3h0.8v0.8h-0.8zM292.7 368.6h0.8v0.8h-0.8zM277.6 382.4h0.8v0.8h-0.8zM274.0 368.4h0.8v0.8h-0.8zM257.8 367.1h0.8v0.8h-0.8zM270.6 382.4h0.8v0.8h-0.8zM299.5 366.2h0.8v0.8h-0.8zM308.4 377.2h0.8v0.8h-0.8zM283.0 377.4h0.8v0.8h-0.8zM289.6 368.9h0.8v0.8h-0.8zM264.3 368.1h0.8v0.8h-0.8zM285.1 371.1h0.8v0.8h-0.8zM276.4 378.3h0.8v0.8h-0.8zM272.5 377.9h0.8v0.8h-0.8zM279.4 373.6h0.8v0.8h-0.8zM271.8 373.0h0.8v0.8h-0.8zM275.8 363.6h0.8v0.8h-0.8zM284.9 372.8h0.8v0.8h-0.8zM294.9 374.6h0.8v0.8h-0.8zM273.1 369.7h0.8v0.8h-0.8zM255.7 367.0h0.8v0.8h-0.8zM300.4 381.3h0.8v0.8h-0.8zM294.1 374.7h0.8v0.8h-0.8zM292.0 375.7h0.8v0.8h-0.8zM264.6 368.3h0.8v0.8h-0.8zM299.1 379.4h0.8v0.8h-0.8zM287.9 371.4h0.8v0.8h-0.8zM280.5 370.1h0.8v0.8h-0.8zM274.1 362.6h0.8v0.8h-0.8zM286.8 370.6h0.8v0.8h-0.8zM282.5 382.3h0.8v0.8h-0.8zM292.1 369.2h0.8v0.8h-0.8zM291.9 364.9h0.8v0.8h-0.8zM297.5 374.5h0.8v0.8h-0.8zM282.8 376.1h0.8v0.8h-0.8zM302.3 370.5h0.8v0.8h-0.8zM273.4 384.5h0.8v0.8h-0.8zM285.2 381.2h0.8v0.8h-0.8zM277.0 375.1h0.8v0.8h-0.8zM277.5 376.5h0.8v0.8h-0.8zM281.8 369.4h0.8v0.8h-0.8zM303.5 374.9h0.8v0.8h-0.8zM261.0 371.7h0.8v0.8h-0.8zM274.2 366.4h0.8v0.8h-0.8zM278.1 370.4h0.8v0.8h-0.8zM285.4 368.7h0.8v0.8h-0.8zM262.9 370.1h0.8v0.8h-0.8zM295.5 365.6h0.8v0.8h-0.8zM292.4 375.5h0.8v0.8h-0.8zM279.7 374.7h0.8v0.8h-0.8zM276.1 370.8h0.8v0.8h-0.8zM272.9 375.6h0.8v0.8h-0.8zM301.3 369.3h0.8v0.8h-0.8zM299.3 361.4h0.8v0.8h-0.8zM274.5 367.5h0.8v0.8h-0.8zM305.5 369.8h0.8v0.8h-0.8zM294.3 361.8h0.8v0.8h-0.8zM286.4 376.1h0.8v0.8h-0.8zM284.6 358.1h0.8v0.8h-0.8zM287.1 377.4h0.8v0.8h-0.8zM300.8 375.2h0.8v0.8h-0.8zM264.8 371.9h0.8v0.8h-0.8zM295.8 368.5h0.8v0.8h-0.8zM291.8 370.4h0.8v0.8h-0.8zM286.1 377.2h0.8v0.8h-0.8zM276.5 388.7h0.8v0.8h-0.8zM286.8 374.9h0.8v0.8h-0.8zM276.1 373.3h0.8v0.8h-0.8zM281.8 365.0h0.8v0.8h-0.8zM266.7 374.6h0.8v0.8h-0.8zM284.0 358.6h0.8v0.8h-0.8zM259.3 371.3h0.8v0.8h-0.8zM284.2 376.3h0.8v0.8h-0.8zM270.2 376.3h0.8v0.8h-0.8zM281.3 370.2h0.8v0.8h-0.8zM283.3 378.4h0.8v0.8h-0.8zM291.7 377.9h0.8v0.8h-0.8zM276.8 371.4h0.8v0.8h-0.8zM271.1 370.0h0.8v0.8h-0.8zM280.2 370.4h0.8v0.8h-0.8zM293.6 375.3h0.8v0.8h-0.8zM294.1 373.7h0.8v0.8h-0.8zM297.9 373.6h0.8v0.8h-0.8zM296.6 375.8h0.8v0.8h-0.8zM293.8 372.6h0.8v0.8h-0.8zM270.1 365.1h0.8v0.8h-0.8zM308.5 375.1h0.8v0.8h-0.8zM290.3 372.1h0.8v0.8h-0.8zM279.5 388.8h0.8v0.8h-0.8zM271.6 372.7h0.8v0.8h-0.8zM284.4 366.8h0.8v0.8h-0.8zM269.7 369.1h0.8v0.8h-0.8zM280.9 370.3h0.8v0.8h-0.8zM294.8 366.5h0.8v0.8h-0.8zM289.9 381.1h0.8v0.8h-0.8zM295.7 366.7h0.8v0.8h-0.8zM249.6 377.6h0.8v0.8h-0.8zM291.0 369.8h0.8v0.8h-0.8zM300.4 370.8h0.8v0.8h-0.8zM286.3 367.3h0.8v0.8h-0.8zM288.8 370.6h0.8v0.8h-0.8zM279.0 378.9h0.8v0.8h-0.8zM287.6 364.8h0.8v0.8h-0.8zM293.3 377.6h0.8v0.8h-0.8zM275.0 370.8h0.8v0.8h-0.8zM285.6 371.6h0.8v0.8h-0.8zM286.5 376.6h0.8v0.8h-0.8zM279.1 384.4h0.8v0.8h-0.8zM276.5 370.0h0.8v0.8h-0.8zM308.6 386.1h0.8v0.8h-0.8zM285.5 372.0h0.8v0.8h-0.8zM272.1 379.3h0.8v0.8h-0.8zM287.1 368.3h0.8v0.8h-0.8zM289.9 380.5h0.8v0.8h-0.8zM293.2 385.1h0.8v0.8h-0.8zM298.9 375.4h0.8v0.8h-0.8zM284.6 376.0h0.8v0.8h-0.8zM299.6 377.7h0.8v0.8h-0.8zM297.7 374.2h0.8v0.8h-0.8zM294.2 379.7h0.8v0.8h-0.8zM283.0 365.9h0.8v0.8h-0.8zM305.7 376.2h0.8v0.8h-0.8zM279.7 374.3h0.8v0.8h-0.8zM282.0 363.6h0.8v0.8h-0.8zM282.8 365.2h0.8v0.8h-0.8zM287.4 372.4h0.8v0.8h-0.8zM298.6 372.3h0.8v0.8h-0.8zM289.5 371.4h0.8v0.8h-0.8zM280.4 365.3h0.8v0.8h-0.8zM296.9 373.9h0.8v0.8h-0.8zM278.0 374.1h0.8v0.8h-0.8zM280.0 369.0h0.8v0.8h-0.8zM288.0 379.7h0.8v0.8h-0.8zM281.8 365.2h0.8v0.8h-0.8zM277.6 382.9h0.8v0.8h-0.8zM275.3 379.5h0.8v0.8h-0.8zM282.1 377.1h0.8v0.8h-0.8zM283.7 364.3h0.8v0.8h-0.8zM280.1 384.6h0.8v0.8h-0.8zM283.4 376.1h0.8v0.8h-0.8zM281.0 372.3h0.8v0.8h-0.8zM288.9 375.6h0.8v0.8h-0.8zM311.6 372.9h0.8v0.8h-0.8zM282.8 369.4h0.8v0.8h-0.8zM269.3 364.2h0.8v0.8h-0.8zM293.0 362.8h0.8v0.8h-0.8zM301.9 377.7h0.8v0.8h-0.8zM281.5 366.7h0.8v0.8h-0.8zM285.4 373.1h0.8v0.8h-0.8zM298.6 368.9h0.8v0.8h-0.8zM280.5 372.7h0.8v0.8h-0.8zM281.7 369.6h0.8v0.8h-0.8zM264.5 364.0h0.8v0.8h-0.8zM276.9 371.8h0.8v0.8h-0.8zM297.0 385.7h0.8v0.8h-0.8zM305.6 375.2h0.8v0.8h-0.8zM307.6 372.4h0.8v0.8h-0.8zM278.7 385.7h0.8v0.8h-0.8zM272.2 370.7h0.8v0.8h-0.8zM281.9 381.0h0.8v0.8h-0.8zM277.9 377.3h0.8v0.8h-0.8zM280.2 366.3h0.8v0.8h-0.8zM287.9 373.9h0.8v0.8h-0.8zM271.2 368.3h0.8v0.8h-0.8zM275.5 378.3h0.8v0.8h-0.8zM290.6 374.3h0.8v0.8h-0.8zM290.9 370.4h0.8v0.8h-0.8zM290.8 369.7h0.8v0.8h-0.8zM269.1 369.2h0.8v0.8h-0.8zM287.6 373.5h0.8v0.8h-0.8zM297.8 363.7h0.8v0.8h-0.8zM282.4 375.2h0.8v0.8h-0.8zM273.5 374.4h0.8v0.8h-0.8zM280.2 366.8h0.8v0.8h-0.8zM298.5 365.4h0.8v0.8h-0.8zM297.1 370.8h0.8v0.8h-0.8zM273.8 368.2h0.8v0.8h-0.8zM276.2 368.4h0.8v0.8h-0.8zM288.3 362.8h0.8v0.8h-0.8zM300.0 377.6h0.8v0.8h-0.8zM301.7 367.6h0.8v0.8h-0.8zM257.3 369.6h0.8v0.8h-0.8zM283.1 374.7h0.8v0.8h-0.8zM278.9 372.6h0.8v0.8h-0.8zM286.9 364.5h0.8v0.8h-0.8zM306.8 366.9h0.8v0.8h-0.8zM288.3 379.0h0.8v0.8h-0.8zM275.7 373.1h0.8v0.8h-0.8zM304.7 371.5h0.8v0.8h-0.8zM297.7 374.7h0.8v0.8h-0.8zM287.9 377.0h0.8v0.8h-0.8zM282.4 371.9h0.8v0.8h-0.8zM296.7 374.5h0.8v0.8h-0.8zM291.1 366.5h0.8v0.8h-0.8zM285.3 379.7h0.8v0.8h-0.8zM295.9 375.0h0.8v0.8h-0.8zM279.0 369.7h0.8v0.8h-0.8zM290.4 380.9h0.8v0.8h-0.8zM285.7 380.3h0.8v0.8h-0.8zM281.6 379.7h0.8v0.8h-0.8zM273.2 374.1h0.8v0.8h-0.8zM272.4 376.7h0.8v0.8h-0.8zM292.1 367.9h0.8v0.8h-0.8zM276.3 370.7h0.8v0.8h-0.8zM267.3 368.0h0.8v0.8h-0.8zM274.8 377.4h0.8v0.8h-0.8zM301.8 370.6h0.8v0.8h-0.8zM281.7 374.3h0.8v0.8h-0.8zM278.9 371.6h0.8v0.8h-0.8zM295.2 374.3h0.8v0.8h-0.8zM284.2 369.9h0.8v0.8h-0.8zM302.8 369.7h0.8v0.8h-0.8zM286.6 367.4h0.8v0.8h-0.8zM278.1 373.6h0.8v0.8h-0.8zM280.5 376.0h0.8v0.8h-0.8zM286.0 365.5h0.8v0.8h-0.8zM257.5 378.6h0.8v0.8h-0.8zM278.2 381.2h0.8v0.8h-0.8zM285.3 368.9h0.8v0.8h-0.8zM291.9 371.6h0.8v0.8h-0.8zM285.3 368.0h0.8v0.8h-0.8zM292.8 379.1h0.8v0.8h-0.8zM278.9 382.9h0.8v0.8h-0.8zM278.4 374.4h0.8v0.8h-0.8zM265.6 362.5h0.8v0.8h-0.8zM310.4 380.9h0.8v0.8h-0.8zM298.9 363.7h0.8v0.8h-0.8zM287.9 375.4h0.8v0.8h-0.8zM286.1 374.7h0.8v0.8h-0.8zM274.1 372.2h0.8v0.8h-0.8zM271.5 371.2h0.8v0.8h-0.8zM289.6 368.8h0.8v0.8h-0.8zM281.8 370.7h0.8v0.8h-0.8zM285.3 378.1h0.8v0.8h-0.8zM288.0 375.2h0.8v0.8h-0.8zM267.9 371.1h0.8v0.8h-0.8zM294.9 368.3h0.8v0.8h-0.8zM279.9 367.7h0.8v0.8h-0.8zM301.1 370.6h0.8v0.8h-0.8zM276.4 376.5h0.8v0.8h-0.8zM298.3 375.8h0.8v0.8h-0.8zM296.9 374.2h0.8v0.8h-0.8zM283.6 370.6h0.8v0.8h-0.8zM279.0 369.8h0.8v0.8h-0.8zM289.5 372.4h0.8v0.8h-0.8zM286.2 376.4h0.8v0.8h-0.8zM284.5 365.5h0.8v0.8h-0.8zM275.6 366.9h0.8v0.8h-0.8zM262.2 373.6h0.8v0.8h-0.8zM270.7 366.0h0.8v0.8h-0.8zM272.2 377.8h0.8v0.8h-0.8zM281.4 378.5h0.8v0.8h-0.8zM284.0 370.6h0.8v0.8h-0.8zM291.9 376.3h0.8v0.8h-0.8zM286.5 367.3h0.8v0.8h-0.8zM279.6 366.5h0.8v0.8h-0.8zM282.0 373.5h0.8v0.8h-0.8zM302.8 380.8h0.8v0.8h-0.8zM293.2 378.3h0.8v0.8h-0.8zM287.8 388.3h0.8v0.8h-0.8zM303.4 387.6h0.8v0.8h-0.8zM289.6 375.3h0.8v0.8h-0.8zM297.7 374.1h0.8v0.8h-0.8zM288.8 367.6h0.8v0.8h-0.8zM296.3 373.8h0.8v0.8h-0.8zM294.7 371.8h0.8v0.8h-0.8zM263.7 375.8h0.8v0.8h-0.8zM299.0 366.0h0.8v0.8h-0.8zM273.4 371.4h0.8v0.8h-0.8zM282.1 363.7h0.8v0.8h-0.8zM306.1 378.6h0.8v0.8h-0.8zM277.6 363.0h0.8v0.8h-0.8zM289.4 383.9h0.8v0.8h-0.8zM294.9 379.4h0.8v0.8h-0.8zM273.7 374.3h0.8v0.8h-0.8zM267.0 383.9h0.8v0.8h-0.8zM291.8 361.4h0.8v0.8h-0.8zM262.8 375.6h0.8v0.8h-0.8zM286.7 371.3h0.8v0.8h-0.8zM292.4 384.0h0.8v0.8h-0.8zM289.4 363.1h0.8v0.8h-0.8zM283.1 365.8h0.8v0.8h-0.8zM275.3 374.8h0.8v0.8h-0.8zM282.9 367.1h0.8v0.8h-0.8zM284.6 368.5h0.8v0.8h-0.8zM291.3 371.6h0.8v0.8h-0.8zM289.6 371.5h0.8v0.8h-0.8zM293.9 372.2h0.8v0.8h-0.8zM284.8 369.9h0.8v0.8h-0.8zM286.6 363.2h0.8v0.8h-0.8zM316.9 369.2h0.8v0.8h-0.8zM286.1 370.3h0.8v0.8h-0.8zM279.0 375.2h0.8v0.8h-0.8zM278.7 370.6h0.8v0.8h-0.8zM268.3 367.9h0.8v0.8h-0.8zM270.8 382.8h0.8v0.8h-0.8zM268.8 367.0h0.8v0.8h-0.8zM287.2 380.8h0.8v0.8h-0.8zM264.5 364.4h0.8v0.8h-0.8zM286.3 374.8h0.8v0.8h-0.8zM267.8 363.0h0.8v0.8h-0.8zM273.3 377.0h0.8v0.8h-0.8zM284.3 377.0h0.8v0.8h-0.8zM283.5 372.7h0.8v0.8h-0.8zM292.2 372.3h0.8v0.8h-0.8zM287.6 367.9h0.8v0.8h-0.8zM277.6 375.5h0.8v0.8h-0.8zM281.9 368.8h0.8v0.8h-0.8zM292.7 375.9h0.8v0.8h-0.8zM284.7 368.7h0.8v0.8h-0.8zM295.5 386.6h0.8v0.8h-0.8zM274.9 364.4h0.8v0.8h-0.8zM275.4 367.8h0.8v0.8h-0.8zM269.6 366.4h0.8v0.8h-0.8zM294.9 377.6h0.8v0.8h-0.8zM302.5 377.0h0.8v0.8h-0.8zM279.0 378.8h0.8v0.8h-0.8zM277.4 371.0h0.8v0.8h-0.8zM270.6 379.6h0.8v0.8h-0.8zM296.8 370.3h0.8v0.8h-0.8zM281.0 373.1h0.8v0.8h-0.8zM287.1 377.5h0.8v0.8h-0.8zM285.5 375.1h0.8v0.8h-0.8zM266.7 371.2h0.8v0.8h-0.8zM263.2 382.7h0.8v0.8h-0.8zM301.4 376.8h0.8v0.8h-0.8zM298.0 383.9h0.8v0.8h-0.8zM295.9 364.1h0.8v0.8h-0.8zM282.2 359.9h0.8v0.8h-0.8zM274.9 366.0h0.8v0.8h-0.8zM284.5 375.0h0.8v0.8h-0.8zM273.5 371.3h0.8v0.8h-0.8zM288.0 372.0h0.8v0.8h-0.8zM282.5 359.6h0.8v0.8h-0.8zM279.3 377.2h0.8v0.8h-0.8zM287.7 364.7h0.8v0.8h-0.8zM281.3 374.3h0.8v0.8h-0.8zM272.9 376.5h0.8v0.8h-0.8zM275.0 371.0h0.8v0.8h-0.8zM283.3 385.0h0.8v0.8h-0.8zM280.7 369.7h0.8v0.8h-0.8zM293.2 370.2h0.8v0.8h-0.8zM286.9 360.4h0.8v0.8h-0.8zM288.1 372.7h0.8v0.8h-0.8zM269.1 380.3h0.8v0.8h-0.8zM281.7 371.7h0.8v0.8h-0.8zM268.8 363.9h0.8v0.8h-0.8zM277.7 364.4h0.8v0.8h-0.8zM290.4 377.6h0.8v0.8h-0.8zM276.9 363.9h0.8v0.8h-0.8zM279.8 367.0h0.8v0.8h-0.8zM286.5 373.8h0.8v0.8h-0.8zM279.4 373.2h0.8v0.8h-0.8zM297.0 382.2h0.8v0.8h-0.8zM278.3 376.8h0.8v0.8h-0.8zM281.7 367.0h0.8v0.8h-0.8zM299.9 374.9h0.8v0.8h-0.8zM286.2 374.7h0.8v0.8h-0.8zM282.6 367.0h0.8v0.8h-0.8zM305.8 377.7h0.8v0.8h-0.8zM287.7 378.1h0.8v0.8h-0.8zM299.9 371.7h0.8v0.8h-0.8zM291.5 371.0h0.8v0.8h-0.8zM292.2 371.4h0.8v0.8h-0.8zM313.7 370.8h0.8v0.8h-0.8zM290.7 375.3h0.8v0.8h-0.8zM280.5 377.9h0.8v0.8h-0.8zM283.5 370.5h0.8v0.8h-0.8zM284.5 368.6h0.8v0.8h-0.8zM298.9 376.2h0.8v0.8h-0.8zM296.3 365.3h0.8v0.8h-0.8zM287.7 368.5h0.8v0.8h-0.8zM285.5 379.8h0.8v0.8h-0.8zM287.6 371.8h0.8v0.8h-0.8zM297.9 378.3h0.8v0.8h-0.8zM306.7 362.5h0.8v0.8h-0.8zM288.4 370.5h0.8v0.8h-0.8zM274.0 373.4h0.8v0.8h-0.8zM270.6 360.5h0.8v0.8h-0.8zM273.7 371.3h0.8v0.8h-0.8zM306.9 368.8h0.8v0.8h-0.8zM270.5 361.9h0.8v0.8h-0.8zM280.3 371.5h0.8v0.8h-0.8zM286.3 364.8h0.8v0.8h-0.8zM275.4 360.3h0.8v0.8h-0.8zM286.5 364.1h0.8v0.8h-0.8zM251.5 379.2h0.8v0.8h-0.8zM290.6 374.7h0.8v0.8h-0.8zM288.7 367.1h0.8v0.8h-0.8zM297.4 367.0h0.8v0.8h-0.8zM307.4 374.0h0.8v0.8h-0.8zM262.4 377.6h0.8v0.8h-0.8zM308.2 371.4h0.8v0.8h-0.8zM297.3 371.6h0.8v0.8h-0.8zM277.0 358.6h0.8v0.8h-0.8zM299.4 370.3h0.8v0.8h-0.8zM289.1 366.5h0.8v0.8h-0.8zM273.6 378.9h0.8v0.8h-0.8zM279.9 370.6h0.8v0.8h-0.8zM269.4 373.9h0.8v0.8h-0.8zM293.9 370.3h0.8v0.8h-0.8zM282.3 366.1h0.8v0.8h-0.8zM301.4 369.4h0.8v0.8h-0.8zM282.7 382.1h0.8v0.8h-0.8zM281.8 364.2h0.8v0.8h-0.8zM273.4 370.8h0.8v0.8h-0.8zM306.0 374.0h0.8v0.8h-0.8zM281.9 377.4h0.8v0.8h-0.8zM300.3 368.6h0.8v0.8h-0.8zM301.9 377.6h0.8v0.8h-0.8zM290.0 359.8h0.8v0.8h-0.8zM287.0 380.5h0.8v0.8h-0.8zM281.3 385.6h0.8v0.8h-0.8zM285.5 367.2h0.8v0.8h-0.8zM291.8 374.5h0.8v0.8h-0.8zM294.7 371.6h0.8v0.8h-0.8zM300.4 369.8h0.8v0.8h-0.8zM286.3 365.9h0.8v0.8h-0.8zM275.0 374.0h0.8v0.8h-0.8zM276.7 370.4h0.8v0.8h-0.8zM282.2 374.3h0.8v0.8h-0.8zM294.0 377.1h0.8v0.8h-0.8zM297.1 374.0h0.8v0.8h-0.8zM278.1 364.1h0.8v0.8h-0.8zM280.5 368.4h0.8v0.8h-0.8zM262.7 382.0h0.8v0.8h-0.8zM262.4 374.8h0.8v0.8h-0.8zM291.5 371.6h0.8v0.8h-0.8zM316.1 373.0h0.8v0.8h-0.8zM275.4 382.7h0.8v0.8h-0.8zM275.0 364.9h0.8v0.8h-0.8zM272.5 369.3h0.8v0.8h-0.8zM285.3 374.8h0.8v0.8h-0.8zM266.3 374.8h0.8v0.8h-0.8zM311.9 368.9h0.8v0.8h-0.8zM283.1 376.8h0.8v0.8h-0.8zM299.4 369.2h0.8v0.8h-0.8zM273.0 367.3h0.8v0.8h-0.8zM298.1 377.9h0.8v0.8h-0.8zM258.4 360.9h0.8v0.8h-0.8zM269.7 364.5h0.8v0.8h-0.8zM289.7 374.1h0.8v0.8h-0.8zM308.6 377.3h0.8v0.8h-0.8zM286.2 379.5h0.8v0.8h-0.8z" fill="#ee1111" opacity="1.0"/>
<path d="M303.7 367.7h0.7v0.7h-0.7zM312.1 374.8h0.7v0.7h-0.7zM297.0 374.7h0.7v0.7h-0.7zM319.7 370.4h0.7v0.7h-0.7zM313.3 371.1h0.7v0.7h-0.7zM312.5 374.4h0.7v0.7h-0.7zM304.5 375.1h0.7v0.7h-0.7zM319.8 374.7h0.7v0.7h-0.7zM293.8 366.3h0.7v0.7h-0.7zM318.1 370.1h0.7v0.7h-0.7zM305.5 369.6h0.7v0.7h-0.7zM299.5 371.1h0.7v0.7h-0.7zM305.2 369.9h0.7v0.7h-0.7zM316.2 368.3h0.7v0.7h-0.7zM322.1 365.2h0.7v0.7h-0.7zM334.7 367.8h0.7v0.7h-0.7zM317.1 374.7h0.7v0.7h-0.7zM311.8 374.2h0.7v0.7h-0.7zM310.8 366.6h0.7v0.7h-0.7zM315.0 375.4h0.7v0.7h-0.7zM306.7 366.8h0.7v0.7h-0.7zM306.3 372.9h0.7v0.7h-0.7zM314.6 375.3h0.7v0.7h-0.7zM316.9 373.5h0.7v0.7h-0.7zM293.5 378.7h0.7v0.7h-0.7zM312.2 374.6h0.7v0.7h-0.7zM308.6 371.5h0.7v0.7h-0.7zM312.3 376.7h0.7v0.7h-0.7zM325.7 373.8h0.7v0.7h-0.7zM330.0 370.7h0.7v0.7h-0.7zM316.6 370.5h0.7v0.7h-0.7zM323.7 372.1h0.7v0.7h-0.7zM320.8 377.2h0.7v0.7h-0.7zM292.8 378.6h0.7v0.7h-0.7zM314.8 371.0h0.7v0.7h-0.7zM294.3 371.0h0.7v0.7h-0.7zM290.7 372.2h0.7v0.7h-0.7zM310.3 377.5h0.7v0.7h-0.7zM308.9 375.2h0.7v0.7h-0.7zM322.6 378.3h0.7v0.7h-0.7zM309.6 374.3h0.7v0.7h-0.7zM297.9 368.6h0.7v0.7h-0.7zM309.4 371.9h0.7v0.7h-0.7zM300.7 370.7h0.7v0.7h-0.7zM318.4 370.6h0.7v0.7h-0.7zM310.5 369.2h0.7v0.7h-0.7zM324.7 377.4h0.7v0.7h-0.7zM313.8 371.6h0.7v0.7h-0.7zM327.3 373.4h0.7v0.7h-0.7zM305.8 367.8h0.7v0.7h-0.7zM306.5 378.7h0.7v0.7h-0.7zM306.5 380.9h0.7v0.7h-0.7zM311.9 371.3h0.7v0.7h-0.7zM324.2 371.2h0.7v0.7h-0.7zM315.4 368.8h0.7v0.7h-0.7zM300.5 369.7h0.7v0.7h-0.7zM314.0 369.9h0.7v0.7h-0.7zM293.8 373.5h0.7v0.7h-0.7zM310.4 371.1h0.7v0.7h-0.7zM306.3 365.1h0.7v0.7h-0.7zM326.6 370.5h0.7v0.7h-0.7zM316.8 376.3h0.7v0.7h-0.7zM322.4 372.6h0.7v0.7h-0.7zM312.1 372.9h0.7v0.7h-0.7zM320.4 373.8h0.7v0.7h-0.7zM307.9 373.4h0.7v0.7h-0.7zM315.5 374.1h0.7v0.7h-0.7zM313.9 376.2h0.7v0.7h-0.7zM313.8 374.7h0.7v0.7h-0.7zM312.4 370.2h0.7v0.7h-0.7zM303.2 371.5h0.7v0.7h-0.7zM316.9 375.9h0.7v0.7h-0.7zM311.2 370.4h0.7v0.7h-0.7zM307.3 376.0h0.7v0.7h-0.7zM313.0 370.5h0.7v0.7h-0.7zM318.8 367.9h0.7v0.7h-0.7zM313.1 371.9h0.7v0.7h-0.7zM310.8 368.4h0.7v0.7h-0.7zM321.1 377.2h0.7v0.7h-0.7zM299.8 372.4h0.7v0.7h-0.7zM317.9 378.9h0.7v0.7h-0.7zM308.1 369.1h0.7v0.7h-0.7zM312.0 378.2h0.7v0.7h-0.7zM312.6 372.8h0.7v0.7h-0.7zM328.4 365.4h0.7v0.7h-0.7zM292.0 374.8h0.7v0.7h-0.7zM319.1 367.7h0.7v0.7h-0.7zM316.8 372.1h0.7v0.7h-0.7zM314.0 369.5h0.7v0.7h-0.7zM307.8 369.3h0.7v0.7h-0.7zM312.5 371.3h0.7v0.7h-0.7zM327.5 373.9h0.7v0.7h-0.7zM297.5 373.3h0.7v0.7h-0.7zM325.2 372.9h0.7v0.7h-0.7zM322.0 371.9h0.7v0.7h-0.7zM318.5 369.1h0.7v0.7h-0.7zM319.3 367.8h0.7v0.7h-0.7zM323.9 367.3h0.7v0.7h-0.7zM292.5 373.6h0.7v0.7h-0.7zM310.4 372.4h0.7v0.7h-0.7zM315.9 371.9h0.7v0.7h-0.7zM303.8 372.6h0.7v0.7h-0.7zM315.2 373.5h0.7v0.7h-0.7zM330.3 369.7h0.7v0.7h-0.7zM312.6 373.7h0.7v0.7h-0.7zM307.9 368.3h0.7v0.7h-0.7zM306.8 375.3h0.7v0.7h-0.7zM309.5 373.9h0.7v0.7h-0.7zM305.2 373.4h0.7v0.7h-0.7zM305.8 369.4h0.7v0.7h-0.7zM313.0 372.2h0.7v0.7h-0.7zM325.6 367.0h0.7v0.7h-0.7zM316.7 377.0h0.7v0.7h-0.7zM324.6 370.8h0.7v0.7h-0.7zM305.7 370.5h0.7v0.7h-0.7zM314.8 372.6h0.7v0.7h-0.7zM315.2 373.8h0.7v0.7h-0.7zM302.1 368.5h0.7v0.7h-0.7zM300.7 367.9h0.7v0.7h-0.7zM311.1 373.0h0.7v0.7h-0.7zM335.4 373.6h0.7v0.7h-0.7zM312.2 376.4h0.7v0.7h-0.7zM305.2 373.0h0.7v0.7h-0.7zM321.0 374.4h0.7v0.7h-0.7zM315.7 370.9h0.7v0.7h-0.7zM300.5 371.5h0.7v0.7h-0.7zM306.5 374.1h0.7v0.7h-0.7zM310.7 373.7h0.7v0.7h-0.7zM297.1 375.0h0.7v0.7h-0.7zM304.1 367.2h0.7v0.7h-0.7zM299.3 370.1h0.7v0.7h-0.7zM322.4 374.2h0.7v0.7h-0.7zM301.2 372.3h0.7v0.7h-0.7zM311.0 367.2h0.7v0.7h-0.7zM302.9 365.7h0.7v0.7h-0.7zM304.0 363.8h0.7v0.7h-0.7zM304.7 369.1h0.7v0.7h-0.7zM304.6 369.5h0.7v0.7h-0.7zM322.7 370.9h0.7v0.7h-0.7zM314.2 374.3h0.7v0.7h-0.7zM320.3 374.1h0.7v0.7h-0.7zM306.9 368.6h0.7v0.7h-0.7zM304.8 370.5h0.7v0.7h-0.7zM312.0 371.7h0.7v0.7h-0.7zM322.1 371.7h0.7v0.7h-0.7zM328.5 375.2h0.7v0.7h-0.7zM307.6 374.6h0.7v0.7h-0.7zM285.5 376.2h0.7v0.7h-0.7zM315.8 373.2h0.7v0.7h-0.7zM296.5 379.7h0.7v0.7h-0.7zM309.7 371.6h0.7v0.7h-0.7zM322.4 371.4h0.7v0.7h-0.7zM304.2 374.0h0.7v0.7h-0.7zM302.7 374.3h0.7v0.7h-0.7zM313.3 375.5h0.7v0.7h-0.7zM300.8 375.8h0.7v0.7h-0.7zM314.7 378.1h0.7v0.7h-0.7zM306.0 377.7h0.7v0.7h-0.7zM318.5 374.4h0.7v0.7h-0.7zM305.3 373.7h0.7v0.7h-0.7zM318.2 369.5h0.7v0.7h-0.7zM301.3 369.6h0.7v0.7h-0.7zM325.5 372.5h0.7v0.7h-0.7zM320.6 372.9h0.7v0.7h-0.7zM313.1 372.7h0.7v0.7h-0.7zM308.2 375.7h0.7v0.7h-0.7zM313.6 372.7h0.7v0.7h-0.7zM299.3 372.9h0.7v0.7h-0.7zM305.8 370.5h0.7v0.7h-0.7zM321.5 368.6h0.7v0.7h-0.7zM310.2 373.9h0.7v0.7h-0.7zM322.6 370.4h0.7v0.7h-0.7zM314.9 372.9h0.7v0.7h-0.7zM301.6 365.4h0.7v0.7h-0.7zM294.3 373.8h0.7v0.7h-0.7zM312.9 367.9h0.7v0.7h-0.7zM306.1 370.8h0.7v0.7h-0.7zM308.7 371.9h0.7v0.7h-0.7zM332.3 369.6h0.7v0.7h-0.7zM313.3 369.6h0.7v0.7h-0.7zM306.2 369.3h0.7v0.7h-0.7zM309.9 370.3h0.7v0.7h-0.7zM315.2 372.7h0.7v0.7h-0.7zM303.8 377.9h0.7v0.7h-0.7zM301.2 373.1h0.7v0.7h-0.7zM331.9 369.8h0.7v0.7h-0.7zM324.2 376.3h0.7v0.7h-0.7zM315.1 366.3h0.7v0.7h-0.7zM325.1 372.3h0.7v0.7h-0.7zM307.0 375.9h0.7v0.7h-0.7zM305.3 375.3h0.7v0.7h-0.7zM307.0 373.6h0.7v0.7h-0.7zM302.1 370.8h0.7v0.7h-0.7zM303.6 369.8h0.7v0.7h-0.7zM313.7 371.5h0.7v0.7h-0.7zM313.7 375.9h0.7v0.7h-0.7zM310.9 366.3h0.7v0.7h-0.7zM309.3 372.2h0.7v0.7h-0.7zM321.4 375.2h0.7v0.7h-0.7zM320.7 371.3h0.7v0.7h-0.7z" fill="#ee1111" opacity="1.0"/>
<path d="M329.0 359.2h0.7v0.7h-0.7zM331.9 370.7h0.7v0.7h-0.7zM328.3 365.7h0.7v0.7h-0.7zM326.3 363.9h0.7v0.7h-0.7zM328.6 359.9h0.7v0.7h-0.7zM330.5 371.3h0.7v0.7h-0.7zM335.3 367.8h0.7v0.7h-0.7zM325.6 369.2h0.7v0.7h-0.7zM326.2 367.3h0.7v0.7h-0.7zM320.9 361.2h0.7v0.7h-0.7zM323.4 366.2h0.7v0.7h-0.7zM320.5 360.9h0.7v0.7h-0.7zM324.7 372.5h0.7v0.7h-0.7zM325.1 372.2h0.7v0.7h-0.7zM330.5 372.7h0.7v0.7h-0.7zM324.1 365.5h0.7v0.7h-0.7zM317.4 363.8h0.7v0.7h-0.7zM328.1 361.3h0.7v0.7h-0.7zM332.2 376.8h0.7v0.7h-0.7zM324.3 373.6h0.7v0.7h-0.7zM319.5 361.6h0.7v0.7h-0.7zM324.3 368.1h0.7v0.7h-0.7zM325.1 362.7h0.7v0.7h-0.7zM335.0 369.8h0.7v0.7h-0.7zM327.3 372.2h0.7v0.7h-0.7zM326.8 366.6h0.7v0.7h-0.7zM323.4 358.0h0.7v0.7h-0.7zM332.9 362.4h0.7v0.7h-0.7zM318.4 363.1h0.7v0.7h-0.7zM318.6 380.2h0.7v0.7h-0.7zM327.7 376.6h0.7v0.7h-0.7zM332.7 371.5h0.7v0.7h-0.7zM328.6 363.6h0.7v0.7h-0.7zM325.6 364.3h0.7v0.7h-0.7zM326.2 363.7h0.7v0.7h-0.7zM331.8 372.7h0.7v0.7h-0.7zM325.5 357.8h0.7v0.7h-0.7zM329.1 373.4h0.7v0.7h-0.7zM325.7 360.3h0.7v0.7h-0.7zM328.0 374.4h0.7v0.7h-0.7zM317.2 371.5h0.7v0.7h-0.7zM317.7 368.5h0.7v0.7h-0.7zM334.0 368.6h0.7v0.7h-0.7zM328.2 366.0h0.7v0.7h-0.7zM326.0 382.4h0.7v0.7h-0.7zM332.1 366.1h0.7v0.7h-0.7zM324.3 368.1h0.7v0.7h-0.7zM336.1 369.3h0.7v0.7h-0.7zM331.1 365.8h0.7v0.7h-0.7zM320.2 376.1h0.7v0.7h-0.7zM325.6 363.2h0.7v0.7h-0.7zM322.8 363.9h0.7v0.7h-0.7zM323.2 358.6h0.7v0.7h-0.7zM331.5 370.3h0.7v0.7h-0.7zM330.5 365.9h0.7v0.7h-0.7zM327.6 369.0h0.7v0.7h-0.7zM331.4 373.0h0.7v0.7h-0.7zM327.6 364.0h0.7v0.7h-0.7zM320.5 363.1h0.7v0.7h-0.7zM323.1 364.7h0.7v0.7h-0.7zM320.3 378.1h0.7v0.7h-0.7zM327.2 355.7h0.7v0.7h-0.7zM321.0 359.8h0.7v0.7h-0.7zM327.1 374.5h0.7v0.7h-0.7zM321.5 371.8h0.7v0.7h-0.7zM324.7 375.0h0.7v0.7h-0.7zM332.2 369.9h0.7v0.7h-0.7zM329.3 368.0h0.7v0.7h-0.7zM324.3 360.9h0.7v0.7h-0.7zM327.5 367.6h0.7v0.7h-0.7zM324.2 367.5h0.7v0.7h-0.7zM325.2 361.7h0.7v0.7h-0.7zM323.6 375.0h0.7v0.7h-0.7zM324.9 376.5h0.7v0.7h-0.7zM320.7 359.8h0.7v0.7h-0.7zM326.6 372.7h0.7v0.7h-0.7zM323.0 371.8h0.7v0.7h-0.7zM330.3 374.5h0.7v0.7h-0.7zM325.5 367.7h0.7v0.7h-0.7zM318.5 368.1h0.7v0.7h-0.7zM327.3 376.6h0.7v0.7h-0.7zM320.2 362.9h0.7v0.7h-0.7zM321.4 373.5h0.7v0.7h-0.7zM314.5 361.4h0.7v0.7h-0.7zM335.4 372.0h0.7v0.7h-0.7zM319.9 367.6h0.7v0.7h-0.7zM329.9 371.3h0.7v0.7h-0.7zM325.0 363.2h0.7v0.7h-0.7zM329.8 368.0h0.7v0.7h-0.7zM329.7 370.4h0.7v0.7h-0.7zM323.9 376.7h0.7v0.7h-0.7zM323.7 370.6h0.7v0.7h-0.7zM323.1 366.6h0.7v0.7h-0.7zM324.9 364.0h0.7v0.7h-0.7zM327.1 375.9h0.7v0.7h-0.7zM334.5 376.7h0.7v0.7h-0.7zM325.2 376.8h0.7v0.7h-0.7zM327.9 378.9h0.7v0.7h-0.7zM320.3 377.0h0.7v0.7h-0.7zM323.3 375.0h0.7v0.7h-0.7zM323.9 373.5h0.7v0.7h-0.7zM324.7 356.6h0.7v0.7h-0.7zM321.6 366.5h0.7v0.7h-0.7zM326.1 354.5h0.7v0.7h-0.7zM320.6 363.6h0.7v0.7h-0.7zM325.0 369.3h0.7v0.7h-0.7zM322.3 358.8h0.7v0.7h-0.7zM327.4 366.0h0.7v0.7h-0.7zM330.0 364.8h0.7v0.7h-0.7zM328.9 362.6h0.7v0.7h-0.7zM327.2 368.5h0.7v0.7h-0.7zM328.0 362.4h0.7v0.7h-0.7zM325.4 362.9h0.7v0.7h-0.7zM325.3 371.8h0.7v0.7h-0.7zM339.5 368.2h0.7v0.7h-0.7zM329.2 368.7h0.7v0.7h-0.7zM331.1 370.8h0.7v0.7h-0.7zM330.7 370.2h0.7v0.7h-0.7zM336.9 376.3h0.7v0.7h-0.7zM318.3 369.8h0.7v0.7h-0.7zM326.4 354.7h0.7v0.7h-0.7zM322.1 365.2h0.7v0.7h-0.7zM322.7 368.8h0.7v0.7h-0.7zM317.9 372.5h0.7v0.7h-0.7zM329.5 370.1h0.7v0.7h-0.7zM324.5 368.1h0.7v0.7h-0.7zM323.9 374.9h0.7v0.7h-0.7zM328.3 380.0h0.7v0.7h-0.7zM324.4 376.8h0.7v0.7h-0.7zM323.4 367.0h0.7v0.7h-0.7zM321.3 371.2h0.7v0.7h-0.7zM325.8 371.8h0.7v0.7h-0.7zM332.8 367.7h0.7v0.7h-0.7zM327.7 373.5h0.7v0.7h-0.7zM325.8 364.7h0.7v0.7h-0.7zM327.6 371.1h0.7v0.7h-0.7zM329.6 373.1h0.7v0.7h-0.7zM323.0 370.7h0.7v0.7h-0.7zM331.6 365.2h0.7v0.7h-0.7zM327.7 364.3h0.7v0.7h-0.7zM326.8 378.5h0.7v0.7h-0.7zM326.8 362.2h0.7v0.7h-0.7zM327.6 369.3h0.7v0.7h-0.7zM331.1 359.8h0.7v0.7h-0.7zM321.9 367.6h0.7v0.7h-0.7zM319.0 374.9h0.7v0.7h-0.7zM316.9 363.0h0.7v0.7h-0.7zM319.4 364.1h0.7v0.7h-0.7zM329.6 371.7h0.7v0.7h-0.7zM330.2 371.7h0.7v0.7h-0.7zM316.9 369.9h0.7v0.7h-0.7zM317.7 365.0h0.7v0.7h-0.7zM324.3 364.8h0.7v0.7h-0.7zM328.3 363.2h0.7v0.7h-0.7zM333.8 371.6h0.7v0.7h-0.7zM331.4 372.6h0.7v0.7h-0.7zM330.1 367.8h0.7v0.7h-0.7zM334.9 361.7h0.7v0.7h-0.7zM328.1 368.1h0.7v0.7h-0.7zM325.0 370.0h0.7v0.7h-0.7zM322.7 373.3h0.7v0.7h-0.7zM329.6 368.6h0.7v0.7h-0.7zM329.4 361.8h0.7v0.7h-0.7zM317.9 364.6h0.7v0.7h-0.7zM325.0 383.0h0.7v0.7h-0.7zM325.0 374.3h0.7v0.7h-0.7zM329.9 380.7h0.7v0.7h-0.7zM326.6 372.0h0.7v0.7h-0.7zM325.2 362.9h0.7v0.7h-0.7zM321.5 363.3h0.7v0.7h-0.7zM332.5 369.8h0.7v0.7h-0.7zM325.3 368.2h0.7v0.7h-0.7zM323.5 367.9h0.7v0.7h-0.7zM325.9 372.0h0.7v0.7h-0.7zM330.1 358.2h0.7v0.7h-0.7zM327.1 376.3h0.7v0.7h-0.7zM321.4 366.6h0.7v0.7h-0.7zM326.8 374.7h0.7v0.7h-0.7zM328.7 366.7h0.7v0.7h-0.7zM328.3 374.3h0.7v0.7h-0.7zM327.8 379.2h0.7v0.7h-0.7zM328.0 361.8h0.7v0.7h-0.7zM322.5 367.3h0.7v0.7h-0.7zM325.1 371.8h0.7v0.7h-0.7zM327.6 378.4h0.7v0.7h-0.7zM329.7 377.0h0.7v0.7h-0.7zM322.6 365.5h0.7v0.7h-0.7zM329.1 368.6h0.7v0.7h-0.7zM328.9 369.6h0.7v0.7h-0.7zM323.3 378.3h0.7v0.7h-0.7zM331.2 358.7h0.7v0.7h-0.7zM323.3 368.2h0.7v0.7h-0.7zM329.1 367.7h0.7v0.7h-0.7zM319.9 373.1h0.7v0.7h-0.7zM325.1 375.3h0.7v0.7h-0.7zM327.4 374.1h0.7v0.7h-0.7zM329.8 373.4h0.7v0.7h-0.7zM323.8 374.3h0.7v0.7h-0.7zM327.0 360.6h0.7v0.7h-0.7zM324.3 366.1h0.7v0.7h-0.7zM328.2 372.2h0.7v0.7h-0.7zM321.1 372.5h0.7v0.7h-0.7zM325.8 361.8h0.7v0.7h-0.7zM329.8 363.6h0.7v0.7h-0.7zM320.7 372.7h0.7v0.7h-0.7zM330.1 364.2h0.7v0.7h-0.7zM330.9 374.1h0.7v0.7h-0.7zM323.8 380.1h0.7v0.7h-0.7zM325.8 369.5h0.7v0.7h-0.7zM315.4 372.0h0.7v0.7h-0.7zM323.3 370.8h0.7v0.7h-0.7zM318.4 375.1h0.7v0.7h-0.7zM332.7 379.5h0.7v0.7h-0.7zM312.9 371.7h0.7v0.7h-0.7zM327.7 350.1h0.7v0.7h-0.7zM322.8 367.7h0.7v0.7h-0.7zM332.5 363.2h0.7v0.7h-0.7zM327.1 367.9h0.7v0.7h-0.7zM327.8 365.8h0.7v0.7h-0.7zM330.2 374.0h0.7v0.7h-0.7zM320.0 374.9h0.7v0.7h-0.7zM322.8 366.6h0.7v0.7h-0.7zM331.2 368.8h0.7v0.7h-0.7zM328.8 373.0h0.7v0.7h-0.7zM328.9 365.0h0.7v0.7h-0.7zM321.9 372.3h0.7v0.7h-0.7zM329.6 370.4h0.7v0.7h-0.7zM325.4 373.4h0.7v0.7h-0.7zM326.1 360.1h0.7v0.7h-0.7zM327.5 371.3h0.7v0.7h-0.7zM329.7 362.9h0.7v0.7h-0.7zM322.9 370.3h0.7v0.7h-0.7zM324.2 367.9h0.7v0.7h-0.7zM330.4 370.7h0.7v0.7h-0.7zM334.4 370.1h0.7v0.7h-0.7zM333.9 374.7h0.7v0.7h-0.7zM337.7 368.5h0.7v0.7h-0.7zM325.9 376.2h0.7v0.7h-0.7zM324.0 365.6h0.7v0.7h-0.7zM327.4 370.7h0.7v0.7h-0.7zM320.0 370.0h0.7v0.7h-0.7zM324.9 368.3h0.7v0.7h-0.7zM327.1 367.3h0.7v0.7h-0.7zM331.2 371.4h0.7v0.7h-0.7zM325.5 369.0h0.7v0.7h-0.7zM331.0 373.2h0.7v0.7h-0.7zM332.1 367.7h0.7v0.7h-0.7zM327.0 380.6h0.7v0.7h-0.7zM326.3 378.6h0.7v0.7h-0.7zM330.2 366.0h0.7v0.7h-0.7zM320.2 372.4h0.7v0.7h-0.7zM323.3 364.4h0.7v0.7h-0.7zM318.7 375.7h0.7v0.7h-0.7zM326.9 368.8h0.7v0.7h-0.7zM328.2 370.1h0.7v0.7h-0.7zM326.9 371.7h0.7v0.7h-0.7zM325.2 353.2h0.7v0.7h-0.7zM329.8 371.2h0.7v0.7h-0.7zM326.6 378.1h0.7v0.7h-0.7zM320.2 351.4h0.7v0.7h-0.7zM333.1 371.1h0.7v0.7h-0.7zM319.1 366.2h0.7v0.7h-0.7zM329.2 361.4h0.7v0.7h-0.7zM329.0 381.2h0.7v0.7h-0.7zM332.7 368.4h0.7v0.7h-0.7zM327.9 363.0h0.7v0.7h-0.7zM327.1 366.6h0.7v0.7h-0.7zM322.0 360.6h0.7v0.7h-0.7zM335.1 369.1h0.7v0.7h-0.7zM321.9 366.1h0.7v0.7h-0.7zM333.1 378.3h0.7v0.7h-0.7zM323.7 369.8h0.7v0.7h-0.7zM330.4 366.6h0.7v0.7h-0.7zM321.2 362.8h0.7v0.7h-0.7zM326.5 364.0h0.7v0.7h-0.7zM320.7 367.2h0.7v0.7h-0.7zM330.6 372.7h0.7v0.7h-0.7zM325.4 380.0h0.7v0.7h-0.7zM323.0 368.2h0.7v0.7h-0.7zM320.4 373.2h0.7v0.7h-0.7zM325.9 358.6h0.7v0.7h-0.7zM322.8 379.3h0.7v0.7h-0.7zM329.7 369.3h0.7v0.7h-0.7zM330.3 359.1h0.7v0.7h-0.7zM322.8 360.7h0.7v0.7h-0.7zM322.7 366.3h0.7v0.7h-0.7zM328.8 374.6h0.7v0.7h-0.7zM330.8 384.6h0.7v0.7h-0.7zM324.2 368.5h0.7v0.7h-0.7zM328.7 363.6h0.7v0.7h-0.7zM325.1 371.0h0.7v0.7h-0.7zM322.5 371.4h0.7v0.7h-0.7zM331.9 361.9h0.7v0.7h-0.7zM316.2 369.1h0.7v0.7h-0.7zM321.8 369.6h0.7v0.7h-0.7zM324.4 370.4h0.7v0.7h-0.7zM331.5 373.4h0.7v0.7h-0.7zM324.8 361.6h0.7v0.7h-0.7zM315.3 355.6h0.7v0.7h-0.7zM322.8 369.1h0.7v0.7h-0.7z" fill="#ee1111" opacity="1.0"/>
<path d="M325.3 335.5h0.6v0.6h-0.6zM317.9 332.3h0.6v0.6h-0.6zM316.9 339.1h0.6v0.6h-0.6zM314.8 339.2h0.6v0.6h-0.6zM323.3 338.8h0.6v0.6h-0.6zM332.3 339.4h0.6v0.6h-0.6zM339.8 334.8h0.6v0.6h-0.6zM322.6 335.8h0.6v0.6h-0.6zM324.1 339.1h0.6v0.6h-0.6zM329.3 337.1h0.6v0.6h-0.6zM333.5 335.6h0.6v0.6h-0.6zM338.9 331.6h0.6v0.6h-0.6zM332.0 338.5h0.6v0.6h-0.6zM324.0 335.0h0.6v0.6h-0.6zM337.3 336.1h0.6v0.6h-0.6zM314.8 333.0h0.6v0.6h-0.6zM338.1 334.4h0.6v0.6h-0.6zM340.5 341.1h0.6v0.6h-0.6zM328.4 338.6h0.6v0.6h-0.6zM323.4 335.8h0.6v0.6h-0.6zM324.4 338.8h0.6v0.6h-0.6zM319.8 336.6h0.6v0.6h-0.6zM330.4 338.5h0.6v0.6h-0.6zM313.1 331.7h0.6v0.6h-0.6zM323.0 336.3h0.6v0.6h-0.6zM331.1 337.6h0.6v0.6h-0.6zM346.0 338.9h0.6v0.6h-0.6zM334.6 335.5h0.6v0.6h-0.6zM336.2 339.0h0.6v0.6h-0.6zM335.3 336.6h0.6v0.6h-0.6zM334.9 341.5h0.6v0.6h-0.6zM323.6 330.5h0.6v0.6h-0.6zM336.4 339.2h0.6v0.6h-0.6zM328.1 335.6h0.6v0.6h-0.6zM351.8 335.6h0.6v0.6h-0.6zM320.2 335.5h0.6v0.6h-0.6zM333.9 335.1h0.6v0.6h-0.6zM326.8 337.9h0.6v0.6h-0.6zM326.5 337.3h0.6v0.6h-0.6zM329.5 333.8h0.6v0.6h-0.6zM330.4 333.5h0.6v0.6h-0.6zM337.3 334.2h0.6v0.6h-0.6zM328.0 331.5h0.6v0.6h-0.6zM326.3 333.2h0.6v0.6h-0.6zM341.7 336.6h0.6v0.6h-0.6zM334.0 331.7h0.6v0.6h-0.6zM320.0 336.4h0.6v0.6h-0.6zM319.1 340.3h0.6v0.6h-0.6zM326.6 337.4h0.6v0.6h-0.6zM332.2 336.5h0.6v0.6h-0.6zM336.0 334.9h0.6v0.6h-0.6zM332.7 340.5h0.6v0.6h-0.6zM331.5 337.3h0.6v0.6h-0.6zM327.2 337.1h0.6v0.6h-0.6zM335.2 336.2h0.6v0.6h-0.6zM316.5 337.4h0.6v0.6h-0.6zM328.6 338.3h0.6v0.6h-0.6zM330.1 341.6h0.6v0.6h-0.6zM320.3 334.1h0.6v0.6h-0.6zM335.0 333.9h0.6v0.6h-0.6zM332.4 336.9h0.6v0.6h-0.6zM314.3 338.9h0.6v0.6h-0.6zM340.6 337.5h0.6v0.6h-0.6zM318.8 339.2h0.6v0.6h-0.6zM321.6 336.6h0.6v0.6h-0.6zM333.0 334.6h0.6v0.6h-0.6zM316.5 336.5h0.6v0.6h-0.6zM329.4 334.4h0.6v0.6h-0.6zM323.6 339.1h0.6v0.6h-0.6zM329.1 335.5h0.6v0.6h-0.6zM325.1 337.4h0.6v0.6h-0.6zM330.5 336.4h0.6v0.6h-0.6zM318.9 335.8h0.6v0.6h-0.6zM324.8 337.1h0.6v0.6h-0.6zM338.8 339.7h0.6v0.6h-0.6zM334.8 337.2h0.6v0.6h-0.6zM327.2 337.9h0.6v0.6h-0.6zM326.0 335.9h0.6v0.6h-0.6zM323.2 336.7h0.6v0.6h-0.6zM329.1 342.3h0.6v0.6h-0.6z" fill="#ee1111" opacity="1.0"/>
<path d="M326.7 360.6h0.6v0.6h-0.6zM315.9 358.3h0.6v0.6h-0.6zM310.2 360.9h0.6v0.6h-0.6zM310.0 355.8h0.6v0.6h-0.6zM318.3 363.2h0.6v0.6h-0.6zM312.8 365.3h0.6v0.6h-0.6zM313.7 370.0h0.6v0.6h-0.6zM307.5 361.9h0.6v0.6h-0.6zM313.6 358.9h0.6v0.6h-0.6zM306.5 356.1h0.6v0.6h-0.6zM308.7 364.2h0.6v0.6h-0.6zM326.3 366.9h0.6v0.6h-0.6zM330.4 357.2h0.6v0.6h-0.6zM322.2 370.9h0.6v0.6h-0.6zM318.0 360.5h0.6v0.6h-0.6zM322.7 348.7h0.6v0.6h-0.6zM328.5 358.0h0.6v0.6h-0.6zM325.7 351.2h0.6v0.6h-0.6zM317.8 361.7h0.6v0.6h-0.6zM326.2 362.3h0.6v0.6h-0.6zM321.7 370.2h0.6v0.6h-0.6zM311.1 358.8h0.6v0.6h-0.6zM329.4 359.0h0.6v0.6h-0.6zM320.8 360.1h0.6v0.6h-0.6zM332.2 364.3h0.6v0.6h-0.6zM326.2 348.8h0.6v0.6h-0.6zM314.8 365.9h0.6v0.6h-0.6zM308.0 366.7h0.6v0.6h-0.6zM330.6 366.3h0.6v0.6h-0.6zM324.7 354.6h0.6v0.6h-0.6zM306.6 370.5h0.6v0.6h-0.6zM315.7 369.6h0.6v0.6h-0.6zM323.0 370.4h0.6v0.6h-0.6zM303.8 367.2h0.6v0.6h-0.6zM325.2 361.5h0.6v0.6h-0.6zM307.9 352.9h0.6v0.6h-0.6zM330.9 357.4h0.6v0.6h-0.6zM325.6 371.4h0.6v0.6h-0.6zM309.8 349.6h0.6v0.6h-0.6zM304.1 358.4h0.6v0.6h-0.6zM327.7 367.2h0.6v0.6h-0.6zM320.7 348.1h0.6v0.6h-0.6zM310.4 351.6h0.6v0.6h-0.6zM307.7 351.2h0.6v0.6h-0.6zM304.0 360.1h0.6v0.6h-0.6zM313.2 356.5h0.6v0.6h-0.6zM311.3 367.0h0.6v0.6h-0.6zM311.7 351.8h0.6v0.6h-0.6zM311.5 354.0h0.6v0.6h-0.6zM313.4 357.1h0.6v0.6h-0.6zM309.8 363.1h0.6v0.6h-0.6zM307.7 369.8h0.6v0.6h-0.6zM329.5 359.8h0.6v0.6h-0.6zM324.9 353.1h0.6v0.6h-0.6zM311.7 369.8h0.6v0.6h-0.6zM317.2 365.8h0.6v0.6h-0.6zM327.4 364.8h0.6v0.6h-0.6zM316.6 357.1h0.6v0.6h-0.6zM304.8 368.8h0.6v0.6h-0.6zM323.8 349.5h0.6v0.6h-0.6zM328.0 354.8h0.6v0.6h-0.6zM328.5 351.6h0.6v0.6h-0.6zM303.7 368.6h0.6v0.6h-0.6zM329.7 359.8h0.6v0.6h-0.6zM330.4 350.1h0.6v0.6h-0.6zM307.5 371.3h0.6v0.6h-0.6zM331.2 364.7h0.6v0.6h-0.6zM313.0 365.1h0.6v0.6h-0.6zM303.0 356.5h0.6v0.6h-0.6zM328.6 353.5h0.6v0.6h-0.6zM306.9 359.8h0.6v0.6h-0.6zM323.2 355.5h0.6v0.6h-0.6zM327.5 369.8h0.6v0.6h-0.6zM309.5 357.2h0.6v0.6h-0.6zM328.1 360.1h0.6v0.6h-0.6zM325.4 355.5h0.6v0.6h-0.6zM327.5 368.0h0.6v0.6h-0.6zM326.3 369.1h0.6v0.6h-0.6zM314.7 360.4h0.6v0.6h-0.6zM327.2 365.3h0.6v0.6h-0.6zM319.1 348.8h0.6v0.6h-0.6zM309.5 358.9h0.6v0.6h-0.6zM325.6 369.7h0.6v0.6h-0.6zM332.6 357.2h0.6v0.6h-0.6zM332.0 357.2h0.6v0.6h-0.6zM308.5 370.3h0.6v0.6h-0.6zM306.2 359.4h0.6v0.6h-0.6zM326.3 363.0h0.6v0.6h-0.6zM328.5 360.7h0.6v0.6h-0.6zM316.4 356.1h0.6v0.6h-0.6zM321.7 361.5h0.6v0.6h-0.6zM318.3 364.3h0.6v0.6h-0.6zM318.2 364.7h0.6v0.6h-0.6zM318.0 366.6h0.6v0.6h-0.6zM309.1 356.6h0.6v0.6h-0.6zM312.2 369.1h0.6v0.6h-0.6zM320.4 370.6h0.6v0.6h-0.6zM319.7 370.5h0.6v0.6h-0.6zM325.2 369.5h0.6v0.6h-0.6zM312.0 371.9h0.6v0.6h-0.6zM312.0 366.0h0.6v0.6h-0.6zM321.6 356.5h0.6v0.6h-0.6zM306.1 349.1h0.6v0.6h-0.6zM303.3 361.2h0.6v0.6h-0.6zM319.8 350.6h0.6v0.6h-0.6zM304.1 348.5h0.6v0.6h-0.6zM320.4 366.1h0.6v0.6h-0.6zM330.0 359.3h0.6v0.6h-0.6zM325.3 353.7h0.6v0.6h-0.6zM304.5 361.8h0.6v0.6h-0.6zM312.8 357.6h0.6v0.6h-0.6zM306.4 364.6h0.6v0.6h-0.6zM329.5 365.8h0.6v0.6h-0.6zM307.1 354.5h0.6v0.6h-0.6zM308.9 371.8h0.6v0.6h-0.6zM314.7 351.5h0.6v0.6h-0.6zM327.4 353.1h0.6v0.6h-0.6zM305.4 356.9h0.6v0.6h-0.6zM304.1 359.0h0.6v0.6h-0.6zM316.1 355.5h0.6v0.6h-0.6z" fill="#ee1111" opacity="1.0"/>
<path d="M287.3 386.7h0.7v0.7h-0.7zM278.7 383.6h0.7v0.7h-0.7zM290.5 384.5h0.7v0.7h-0.7zM275.4 387.7h0.7v0.7h-0.7zM273.4 384.4h0.7v0.7h-0.7zM276.7 386.9h0.7v0.7h-0.7zM291.6 387.5h0.7v0.7h-0.7zM275.8 386.9h0.7v0.7h-0.7zM291.7 382.7h0.7v0.7h-0.7zM275.0 387.0h0.7v0.7h-0.7zM282.4 383.0h0.7v0.7h-0.7zM270.2 383.7h0.7v0.7h-0.7zM290.9 382.8h0.7v0.7h-0.7zM271.3 387.1h0.7v0.7h-0.7zM275.5 386.1h0.7v0.7h-0.7zM298.3 386.5h0.7v0.7h-0.7zM290.1 384.7h0.7v0.7h-0.7zM293.2 384.2h0.7v0.7h-0.7zM295.5 386.2h0.7v0.7h-0.7zM269.6 382.0h0.7v0.7h-0.7zM291.6 384.9h0.7v0.7h-0.7zM289.3 386.0h0.7v0.7h-0.7zM283.7 382.8h0.7v0.7h-0.7zM288.2 383.7h0.7v0.7h-0.7zM285.0 382.2h0.7v0.7h-0.7zM303.4 383.1h0.7v0.7h-0.7zM304.7 386.8h0.7v0.7h-0.7zM280.4 385.4h0.7v0.7h-0.7zM273.8 382.1h0.7v0.7h-0.7zM284.8 382.4h0.7v0.7h-0.7zM272.1 382.4h0.7v0.7h-0.7zM287.1 386.0h0.7v0.7h-0.7zM303.4 383.5h0.7v0.7h-0.7zM298.5 385.5h0.7v0.7h-0.7zM265.5 384.2h0.7v0.7h-0.7zM304.2 386.4h0.7v0.7h-0.7zM291.8 386.2h0.7v0.7h-0.7zM303.3 385.2h0.7v0.7h-0.7zM270.4 382.3h0.7v0.7h-0.7zM287.7 383.1h0.7v0.7h-0.7zM302.4 387.9h0.7v0.7h-0.7zM287.6 385.7h0.7v0.7h-0.7zM270.2 386.9h0.7v0.7h-0.7zM282.0 386.5h0.7v0.7h-0.7zM282.1 386.8h0.7v0.7h-0.7zM269.9 387.8h0.7v0.7h-0.7zM292.4 384.1h0.7v0.7h-0.7zM281.4 383.3h0.7v0.7h-0.7zM285.4 387.4h0.7v0.7h-0.7zM284.1 384.0h0.7v0.7h-0.7zM283.5 384.5h0.7v0.7h-0.7zM281.9 385.1h0.7v0.7h-0.7zM293.8 386.3h0.7v0.7h-0.7zM266.1 387.6h0.7v0.7h-0.7zM279.1 384.6h0.7v0.7h-0.7zM285.7 387.4h0.7v0.7h-0.7zM266.6 387.1h0.7v0.7h-0.7zM292.1 385.2h0.7v0.7h-0.7zM281.1 385.2h0.7v0.7h-0.7zM293.0 384.7h0.7v0.7h-0.7zM302.0 385.4h0.7v0.7h-0.7zM283.3 387.4h0.7v0.7h-0.7zM266.1 387.4h0.7v0.7h-0.7zM284.5 382.8h0.7v0.7h-0.7zM292.8 383.5h0.7v0.7h-0.7zM284.2 385.2h0.7v0.7h-0.7zM303.8 386.1h0.7v0.7h-0.7zM283.1 385.9h0.7v0.7h-0.7zM291.2 382.9h0.7v0.7h-0.7zM280.3 383.1h0.7v0.7h-0.7zM269.7 384.0h0.7v0.7h-0.7zM266.5 383.1h0.7v0.7h-0.7zM272.4 385.3h0.7v0.7h-0.7zM282.1 382.7h0.7v0.7h-0.7zM304.8 386.5h0.7v0.7h-0.7zM292.4 385.9h0.7v0.7h-0.7zM294.2 383.2h0.7v0.7h-0.7zM294.2 384.2h0.7v0.7h-0.7zM273.1 383.8h0.7v0.7h-0.7zM298.2 384.5h0.7v0.7h-0.7zM300.1 388.0h0.7v0.7h-0.7zM302.6 384.9h0.7v0.7h-0.7zM287.6 385.6h0.7v0.7h-0.7zM268.7 386.6h0.7v0.7h-0.7zM297.2 383.2h0.7v0.7h-0.7zM278.6 385.8h0.7v0.7h-0.7zM303.2 384.2h0.7v0.7h-0.7zM300.2 382.4h0.7v0.7h-0.7zM287.0 383.8h0.7v0.7h-0.7zM299.5 383.1h0.7v0.7h-0.7zM268.8 384.3h0.7v0.7h-0.7zM295.3 386.4h0.7v0.7h-0.7zM278.7 386.4h0.7v0.7h-0.7zM271.0 384.7h0.7v0.7h-0.7zM300.1 383.0h0.7v0.7h-0.7zM274.7 384.2h0.7v0.7h-0.7zM273.6 385.2h0.7v0.7h-0.7zM281.9 385.6h0.7v0.7h-0.7zM265.8 386.9h0.7v0.7h-0.7zM280.9 382.4h0.7v0.7h-0.7zM289.8 383.1h0.7v0.7h-0.7zM273.6 386.5h0.7v0.7h-0.7zM267.9 387.7h0.7v0.7h-0.7zM274.9 385.6h0.7v0.7h-0.7zM269.8 388.0h0.7v0.7h-0.7zM303.2 385.9h0.7v0.7h-0.7zM275.7 384.2h0.7v0.7h-0.7zM288.3 383.7h0.7v0.7h-0.7zM288.5 387.4h0.7v0.7h-0.7zM270.9 383.6h0.7v0.7h-0.7zM303.5 387.2h0.7v0.7h-0.7zM266.4 382.6h0.7v0.7h-0.7zM290.9 387.0h0.7v0.7h-0.7zM304.1 382.8h0.7v0.7h-0.7zM284.0 385.1h0.7v0.7h-0.7zM299.1 384.9h0.7v0.7h-0.7zM266.6 382.5h0.7v0.7h-0.7zM285.0 382.8h0.7v0.7h-0.7zM285.5 385.5h0.7v0.7h-0.7zM285.3 385.5h0.7v0.7h-0.7zM265.6 386.2h0.7v0.7h-0.7zM266.5 385.0h0.7v0.7h-0.7zM271.1 384.4h0.7v0.7h-0.7zM297.3 387.0h0.7v0.7h-0.7zM300.4 386.2h0.7v0.7h-0.7zM286.4 386.8h0.7v0.7h-0.7zM267.8 382.2h0.7v0.7h-0.7zM300.3 386.3h0.7v0.7h-0.7zM282.2 383.5h0.7v0.7h-0.7zM303.9 383.3h0.7v0.7h-0.7zM275.1 387.7h0.7v0.7h-0.7zM295.4 387.1h0.7v0.7h-0.7zM302.5 387.7h0.7v0.7h-0.7zM280.7 383.5h0.7v0.7h-0.7zM287.5 384.3h0.7v0.7h-0.7zM278.5 385.5h0.7v0.7h-0.7zM300.8 385.3h0.7v0.7h-0.7zM278.6 383.1h0.7v0.7h-0.7zM298.3 385.8h0.7v0.7h-0.7zM273.7 386.9h0.7v0.7h-0.7zM268.2 382.5h0.7v0.7h-0.7zM276.7 386.7h0.7v0.7h-0.7zM286.0 386.1h0.7v0.7h-0.7zM301.3 387.9h0.7v0.7h-0.7zM298.6 384.6h0.7v0.7h-0.7zM286.8 382.0h0.7v0.7h-0.7zM268.1 384.6h0.7v0.7h-0.7zM278.1 385.1h0.7v0.7h-0.7zM265.2 387.7h0.7v0.7h-0.7zM284.3 383.0h0.7v0.7h-0.7z" fill="#ee1111" opacity="1.0"/>
<rect x="267.5" y="345.90000000000003" width="21.5" height="6.4" fill="#fff" opacity="0.92"/>
<rect x="267.5" y="352.90000000000003" width="11.9" height="6.4" fill="#fff" opacity="0.92"/>
<rect x="334.90000000000003" y="323.0" width="15.0" height="6.4" fill="#fff" opacity="0.92"/>
<rect x="341.3" y="330.3" width="8.3" height="6.4" fill="#fff" opacity="0.92"/>
<rect x="300.8" y="383.6" width="32.3" height="6.4" fill="#fff" opacity="0.92"/>
<rect x="336.90000000000003" y="383.6" width="11.8" height="6.4" fill="#fff" opacity="0.92"/>
</g>
<rect x="265.2" y="323.0" width="84.30000000000001" height="66.19999999999999" fill="none" stroke="#222" stroke-width="0.8"/>
<line x1="300.1" y1="323.0" x2="300.1" y2="389.2" stroke="#222" stroke-width="0.8"/>
<line x1="265.2" y1="345.4" x2="349.5" y2="345.4" stroke="#222" stroke-width="0.8"/>
<path d="M267.28 389.2v3.2M269.36 389.2v3.2M271.05 389.2v3.2M272.49 389.2v3.2M273.73 389.2v3.2M274.82 389.2v3.2M275.80 389.2v4.6M282.24 389.2v3.2M286.01 389.2v3.2M288.68 389.2v3.2M290.76 389.2v3.2M292.45 389.2v3.2M293.89 389.2v3.2M295.13 389.2v3.2M296.22 389.2v3.2M297.20 389.2v4.6M303.64 389.2v3.2M307.41 389.2v3.2M310.08 389.2v3.2M312.16 389.2v3.2M313.85 389.2v3.2M315.29 389.2v3.2M316.53 389.2v3.2M317.62 389.2v3.2M318.60 389.2v4.6M325.04 389.2v3.2M328.81 389.2v3.2M331.48 389.2v3.2M333.56 389.2v3.2M335.25 389.2v3.2M336.69 389.2v3.2M337.93 389.2v3.2M339.02 389.2v3.2M340.00 389.2v4.6M346.44 389.2v3.2" fill="none" stroke="#111" stroke-width="0.9"/>
<path d="M265.2 329h-3M265.2 347h-3M265.2 364h-3M265.2 378.3h-3M265.2 341.58h-1.4M265.2 338.41h-1.4M265.2 336.16h-1.4M265.2 334.42h-1.4M265.2 332.99h-1.4M265.2 331.79h-1.4M265.2 330.74h-1.4M265.2 329.82h-1.4M265.2 358.88h-1.4M265.2 355.89h-1.4M265.2 353.76h-1.4M265.2 352.12h-1.4M265.2 350.77h-1.4M265.2 349.63h-1.4M265.2 348.65h-1.4M265.2 347.78h-1.4M265.2 374.00h-1.4M265.2 371.48h-1.4M265.2 369.69h-1.4M265.2 368.30h-1.4M265.2 367.17h-1.4M265.2 366.22h-1.4M265.2 365.39h-1.4M265.2 364.65h-1.4" fill="none" stroke="#111" stroke-width="1.1"/>
<text x="272.8" y="402.0" font-size="5.6" font-weight="normal" text-anchor="start" fill="#000">10</text>
<text x="278.8" y="398.2" font-size="4.0" font-weight="normal" text-anchor="start" fill="#000">2</text>
<text x="294.3" y="402.0" font-size="5.6" font-weight="normal" text-anchor="start" fill="#000">10</text>
<text x="300.3" y="398.2" font-size="4.0" font-weight="normal" text-anchor="start" fill="#000">3</text>
<text x="316.3" y="402.0" font-size="5.6" font-weight="normal" text-anchor="start" fill="#000">10</text>
<text x="322.3" y="398.2" font-size="4.0" font-weight="normal" text-anchor="start" fill="#000">4</text>
<text x="337.0" y="402.0" font-size="5.6" font-weight="normal" text-anchor="start" fill="#000">10</text>
<text x="343.0" y="398.2" font-size="4.0" font-weight="normal" text-anchor="start" fill="#000">5</text>
<text x="260.0" y="334.2" font-size="5.6" font-weight="normal" text-anchor="start" fill="#000" transform="rotate(-90 260.0 334.2)">10</text>
<text x="256.4" y="328.1" font-size="4.0" font-weight="normal" text-anchor="start" fill="#000" transform="rotate(-90 256.4 328.1)">5</text>
<text x="260.0" y="352.2" font-size="5.6" font-weight="normal" text-anchor="start" fill="#000" transform="rotate(-90 260.0 352.2)">10</text>
<text x="256.4" y="346.1" font-size="4.0" font-weight="normal" text-anchor="start" fill="#000" transform="rotate(-90 256.4 346.1)">4</text>
<text x="260.0" y="369.2" font-size="5.6" font-weight="normal" text-anchor="start" fill="#000" transform="rotate(-90 260.0 369.2)">10</text>
<text x="256.4" y="363.1" font-size="4.0" font-weight="normal" text-anchor="start" fill="#000" transform="rotate(-90 256.4 363.1)">3</text>
<text x="260.0" y="383.5" font-size="5.6" font-weight="normal" text-anchor="start" fill="#000" transform="rotate(-90 260.0 383.5)">10</text>
<text x="256.4" y="377.40000000000003" font-size="4.0" font-weight="normal" text-anchor="start" fill="#000" transform="rotate(-90 256.4 377.40000000000003)">2</text>
<text x="201.1" y="320.2" font-size="6.8" font-weight="bold" text-anchor="start" fill="#000" textLength="17.6" lengthAdjust="spacingAndGlyphs">Mock</text>
<text x="303.0" y="319.9" font-size="6.8" font-weight="bold" text-anchor="start" fill="#000" textLength="14.7" lengthAdjust="spacingAndGlyphs">MN1</text>
<text x="167.9" y="351.1" font-size="6.2" font-weight="bold" text-anchor="start" fill="#000" textLength="21.2" lengthAdjust="spacingAndGlyphs">Healthy</text>
<text x="167.9" y="358.1" font-size="6.2" font-weight="bold" text-anchor="start" fill="#000" textLength="12.2" lengthAdjust="spacingAndGlyphs">55%</text>
<text x="236.0" y="328.2" font-size="6.2" font-weight="bold" text-anchor="start" fill="#000" textLength="14.7" lengthAdjust="spacingAndGlyphs">Dead</text>
<text x="242.2" y="334.9" font-size="6.2" font-weight="bold" text-anchor="start" fill="#000" textLength="8.5" lengthAdjust="spacingAndGlyphs">4%</text>
<text x="201.6" y="388.6" font-size="6.2" font-weight="bold" text-anchor="start" fill="#000" textLength="31" lengthAdjust="spacingAndGlyphs">Early Apop.</text>
<text x="239.0" y="388.6" font-size="6.2" font-weight="bold" text-anchor="start" fill="#000" textLength="11.7" lengthAdjust="spacingAndGlyphs">41%</text>
<text x="267.9" y="351.1" font-size="6.2" font-weight="bold" text-anchor="start" fill="#000" textLength="20.7" lengthAdjust="spacingAndGlyphs">Healthy</text>
<text x="267.9" y="358.1" font-size="6.2" font-weight="bold" text-anchor="start" fill="#000" textLength="11.1" lengthAdjust="spacingAndGlyphs">89%</text>
<text x="335.3" y="328.2" font-size="6.2" font-weight="bold" text-anchor="start" fill="#000" textLength="14.2" lengthAdjust="spacingAndGlyphs">Dead</text>
<text x="341.7" y="335.5" font-size="6.2" font-weight="bold" text-anchor="start" fill="#000" textLength="7.5" lengthAdjust="spacingAndGlyphs">1%</text>
<text x="301.2" y="388.8" font-size="6.2" font-weight="bold" text-anchor="start" fill="#000" textLength="31.5" lengthAdjust="spacingAndGlyphs">Early Apop.</text>
<text x="337.3" y="388.8" font-size="6.2" font-weight="bold" text-anchor="start" fill="#000" textLength="11" lengthAdjust="spacingAndGlyphs">10%</text>
<text x="150.0" y="363.0" font-size="7.4" font-weight="bold" text-anchor="start" fill="#000" textLength="6.4" lengthAdjust="spacingAndGlyphs" transform="rotate(-90 150.0 363.0)">PI</text>
<line x1="152.7" y1="391.0" x2="152.7" y2="329.0" stroke="#000" stroke-width="0.8"/>
<path d="M152.7 325.5L151.3 330H154.1Z" fill="#000" stroke="none" stroke-width="1"/>
<line x1="168.8" y1="404.9" x2="348" y2="404.9" stroke="#000" stroke-width="0.8"/>
<path d="M351.8 404.9L347 403.2V406.6Z" fill="#000" stroke="none" stroke-width="1"/>
<text x="229.8" y="412.8" font-size="7.4" font-weight="bold" text-anchor="start" fill="#000" textLength="52.0" lengthAdjust="spacingAndGlyphs">AnnexinV-APC</text>
<text x="360.5" y="309.6" font-size="11.6" font-weight="bold" text-anchor="start" fill="#000" stroke="#000" stroke-width="0.35">H</text>
<line x1="384.8" y1="309.7" x2="384.8" y2="395.0" stroke="#000" stroke-width="1.0"/>
<line x1="384.8" y1="395.0" x2="516" y2="395.0" stroke="#000" stroke-width="1.0"/>
<line x1="384.8" y1="395" x2="384.8" y2="397" stroke="#000" stroke-width="0.9"/>
<text x="384.8" y="403.8" font-size="6.6" font-weight="normal" text-anchor="middle" fill="#000">0</text>
<line x1="401.02500000000003" y1="395" x2="401.02500000000003" y2="397" stroke="#000" stroke-width="0.9"/>
<text x="401.02500000000003" y="403.8" font-size="6.6" font-weight="normal" text-anchor="middle" fill="#000">10</text>
<line x1="417.25" y1="395" x2="417.25" y2="397" stroke="#000" stroke-width="0.9"/>
<text x="417.25" y="403.8" font-size="6.6" font-weight="normal" text-anchor="middle" fill="#000">20</text>
<line x1="433.475" y1="395" x2="433.475" y2="397" stroke="#000" stroke-width="0.9"/>
<text x="433.475" y="403.8" font-size="6.6" font-weight="normal" text-anchor="middle" fill="#000">30</text>
<line x1="449.70000000000005" y1="395" x2="449.70000000000005" y2="397" stroke="#000" stroke-width="0.9"/>
<text x="449.70000000000005" y="403.8" font-size="6.6" font-weight="normal" text-anchor="middle" fill="#000">40</text>
<line x1="465.925" y1="395" x2="465.925" y2="397" stroke="#000" stroke-width="0.9"/>
<text x="465.925" y="403.8" font-size="6.6" font-weight="normal" text-anchor="middle" fill="#000">50</text>
<line x1="482.15000000000003" y1="395" x2="482.15000000000003" y2="397" stroke="#000" stroke-width="0.9"/>
<text x="482.15000000000003" y="403.8" font-size="6.6" font-weight="normal" text-anchor="middle" fill="#000">60</text>
<line x1="498.375" y1="395" x2="498.375" y2="397" stroke="#000" stroke-width="0.9"/>
<text x="498.375" y="403.8" font-size="6.6" font-weight="normal" text-anchor="middle" fill="#000">70</text>
<line x1="514.6" y1="395" x2="514.6" y2="397" stroke="#000" stroke-width="0.9"/>
<text x="514.6" y="403.8" font-size="6.6" font-weight="normal" text-anchor="middle" fill="#000">80</text>
<rect x="384.8" y="316.2" width="6.490000000000009" height="7.300000000000011" fill="#ccf2c8" stroke="#2f9a3a" stroke-width="1.1"/>
<line x1="383.0" y1="319.85" x2="384.8" y2="319.85" stroke="#000" stroke-width="0.9"/>
<text x="381.0" y="322.15000000000003" font-size="6.6" font-weight="normal" text-anchor="end" fill="#000" textLength="16.2" lengthAdjust="spacingAndGlyphs">G2/M</text>
<rect x="384.8" y="328.0" width="28.39375000000001" height="7.300000000000011" fill="#ccf2c8" stroke="#2f9a3a" stroke-width="1.1"/>
<line x1="383.0" y1="331.65" x2="384.8" y2="331.65" stroke="#000" stroke-width="0.9"/>
<text x="381.0" y="333.95" font-size="6.6" font-weight="normal" text-anchor="end" fill="#000" textLength="4.4" lengthAdjust="spacingAndGlyphs">S</text>
<rect x="384.8" y="339.2" width="128.98875000000004" height="8.199999999999989" fill="#ccf2c8" stroke="#2f9a3a" stroke-width="1.1"/>
<line x1="383.0" y1="343.29999999999995" x2="384.8" y2="343.29999999999995" stroke="#000" stroke-width="0.9"/>
<text x="381.0" y="345.59999999999997" font-size="6.6" font-weight="normal" text-anchor="end" fill="#000" textLength="18.6" lengthAdjust="spacingAndGlyphs">G0/G1</text>
<rect x="384.8" y="358.2" width="9.735000000000014" height="8.0" fill="#fbdada" stroke="#e04a4a" stroke-width="1.1"/>
<line x1="383.0" y1="362.2" x2="384.8" y2="362.2" stroke="#000" stroke-width="0.9"/>
<text x="381.0" y="364.5" font-size="6.6" font-weight="normal" text-anchor="end" fill="#000" textLength="16.2" lengthAdjust="spacingAndGlyphs">G2/M</text>
<rect x="384.8" y="370.0" width="55.16500000000002" height="8.0" fill="#fbdada" stroke="#e04a4a" stroke-width="1.1"/>
<line x1="383.0" y1="374.0" x2="384.8" y2="374.0" stroke="#000" stroke-width="0.9"/>
<text x="381.0" y="376.3" font-size="6.6" font-weight="normal" text-anchor="end" fill="#000" textLength="4.4" lengthAdjust="spacingAndGlyphs">S</text>
<rect x="384.8" y="381.8" width="97.35000000000002" height="7.899999999999977" fill="#fbdada" stroke="#e04a4a" stroke-width="1.1"/>
<line x1="383.0" y1="385.75" x2="384.8" y2="385.75" stroke="#000" stroke-width="0.9"/>
<text x="381.0" y="388.05" font-size="6.6" font-weight="normal" text-anchor="end" fill="#000" textLength="18.6" lengthAdjust="spacingAndGlyphs">G0/G1</text>
<line x1="413.19375" y1="329.6" x2="413.19375" y2="333.6" stroke="#000" stroke-width="0.8"/>
<line x1="413.19375" y1="329.6" x2="413.19375" y2="329.6" stroke="#000" stroke-width="0.8"/>
<line x1="413.19375" y1="333.6" x2="413.19375" y2="333.6" stroke="#000" stroke-width="0.8"/>
<line x1="411.57125" y1="331.6" x2="414.9785" y2="331.6" stroke="#000" stroke-width="0.8"/>
<line x1="513.78875" y1="341" x2="513.78875" y2="345.6" stroke="#000" stroke-width="1.2"/>
<line x1="394.535" y1="360" x2="394.535" y2="364.4" stroke="#000" stroke-width="1.1"/>
<line x1="482.15000000000003" y1="383.6" x2="482.15000000000003" y2="388" stroke="#000" stroke-width="1.1"/>
<rect x="476.6" y="307.4" width="13.099999999999966" height="5.800000000000011" fill="#ccf2c8" stroke="#2f9a3a" stroke-width="1.1"/>
<rect x="476.6" y="315.6" width="13.099999999999966" height="5.599999999999966" fill="#fbdada" stroke="#e04a4a" stroke-width="1.1"/>
<text x="490.9" y="312.9" font-size="7.4" font-weight="normal" text-anchor="start" fill="#000" textLength="16.6" lengthAdjust="spacingAndGlyphs">Mock</text>
<text x="490.9" y="321.3" font-size="7.4" font-weight="normal" text-anchor="start" fill="#000" textLength="14.5" lengthAdjust="spacingAndGlyphs">MN1</text>
<text x="444.0" y="415.0" font-size="6.8" font-weight="bold" text-anchor="start" fill="#000" textLength="11" lengthAdjust="spacingAndGlyphs">(%)</text>
</svg>
</body></html>
